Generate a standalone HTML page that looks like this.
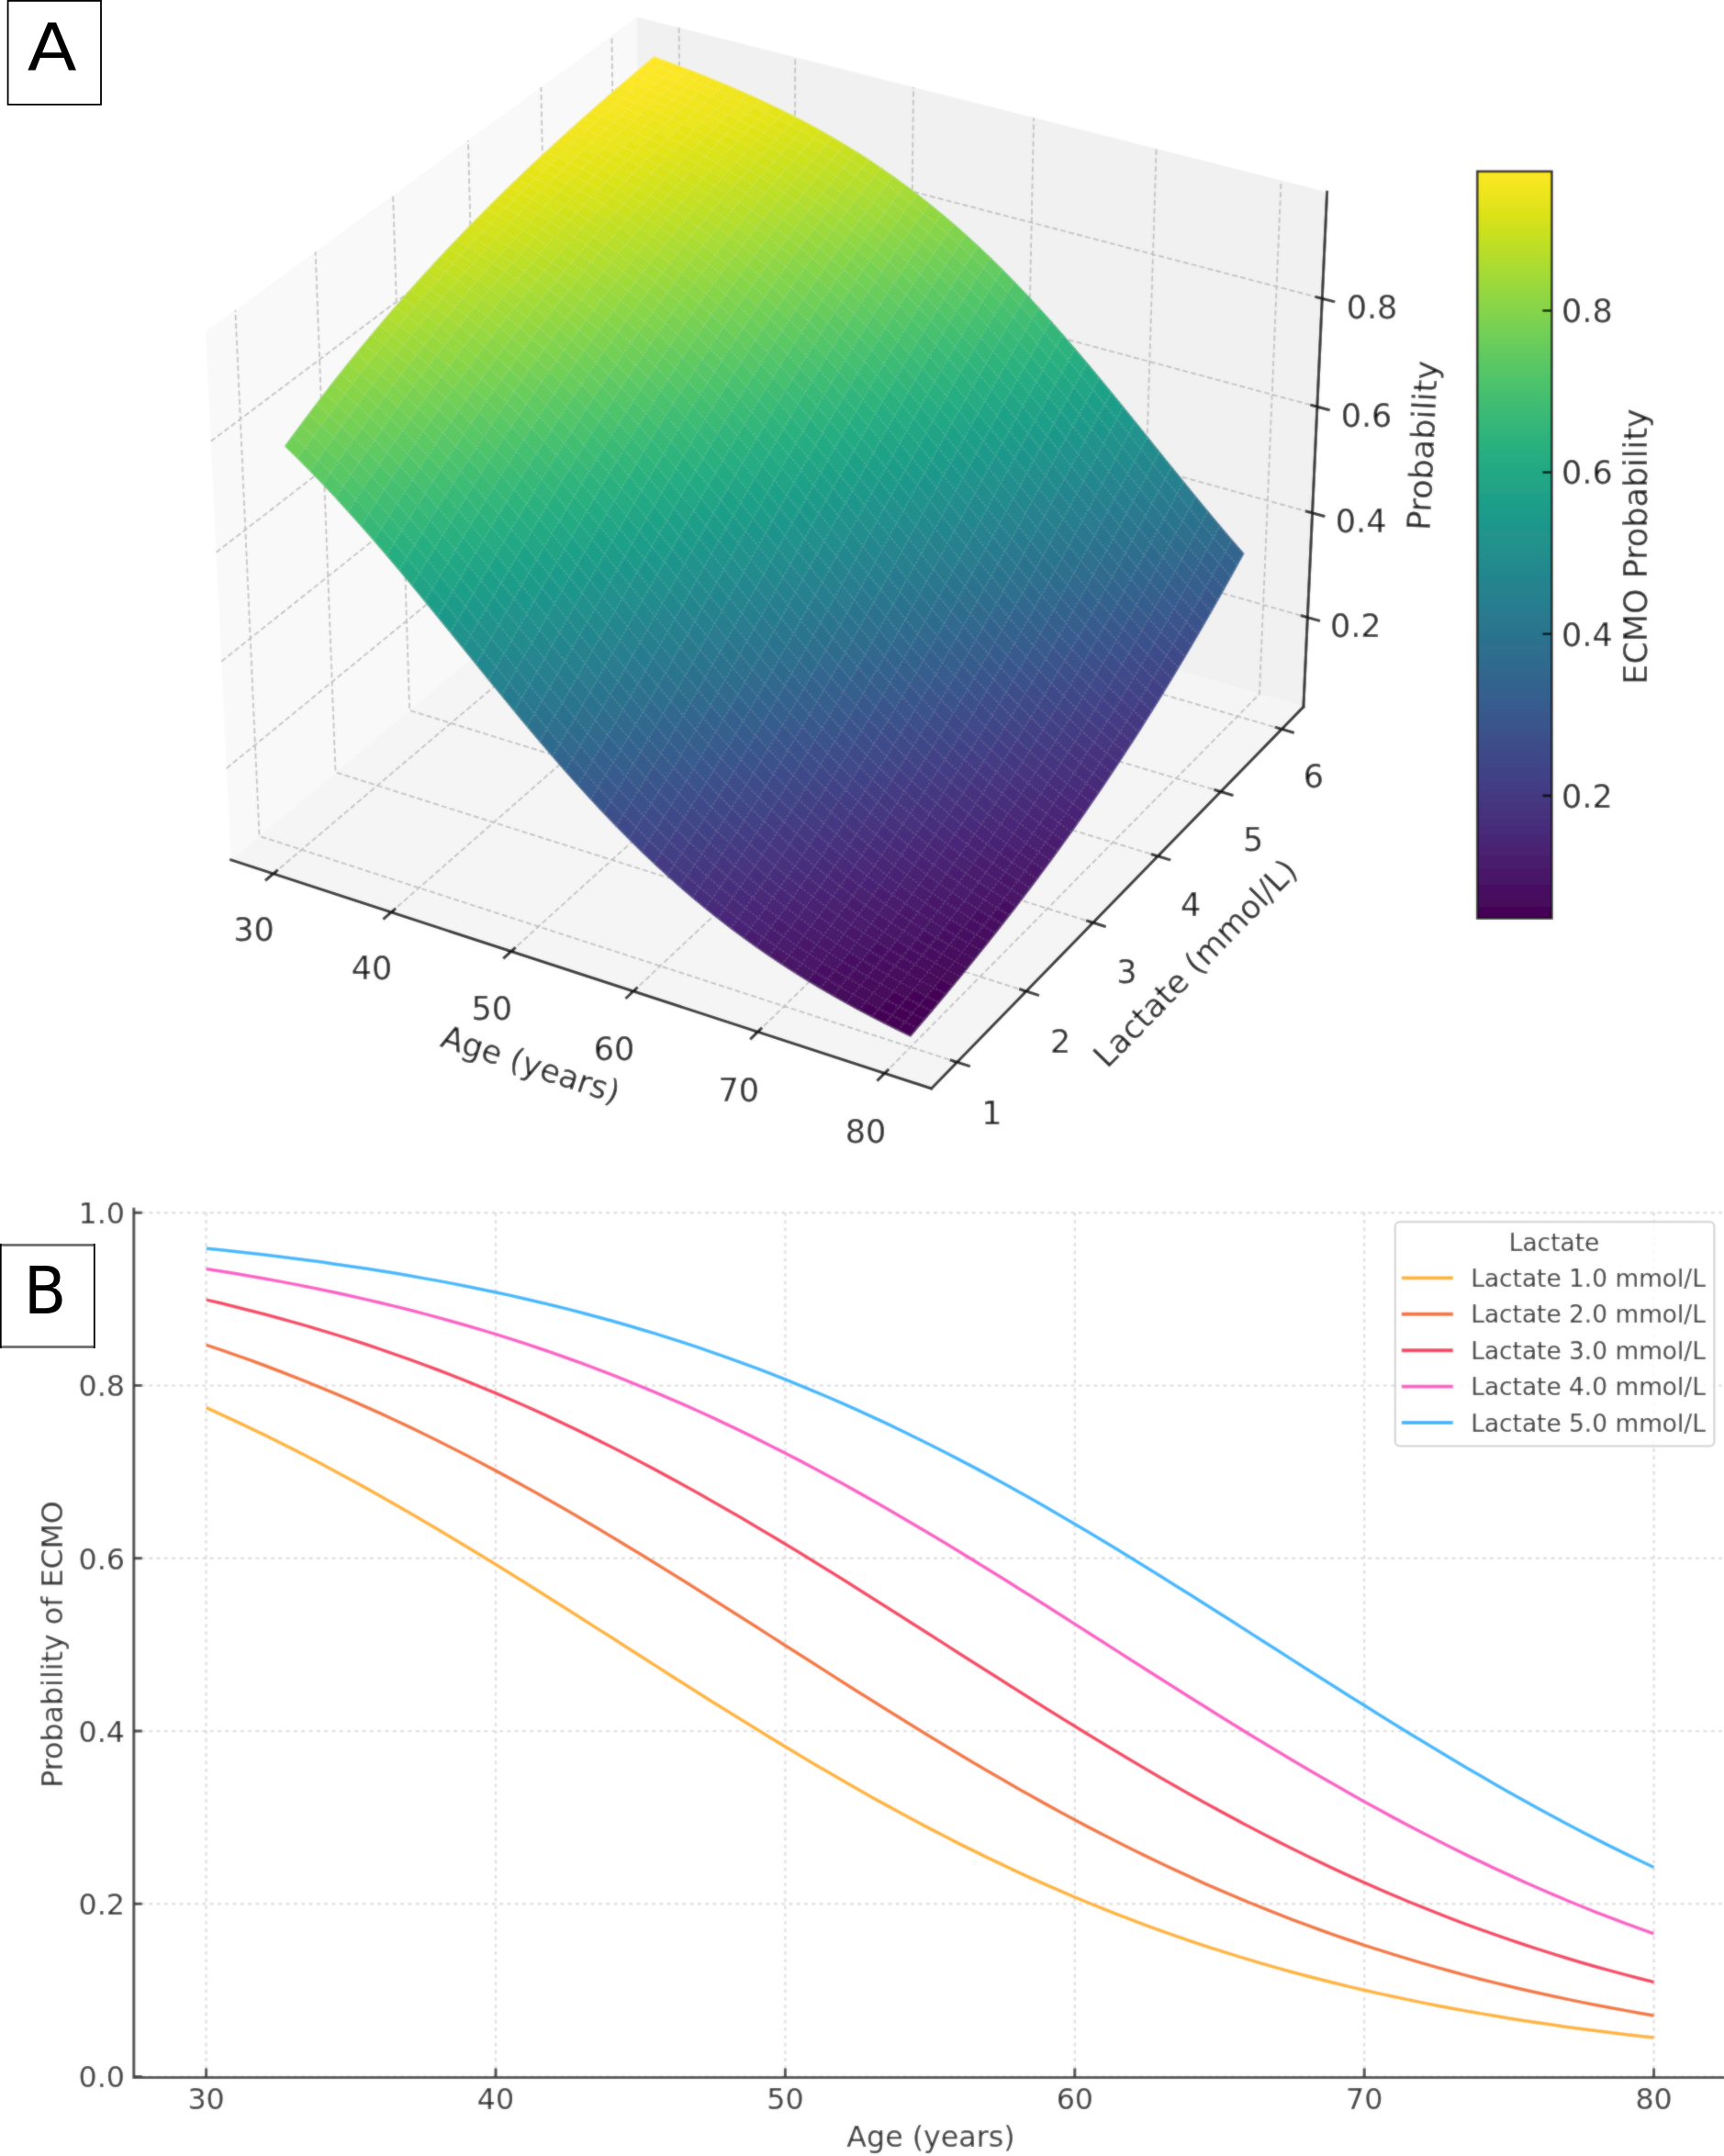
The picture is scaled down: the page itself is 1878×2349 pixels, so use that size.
<!DOCTYPE html>
<html><head><meta charset="utf-8"><title>ECMO probability figure</title>
<style>html,body{margin:0;padding:0;background:#fff}svg{display:block}text{font-family:"DejaVu Sans","Liberation Sans",sans-serif}</style>
</head><body>
<svg width="1878" height="2349" viewBox="0 0 1878 2349">
<defs><filter id="bl" filterUnits="userSpaceOnUse" x="-20" y="-20" width="1918" height="2389"><feGaussianBlur stdDeviation="1.1" result="b"/><feComposite in="SourceGraphic" in2="b" operator="arithmetic" k1="0" k2="0.5" k3="0.5" k4="0"/></filter><linearGradient id="vg" x1="0" y1="0" x2="0" y2="1"><stop offset="0.0000" stop-color="#fde725"/><stop offset="0.0312" stop-color="#ece51b"/><stop offset="0.0625" stop-color="#d8e219"/><stop offset="0.0938" stop-color="#c2df23"/><stop offset="0.1250" stop-color="#addc30"/><stop offset="0.1562" stop-color="#98d83e"/><stop offset="0.1875" stop-color="#84d44b"/><stop offset="0.2188" stop-color="#70cf57"/><stop offset="0.2500" stop-color="#5ec962"/><stop offset="0.2812" stop-color="#4ec36b"/><stop offset="0.3125" stop-color="#3fbc73"/><stop offset="0.3438" stop-color="#32b67a"/><stop offset="0.3750" stop-color="#28ae80"/><stop offset="0.4062" stop-color="#22a785"/><stop offset="0.4375" stop-color="#1fa088"/><stop offset="0.4688" stop-color="#1f988b"/><stop offset="0.5000" stop-color="#21918c"/><stop offset="0.5312" stop-color="#23898e"/><stop offset="0.5625" stop-color="#26828e"/><stop offset="0.5938" stop-color="#297a8e"/><stop offset="0.6250" stop-color="#2c728e"/><stop offset="0.6562" stop-color="#2f6b8e"/><stop offset="0.6875" stop-color="#33638d"/><stop offset="0.7188" stop-color="#375b8d"/><stop offset="0.7500" stop-color="#3b528b"/><stop offset="0.7812" stop-color="#3e4989"/><stop offset="0.8125" stop-color="#424086"/><stop offset="0.8438" stop-color="#453781"/><stop offset="0.8750" stop-color="#472d7b"/><stop offset="0.9062" stop-color="#482374"/><stop offset="0.9375" stop-color="#48186a"/><stop offset="0.9688" stop-color="#470d60"/><stop offset="1.0000" stop-color="#440154"/></linearGradient></defs>
<g filter="url(#bl)">
<rect x="-20" y="-20" width="1918" height="2389" fill="#fff"/>
<g id="panelA">
<polygon points="251.6,936.9 700.2,560.9 693.9,18.6 223.9,361.6" fill="#f9f9f9"/>
<polygon points="700.2,560.9 1419.9,770.1 1445.6,209.2 693.9,18.6" fill="#f1f1f1"/>
<polygon points="251.6,936.9 1014.6,1186 1419.9,770.1 700.2,560.9" fill="#f5f5f5"/>
<path d="M297.8 951.9L743.9 573.6L739.6 30.2M426.1 993.9L865.4 608.9L866.2 62.3M556.8 1036.5L988.8 644.8L995 95M689.9 1080L1114.4 681.3L1126.1 128.2M825.5 1124.3L1242.1 718.4L1259.6 162M963.6 1169.4L1372 756.1L1395.5 196.5M1042.6 1157.3L282.5 910.9L256.4 337.9M1117.9 1080L365.5 841.4L343.6 274.3M1190.8 1005.3L446.1 773.9L428.1 212.6M1261.4 932.8L524.2 708.3L510 152.9M1329.8 862.5L600.1 644.7L589.4 94.9M1396.2 794.4L673.8 583L666.4 38.7M246.8 837.1L699.1 466.5L1424.4 672.7M241.2 720.6L697.8 356.5L1429.6 558.9M235.5 601.8L696.5 244.5L1434.9 443.1M229.7 480.8L695.2 130.6L1440.3 325.2" fill="none" stroke="#bcbcbc" stroke-width="1.7" stroke-dasharray="6 3.2"/>
<g stroke-width="0.8" stroke-linejoin="round"><path d="M704.6 68.2L717.5 72.9L725.2 66.4L712.3 61.8z" fill="#fde725" stroke="#fde725"/><path d="M717.5 72.9L730.4 77.8L738.1 71.2L725.2 66.4z" fill="#fde725" stroke="#fde725"/><path d="M696.9 74.7L709.8 79.5L717.5 72.9L704.6 68.2z" fill="#fde725" stroke="#fde725"/><path d="M730.4 77.8L743.3 82.8L751 76.1L738.1 71.2z" fill="#fbe723" stroke="#fbe723"/><path d="M709.8 79.5L722.7 84.5L730.4 77.8L717.5 72.9z" fill="#fbe723" stroke="#fbe723"/><path d="M743.3 82.8L756.3 87.9L763.9 81.1L751 76.1z" fill="#f8e621" stroke="#f8e621"/><path d="M689.2 81.3L702.1 86.2L709.8 79.5L696.9 74.7z" fill="#fde725" stroke="#fde725"/><path d="M722.7 84.5L735.7 89.5L743.3 82.8L730.4 77.8z" fill="#fbe723" stroke="#fbe723"/><path d="M756.3 87.9L769.2 93.2L776.9 86.4L763.9 81.1z" fill="#f6e620" stroke="#f6e620"/><path d="M702.1 86.2L715 91.2L722.7 84.5L709.8 79.5z" fill="#fbe723" stroke="#fbe723"/><path d="M735.7 89.5L748.6 94.8L756.3 87.9L743.3 82.8z" fill="#f8e621" stroke="#f8e621"/><path d="M769.2 93.2L782.2 98.7L789.8 91.7L776.9 86.4z" fill="#f4e61e" stroke="#f4e61e"/><path d="M681.4 87.9L694.3 92.9L702.1 86.2L689.2 81.3z" fill="#fbe723" stroke="#fbe723"/><path d="M715 91.2L728 96.4L735.7 89.5L722.7 84.5z" fill="#f8e621" stroke="#f8e621"/><path d="M748.6 94.8L761.6 100.2L769.2 93.2L756.3 87.9z" fill="#f6e620" stroke="#f6e620"/><path d="M782.2 98.7L795.2 104.4L802.8 97.3L789.8 91.7z" fill="#f1e51d" stroke="#f1e51d"/><path d="M694.3 92.9L707.3 98L715 91.2L702.1 86.2z" fill="#fbe723" stroke="#fbe723"/><path d="M795.2 104.4L808.3 110.2L815.8 103L802.8 97.3z" fill="#efe51c" stroke="#efe51c"/><path d="M728 96.4L740.9 101.7L748.6 94.8L735.7 89.5z" fill="#f6e620" stroke="#f6e620"/><path d="M761.6 100.2L774.6 105.8L782.2 98.7L769.2 93.2z" fill="#f4e61e" stroke="#f4e61e"/><path d="M673.6 94.6L686.6 99.6L694.3 92.9L681.4 87.9z" fill="#fbe723" stroke="#fbe723"/><path d="M808.3 110.2L821.3 116.3L828.9 108.9L815.8 103z" fill="#ece51b" stroke="#ece51b"/><path d="M707.3 98L720.2 103.3L728 96.4L715 91.2z" fill="#f8e621" stroke="#f8e621"/><path d="M774.6 105.8L787.6 111.6L795.2 104.4L782.2 98.7z" fill="#f1e51d" stroke="#f1e51d"/><path d="M740.9 101.7L753.9 107.2L761.6 100.2L748.6 94.8z" fill="#f4e61e" stroke="#f4e61e"/><path d="M821.3 116.3L834.4 122.6L841.9 115.1L828.9 108.9z" fill="#eae51a" stroke="#eae51a"/><path d="M686.6 99.6L699.5 104.8L707.3 98L694.3 92.9z" fill="#f8e621" stroke="#f8e621"/><path d="M787.6 111.6L800.7 117.5L808.3 110.2L795.2 104.4z" fill="#efe51c" stroke="#efe51c"/><path d="M720.2 103.3L733.2 108.7L740.9 101.7L728 96.4z" fill="#f6e620" stroke="#f6e620"/><path d="M753.9 107.2L766.9 112.9L774.6 105.8L761.6 100.2z" fill="#f1e51d" stroke="#f1e51d"/><path d="M834.4 122.6L847.4 129.1L855 121.5L841.9 115.1z" fill="#e5e419" stroke="#e5e419"/><path d="M800.7 117.5L813.7 123.7L821.3 116.3L808.3 110.2z" fill="#eae51a" stroke="#eae51a"/><path d="M665.8 101.3L678.8 106.5L686.6 99.6L673.6 94.6z" fill="#f8e621" stroke="#f8e621"/><path d="M766.9 112.9L780 118.8L787.6 111.6L774.6 105.8z" fill="#efe51c" stroke="#efe51c"/><path d="M699.5 104.8L712.5 110.2L720.2 103.3L707.3 98z" fill="#f6e620" stroke="#f6e620"/><path d="M733.2 108.7L746.2 114.3L753.9 107.2L740.9 101.7z" fill="#f4e61e" stroke="#f4e61e"/><path d="M847.4 129.1L860.5 135.9L868.1 128.1L855 121.5z" fill="#e2e418" stroke="#e2e418"/><path d="M813.7 123.7L826.8 130.2L834.4 122.6L821.3 116.3z" fill="#e7e419" stroke="#e7e419"/><path d="M780 118.8L793 124.9L800.7 117.5L787.6 111.6z" fill="#ece51b" stroke="#ece51b"/><path d="M678.8 106.5L691.8 111.8L699.5 104.8L686.6 99.6z" fill="#f8e621" stroke="#f8e621"/><path d="M746.2 114.3L759.3 120.2L766.9 112.9L753.9 107.2z" fill="#f1e51d" stroke="#f1e51d"/><path d="M712.5 110.2L725.5 115.8L733.2 108.7L720.2 103.3z" fill="#f4e61e" stroke="#f4e61e"/><path d="M860.5 135.9L873.6 143L881.2 135L868.1 128.1z" fill="#dde318" stroke="#dde318"/><path d="M826.8 130.2L839.9 136.9L847.4 129.1L834.4 122.6z" fill="#e5e419" stroke="#e5e419"/><path d="M793 124.9L806.1 131.3L813.7 123.7L800.7 117.5z" fill="#eae51a" stroke="#eae51a"/><path d="M759.3 120.2L772.3 126.2L780 118.8L766.9 112.9z" fill="#efe51c" stroke="#efe51c"/><path d="M658 108.1L671 113.4L678.8 106.5L665.8 101.3z" fill="#f8e621" stroke="#f8e621"/><path d="M725.5 115.8L738.5 121.5L746.2 114.3L733.2 108.7z" fill="#f1e51d" stroke="#f1e51d"/><path d="M691.8 111.8L704.7 117.3L712.5 110.2L699.5 104.8z" fill="#f6e620" stroke="#f6e620"/><path d="M873.6 143L886.8 150.4L894.3 142.2L881.2 135z" fill="#dae319" stroke="#dae319"/><path d="M839.9 136.9L853 143.8L860.5 135.9L847.4 129.1z" fill="#dfe318" stroke="#dfe318"/><path d="M806.1 131.3L819.2 137.9L826.8 130.2L813.7 123.7z" fill="#e5e419" stroke="#e5e419"/><path d="M772.3 126.2L785.4 132.4L793 124.9L780 118.8z" fill="#eae51a" stroke="#eae51a"/><path d="M738.5 121.5L751.6 127.5L759.3 120.2L746.2 114.3z" fill="#efe51c" stroke="#efe51c"/><path d="M671 113.4L684 118.8L691.8 111.8L678.8 106.5z" fill="#f6e620" stroke="#f6e620"/><path d="M704.7 117.3L717.8 122.9L725.5 115.8L712.5 110.2z" fill="#f4e61e" stroke="#f4e61e"/><path d="M886.8 150.4L899.9 158L907.4 149.7L894.3 142.2z" fill="#d5e21a" stroke="#d5e21a"/><path d="M853 143.8L866.1 151.1L873.6 143L860.5 135.9z" fill="#dae319" stroke="#dae319"/><path d="M819.2 137.9L832.3 144.7L839.9 136.9L826.8 130.2z" fill="#e2e418" stroke="#e2e418"/><path d="M785.4 132.4L798.5 138.9L806.1 131.3L793 124.9z" fill="#e7e419" stroke="#e7e419"/><path d="M751.6 127.5L764.6 133.6L772.3 126.2L759.3 120.2z" fill="#ece51b" stroke="#ece51b"/><path d="M899.9 158L913.1 166L920.5 157.5L907.4 149.7z" fill="#d0e11c" stroke="#d0e11c"/><path d="M650.1 115L663.1 120.3L671 113.4L658 108.1z" fill="#f6e620" stroke="#f6e620"/><path d="M717.8 122.9L730.8 128.8L738.5 121.5L725.5 115.8z" fill="#f1e51d" stroke="#f1e51d"/><path d="M684 118.8L697 124.4L704.7 117.3L691.8 111.8z" fill="#f4e61e" stroke="#f4e61e"/><path d="M866.1 151.1L879.2 158.6L886.8 150.4L873.6 143z" fill="#d5e21a" stroke="#d5e21a"/><path d="M832.3 144.7L845.4 151.8L853 143.8L839.9 136.9z" fill="#dde318" stroke="#dde318"/><path d="M913.1 166L926.2 174.3L933.7 165.6L920.5 157.5z" fill="#c8e020" stroke="#c8e020"/><path d="M798.5 138.9L811.6 145.6L819.2 137.9L806.1 131.3z" fill="#e2e418" stroke="#e2e418"/><path d="M764.6 133.6L777.7 140L785.4 132.4L772.3 126.2z" fill="#eae51a" stroke="#eae51a"/><path d="M730.8 128.8L743.8 134.9L751.6 127.5L738.5 121.5z" fill="#ece51b" stroke="#ece51b"/><path d="M697 124.4L710 130.1L717.8 122.9L704.7 117.3z" fill="#f1e51d" stroke="#f1e51d"/><path d="M663.1 120.3L676.1 125.9L684 118.8L671 113.4z" fill="#f6e620" stroke="#f6e620"/><path d="M879.2 158.6L892.4 166.4L899.9 158L886.8 150.4z" fill="#d2e21b" stroke="#d2e21b"/><path d="M845.4 151.8L858.5 159.2L866.1 151.1L853 143.8z" fill="#d8e219" stroke="#d8e219"/><path d="M926.2 174.3L939.4 183L946.9 174.1L933.7 165.6z" fill="#c2df23" stroke="#c2df23"/><path d="M811.6 145.6L824.7 152.7L832.3 144.7L819.2 137.9z" fill="#dfe318" stroke="#dfe318"/><path d="M777.7 140L790.8 146.6L798.5 138.9L785.4 132.4z" fill="#e5e419" stroke="#e5e419"/><path d="M892.4 166.4L905.6 174.6L913.1 166L899.9 158z" fill="#cae11f" stroke="#cae11f"/><path d="M743.8 134.9L756.9 141.1L764.6 133.6L751.6 127.5z" fill="#eae51a" stroke="#eae51a"/><path d="M710 130.1L723 136.1L730.8 128.8L717.8 122.9z" fill="#efe51c" stroke="#efe51c"/><path d="M642.3 121.9L655.3 127.4L663.1 120.3L650.1 115z" fill="#f6e620" stroke="#f6e620"/><path d="M676.1 125.9L689.2 131.6L697 124.4L684 118.8z" fill="#f4e61e" stroke="#f4e61e"/><path d="M939.4 183L952.6 192L960 182.9L946.9 174.1z" fill="#bddf26" stroke="#bddf26"/><path d="M858.5 159.2L871.7 167L879.2 158.6L866.1 151.1z" fill="#d2e21b" stroke="#d2e21b"/><path d="M824.7 152.7L837.8 159.9L845.4 151.8L832.3 144.7z" fill="#dae319" stroke="#dae319"/><path d="M905.6 174.6L918.7 183.1L926.2 174.3L913.1 166z" fill="#c5e021" stroke="#c5e021"/><path d="M790.8 146.6L803.9 153.5L811.6 145.6L798.5 138.9z" fill="#e2e418" stroke="#e2e418"/><path d="M952.6 192L965.8 201.4L973.2 192.1L960 182.9z" fill="#b5de2b" stroke="#b5de2b"/><path d="M756.9 141.1L770 147.7L777.7 140L764.6 133.6z" fill="#e7e419" stroke="#e7e419"/><path d="M723 136.1L736.1 142.3L743.8 134.9L730.8 128.8z" fill="#ece51b" stroke="#ece51b"/><path d="M871.7 167L884.9 175L892.4 166.4L879.2 158.6z" fill="#cde11d" stroke="#cde11d"/><path d="M689.2 131.6L702.2 137.5L710 130.1L697 124.4z" fill="#efe51c" stroke="#efe51c"/><path d="M655.3 127.4L668.3 133L676.1 125.9L663.1 120.3z" fill="#f4e61e" stroke="#f4e61e"/><path d="M918.7 183.1L931.9 192L939.4 183L926.2 174.3z" fill="#c0df25" stroke="#c0df25"/><path d="M837.8 159.9L851 167.5L858.5 159.2L845.4 151.8z" fill="#d5e21a" stroke="#d5e21a"/><path d="M965.8 201.4L979 211.3L986.4 201.7L973.2 192.1z" fill="#addc30" stroke="#addc30"/><path d="M803.9 153.5L817.1 160.7L824.7 152.7L811.6 145.6z" fill="#dde318" stroke="#dde318"/><path d="M884.9 175L898 183.4L905.6 174.6L892.4 166.4z" fill="#c8e020" stroke="#c8e020"/><path d="M770 147.7L783.1 154.5L790.8 146.6L777.7 140z" fill="#e2e418" stroke="#e2e418"/><path d="M736.1 142.3L749.2 148.8L756.9 141.1L743.8 134.9z" fill="#e7e419" stroke="#e7e419"/><path d="M979 211.3L992.2 221.5L999.6 211.7L986.4 201.7z" fill="#a5db36" stroke="#a5db36"/><path d="M931.9 192L945.1 201.3L952.6 192L939.4 183z" fill="#b8de29" stroke="#b8de29"/><path d="M702.2 137.5L715.3 143.6L723 136.1L710 130.1z" fill="#ece51b" stroke="#ece51b"/><path d="M668.3 133L681.3 138.8L689.2 131.6L676.1 125.9z" fill="#f1e51d" stroke="#f1e51d"/><path d="M634.4 128.9L647.4 134.5L655.3 127.4L642.3 121.9z" fill="#f4e61e" stroke="#f4e61e"/><path d="M851 167.5L864.1 175.4L871.7 167L858.5 159.2z" fill="#d0e11c" stroke="#d0e11c"/><path d="M817.1 160.7L830.2 168.2L837.8 159.9L824.7 152.7z" fill="#d8e219" stroke="#d8e219"/><path d="M992.2 221.5L1005.4 232.1L1012.8 222.1L999.6 211.7z" fill="#9dd93b" stroke="#9dd93b"/><path d="M898 183.4L911.2 192.1L918.7 183.1L905.6 174.6z" fill="#c2df23" stroke="#c2df23"/><path d="M945.1 201.3L958.3 210.9L965.8 201.4L952.6 192z" fill="#b0dd2f" stroke="#b0dd2f"/><path d="M783.1 154.5L796.3 161.5L803.9 153.5L790.8 146.6z" fill="#dfe318" stroke="#dfe318"/><path d="M749.2 148.8L762.3 155.5L770 147.7L756.9 141.1z" fill="#e5e419" stroke="#e5e419"/><path d="M864.1 175.4L877.3 183.7L884.9 175L871.7 167z" fill="#cae11f" stroke="#cae11f"/><path d="M1005.4 232.1L1018.6 243.2L1026 232.9L1012.8 222.1z" fill="#93d741" stroke="#93d741"/><path d="M715.3 143.6L728.3 149.9L736.1 142.3L723 136.1z" fill="#eae51a" stroke="#eae51a"/><path d="M681.3 138.8L694.4 144.8L702.2 137.5L689.2 131.6z" fill="#efe51c" stroke="#efe51c"/><path d="M647.4 134.5L660.4 140.2L668.3 133L655.3 127.4z" fill="#f1e51d" stroke="#f1e51d"/><path d="M911.2 192.1L924.4 201.2L931.9 192L918.7 183.1z" fill="#bade28" stroke="#bade28"/><path d="M958.3 210.9L971.6 221L979 211.3L965.8 201.4z" fill="#a8db34" stroke="#a8db34"/><path d="M830.2 168.2L843.4 175.9L851 167.5L837.8 159.9z" fill="#d2e21b" stroke="#d2e21b"/><path d="M1018.6 243.2L1031.9 254.7L1039.2 244.1L1026 232.9z" fill="#8bd646" stroke="#8bd646"/><path d="M796.3 161.5L809.4 168.9L817.1 160.7L803.9 153.5z" fill="#dae319" stroke="#dae319"/><path d="M877.3 183.7L890.5 192.3L898 183.4L884.9 175z" fill="#c5e021" stroke="#c5e021"/><path d="M971.6 221L984.8 231.5L992.2 221.5L979 211.3z" fill="#a0da39" stroke="#a0da39"/><path d="M762.3 155.5L775.4 162.4L783.1 154.5L770 147.7z" fill="#dfe318" stroke="#dfe318"/><path d="M1031.9 254.7L1045.1 266.7L1052.4 255.8L1039.2 244.1z" fill="#81d34d" stroke="#81d34d"/><path d="M924.4 201.2L937.7 210.7L945.1 201.3L931.9 192z" fill="#b5de2b" stroke="#b5de2b"/><path d="M728.3 149.9L741.4 156.5L749.2 148.8L736.1 142.3z" fill="#e7e419" stroke="#e7e419"/><path d="M694.4 144.8L707.5 151.1L715.3 143.6L702.2 137.5z" fill="#ece51b" stroke="#ece51b"/><path d="M843.4 175.9L856.5 184L864.1 175.4L851 167.5z" fill="#cde11d" stroke="#cde11d"/><path d="M660.4 140.2L673.5 146.2L681.3 138.8L668.3 133z" fill="#efe51c" stroke="#efe51c"/><path d="M1335 600.9L1348.1 615.9L1355.2 603.1L1342.1 587.9z" fill="#32658e" stroke="#32658e"/><path d="M1045.1 266.7L1058.3 279.1L1065.7 268L1052.4 255.8z" fill="#77d153" stroke="#77d153"/><path d="M1321.8 585.5L1335 600.9L1342.1 587.9L1328.9 572.4z" fill="#306a8e" stroke="#306a8e"/><path d="M626.5 136L639.5 141.7L647.4 134.5L634.4 128.9z" fill="#f4e61e" stroke="#f4e61e"/><path d="M1308.6 569.9L1321.8 585.5L1328.9 572.4L1315.8 556.7z" fill="#2d708e" stroke="#2d708e"/><path d="M1295.5 554.1L1308.6 569.9L1315.8 556.7L1302.6 540.7z" fill="#2b758e" stroke="#2b758e"/><path d="M984.8 231.5L998 242.4L1005.4 232.1L992.2 221.5z" fill="#98d83e" stroke="#98d83e"/><path d="M1282.3 538.1L1295.5 554.1L1302.6 540.7L1289.5 524.6z" fill="#297b8e" stroke="#297b8e"/><path d="M890.5 192.3L903.7 201.2L911.2 192.1L898 183.4z" fill="#bddf26" stroke="#bddf26"/><path d="M809.4 168.9L822.6 176.5L830.2 168.2L817.1 160.7z" fill="#d5e21a" stroke="#d5e21a"/><path d="M1269.2 521.9L1282.3 538.1L1289.5 524.6L1276.4 508.4z" fill="#26818e" stroke="#26818e"/><path d="M937.7 210.7L950.9 220.6L958.3 210.9L945.1 201.3z" fill="#addc30" stroke="#addc30"/><path d="M1058.3 279.1L1071.5 291.9L1078.9 280.5L1065.7 268z" fill="#6ece58" stroke="#6ece58"/><path d="M1256 505.6L1269.2 521.9L1276.4 508.4L1263.2 492.1z" fill="#24868e" stroke="#24868e"/><path d="M775.4 162.4L788.6 169.6L796.3 161.5L783.1 154.5z" fill="#dde318" stroke="#dde318"/><path d="M1242.9 489.3L1256 505.6L1263.2 492.1L1250.1 475.8z" fill="#228c8d" stroke="#228c8d"/><path d="M1071.5 291.9L1084.7 305.1L1092.1 293.5L1078.9 280.5z" fill="#63cb5f" stroke="#63cb5f"/><path d="M998 242.4L1011.2 253.7L1018.6 243.2L1005.4 232.1z" fill="#8ed645" stroke="#8ed645"/><path d="M1229.7 472.9L1242.9 489.3L1250.1 475.8L1237 459.5z" fill="#20928c" stroke="#20928c"/><path d="M856.5 184L869.7 192.5L877.3 183.7L864.1 175.4z" fill="#c8e020" stroke="#c8e020"/><path d="M741.4 156.5L754.6 163.3L762.3 155.5L749.2 148.8z" fill="#e2e418" stroke="#e2e418"/><path d="M1084.7 305.1L1098 318.8L1105.3 306.9L1092.1 293.5z" fill="#5ac864" stroke="#5ac864"/><path d="M1216.6 456.6L1229.7 472.9L1237 459.5L1223.8 443.2z" fill="#1f978b" stroke="#1f978b"/><path d="M950.9 220.6L964.1 230.9L971.6 221L958.3 210.9z" fill="#a5db36" stroke="#a5db36"/><path d="M707.5 151.1L720.6 157.6L728.3 149.9L715.3 143.6z" fill="#e7e419" stroke="#e7e419"/><path d="M1203.4 440.4L1216.6 456.6L1223.8 443.2L1210.7 427.1z" fill="#1e9d89" stroke="#1e9d89"/><path d="M903.7 201.2L916.9 210.5L924.4 201.2L911.2 192.1z" fill="#b8de29" stroke="#b8de29"/><path d="M1098 318.8L1111.2 332.9L1118.5 320.8L1105.3 306.9z" fill="#50c46a" stroke="#50c46a"/><path d="M1011.2 253.7L1024.5 265.5L1031.9 254.7L1018.6 243.2z" fill="#86d549" stroke="#86d549"/><path d="M673.5 146.2L686.5 152.3L694.4 144.8L681.3 138.8z" fill="#ece51b" stroke="#ece51b"/><path d="M1190.3 424.3L1203.4 440.4L1210.7 427.1L1197.5 411.1z" fill="#1fa287" stroke="#1fa287"/><path d="M1111.2 332.9L1124.4 347.3L1131.7 335L1118.5 320.8z" fill="#46c06f" stroke="#46c06f"/><path d="M639.5 141.7L652.5 147.5L660.4 140.2L647.4 134.5z" fill="#f1e51d" stroke="#f1e51d"/><path d="M1177.1 408.4L1190.3 424.3L1197.5 411.1L1184.4 395.3z" fill="#22a785" stroke="#22a785"/><path d="M822.6 176.5L835.7 184.5L843.4 175.9L830.2 168.2z" fill="#d0e11c" stroke="#d0e11c"/><path d="M1124.4 347.3L1137.6 362.1L1144.9 349.6L1131.7 335z" fill="#3dbc74" stroke="#3dbc74"/><path d="M1163.9 392.7L1177.1 408.4L1184.4 395.3L1171.2 379.8z" fill="#26ad81" stroke="#26ad81"/><path d="M1137.6 362.1L1150.7 377.2L1158 364.5L1144.9 349.6z" fill="#34b679" stroke="#34b679"/><path d="M1150.7 377.2L1163.9 392.7L1171.2 379.8L1158 364.5z" fill="#2db27d" stroke="#2db27d"/><path d="M1024.5 265.5L1037.7 277.7L1045.1 266.7L1031.9 254.7z" fill="#7cd250" stroke="#7cd250"/><path d="M788.6 169.6L801.7 177.1L809.4 168.9L796.3 161.5z" fill="#d8e219" stroke="#d8e219"/><path d="M964.1 230.9L977.3 241.6L984.8 231.5L971.6 221z" fill="#9bd93c" stroke="#9bd93c"/><path d="M869.7 192.5L882.9 201.3L890.5 192.3L877.3 183.7z" fill="#c2df23" stroke="#c2df23"/><path d="M1314.7 598.6L1327.9 613.8L1335 600.9L1321.8 585.5z" fill="#31678e" stroke="#31678e"/><path d="M1327.9 613.8L1341.1 628.7L1348.1 615.9L1335 600.9z" fill="#33628d" stroke="#33628d"/><path d="M1301.5 583.1L1314.7 598.6L1321.8 585.5L1308.6 569.9z" fill="#2e6d8e" stroke="#2e6d8e"/><path d="M916.9 210.5L930.2 220.3L937.7 210.7L924.4 201.2z" fill="#b0dd2f" stroke="#b0dd2f"/><path d="M1288.3 567.4L1301.5 583.1L1308.6 569.9L1295.5 554.1z" fill="#2c718e" stroke="#2c718e"/><path d="M1275.2 551.5L1288.3 567.4L1295.5 554.1L1282.3 538.1z" fill="#2a778e" stroke="#2a778e"/><path d="M754.6 163.3L767.7 170.4L775.4 162.4L762.3 155.5z" fill="#dde318" stroke="#dde318"/><path d="M1037.7 277.7L1050.9 290.3L1058.3 279.1L1045.1 266.7z" fill="#73d056" stroke="#73d056"/><path d="M1262 535.4L1275.2 551.5L1282.3 538.1L1269.2 521.9z" fill="#287d8e" stroke="#287d8e"/><path d="M720.6 157.6L733.7 164.3L741.4 156.5L728.3 149.9z" fill="#e5e419" stroke="#e5e419"/><path d="M1248.8 519.1L1262 535.4L1269.2 521.9L1256 505.6z" fill="#26828e" stroke="#26828e"/><path d="M835.7 184.5L848.9 192.8L856.5 184L843.4 175.9z" fill="#cae11f" stroke="#cae11f"/><path d="M977.3 241.6L990.6 252.8L998 242.4L984.8 231.5z" fill="#93d741" stroke="#93d741"/><path d="M1050.9 290.3L1064.2 303.4L1071.5 291.9L1058.3 279.1z" fill="#67cc5c" stroke="#67cc5c"/><path d="M1235.7 502.8L1248.8 519.1L1256 505.6L1242.9 489.3z" fill="#23888e" stroke="#23888e"/><path d="M686.5 152.3L699.6 158.7L707.5 151.1L694.4 144.8z" fill="#eae51a" stroke="#eae51a"/><path d="M652.5 147.5L665.6 153.6L673.5 146.2L660.4 140.2z" fill="#efe51c" stroke="#efe51c"/><path d="M1222.5 486.4L1235.7 502.8L1242.9 489.3L1229.7 472.9z" fill="#218e8d" stroke="#218e8d"/><path d="M618.5 143.2L631.6 148.9L639.5 141.7L626.5 136z" fill="#f1e51d" stroke="#f1e51d"/><path d="M882.9 201.3L896.2 210.5L903.7 201.2L890.5 192.3z" fill="#bade28" stroke="#bade28"/><path d="M930.2 220.3L943.4 230.4L950.9 220.6L937.7 210.7z" fill="#a8db34" stroke="#a8db34"/><path d="M1064.2 303.4L1077.4 316.9L1084.7 305.1L1071.5 291.9z" fill="#5ec962" stroke="#5ec962"/><path d="M1209.3 470L1222.5 486.4L1229.7 472.9L1216.6 456.6z" fill="#20938c" stroke="#20938c"/><path d="M801.7 177.1L814.9 185L822.6 176.5L809.4 168.9z" fill="#d2e21b" stroke="#d2e21b"/><path d="M990.6 252.8L1003.8 264.4L1011.2 253.7L998 242.4z" fill="#89d548" stroke="#89d548"/><path d="M1196.2 453.7L1209.3 470L1216.6 456.6L1203.4 440.4z" fill="#1f998a" stroke="#1f998a"/><path d="M1077.4 316.9L1090.6 330.8L1098 318.8L1084.7 305.1z" fill="#54c568" stroke="#54c568"/><path d="M1183 437.6L1196.2 453.7L1203.4 440.4L1190.3 424.3z" fill="#1f9f88" stroke="#1f9f88"/><path d="M1090.6 330.8L1103.8 345.1L1111.2 332.9L1098 318.8z" fill="#4ac16d" stroke="#4ac16d"/><path d="M767.7 170.4L780.9 177.8L788.6 169.6L775.4 162.4z" fill="#dae319" stroke="#dae319"/><path d="M1169.8 421.5L1183 437.6L1190.3 424.3L1177.1 408.4z" fill="#20a486" stroke="#20a486"/><path d="M1103.8 345.1L1117 359.8L1124.4 347.3L1111.2 332.9z" fill="#40bd72" stroke="#40bd72"/><path d="M1156.6 405.7L1169.8 421.5L1177.1 408.4L1163.9 392.7z" fill="#24aa83" stroke="#24aa83"/><path d="M848.9 192.8L862.1 201.4L869.7 192.5L856.5 184z" fill="#c5e021" stroke="#c5e021"/><path d="M1117 359.8L1130.2 374.8L1137.6 362.1L1124.4 347.3z" fill="#38b977" stroke="#38b977"/><path d="M1143.4 390.1L1156.6 405.7L1163.9 392.7L1150.7 377.2z" fill="#29af7f" stroke="#29af7f"/><path d="M1130.2 374.8L1143.4 390.1L1150.7 377.2L1137.6 362.1z" fill="#2fb47c" stroke="#2fb47c"/><path d="M943.4 230.4L956.6 241L964.1 230.9L950.9 220.6z" fill="#a0da39" stroke="#a0da39"/><path d="M1003.8 264.4L1017.1 276.4L1024.5 265.5L1011.2 253.7z" fill="#81d34d" stroke="#81d34d"/><path d="M733.7 164.3L746.8 171.3L754.6 163.3L741.4 156.5z" fill="#dfe318" stroke="#dfe318"/><path d="M896.2 210.5L909.4 220L916.9 210.5L903.7 201.2z" fill="#b2dd2d" stroke="#b2dd2d"/><path d="M699.6 158.7L712.8 165.3L720.6 157.6L707.5 151.1z" fill="#e5e419" stroke="#e5e419"/><path d="M1307.5 611.7L1320.8 626.7L1327.9 613.8L1314.7 598.6z" fill="#32648e" stroke="#32648e"/><path d="M1294.3 596.3L1307.5 611.7L1314.7 598.6L1301.5 583.1z" fill="#306a8e" stroke="#306a8e"/><path d="M814.9 185L828.1 193.1L835.7 184.5L822.6 176.5z" fill="#cde11d" stroke="#cde11d"/><path d="M1320.8 626.7L1334 641.4L1341.1 628.7L1327.9 613.8z" fill="#355f8d" stroke="#355f8d"/><path d="M1281.2 580.7L1294.3 596.3L1301.5 583.1L1288.3 567.4z" fill="#2e6f8e" stroke="#2e6f8e"/><path d="M1017.1 276.4L1030.3 288.9L1037.7 277.7L1024.5 265.5z" fill="#75d054" stroke="#75d054"/><path d="M665.6 153.6L678.7 159.9L686.5 152.3L673.5 146.2z" fill="#eae51a" stroke="#eae51a"/><path d="M1268 564.9L1281.2 580.7L1288.3 567.4L1275.2 551.5z" fill="#2b748e" stroke="#2b748e"/><path d="M631.6 148.9L644.6 154.9L652.5 147.5L639.5 141.7z" fill="#efe51c" stroke="#efe51c"/><path d="M956.6 241L969.9 251.9L977.3 241.6L964.1 230.9z" fill="#98d83e" stroke="#98d83e"/><path d="M1254.8 548.8L1268 564.9L1275.2 551.5L1262 535.4z" fill="#297a8e" stroke="#297a8e"/><path d="M1241.6 532.6L1254.8 548.8L1262 535.4L1248.8 519.1z" fill="#27808e" stroke="#27808e"/><path d="M862.1 201.4L875.4 210.4L882.9 201.3L869.7 192.5z" fill="#bddf26" stroke="#bddf26"/><path d="M1030.3 288.9L1043.5 301.8L1050.9 290.3L1037.7 277.7z" fill="#6ccd5a" stroke="#6ccd5a"/><path d="M780.9 177.8L794 185.5L801.7 177.1L788.6 169.6z" fill="#d5e21a" stroke="#d5e21a"/><path d="M909.4 220L922.6 230L930.2 220.3L916.9 210.5z" fill="#aadc32" stroke="#aadc32"/><path d="M1228.4 516.3L1241.6 532.6L1248.8 519.1L1235.7 502.8z" fill="#25858e" stroke="#25858e"/><path d="M1215.3 499.9L1228.4 516.3L1235.7 502.8L1222.5 486.4z" fill="#228b8d" stroke="#228b8d"/><path d="M1043.5 301.8L1056.8 315.1L1064.2 303.4L1050.9 290.3z" fill="#63cb5f" stroke="#63cb5f"/><path d="M969.9 251.9L983.1 263.3L990.6 252.8L977.3 241.6z" fill="#8ed645" stroke="#8ed645"/><path d="M746.8 171.3L760 178.6L767.7 170.4L754.6 163.3z" fill="#dae319" stroke="#dae319"/><path d="M1202.1 483.5L1215.3 499.9L1222.5 486.4L1209.3 470z" fill="#21918c" stroke="#21918c"/><path d="M1188.9 467.2L1202.1 483.5L1209.3 470L1196.2 453.7z" fill="#1f968b" stroke="#1f968b"/><path d="M828.1 193.1L841.3 201.6L848.9 192.8L835.7 184.5z" fill="#c8e020" stroke="#c8e020"/><path d="M1056.8 315.1L1070 328.8L1077.4 316.9L1064.2 303.4z" fill="#58c765" stroke="#58c765"/><path d="M712.8 165.3L725.9 172.2L733.7 164.3L720.6 157.6z" fill="#e2e418" stroke="#e2e418"/><path d="M1175.7 450.9L1188.9 467.2L1196.2 453.7L1183 437.6z" fill="#1e9c89" stroke="#1e9c89"/><path d="M922.6 230L935.9 240.4L943.4 230.4L930.2 220.3z" fill="#a2da37" stroke="#a2da37"/><path d="M1070 328.8L1083.3 343L1090.6 330.8L1077.4 316.9z" fill="#4ec36b" stroke="#4ec36b"/><path d="M875.4 210.4L888.6 219.8L896.2 210.5L882.9 201.3z" fill="#b8de29" stroke="#b8de29"/><path d="M1162.5 434.8L1175.7 450.9L1183 437.6L1169.8 421.5z" fill="#1fa187" stroke="#1fa187"/><path d="M678.7 159.9L691.8 166.4L699.6 158.7L686.5 152.3z" fill="#e7e419" stroke="#e7e419"/><path d="M983.1 263.3L996.4 275.2L1003.8 264.4L990.6 252.8z" fill="#84d44b" stroke="#84d44b"/><path d="M1083.3 343L1096.5 357.5L1103.8 345.1L1090.6 330.8z" fill="#44bf70" stroke="#44bf70"/><path d="M1149.3 418.8L1162.5 434.8L1169.8 421.5L1156.6 405.7z" fill="#22a785" stroke="#22a785"/><path d="M644.6 154.9L657.7 161.1L665.6 153.6L652.5 147.5z" fill="#ece51b" stroke="#ece51b"/><path d="M1096.5 357.5L1109.7 372.4L1117 359.8L1103.8 345.1z" fill="#3bbb75" stroke="#3bbb75"/><path d="M1136.1 403.1L1149.3 418.8L1156.6 405.7L1143.4 390.1z" fill="#26ad81" stroke="#26ad81"/><path d="M1122.9 387.6L1136.1 403.1L1143.4 390.1L1130.2 374.8z" fill="#2cb17e" stroke="#2cb17e"/><path d="M1109.7 372.4L1122.9 387.6L1130.2 374.8L1117 359.8z" fill="#34b679" stroke="#34b679"/><path d="M610.6 150.4L623.6 156.3L631.6 148.9L618.5 143.2z" fill="#f1e51d" stroke="#f1e51d"/><path d="M794 185.5L807.2 193.6L814.9 185L801.7 177.1z" fill="#d0e11c" stroke="#d0e11c"/><path d="M996.4 275.2L1009.6 287.5L1017.1 276.4L1003.8 264.4z" fill="#7ad151" stroke="#7ad151"/><path d="M935.9 240.4L949.1 251.2L956.6 241L943.4 230.4z" fill="#9bd93c" stroke="#9bd93c"/><path d="M760 178.6L773.1 186.2L780.9 177.8L767.7 170.4z" fill="#d8e219" stroke="#d8e219"/><path d="M1287.2 609.4L1300.4 624.6L1307.5 611.7L1294.3 596.3z" fill="#31668e" stroke="#31668e"/><path d="M841.3 201.6L854.5 210.5L862.1 201.4L848.9 192.8z" fill="#c0df25" stroke="#c0df25"/><path d="M1300.4 624.6L1313.6 639.5L1320.8 626.7L1307.5 611.7z" fill="#34618d" stroke="#34618d"/><path d="M1274 593.9L1287.2 609.4L1294.3 596.3L1281.2 580.7z" fill="#2f6c8e" stroke="#2f6c8e"/><path d="M1260.8 578.2L1274 593.9L1281.2 580.7L1268 564.9z" fill="#2c718e" stroke="#2c718e"/><path d="M1313.6 639.5L1326.9 654L1334 641.4L1320.8 626.7z" fill="#365c8d" stroke="#365c8d"/><path d="M888.6 219.8L901.8 229.6L909.4 220L896.2 210.5z" fill="#b0dd2f" stroke="#b0dd2f"/><path d="M1247.6 562.2L1260.8 578.2L1268 564.9L1254.8 548.8z" fill="#2a778e" stroke="#2a778e"/><path d="M1009.6 287.5L1022.9 300.2L1030.3 288.9L1017.1 276.4z" fill="#70cf57" stroke="#70cf57"/><path d="M1234.4 546.1L1247.6 562.2L1254.8 548.8L1241.6 532.6z" fill="#287c8e" stroke="#287c8e"/><path d="M725.9 172.2L739 179.4L746.8 171.3L733.7 164.3z" fill="#dde318" stroke="#dde318"/><path d="M1221.2 529.8L1234.4 546.1L1241.6 532.6L1228.4 516.3z" fill="#26828e" stroke="#26828e"/><path d="M949.1 251.2L962.4 262.4L969.9 251.9L956.6 241z" fill="#93d741" stroke="#93d741"/><path d="M691.8 166.4L704.9 173.2L712.8 165.3L699.6 158.7z" fill="#e5e419" stroke="#e5e419"/><path d="M807.2 193.6L820.4 201.9L828.1 193.1L814.9 185z" fill="#cae11f" stroke="#cae11f"/><path d="M1208 513.5L1221.2 529.8L1228.4 516.3L1215.3 499.9z" fill="#24878e" stroke="#24878e"/><path d="M1022.9 300.2L1036.1 313.3L1043.5 301.8L1030.3 288.9z" fill="#67cc5c" stroke="#67cc5c"/><path d="M1194.8 497.1L1208 513.5L1215.3 499.9L1202.1 483.5z" fill="#218e8d" stroke="#218e8d"/><path d="M657.7 161.1L670.8 167.6L678.7 159.9L665.6 153.6z" fill="#eae51a" stroke="#eae51a"/><path d="M623.6 156.3L636.7 162.4L644.6 154.9L631.6 148.9z" fill="#ece51b" stroke="#ece51b"/><path d="M854.5 210.5L867.8 219.7L875.4 210.4L862.1 201.4z" fill="#bade28" stroke="#bade28"/><path d="M901.8 229.6L915.1 239.8L922.6 230L909.4 220z" fill="#a8db34" stroke="#a8db34"/><path d="M1036.1 313.3L1049.4 326.9L1056.8 315.1L1043.5 301.8z" fill="#5cc863" stroke="#5cc863"/><path d="M1181.6 480.7L1194.8 497.1L1202.1 483.5L1188.9 467.2z" fill="#20938c" stroke="#20938c"/><path d="M773.1 186.2L786.3 194L794 185.5L780.9 177.8z" fill="#d2e21b" stroke="#d2e21b"/><path d="M1168.4 464.3L1181.6 480.7L1188.9 467.2L1175.7 450.9z" fill="#1f998a" stroke="#1f998a"/><path d="M962.4 262.4L975.6 274.1L983.1 263.3L969.9 251.9z" fill="#89d548" stroke="#89d548"/><path d="M1049.4 326.9L1062.6 340.9L1070 328.8L1056.8 315.1z" fill="#52c569" stroke="#52c569"/><path d="M1155.2 448.1L1168.4 464.3L1175.7 450.9L1162.5 434.8z" fill="#1f9f88" stroke="#1f9f88"/><path d="M1062.6 340.9L1075.9 355.3L1083.3 343L1070 328.8z" fill="#4ac16d" stroke="#4ac16d"/><path d="M1142 432L1155.2 448.1L1162.5 434.8L1149.3 418.8z" fill="#20a486" stroke="#20a486"/><path d="M1128.8 416.1L1142 432L1149.3 418.8L1136.1 403.1z" fill="#23a983" stroke="#23a983"/><path d="M1075.9 355.3L1089.1 370L1096.5 357.5L1083.3 343z" fill="#3fbc73" stroke="#3fbc73"/><path d="M739 179.4L752.2 186.8L760 178.6L746.8 171.3z" fill="#d8e219" stroke="#d8e219"/><path d="M1115.6 400.5L1128.8 416.1L1136.1 403.1L1122.9 387.6z" fill="#28ae80" stroke="#28ae80"/><path d="M1089.1 370L1102.3 385.1L1109.7 372.4L1096.5 357.5z" fill="#37b878" stroke="#37b878"/><path d="M1102.3 385.1L1115.6 400.5L1122.9 387.6L1109.7 372.4z" fill="#2fb47c" stroke="#2fb47c"/><path d="M820.4 201.9L833.7 210.6L841.3 201.6L828.1 193.1z" fill="#c2df23" stroke="#c2df23"/><path d="M915.1 239.8L928.3 250.5L935.9 240.4L922.6 230z" fill="#a0da39" stroke="#a0da39"/><path d="M975.6 274.1L988.9 286.2L996.4 275.2L983.1 263.3z" fill="#7fd34e" stroke="#7fd34e"/><path d="M867.8 219.7L881 229.4L888.6 219.8L875.4 210.4z" fill="#b2dd2d" stroke="#b2dd2d"/><path d="M704.9 173.2L718.1 180.3L725.9 172.2L712.8 165.3z" fill="#dfe318" stroke="#dfe318"/><path d="M1266.8 607.1L1280 622.5L1287.2 609.4L1274 593.9z" fill="#30698e" stroke="#30698e"/><path d="M1280 622.5L1293.3 637.5L1300.4 624.6L1287.2 609.4z" fill="#33638d" stroke="#33638d"/><path d="M670.8 167.6L683.9 174.2L691.8 166.4L678.7 159.9z" fill="#e5e419" stroke="#e5e419"/><path d="M1253.6 591.5L1266.8 607.1L1274 593.9L1260.8 578.2z" fill="#2e6f8e" stroke="#2e6f8e"/><path d="M1293.3 637.5L1306.5 652.2L1313.6 639.5L1300.4 624.6z" fill="#355e8d" stroke="#355e8d"/><path d="M988.9 286.2L1002.2 298.7L1009.6 287.5L996.4 275.2z" fill="#75d054" stroke="#75d054"/><path d="M1240.3 575.6L1253.6 591.5L1260.8 578.2L1247.6 562.2z" fill="#2c738e" stroke="#2c738e"/><path d="M786.3 194L799.5 202.3L807.2 193.6L794 185.5z" fill="#cde11d" stroke="#cde11d"/><path d="M1306.5 652.2L1319.8 666.5L1326.9 654L1313.6 639.5z" fill="#38598c" stroke="#38598c"/><path d="M636.7 162.4L649.8 168.7L657.7 161.1L644.6 154.9z" fill="#eae51a" stroke="#eae51a"/><path d="M1227.1 559.6L1240.3 575.6L1247.6 562.2L1234.4 546.1z" fill="#29798e" stroke="#29798e"/><path d="M928.3 250.5L941.6 261.5L949.1 251.2L935.9 240.4z" fill="#95d840" stroke="#95d840"/><path d="M602.6 157.7L615.7 163.7L623.6 156.3L610.6 150.4z" fill="#efe51c" stroke="#efe51c"/><path d="M1213.9 543.4L1227.1 559.6L1234.4 546.1L1221.2 529.8z" fill="#277f8e" stroke="#277f8e"/><path d="M1002.2 298.7L1015.4 311.7L1022.9 300.2L1009.6 287.5z" fill="#6ccd5a" stroke="#6ccd5a"/><path d="M1200.7 527L1213.9 543.4L1221.2 529.8L1208 513.5z" fill="#25848e" stroke="#25848e"/><path d="M833.7 210.6L846.9 219.7L854.5 210.5L841.3 201.6z" fill="#bddf26" stroke="#bddf26"/><path d="M881 229.4L894.3 239.4L901.8 229.6L888.6 219.8z" fill="#aadc32" stroke="#aadc32"/><path d="M752.2 186.8L765.4 194.6L773.1 186.2L760 178.6z" fill="#d5e21a" stroke="#d5e21a"/><path d="M1187.5 510.6L1200.7 527L1208 513.5L1194.8 497.1z" fill="#238a8d" stroke="#238a8d"/><path d="M1015.4 311.7L1028.7 325.1L1036.1 313.3L1022.9 300.2z" fill="#60ca60" stroke="#60ca60"/><path d="M1174.3 494.2L1187.5 510.6L1194.8 497.1L1181.6 480.7z" fill="#21908d" stroke="#21908d"/><path d="M941.6 261.5L954.9 273L962.4 262.4L949.1 251.2z" fill="#8ed645" stroke="#8ed645"/><path d="M718.1 180.3L731.2 187.6L739 179.4L725.9 172.2z" fill="#dae319" stroke="#dae319"/><path d="M1161.1 477.8L1174.3 494.2L1181.6 480.7L1168.4 464.3z" fill="#1f958b" stroke="#1f958b"/><path d="M1028.7 325.1L1042 338.9L1049.4 326.9L1036.1 313.3z" fill="#58c765" stroke="#58c765"/><path d="M799.5 202.3L812.8 210.8L820.4 201.9L807.2 193.6z" fill="#c5e021" stroke="#c5e021"/><path d="M1147.9 461.5L1161.1 477.8L1168.4 464.3L1155.2 448.1z" fill="#1e9b8a" stroke="#1e9b8a"/><path d="M1042 338.9L1055.2 353.1L1062.6 340.9L1049.4 326.9z" fill="#4ec36b" stroke="#4ec36b"/><path d="M683.9 174.2L697.1 181.2L704.9 173.2L691.8 166.4z" fill="#e2e418" stroke="#e2e418"/><path d="M1134.7 445.3L1147.9 461.5L1155.2 448.1L1142 432z" fill="#1fa188" stroke="#1fa188"/><path d="M894.3 239.4L907.5 249.9L915.1 239.8L901.8 229.6z" fill="#a2da37" stroke="#a2da37"/><path d="M846.9 219.7L860.1 229.2L867.8 219.7L854.5 210.5z" fill="#b5de2b" stroke="#b5de2b"/><path d="M1121.4 429.3L1134.7 445.3L1142 432L1128.8 416.1z" fill="#21a685" stroke="#21a685"/><path d="M1055.2 353.1L1068.5 367.7L1075.9 355.3L1062.6 340.9z" fill="#44bf70" stroke="#44bf70"/><path d="M954.9 273L968.2 284.9L975.6 274.1L962.4 262.4z" fill="#84d44b" stroke="#84d44b"/><path d="M649.8 168.7L662.9 175.3L670.8 167.6L657.7 161.1z" fill="#e7e419" stroke="#e7e419"/><path d="M1108.2 413.5L1121.4 429.3L1128.8 416.1L1115.6 400.5z" fill="#25ac82" stroke="#25ac82"/><path d="M1068.5 367.7L1081.7 382.7L1089.1 370L1075.9 355.3z" fill="#3aba76" stroke="#3aba76"/><path d="M1095 397.9L1108.2 413.5L1115.6 400.5L1102.3 385.1z" fill="#2cb17e" stroke="#2cb17e"/><path d="M1081.7 382.7L1095 397.9L1102.3 385.1L1089.1 370z" fill="#32b67a" stroke="#32b67a"/><path d="M615.7 163.7L628.7 170L636.7 162.4L623.6 156.3z" fill="#ece51b" stroke="#ece51b"/><path d="M765.4 194.6L778.6 202.7L786.3 194L773.1 186.2z" fill="#d0e11c" stroke="#d0e11c"/><path d="M968.2 284.9L981.4 297.3L988.9 286.2L975.6 274.1z" fill="#7ad151" stroke="#7ad151"/><path d="M1259.6 620.2L1272.8 635.4L1280 622.5L1266.8 607.1z" fill="#31668e" stroke="#31668e"/><path d="M907.5 249.9L920.8 260.7L928.3 250.5L915.1 239.8z" fill="#9bd93c" stroke="#9bd93c"/><path d="M1246.3 604.8L1259.6 620.2L1266.8 607.1L1253.6 591.5z" fill="#2f6b8e" stroke="#2f6b8e"/><path d="M1272.8 635.4L1286.1 650.3L1293.3 637.5L1280 622.5z" fill="#34608d" stroke="#34608d"/><path d="M1233.1 589L1246.3 604.8L1253.6 591.5L1240.3 575.6z" fill="#2d718e" stroke="#2d718e"/><path d="M1286.1 650.3L1299.4 664.8L1306.5 652.2L1293.3 637.5z" fill="#375b8d" stroke="#375b8d"/><path d="M812.8 210.8L826 219.8L833.7 210.6L820.4 201.9z" fill="#c0df25" stroke="#c0df25"/><path d="M731.2 187.6L744.4 195.2L752.2 186.8L739 179.4z" fill="#d5e21a" stroke="#d5e21a"/><path d="M1219.9 573.1L1233.1 589L1240.3 575.6L1227.1 559.6z" fill="#2a768e" stroke="#2a768e"/><path d="M1299.4 664.8L1312.7 679L1319.8 666.5L1306.5 652.2z" fill="#39558c" stroke="#39558c"/><path d="M860.1 229.2L873.4 239.1L881 229.4L867.8 219.7z" fill="#addc30" stroke="#addc30"/><path d="M1206.7 556.9L1219.9 573.1L1227.1 559.6L1213.9 543.4z" fill="#287c8e" stroke="#287c8e"/><path d="M981.4 297.3L994.7 310.1L1002.2 298.7L988.9 286.2z" fill="#70cf57" stroke="#70cf57"/><path d="M1193.4 540.6L1206.7 556.9L1213.9 543.4L1200.7 527z" fill="#26828e" stroke="#26828e"/><path d="M697.1 181.2L710.2 188.4L718.1 180.3L704.9 173.2z" fill="#dde318" stroke="#dde318"/><path d="M1180.2 524.2L1193.4 540.6L1200.7 527L1187.5 510.6z" fill="#24878e" stroke="#24878e"/><path d="M920.8 260.7L934.1 272L941.6 261.5L928.3 250.5z" fill="#90d743" stroke="#90d743"/><path d="M994.7 310.1L1008 323.3L1015.4 311.7L1002.2 298.7z" fill="#65cb5e" stroke="#65cb5e"/><path d="M778.6 202.7L791.8 211.1L799.5 202.3L786.3 194z" fill="#c8e020" stroke="#c8e020"/><path d="M662.9 175.3L676.1 182.1L683.9 174.2L670.8 167.6z" fill="#e2e418" stroke="#e2e418"/><path d="M1167 507.8L1180.2 524.2L1187.5 510.6L1174.3 494.2z" fill="#228d8d" stroke="#228d8d"/><path d="M1153.8 491.4L1167 507.8L1174.3 494.2L1161.1 477.8z" fill="#20928c" stroke="#20928c"/><path d="M628.7 170L641.9 176.4L649.8 168.7L636.7 162.4z" fill="#e7e419" stroke="#e7e419"/><path d="M1008 323.3L1021.3 337L1028.7 325.1L1015.4 311.7z" fill="#5cc863" stroke="#5cc863"/><path d="M873.4 239.1L886.7 249.3L894.3 239.4L881 229.4z" fill="#a5db36" stroke="#a5db36"/><path d="M826 219.8L839.2 229.1L846.9 219.7L833.7 210.6z" fill="#b8de29" stroke="#b8de29"/><path d="M594.6 165.1L607.7 171.2L615.7 163.7L602.6 157.7z" fill="#ece51b" stroke="#ece51b"/><path d="M1140.5 475L1153.8 491.4L1161.1 477.8L1147.9 461.5z" fill="#1f988b" stroke="#1f988b"/><path d="M1021.3 337L1034.5 351L1042 338.9L1028.7 325.1z" fill="#52c569" stroke="#52c569"/><path d="M934.1 272L947.4 283.8L954.9 273L941.6 261.5z" fill="#86d549" stroke="#86d549"/><path d="M744.4 195.2L757.6 203.2L765.4 194.6L752.2 186.8z" fill="#d0e11c" stroke="#d0e11c"/><path d="M1127.3 458.7L1140.5 475L1147.9 461.5L1134.7 445.3z" fill="#1f9e89" stroke="#1f9e89"/><path d="M1114.1 442.6L1127.3 458.7L1134.7 445.3L1121.4 429.3z" fill="#20a386" stroke="#20a386"/><path d="M1034.5 351L1047.8 365.5L1055.2 353.1L1042 338.9z" fill="#48c16e" stroke="#48c16e"/><path d="M1100.8 426.6L1114.1 442.6L1121.4 429.3L1108.2 413.5z" fill="#23a983" stroke="#23a983"/><path d="M1047.8 365.5L1061.1 380.3L1068.5 367.7L1055.2 353.1z" fill="#3fbc73" stroke="#3fbc73"/><path d="M1087.6 410.9L1100.8 426.6L1108.2 413.5L1095 397.9z" fill="#27ad81" stroke="#27ad81"/><path d="M1061.1 380.3L1074.3 395.4L1081.7 382.7L1068.5 367.7z" fill="#35b779" stroke="#35b779"/><path d="M1074.3 395.4L1087.6 410.9L1095 397.9L1081.7 382.7z" fill="#2eb37c" stroke="#2eb37c"/><path d="M710.2 188.4L723.4 195.9L731.2 187.6L718.1 180.3z" fill="#d8e219" stroke="#d8e219"/><path d="M791.8 211.1L805.1 219.9L812.8 210.8L799.5 202.3z" fill="#c2df23" stroke="#c2df23"/><path d="M947.4 283.8L960.6 296L968.2 284.9L954.9 273z" fill="#7fd34e" stroke="#7fd34e"/><path d="M886.7 249.3L899.9 260L907.5 249.9L894.3 239.4z" fill="#9dd93b" stroke="#9dd93b"/><path d="M839.2 229.1L852.5 238.8L860.1 229.2L846.9 219.7z" fill="#b2dd2d" stroke="#b2dd2d"/><path d="M676.1 182.1L689.2 189.2L697.1 181.2L683.9 174.2z" fill="#dfe318" stroke="#dfe318"/><path d="M1239.1 618L1252.4 633.3L1259.6 620.2L1246.3 604.8z" fill="#31688e" stroke="#31688e"/><path d="M1252.4 633.3L1265.6 648.3L1272.8 635.4L1259.6 620.2z" fill="#33638d" stroke="#33638d"/><path d="M1225.8 602.4L1239.1 618L1246.3 604.8L1233.1 589z" fill="#2e6e8e" stroke="#2e6e8e"/><path d="M1265.6 648.3L1278.9 663L1286.1 650.3L1272.8 635.4z" fill="#365d8d" stroke="#365d8d"/><path d="M1212.6 586.5L1225.8 602.4L1233.1 589L1219.9 573.1z" fill="#2c738e" stroke="#2c738e"/><path d="M960.6 296L973.9 308.6L981.4 297.3L968.2 284.9z" fill="#75d054" stroke="#75d054"/><path d="M1278.9 663L1292.2 677.4L1299.4 664.8L1286.1 650.3z" fill="#38588c" stroke="#38588c"/><path d="M641.9 176.4L655 183.2L662.9 175.3L649.8 168.7z" fill="#e5e419" stroke="#e5e419"/><path d="M1199.4 570.4L1212.6 586.5L1219.9 573.1L1206.7 556.9z" fill="#2a788e" stroke="#2a788e"/><path d="M757.6 203.2L770.9 211.4L778.6 202.7L765.4 194.6z" fill="#cae11f" stroke="#cae11f"/><path d="M1292.2 677.4L1305.5 691.3L1312.7 679L1299.4 664.8z" fill="#3b528b" stroke="#3b528b"/><path d="M1186.1 554.2L1199.4 570.4L1206.7 556.9L1193.4 540.6z" fill="#277e8e" stroke="#277e8e"/><path d="M607.7 171.2L620.8 177.6L628.7 170L615.7 163.7z" fill="#eae51a" stroke="#eae51a"/><path d="M899.9 260L913.2 271.2L920.8 260.7L907.5 249.9z" fill="#95d840" stroke="#95d840"/><path d="M1172.9 537.8L1186.1 554.2L1193.4 540.6L1180.2 524.2z" fill="#25838e" stroke="#25838e"/><path d="M973.9 308.6L987.2 321.6L994.7 310.1L981.4 297.3z" fill="#69cd5b" stroke="#69cd5b"/><path d="M805.1 219.9L818.3 229L826 219.8L812.8 210.8z" fill="#bddf26" stroke="#bddf26"/><path d="M1159.7 521.4L1172.9 537.8L1180.2 524.2L1167 507.8z" fill="#23898e" stroke="#23898e"/><path d="M852.5 238.8L865.8 248.9L873.4 239.1L860.1 229.2z" fill="#aadc32" stroke="#aadc32"/><path d="M723.4 195.9L736.6 203.7L744.4 195.2L731.2 187.6z" fill="#d2e21b" stroke="#d2e21b"/><path d="M1146.4 504.9L1159.7 521.4L1167 507.8L1153.8 491.4z" fill="#21908d" stroke="#21908d"/><path d="M987.2 321.6L1000.5 335.1L1008 323.3L994.7 310.1z" fill="#60ca60" stroke="#60ca60"/><path d="M913.2 271.2L926.5 282.7L934.1 272L920.8 260.7z" fill="#8bd646" stroke="#8bd646"/><path d="M1133.2 488.5L1146.4 504.9L1153.8 491.4L1140.5 475z" fill="#1f958b" stroke="#1f958b"/><path d="M1000.5 335.1L1013.8 349L1021.3 337L1008 323.3z" fill="#56c667" stroke="#56c667"/><path d="M689.2 189.2L702.4 196.6L710.2 188.4L697.1 181.2z" fill="#dae319" stroke="#dae319"/><path d="M1119.9 472.2L1133.2 488.5L1140.5 475L1127.3 458.7z" fill="#1e9b8a" stroke="#1e9b8a"/><path d="M770.9 211.4L784.1 220.1L791.8 211.1L778.6 202.7z" fill="#c5e021" stroke="#c5e021"/><path d="M1106.7 455.9L1119.9 472.2L1127.3 458.7L1114.1 442.6z" fill="#1fa188" stroke="#1fa188"/><path d="M1013.8 349L1027.1 363.3L1034.5 351L1021.3 337z" fill="#4cc26c" stroke="#4cc26c"/><path d="M1093.4 439.8L1106.7 455.9L1114.1 442.6L1100.8 426.6z" fill="#21a585" stroke="#21a585"/><path d="M865.8 248.9L879.1 259.4L886.7 249.3L873.4 239.1z" fill="#a2da37" stroke="#a2da37"/><path d="M655 183.2L668.1 190.2L676.1 182.1L662.9 175.3z" fill="#e2e418" stroke="#e2e418"/><path d="M1027.1 363.3L1040.4 378L1047.8 365.5L1034.5 351z" fill="#42be71" stroke="#42be71"/><path d="M1080.2 424L1093.4 439.8L1100.8 426.6L1087.6 410.9z" fill="#25ab82" stroke="#25ab82"/><path d="M926.5 282.7L939.8 294.7L947.4 283.8L934.1 272z" fill="#81d34d" stroke="#81d34d"/><path d="M818.3 229L831.6 238.6L839.2 229.1L826 219.8z" fill="#b5de2b" stroke="#b5de2b"/><path d="M1040.4 378L1053.6 393L1061.1 380.3L1047.8 365.5z" fill="#3aba76" stroke="#3aba76"/><path d="M1066.9 408.3L1080.2 424L1087.6 410.9L1074.3 395.4z" fill="#2ab07f" stroke="#2ab07f"/><path d="M1053.6 393L1066.9 408.3L1074.3 395.4L1061.1 380.3z" fill="#31b57b" stroke="#31b57b"/><path d="M620.8 177.6L633.9 184.2L641.9 176.4L628.7 170z" fill="#e7e419" stroke="#e7e419"/><path d="M586.5 172.6L599.6 178.8L607.7 171.2L594.6 165.1z" fill="#ece51b" stroke="#ece51b"/><path d="M736.6 203.7L749.8 211.9L757.6 203.2L744.4 195.2z" fill="#cde11d" stroke="#cde11d"/><path d="M939.8 294.7L953.1 307.2L960.6 296L947.4 283.8z" fill="#77d153" stroke="#77d153"/><path d="M1231.9 631.1L1245.1 646.3L1252.4 633.3L1239.1 618z" fill="#32658e" stroke="#32658e"/><path d="M1218.6 615.6L1231.9 631.1L1239.1 618L1225.8 602.4z" fill="#2f6b8e" stroke="#2f6b8e"/><path d="M1245.1 646.3L1258.4 661.2L1265.6 648.3L1252.4 633.3z" fill="#34608d" stroke="#34608d"/><path d="M1205.3 599.9L1218.6 615.6L1225.8 602.4L1212.6 586.5z" fill="#2d708e" stroke="#2d708e"/><path d="M879.1 259.4L892.3 270.4L899.9 260L886.7 249.3z" fill="#98d83e" stroke="#98d83e"/><path d="M1258.4 661.2L1271.7 675.7L1278.9 663L1265.6 648.3z" fill="#375b8d" stroke="#375b8d"/><path d="M1192.1 583.9L1205.3 599.9L1212.6 586.5L1199.4 570.4z" fill="#2b758e" stroke="#2b758e"/><path d="M784.1 220.1L797.3 229.1L805.1 219.9L791.8 211.1z" fill="#c0df25" stroke="#c0df25"/><path d="M702.4 196.6L715.6 204.3L723.4 195.9L710.2 188.4z" fill="#d5e21a" stroke="#d5e21a"/><path d="M1271.7 675.7L1285 689.8L1292.2 677.4L1278.9 663z" fill="#3a548c" stroke="#3a548c"/><path d="M1178.8 567.7L1192.1 583.9L1199.4 570.4L1186.1 554.2z" fill="#297b8e" stroke="#297b8e"/><path d="M831.6 238.6L844.8 248.5L852.5 238.8L839.2 229.1z" fill="#addc30" stroke="#addc30"/><path d="M953.1 307.2L966.4 320L973.9 308.6L960.6 296z" fill="#6ece58" stroke="#6ece58"/><path d="M1165.6 551.4L1178.8 567.7L1186.1 554.2L1172.9 537.8z" fill="#26818e" stroke="#26818e"/><path d="M1285 689.8L1298.4 703.5L1305.5 691.3L1292.2 677.4z" fill="#3c508b" stroke="#3c508b"/><path d="M1152.3 535L1165.6 551.4L1172.9 537.8L1159.7 521.4z" fill="#24868e" stroke="#24868e"/><path d="M668.1 190.2L681.3 197.4L689.2 189.2L676.1 182.1z" fill="#dde318" stroke="#dde318"/><path d="M966.4 320L979.7 333.4L987.2 321.6L973.9 308.6z" fill="#65cb5e" stroke="#65cb5e"/><path d="M892.3 270.4L905.6 281.7L913.2 271.2L899.9 260z" fill="#90d743" stroke="#90d743"/><path d="M1139.1 518.6L1152.3 535L1159.7 521.4L1146.4 504.9z" fill="#228c8d" stroke="#228c8d"/><path d="M749.8 211.9L763.1 220.3L770.9 211.4L757.6 203.2z" fill="#c8e020" stroke="#c8e020"/><path d="M633.9 184.2L647 191.1L655 183.2L641.9 176.4z" fill="#e2e418" stroke="#e2e418"/><path d="M1125.8 502.1L1139.1 518.6L1146.4 504.9L1133.2 488.5z" fill="#20928c" stroke="#20928c"/><path d="M979.7 333.4L993 347.1L1000.5 335.1L987.2 321.6z" fill="#5ac864" stroke="#5ac864"/><path d="M1112.5 485.7L1125.8 502.1L1133.2 488.5L1119.9 472.2z" fill="#1f978b" stroke="#1f978b"/><path d="M599.6 178.8L612.8 185.4L620.8 177.6L607.7 171.2z" fill="#e7e419" stroke="#e7e419"/><path d="M844.8 248.5L858.1 258.9L865.8 248.9L852.5 238.8z" fill="#a5db36" stroke="#a5db36"/><path d="M797.3 229.1L810.6 238.5L818.3 229L805.1 219.9z" fill="#b8de29" stroke="#b8de29"/><path d="M1099.3 469.3L1112.5 485.7L1119.9 472.2L1106.7 455.9z" fill="#1e9d89" stroke="#1e9d89"/><path d="M993 347.1L1006.3 361.2L1013.8 349L1000.5 335.1z" fill="#50c46a" stroke="#50c46a"/><path d="M905.6 281.7L918.9 293.6L926.5 282.7L913.2 271.2z" fill="#86d549" stroke="#86d549"/><path d="M1086 453.1L1099.3 469.3L1106.7 455.9L1093.4 439.8z" fill="#1fa287" stroke="#1fa287"/><path d="M715.6 204.3L728.8 212.3L736.6 203.7L723.4 195.9z" fill="#d0e11c" stroke="#d0e11c"/><path d="M1006.3 361.2L1019.6 375.7L1027.1 363.3L1013.8 349z" fill="#46c06f" stroke="#46c06f"/><path d="M1072.7 437.1L1086 453.1L1093.4 439.8L1080.2 424z" fill="#22a884" stroke="#22a884"/><path d="M1019.6 375.7L1032.9 390.6L1040.4 378L1027.1 363.3z" fill="#3dbc74" stroke="#3dbc74"/><path d="M1059.5 421.4L1072.7 437.1L1080.2 424L1066.9 408.3z" fill="#27ad81" stroke="#27ad81"/><path d="M1032.9 390.6L1046.2 405.8L1053.6 393L1040.4 378z" fill="#35b779" stroke="#35b779"/><path d="M1046.2 405.8L1059.5 421.4L1066.9 408.3L1053.6 393z" fill="#2db27d" stroke="#2db27d"/><path d="M681.3 197.4L694.5 205L702.4 196.6L689.2 189.2z" fill="#d8e219" stroke="#d8e219"/><path d="M918.9 293.6L932.3 305.8L939.8 294.7L926.5 282.7z" fill="#7cd250" stroke="#7cd250"/><path d="M858.1 258.9L871.4 269.6L879.1 259.4L865.8 248.9z" fill="#9dd93b" stroke="#9dd93b"/><path d="M763.1 220.3L776.3 229.2L784.1 220.1L770.9 211.4z" fill="#c2df23" stroke="#c2df23"/><path d="M810.6 238.5L823.9 248.2L831.6 238.6L818.3 229z" fill="#b0dd2f" stroke="#b0dd2f"/><path d="M1211.3 628.9L1224.6 644.2L1231.9 631.1L1218.6 615.6z" fill="#31688e" stroke="#31688e"/><path d="M1224.6 644.2L1237.9 659.2L1245.1 646.3L1231.9 631.1z" fill="#33628d" stroke="#33628d"/><path d="M1198 613.2L1211.3 628.9L1218.6 615.6L1205.3 599.9z" fill="#2e6d8e" stroke="#2e6d8e"/><path d="M1237.9 659.2L1251.2 673.9L1258.4 661.2L1245.1 646.3z" fill="#365d8d" stroke="#365d8d"/><path d="M647 191.1L660.2 198.3L668.1 190.2L655 183.2z" fill="#dfe318" stroke="#dfe318"/><path d="M1184.7 597.4L1198 613.2L1205.3 599.9L1192.1 583.9z" fill="#2c728e" stroke="#2c728e"/><path d="M1251.2 673.9L1264.5 688.2L1271.7 675.7L1258.4 661.2z" fill="#38588c" stroke="#38588c"/><path d="M932.3 305.8L945.6 318.5L953.1 307.2L939.8 294.7z" fill="#73d056" stroke="#73d056"/><path d="M1171.5 581.3L1184.7 597.4L1192.1 583.9L1178.8 567.7z" fill="#2a788e" stroke="#2a788e"/><path d="M612.8 185.4L625.9 192.1L633.9 184.2L620.8 177.6z" fill="#e5e419" stroke="#e5e419"/><path d="M1158.2 565L1171.5 581.3L1178.8 567.7L1165.6 551.4z" fill="#277e8e" stroke="#277e8e"/><path d="M1264.5 688.2L1277.9 702.2L1285 689.8L1271.7 675.7z" fill="#3b528b" stroke="#3b528b"/><path d="M728.8 212.3L742 220.7L749.8 211.9L736.6 203.7z" fill="#cae11f" stroke="#cae11f"/><path d="M871.4 269.6L884.7 280.8L892.3 270.4L879.1 259.4z" fill="#93d741" stroke="#93d741"/><path d="M1144.9 548.7L1158.2 565L1165.6 551.4L1152.3 535z" fill="#25838e" stroke="#25838e"/><path d="M578.5 180.1L591.6 186.6L599.6 178.8L586.5 172.6z" fill="#eae51a" stroke="#eae51a"/><path d="M945.6 318.5L958.9 331.7L966.4 320L953.1 307.2z" fill="#69cd5b" stroke="#69cd5b"/><path d="M1277.9 702.2L1291.2 715.7L1298.4 703.5L1285 689.8z" fill="#3d4d8a" stroke="#3d4d8a"/><path d="M1131.7 532.2L1144.9 548.7L1152.3 535L1139.1 518.6z" fill="#23898e" stroke="#23898e"/><path d="M776.3 229.2L789.6 238.4L797.3 229.1L784.1 220.1z" fill="#bade28" stroke="#bade28"/><path d="M823.9 248.2L837.2 258.4L844.8 248.5L831.6 238.6z" fill="#a8db34" stroke="#a8db34"/><path d="M1118.4 515.7L1131.7 532.2L1139.1 518.6L1125.8 502.1z" fill="#218f8d" stroke="#218f8d"/><path d="M694.5 205L707.7 212.9L715.6 204.3L702.4 196.6z" fill="#d2e21b" stroke="#d2e21b"/><path d="M958.9 331.7L972.2 345.2L979.7 333.4L966.4 320z" fill="#5ec962" stroke="#5ec962"/><path d="M1105.1 499.2L1118.4 515.7L1125.8 502.1L1112.5 485.7z" fill="#1f948c" stroke="#1f948c"/><path d="M884.7 280.8L898 292.5L905.6 281.7L892.3 270.4z" fill="#8bd646" stroke="#8bd646"/><path d="M972.2 345.2L985.5 359.2L993 347.1L979.7 333.4z" fill="#54c568" stroke="#54c568"/><path d="M1091.9 482.8L1105.1 499.2L1112.5 485.7L1099.3 469.3z" fill="#1f9a8a" stroke="#1f9a8a"/><path d="M660.2 198.3L673.4 205.7L681.3 197.4L668.1 190.2z" fill="#dae319" stroke="#dae319"/><path d="M1078.6 466.5L1091.9 482.8L1099.3 469.3L1086 453.1z" fill="#1fa088" stroke="#1fa088"/><path d="M985.5 359.2L998.8 373.6L1006.3 361.2L993 347.1z" fill="#4cc26c" stroke="#4cc26c"/><path d="M742 220.7L755.3 229.4L763.1 220.3L749.8 211.9z" fill="#c5e021" stroke="#c5e021"/><path d="M1065.3 450.4L1078.6 466.5L1086 453.1L1072.7 437.1z" fill="#21a585" stroke="#21a585"/><path d="M998.8 373.6L1012.1 388.3L1019.6 375.7L1006.3 361.2z" fill="#40bd72" stroke="#40bd72"/><path d="M1052 434.5L1065.3 450.4L1072.7 437.1L1059.5 421.4z" fill="#25ab82" stroke="#25ab82"/><path d="M837.2 258.4L850.5 269L858.1 258.9L844.8 248.5z" fill="#a0da39" stroke="#a0da39"/><path d="M1012.1 388.3L1025.4 403.4L1032.9 390.6L1019.6 375.7z" fill="#38b977" stroke="#38b977"/><path d="M1038.7 418.8L1052 434.5L1059.5 421.4L1046.2 405.8z" fill="#29af7f" stroke="#29af7f"/><path d="M1025.4 403.4L1038.7 418.8L1046.2 405.8L1032.9 390.6z" fill="#31b57b" stroke="#31b57b"/><path d="M625.9 192.1L639.1 199.2L647 191.1L633.9 184.2z" fill="#dfe318" stroke="#dfe318"/><path d="M898 292.5L911.4 304.6L918.9 293.6L905.6 281.7z" fill="#81d34d" stroke="#81d34d"/><path d="M789.6 238.4L802.9 248L810.6 238.5L797.3 229.1z" fill="#b5de2b" stroke="#b5de2b"/><path d="M591.6 186.6L604.8 193.2L612.8 185.4L599.6 178.8z" fill="#e7e419" stroke="#e7e419"/><path d="M707.7 212.9L721 221.1L728.8 212.3L715.6 204.3z" fill="#cde11d" stroke="#cde11d"/><path d="M1204 642L1217.3 657.2L1224.6 644.2L1211.3 628.9z" fill="#32658e" stroke="#32658e"/><path d="M1190.7 626.5L1204 642L1211.3 628.9L1198 613.2z" fill="#306a8e" stroke="#306a8e"/><path d="M911.4 304.6L924.7 317.1L932.3 305.8L918.9 293.6z" fill="#77d153" stroke="#77d153"/><path d="M1217.3 657.2L1230.6 672.1L1237.9 659.2L1224.6 644.2z" fill="#355f8d" stroke="#355f8d"/><path d="M1177.4 610.8L1190.7 626.5L1198 613.2L1184.7 597.4z" fill="#2d708e" stroke="#2d708e"/><path d="M1230.6 672.1L1244 686.6L1251.2 673.9L1237.9 659.2z" fill="#375a8c" stroke="#375a8c"/><path d="M1164.1 594.8L1177.4 610.8L1184.7 597.4L1171.5 581.3z" fill="#2b758e" stroke="#2b758e"/><path d="M850.5 269L863.8 280L871.4 269.6L858.1 258.9z" fill="#98d83e" stroke="#98d83e"/><path d="M1150.8 578.6L1164.1 594.8L1171.5 581.3L1158.2 565z" fill="#297a8e" stroke="#297a8e"/><path d="M1244 686.6L1257.3 700.7L1264.5 688.2L1251.2 673.9z" fill="#3a548c" stroke="#3a548c"/><path d="M755.3 229.4L768.6 238.4L776.3 229.2L763.1 220.3z" fill="#bddf26" stroke="#bddf26"/><path d="M673.4 205.7L686.6 213.5L694.5 205L681.3 197.4z" fill="#d5e21a" stroke="#d5e21a"/><path d="M1137.6 562.3L1150.8 578.6L1158.2 565L1144.9 548.7z" fill="#27808e" stroke="#27808e"/><path d="M924.7 317.1L938 330L945.6 318.5L932.3 305.8z" fill="#6ece58" stroke="#6ece58"/><path d="M802.9 248L816.2 258L823.9 248.2L810.6 238.5z" fill="#addc30" stroke="#addc30"/><path d="M1257.3 700.7L1270.7 714.4L1277.9 702.2L1264.5 688.2z" fill="#3c4f8a" stroke="#3c4f8a"/><path d="M1124.3 545.9L1137.6 562.3L1144.9 548.7L1131.7 532.2z" fill="#25858e" stroke="#25858e"/><path d="M1111 529.4L1124.3 545.9L1131.7 532.2L1118.4 515.7z" fill="#228b8d" stroke="#228b8d"/><path d="M1270.7 714.4L1284 727.7L1291.2 715.7L1277.9 702.2z" fill="#3e4989" stroke="#3e4989"/><path d="M639.1 199.2L652.3 206.5L660.2 198.3L647 191.1z" fill="#dde318" stroke="#dde318"/><path d="M938 330L951.3 343.4L958.9 331.7L945.6 318.5z" fill="#63cb5f" stroke="#63cb5f"/><path d="M863.8 280L877.1 291.5L884.7 280.8L871.4 269.6z" fill="#8ed645" stroke="#8ed645"/><path d="M1097.7 512.9L1111 529.4L1118.4 515.7L1105.1 499.2z" fill="#21918c" stroke="#21918c"/><path d="M721 221.1L734.2 229.6L742 220.7L728.8 212.3z" fill="#c8e020" stroke="#c8e020"/><path d="M604.8 193.2L617.9 200.2L625.9 192.1L612.8 185.4z" fill="#e2e418" stroke="#e2e418"/><path d="M951.3 343.4L964.6 357.2L972.2 345.2L958.9 331.7z" fill="#5ac864" stroke="#5ac864"/><path d="M1084.4 496.4L1097.7 512.9L1105.1 499.2L1091.9 482.8z" fill="#1f978b" stroke="#1f978b"/><path d="M816.2 258L829.5 268.4L837.2 258.4L823.9 248.2z" fill="#a5db36" stroke="#a5db36"/><path d="M1071.1 480L1084.4 496.4L1091.9 482.8L1078.6 466.5z" fill="#1e9d89" stroke="#1e9d89"/><path d="M570.4 187.8L583.6 194.3L591.6 186.6L578.5 180.1z" fill="#e7e419" stroke="#e7e419"/><path d="M768.6 238.4L781.8 247.9L789.6 238.4L776.3 229.2z" fill="#b8de29" stroke="#b8de29"/><path d="M964.6 357.2L978 371.5L985.5 359.2L972.2 345.2z" fill="#50c46a" stroke="#50c46a"/><path d="M1057.8 463.8L1071.1 480L1078.6 466.5L1065.3 450.4z" fill="#1fa187" stroke="#1fa187"/><path d="M877.1 291.5L890.4 303.4L898 292.5L884.7 280.8z" fill="#86d549" stroke="#86d549"/><path d="M978 371.5L991.3 386L998.8 373.6L985.5 359.2z" fill="#46c06f" stroke="#46c06f"/><path d="M1044.5 447.7L1057.8 463.8L1065.3 450.4L1052 434.5z" fill="#22a785" stroke="#22a785"/><path d="M686.6 213.5L699.8 221.5L707.7 212.9L694.5 205z" fill="#d0e11c" stroke="#d0e11c"/><path d="M991.3 386L1004.6 401L1012.1 388.3L998.8 373.6z" fill="#3dbc74" stroke="#3dbc74"/><path d="M1031.2 431.9L1044.5 447.7L1052 434.5L1038.7 418.8z" fill="#26ad81" stroke="#26ad81"/><path d="M1004.6 401L1017.9 416.3L1025.4 403.4L1012.1 388.3z" fill="#34b679" stroke="#34b679"/><path d="M1017.9 416.3L1031.2 431.9L1038.7 418.8L1025.4 403.4z" fill="#2db27d" stroke="#2db27d"/><path d="M890.4 303.4L903.7 315.7L911.4 304.6L898 292.5z" fill="#7cd250" stroke="#7cd250"/><path d="M829.5 268.4L842.8 279.3L850.5 269L837.2 258.4z" fill="#9bd93c" stroke="#9bd93c"/><path d="M652.3 206.5L665.5 214.1L673.4 205.7L660.2 198.3z" fill="#d8e219" stroke="#d8e219"/><path d="M734.2 229.6L747.5 238.5L755.3 229.4L742 220.7z" fill="#c0df25" stroke="#c0df25"/><path d="M1183.4 639.8L1196.7 655.1L1204 642L1190.7 626.5z" fill="#31678e" stroke="#31678e"/><path d="M1196.7 655.1L1210 670.1L1217.3 657.2L1204 642z" fill="#33628d" stroke="#33628d"/><path d="M1170.1 624.2L1183.4 639.8L1190.7 626.5L1177.4 610.8z" fill="#2e6d8e" stroke="#2e6d8e"/><path d="M781.8 247.9L795.1 257.7L802.9 248L789.6 238.4z" fill="#b0dd2f" stroke="#b0dd2f"/><path d="M1210 670.1L1223.4 684.8L1230.6 672.1L1217.3 657.2z" fill="#365c8d" stroke="#365c8d"/><path d="M1156.8 608.3L1170.1 624.2L1177.4 610.8L1164.1 594.8z" fill="#2c718e" stroke="#2c718e"/><path d="M1143.5 592.2L1156.8 608.3L1164.1 594.8L1150.8 578.6z" fill="#2a778e" stroke="#2a778e"/><path d="M1223.4 684.8L1236.7 699.1L1244 686.6L1230.6 672.1z" fill="#39568c" stroke="#39568c"/><path d="M617.9 200.2L631.1 207.4L639.1 199.2L625.9 192.1z" fill="#dde318" stroke="#dde318"/><path d="M903.7 315.7L917.1 328.5L924.7 317.1L911.4 304.6z" fill="#73d056" stroke="#73d056"/><path d="M1130.2 575.9L1143.5 592.2L1150.8 578.6L1137.6 562.3z" fill="#287d8e" stroke="#287d8e"/><path d="M1236.7 699.1L1250.1 713L1257.3 700.7L1244 686.6z" fill="#3b518b" stroke="#3b518b"/><path d="M1116.9 559.5L1130.2 575.9L1137.6 562.3L1124.3 545.9z" fill="#26828e" stroke="#26828e"/><path d="M583.6 194.3L596.7 201.2L604.8 193.2L591.6 186.6z" fill="#e5e419" stroke="#e5e419"/><path d="M699.8 221.5L713.1 229.9L721 221.1L707.7 212.9z" fill="#cae11f" stroke="#cae11f"/><path d="M842.8 279.3L856.1 290.6L863.8 280L850.5 269z" fill="#93d741" stroke="#93d741"/><path d="M917.1 328.5L930.4 341.7L938 330L924.7 317.1z" fill="#67cc5c" stroke="#67cc5c"/><path d="M1250.1 713L1263.5 726.6L1270.7 714.4L1257.3 700.7z" fill="#3e4c8a" stroke="#3e4c8a"/><path d="M1103.6 543.1L1116.9 559.5L1124.3 545.9L1111 529.4z" fill="#23888e" stroke="#23888e"/><path d="M1090.3 526.5L1103.6 543.1L1111 529.4L1097.7 512.9z" fill="#218e8d" stroke="#218e8d"/><path d="M747.5 238.5L760.8 247.8L768.6 238.4L755.3 229.4z" fill="#bade28" stroke="#bade28"/><path d="M795.1 257.7L808.4 268L816.2 258L802.9 248z" fill="#a8db34" stroke="#a8db34"/><path d="M1263.5 726.6L1276.9 739.7L1284 727.7L1270.7 714.4z" fill="#3f4788" stroke="#3f4788"/><path d="M930.4 341.7L943.7 355.4L951.3 343.4L938 330z" fill="#5ec962" stroke="#5ec962"/><path d="M1077 510L1090.3 526.5L1097.7 512.9L1084.4 496.4z" fill="#20938c" stroke="#20938c"/><path d="M665.5 214.1L678.7 222.1L686.6 213.5L673.4 205.7z" fill="#d2e21b" stroke="#d2e21b"/><path d="M856.1 290.6L869.4 302.3L877.1 291.5L863.8 280z" fill="#89d548" stroke="#89d548"/><path d="M1063.7 493.6L1077 510L1084.4 496.4L1071.1 480z" fill="#1f998a" stroke="#1f998a"/><path d="M943.7 355.4L957.1 369.4L964.6 357.2L951.3 343.4z" fill="#54c568" stroke="#54c568"/><path d="M1050.4 477.2L1063.7 493.6L1071.1 480L1057.8 463.8z" fill="#1f9f88" stroke="#1f9f88"/><path d="M957.1 369.4L970.4 383.9L978 371.5L964.6 357.2z" fill="#4ac16d" stroke="#4ac16d"/><path d="M1037 461L1050.4 477.2L1057.8 463.8L1044.5 447.7z" fill="#20a486" stroke="#20a486"/><path d="M631.1 207.4L644.3 214.9L652.3 206.5L639.1 199.2z" fill="#dae319" stroke="#dae319"/><path d="M970.4 383.9L983.7 398.7L991.3 386L978 371.5z" fill="#40bd72" stroke="#40bd72"/><path d="M1023.7 445L1037 461L1044.5 447.7L1031.2 431.9z" fill="#24aa83" stroke="#24aa83"/><path d="M713.1 229.9L726.4 238.7L734.2 229.6L721 221.1z" fill="#c5e021" stroke="#c5e021"/><path d="M983.7 398.7L997.1 413.8L1004.6 401L991.3 386z" fill="#38b977" stroke="#38b977"/><path d="M1010.4 429.3L1023.7 445L1031.2 431.9L1017.9 416.3z" fill="#29af7f" stroke="#29af7f"/><path d="M997.1 413.8L1010.4 429.3L1017.9 416.3L1004.6 401z" fill="#2fb47c" stroke="#2fb47c"/><path d="M808.4 268L821.7 278.6L829.5 268.4L816.2 258z" fill="#a0da39" stroke="#a0da39"/><path d="M869.4 302.3L882.8 314.5L890.4 303.4L877.1 291.5z" fill="#7fd34e" stroke="#7fd34e"/><path d="M596.7 201.2L609.9 208.3L617.9 200.2L604.8 193.2z" fill="#dfe318" stroke="#dfe318"/><path d="M760.8 247.8L774 257.5L781.8 247.9L768.6 238.4z" fill="#b2dd2d" stroke="#b2dd2d"/><path d="M562.3 195.5L575.5 202.2L583.6 194.3L570.4 187.8z" fill="#e5e419" stroke="#e5e419"/><path d="M1176 653L1189.4 668.2L1196.7 655.1L1183.4 639.8z" fill="#32648e" stroke="#32648e"/><path d="M1162.7 637.5L1176 653L1183.4 639.8L1170.1 624.2z" fill="#30698e" stroke="#30698e"/><path d="M678.7 222.1L691.9 230.3L699.8 221.5L686.6 213.5z" fill="#cde11d" stroke="#cde11d"/><path d="M1189.4 668.2L1202.7 683L1210 670.1L1196.7 655.1z" fill="#355f8d" stroke="#355f8d"/><path d="M1149.4 621.7L1162.7 637.5L1170.1 624.2L1156.8 608.3z" fill="#2e6f8e" stroke="#2e6f8e"/><path d="M882.8 314.5L896.1 327.1L903.7 315.7L890.4 303.4z" fill="#75d054" stroke="#75d054"/><path d="M1136.1 605.8L1149.4 621.7L1156.8 608.3L1143.5 592.2z" fill="#2b748e" stroke="#2b748e"/><path d="M1202.7 683L1216.1 697.5L1223.4 684.8L1210 670.1z" fill="#38598c" stroke="#38598c"/><path d="M821.7 278.6L835.1 289.7L842.8 279.3L829.5 268.4z" fill="#95d840" stroke="#95d840"/><path d="M1122.8 589.6L1136.1 605.8L1143.5 592.2L1130.2 575.9z" fill="#297a8e" stroke="#297a8e"/><path d="M1216.1 697.5L1229.5 711.6L1236.7 699.1L1223.4 684.8z" fill="#3a538b" stroke="#3a538b"/><path d="M1109.5 573.2L1122.8 589.6L1130.2 575.9L1116.9 559.5z" fill="#27808e" stroke="#27808e"/><path d="M726.4 238.7L739.6 247.8L747.5 238.5L734.2 229.6z" fill="#bddf26" stroke="#bddf26"/><path d="M896.1 327.1L909.5 340.1L917.1 328.5L903.7 315.7z" fill="#6ccd5a" stroke="#6ccd5a"/><path d="M1229.5 711.6L1242.8 725.3L1250.1 713L1236.7 699.1z" fill="#3d4e8a" stroke="#3d4e8a"/><path d="M644.3 214.9L657.5 222.7L665.5 214.1L652.3 206.5z" fill="#d5e21a" stroke="#d5e21a"/><path d="M774 257.5L787.4 267.6L795.1 257.7L781.8 247.9z" fill="#aadc32" stroke="#aadc32"/><path d="M1096.1 556.8L1109.5 573.2L1116.9 559.5L1103.6 543.1z" fill="#25858e" stroke="#25858e"/><path d="M1082.8 540.2L1096.1 556.8L1103.6 543.1L1090.3 526.5z" fill="#228b8d" stroke="#228b8d"/><path d="M1242.8 725.3L1256.3 738.6L1263.5 726.6L1250.1 713z" fill="#3e4989" stroke="#3e4989"/><path d="M909.5 340.1L922.8 353.6L930.4 341.7L917.1 328.5z" fill="#63cb5f" stroke="#63cb5f"/><path d="M835.1 289.7L848.4 301.3L856.1 290.6L842.8 279.3z" fill="#8ed645" stroke="#8ed645"/><path d="M1069.5 523.7L1082.8 540.2L1090.3 526.5L1077 510z" fill="#21918c" stroke="#21918c"/><path d="M609.9 208.3L623.1 215.6L631.1 207.4L617.9 200.2z" fill="#dae319" stroke="#dae319"/><path d="M1056.2 507.2L1069.5 523.7L1077 510L1063.7 493.6z" fill="#1f968b" stroke="#1f968b"/><path d="M922.8 353.6L936.2 367.4L943.7 355.4L930.4 341.7z" fill="#58c765" stroke="#58c765"/><path d="M691.9 230.3L705.2 238.9L713.1 229.9L699.8 221.5z" fill="#c8e020" stroke="#c8e020"/><path d="M1256.3 738.6L1269.7 751.5L1276.9 739.7L1263.5 726.6z" fill="#414487" stroke="#414487"/><path d="M575.5 202.2L588.7 209.2L596.7 201.2L583.6 194.3z" fill="#e2e418" stroke="#e2e418"/><path d="M1042.9 490.8L1056.2 507.2L1063.7 493.6L1050.4 477.2z" fill="#1e9c89" stroke="#1e9c89"/><path d="M936.2 367.4L949.5 381.7L957.1 369.4L943.7 355.4z" fill="#4ec36b" stroke="#4ec36b"/><path d="M787.4 267.6L800.7 278.1L808.4 268L795.1 257.7z" fill="#a2da37" stroke="#a2da37"/><path d="M1029.5 474.5L1042.9 490.8L1050.4 477.2L1037 461z" fill="#1fa187" stroke="#1fa187"/><path d="M739.6 247.8L752.9 257.3L760.8 247.8L747.5 238.5z" fill="#b5de2b" stroke="#b5de2b"/><path d="M848.4 301.3L861.8 313.3L869.4 302.3L856.1 290.6z" fill="#84d44b" stroke="#84d44b"/><path d="M949.5 381.7L962.8 396.4L970.4 383.9L957.1 369.4z" fill="#44bf70" stroke="#44bf70"/><path d="M1016.2 458.3L1029.5 474.5L1037 461L1023.7 445z" fill="#22a785" stroke="#22a785"/><path d="M962.8 396.4L976.2 411.4L983.7 398.7L970.4 383.9z" fill="#3bbb75" stroke="#3bbb75"/><path d="M1002.9 442.4L1016.2 458.3L1023.7 445L1010.4 429.3z" fill="#25ac82" stroke="#25ac82"/><path d="M989.5 426.8L1002.9 442.4L1010.4 429.3L997.1 413.8z" fill="#2cb17e" stroke="#2cb17e"/><path d="M976.2 411.4L989.5 426.8L997.1 413.8L983.7 398.7z" fill="#34b679" stroke="#34b679"/><path d="M657.5 222.7L670.8 230.8L678.7 222.1L665.5 214.1z" fill="#d0e11c" stroke="#d0e11c"/><path d="M861.8 313.3L875.1 325.7L882.8 314.5L869.4 302.3z" fill="#7ad151" stroke="#7ad151"/><path d="M800.7 278.1L814 289L821.7 278.6L808.4 268z" fill="#9bd93c" stroke="#9bd93c"/><path d="M1155.3 650.8L1168.7 666.1L1176 653L1162.7 637.5z" fill="#31668e" stroke="#31668e"/><path d="M623.1 215.6L636.3 223.3L644.3 214.9L631.1 207.4z" fill="#d8e219" stroke="#d8e219"/><path d="M1142 635.2L1155.3 650.8L1162.7 637.5L1149.4 621.7z" fill="#2f6c8e" stroke="#2f6c8e"/><path d="M1168.7 666.1L1182.1 681.1L1189.4 668.2L1176 653z" fill="#34618d" stroke="#34618d"/><path d="M705.2 238.9L718.5 247.9L726.4 238.7L713.1 229.9z" fill="#c0df25" stroke="#c0df25"/><path d="M1128.7 619.3L1142 635.2L1149.4 621.7L1136.1 605.8z" fill="#2c718e" stroke="#2c718e"/><path d="M1182.1 681.1L1195.4 695.8L1202.7 683L1189.4 668.2z" fill="#365c8d" stroke="#365c8d"/><path d="M752.9 257.3L766.2 267.3L774 257.5L760.8 247.8z" fill="#b0dd2f" stroke="#b0dd2f"/><path d="M1115.3 603.2L1128.7 619.3L1136.1 605.8L1122.8 589.6z" fill="#2a768e" stroke="#2a768e"/><path d="M1195.4 695.8L1208.8 710.1L1216.1 697.5L1202.7 683z" fill="#39568c" stroke="#39568c"/><path d="M875.1 325.7L888.5 338.5L896.1 327.1L882.8 314.5z" fill="#70cf57" stroke="#70cf57"/><path d="M1102 586.9L1115.3 603.2L1122.8 589.6L1109.5 573.2z" fill="#287c8e" stroke="#287c8e"/><path d="M588.7 209.2L601.8 216.5L609.9 208.3L596.7 201.2z" fill="#dde318" stroke="#dde318"/><path d="M1208.8 710.1L1222.2 724L1229.5 711.6L1216.1 697.5z" fill="#3b518b" stroke="#3b518b"/><path d="M1088.7 570.5L1102 586.9L1109.5 573.2L1096.1 556.8z" fill="#26828e" stroke="#26828e"/><path d="M814 289L827.4 300.4L835.1 289.7L821.7 278.6z" fill="#93d741" stroke="#93d741"/><path d="M1075.4 553.9L1088.7 570.5L1096.1 556.8L1082.8 540.2z" fill="#24878e" stroke="#24878e"/><path d="M554.2 203.4L567.4 210.2L575.5 202.2L562.3 195.5z" fill="#e5e419" stroke="#e5e419"/><path d="M670.8 230.8L684 239.3L691.9 230.3L678.7 222.1z" fill="#cae11f" stroke="#cae11f"/><path d="M1222.2 724L1235.6 737.5L1242.8 725.3L1229.5 711.6z" fill="#3e4c8a" stroke="#3e4c8a"/><path d="M888.5 338.5L901.8 351.8L909.5 340.1L896.1 327.1z" fill="#67cc5c" stroke="#67cc5c"/><path d="M1062 537.4L1075.4 553.9L1082.8 540.2L1069.5 523.7z" fill="#228d8d" stroke="#228d8d"/><path d="M1048.7 520.8L1062 537.4L1069.5 523.7L1056.2 507.2z" fill="#20928c" stroke="#20928c"/><path d="M766.2 267.3L779.6 277.6L787.4 267.6L774 257.5z" fill="#a8db34" stroke="#a8db34"/><path d="M1235.6 737.5L1249 750.6L1256.3 738.6L1242.8 725.3z" fill="#404688" stroke="#404688"/><path d="M718.5 247.9L731.8 257.3L739.6 247.8L726.4 238.7z" fill="#bade28" stroke="#bade28"/><path d="M901.8 351.8L915.2 365.6L922.8 353.6L909.5 340.1z" fill="#5cc863" stroke="#5cc863"/><path d="M1035.4 504.4L1048.7 520.8L1056.2 507.2L1042.9 490.8z" fill="#1f988b" stroke="#1f988b"/><path d="M636.3 223.3L649.5 231.3L657.5 222.7L644.3 214.9z" fill="#d2e21b" stroke="#d2e21b"/><path d="M827.4 300.4L840.7 312.2L848.4 301.3L835.1 289.7z" fill="#89d548" stroke="#89d548"/><path d="M915.2 365.6L928.5 379.7L936.2 367.4L922.8 353.6z" fill="#52c569" stroke="#52c569"/><path d="M1022 488L1035.4 504.4L1042.9 490.8L1029.5 474.5z" fill="#1f9e89" stroke="#1f9e89"/><path d="M1249 750.6L1262.5 763.3L1269.7 751.5L1256.3 738.6z" fill="#424186" stroke="#424186"/><path d="M928.5 379.7L941.9 394.2L949.5 381.7L936.2 367.4z" fill="#48c16e" stroke="#48c16e"/><path d="M1008.7 471.7L1022 488L1029.5 474.5L1016.2 458.3z" fill="#20a386" stroke="#20a386"/><path d="M995.3 455.7L1008.7 471.7L1016.2 458.3L1002.9 442.4z" fill="#23a983" stroke="#23a983"/><path d="M941.9 394.2L955.3 409.1L962.8 396.4L949.5 381.7z" fill="#3fbc73" stroke="#3fbc73"/><path d="M601.8 216.5L615.1 224L623.1 215.6L609.9 208.3z" fill="#d8e219" stroke="#d8e219"/><path d="M982 439.9L995.3 455.7L1002.9 442.4L989.5 426.8z" fill="#28ae80" stroke="#28ae80"/><path d="M955.3 409.1L968.6 424.3L976.2 411.4L962.8 396.4z" fill="#37b878" stroke="#37b878"/><path d="M968.6 424.3L982 439.9L989.5 426.8L976.2 411.4z" fill="#2fb47c" stroke="#2fb47c"/><path d="M684 239.3L697.3 248.1L705.2 238.9L691.9 230.3z" fill="#c2df23" stroke="#c2df23"/><path d="M779.6 277.6L792.9 288.3L800.7 278.1L787.4 267.6z" fill="#9dd93b" stroke="#9dd93b"/><path d="M840.7 312.2L854.1 324.4L861.8 313.3L848.4 301.3z" fill="#7fd34e" stroke="#7fd34e"/><path d="M731.8 257.3L745.1 267L752.9 257.3L739.6 247.8z" fill="#b2dd2d" stroke="#b2dd2d"/><path d="M567.4 210.2L580.6 217.4L588.7 209.2L575.5 202.2z" fill="#dfe318" stroke="#dfe318"/><path d="M1134.6 648.5L1148 664L1155.3 650.8L1142 635.2z" fill="#30698e" stroke="#30698e"/><path d="M1148 664L1161.3 679.2L1168.7 666.1L1155.3 650.8z" fill="#33638d" stroke="#33638d"/><path d="M1121.3 632.7L1134.6 648.5L1142 635.2L1128.7 619.3z" fill="#2e6e8e" stroke="#2e6e8e"/><path d="M1161.3 679.2L1174.7 694L1182.1 681.1L1168.7 666.1z" fill="#355e8d" stroke="#355e8d"/><path d="M854.1 324.4L867.4 337.1L875.1 325.7L861.8 313.3z" fill="#75d054" stroke="#75d054"/><path d="M1107.9 616.7L1121.3 632.7L1128.7 619.3L1115.3 603.2z" fill="#2c738e" stroke="#2c738e"/><path d="M1174.7 694L1188.1 708.5L1195.4 695.8L1182.1 681.1z" fill="#38598c" stroke="#38598c"/><path d="M649.5 231.3L662.8 239.6L670.8 230.8L657.5 222.7z" fill="#cde11d" stroke="#cde11d"/><path d="M1094.6 600.5L1107.9 616.7L1115.3 603.2L1102 586.9z" fill="#29798e" stroke="#29798e"/><path d="M1188.1 708.5L1201.5 722.6L1208.8 710.1L1195.4 695.8z" fill="#3a538b" stroke="#3a538b"/><path d="M792.9 288.3L806.3 299.5L814 289L800.7 278.1z" fill="#95d840" stroke="#95d840"/><path d="M1081.2 584.2L1094.6 600.5L1102 586.9L1088.7 570.5z" fill="#277f8e" stroke="#277f8e"/><path d="M867.4 337.1L880.8 350.2L888.5 338.5L875.1 325.7z" fill="#6ccd5a" stroke="#6ccd5a"/><path d="M1067.9 567.7L1081.2 584.2L1088.7 570.5L1075.4 553.9z" fill="#25848e" stroke="#25848e"/><path d="M1201.5 722.6L1214.9 736.3L1222.2 724L1208.8 710.1z" fill="#3d4e8a" stroke="#3d4e8a"/><path d="M697.3 248.1L710.6 257.3L718.5 247.9L705.2 238.9z" fill="#bddf26" stroke="#bddf26"/><path d="M745.1 267L758.4 277.2L766.2 267.3L752.9 257.3z" fill="#aadc32" stroke="#aadc32"/><path d="M615.1 224L628.3 231.9L636.3 223.3L623.1 215.6z" fill="#d5e21a" stroke="#d5e21a"/><path d="M1054.5 551.1L1067.9 567.7L1075.4 553.9L1062 537.4z" fill="#238a8d" stroke="#238a8d"/><path d="M1214.9 736.3L1228.3 749.5L1235.6 737.5L1222.2 724z" fill="#3f4889" stroke="#3f4889"/><path d="M880.8 350.2L894.2 363.7L901.8 351.8L888.5 338.5z" fill="#60ca60" stroke="#60ca60"/><path d="M1041.2 534.6L1054.5 551.1L1062 537.4L1048.7 520.8z" fill="#21908d" stroke="#21908d"/><path d="M806.3 299.5L819.6 311.1L827.4 300.4L814 289z" fill="#8bd646" stroke="#8bd646"/><path d="M1027.8 518L1041.2 534.6L1048.7 520.8L1035.4 504.4z" fill="#1f958b" stroke="#1f958b"/><path d="M580.6 217.4L593.8 224.8L601.8 216.5L588.7 209.2z" fill="#dae319" stroke="#dae319"/><path d="M894.2 363.7L907.5 377.7L915.2 365.6L901.8 351.8z" fill="#56c667" stroke="#56c667"/><path d="M1228.3 749.5L1241.8 762.4L1249 750.6L1235.6 737.5z" fill="#414487" stroke="#414487"/><path d="M1014.5 501.5L1027.8 518L1035.4 504.4L1022 488z" fill="#1e9b8a" stroke="#1e9b8a"/><path d="M662.8 239.6L676.1 248.3L684 239.3L670.8 230.8z" fill="#c5e021" stroke="#c5e021"/><path d="M907.5 377.7L920.9 392.1L928.5 379.7L915.2 365.6z" fill="#4ec36b" stroke="#4ec36b"/><path d="M1001.1 485.2L1014.5 501.5L1022 488L1008.7 471.7z" fill="#1fa188" stroke="#1fa188"/><path d="M546.1 211.3L559.3 218.3L567.4 210.2L554.2 203.4z" fill="#e2e418" stroke="#e2e418"/><path d="M758.4 277.2L771.8 287.7L779.6 277.6L766.2 267.3z" fill="#a2da37" stroke="#a2da37"/><path d="M987.8 469L1001.1 485.2L1008.7 471.7L995.3 455.7z" fill="#21a685" stroke="#21a685"/><path d="M920.9 392.1L934.3 406.8L941.9 394.2L928.5 379.7z" fill="#44bf70" stroke="#44bf70"/><path d="M710.6 257.3L723.9 266.9L731.8 257.3L718.5 247.9z" fill="#b5de2b" stroke="#b5de2b"/><path d="M819.6 311.1L833 323.2L840.7 312.2L827.4 300.4z" fill="#84d44b" stroke="#84d44b"/><path d="M974.4 453L987.8 469L995.3 455.7L982 439.9z" fill="#25ac82" stroke="#25ac82"/><path d="M934.3 406.8L947.7 421.9L955.3 409.1L941.9 394.2z" fill="#3aba76" stroke="#3aba76"/><path d="M1241.8 762.4L1255.2 774.9L1262.5 763.3L1249 750.6z" fill="#423f85" stroke="#423f85"/><path d="M961 437.3L974.4 453L982 439.9L968.6 424.3z" fill="#2ab07f" stroke="#2ab07f"/><path d="M947.7 421.9L961 437.3L968.6 424.3L955.3 409.1z" fill="#32b67a" stroke="#32b67a"/><path d="M628.3 231.9L641.6 240.1L649.5 231.3L636.3 223.3z" fill="#d0e11c" stroke="#d0e11c"/><path d="M833 323.2L846.3 335.7L854.1 324.4L840.7 312.2z" fill="#7ad151" stroke="#7ad151"/><path d="M1127.2 661.8L1140.6 677.1L1148 664L1134.6 648.5z" fill="#31668e" stroke="#31668e"/><path d="M1113.8 646.2L1127.2 661.8L1134.6 648.5L1121.3 632.7z" fill="#2f6b8e" stroke="#2f6b8e"/><path d="M1140.6 677.1L1154 692.1L1161.3 679.2L1148 664z" fill="#34608d" stroke="#34608d"/><path d="M771.8 287.7L785.1 298.7L792.9 288.3L779.6 277.6z" fill="#9bd93c" stroke="#9bd93c"/><path d="M1100.5 630.3L1113.8 646.2L1121.3 632.7L1107.9 616.7z" fill="#2d718e" stroke="#2d718e"/><path d="M1154 692.1L1167.3 706.8L1174.7 694L1161.3 679.2z" fill="#375b8d" stroke="#375b8d"/><path d="M676.1 248.3L689.4 257.4L697.3 248.1L684 239.3z" fill="#c0df25" stroke="#c0df25"/><path d="M593.8 224.8L607 232.5L615.1 224L601.8 216.5z" fill="#d5e21a" stroke="#d5e21a"/><path d="M1087.1 614.2L1100.5 630.3L1107.9 616.7L1094.6 600.5z" fill="#2a768e" stroke="#2a768e"/><path d="M1167.3 706.8L1180.8 721.1L1188.1 708.5L1174.7 694z" fill="#39558c" stroke="#39558c"/><path d="M723.9 266.9L737.2 276.8L745.1 267L731.8 257.3z" fill="#addc30" stroke="#addc30"/><path d="M1073.7 597.9L1087.1 614.2L1094.6 600.5L1081.2 584.2z" fill="#287c8e" stroke="#287c8e"/><path d="M846.3 335.7L859.7 348.6L867.4 337.1L854.1 324.4z" fill="#70cf57" stroke="#70cf57"/><path d="M1180.8 721.1L1194.2 734.9L1201.5 722.6L1188.1 708.5z" fill="#3c508b" stroke="#3c508b"/><path d="M1060.4 581.4L1073.7 597.9L1081.2 584.2L1067.9 567.7z" fill="#26828e" stroke="#26828e"/><path d="M559.3 218.3L572.5 225.6L580.6 217.4L567.4 210.2z" fill="#dde318" stroke="#dde318"/><path d="M1047 564.9L1060.4 581.4L1067.9 567.7L1054.5 551.1z" fill="#24878e" stroke="#24878e"/><path d="M785.1 298.7L798.5 310.2L806.3 299.5L792.9 288.3z" fill="#90d743" stroke="#90d743"/><path d="M1194.2 734.9L1207.6 748.4L1214.9 736.3L1201.5 722.6z" fill="#3e4a89" stroke="#3e4a89"/><path d="M859.7 348.6L873.1 362L880.8 350.2L867.4 337.1z" fill="#65cb5e" stroke="#65cb5e"/><path d="M641.6 240.1L654.8 248.6L662.8 239.6L649.5 231.3z" fill="#c8e020" stroke="#c8e020"/><path d="M1033.7 548.3L1047 564.9L1054.5 551.1L1041.2 534.6z" fill="#228d8d" stroke="#228d8d"/><path d="M1020.3 531.7L1033.7 548.3L1041.2 534.6L1027.8 518z" fill="#20928c" stroke="#20928c"/><path d="M873.1 362L886.5 375.8L894.2 363.7L880.8 350.2z" fill="#5cc863" stroke="#5cc863"/><path d="M1207.6 748.4L1221.1 761.5L1228.3 749.5L1214.9 736.3z" fill="#404688" stroke="#404688"/><path d="M737.2 276.8L750.6 287.2L758.4 277.2L745.1 267z" fill="#a5db36" stroke="#a5db36"/><path d="M689.4 257.4L702.7 266.8L710.6 257.3L697.3 248.1z" fill="#b8de29" stroke="#b8de29"/><path d="M1006.9 515.2L1020.3 531.7L1027.8 518L1014.5 501.5z" fill="#1f988b" stroke="#1f988b"/><path d="M886.5 375.8L899.9 390L907.5 377.7L894.2 363.7z" fill="#52c569" stroke="#52c569"/><path d="M798.5 310.2L811.9 322.1L819.6 311.1L806.3 299.5z" fill="#86d549" stroke="#86d549"/><path d="M993.6 498.7L1006.9 515.2L1014.5 501.5L1001.1 485.2z" fill="#1f9e89" stroke="#1f9e89"/><path d="M607 232.5L620.3 240.6L628.3 231.9L615.1 224z" fill="#d0e11c" stroke="#d0e11c"/><path d="M1221.1 761.5L1234.5 774.2L1241.8 762.4L1228.3 749.5z" fill="#424086" stroke="#424086"/><path d="M980.2 482.4L993.6 498.7L1001.1 485.2L987.8 469z" fill="#20a386" stroke="#20a386"/><path d="M899.9 390L913.3 404.6L920.9 392.1L907.5 377.7z" fill="#48c16e" stroke="#48c16e"/><path d="M966.8 466.3L980.2 482.4L987.8 469L974.4 453z" fill="#23a983" stroke="#23a983"/><path d="M913.3 404.6L926.7 419.6L934.3 406.8L920.9 392.1z" fill="#3fbc73" stroke="#3fbc73"/><path d="M953.4 450.5L966.8 466.3L974.4 453L961 437.3z" fill="#27ad81" stroke="#27ad81"/><path d="M926.7 419.6L940 434.9L947.7 421.9L934.3 406.8z" fill="#35b779" stroke="#35b779"/><path d="M940 434.9L953.4 450.5L961 437.3L947.7 421.9z" fill="#2eb37c" stroke="#2eb37c"/><path d="M572.5 225.6L585.7 233.3L593.8 224.8L580.6 217.4z" fill="#d8e219" stroke="#d8e219"/><path d="M654.8 248.6L668.1 257.5L676.1 248.3L662.8 239.6z" fill="#c2df23" stroke="#c2df23"/><path d="M811.9 322.1L825.2 334.4L833 323.2L819.6 311.1z" fill="#7fd34e" stroke="#7fd34e"/><path d="M750.6 287.2L763.9 298.1L771.8 287.7L758.4 277.2z" fill="#9dd93b" stroke="#9dd93b"/><path d="M1234.5 774.2L1248 786.4L1255.2 774.9L1241.8 762.4z" fill="#443b84" stroke="#443b84"/><path d="M702.7 266.8L716 276.6L723.9 266.9L710.6 257.3z" fill="#b2dd2d" stroke="#b2dd2d"/><path d="M537.9 219.3L551.1 226.5L559.3 218.3L546.1 211.3z" fill="#dfe318" stroke="#dfe318"/><path d="M1106.4 659.5L1119.8 675L1127.2 661.8L1113.8 646.2z" fill="#31688e" stroke="#31688e"/><path d="M1119.8 675L1133.2 690.2L1140.6 677.1L1127.2 661.8z" fill="#33638d" stroke="#33638d"/><path d="M1093 643.8L1106.4 659.5L1113.8 646.2L1100.5 630.3z" fill="#2e6e8e" stroke="#2e6e8e"/><path d="M1133.2 690.2L1146.6 705L1154 692.1L1140.6 677.1z" fill="#365d8d" stroke="#365d8d"/><path d="M1079.6 627.8L1093 643.8L1100.5 630.3L1087.1 614.2z" fill="#2c738e" stroke="#2c738e"/><path d="M825.2 334.4L838.6 347.1L846.3 335.7L833 323.2z" fill="#73d056" stroke="#73d056"/><path d="M1146.6 705L1160 719.5L1167.3 706.8L1154 692.1z" fill="#38588c" stroke="#38588c"/><path d="M1066.2 611.6L1079.6 627.8L1087.1 614.2L1073.7 597.9z" fill="#2a788e" stroke="#2a788e"/><path d="M620.3 240.6L633.5 249L641.6 240.1L628.3 231.9z" fill="#cae11f" stroke="#cae11f"/><path d="M1160 719.5L1173.4 733.6L1180.8 721.1L1167.3 706.8z" fill="#3b528b" stroke="#3b528b"/><path d="M1052.9 595.2L1066.2 611.6L1073.7 597.9L1060.4 581.4z" fill="#277e8e" stroke="#277e8e"/><path d="M763.9 298.1L777.3 309.3L785.1 298.7L771.8 287.7z" fill="#95d840" stroke="#95d840"/><path d="M1039.5 578.7L1052.9 595.2L1060.4 581.4L1047 564.9z" fill="#25838e" stroke="#25838e"/><path d="M838.6 347.1L852 360.3L859.7 348.6L846.3 335.7z" fill="#69cd5b" stroke="#69cd5b"/><path d="M1173.4 733.6L1186.8 747.2L1194.2 734.9L1180.8 721.1z" fill="#3d4d8a" stroke="#3d4d8a"/><path d="M668.1 257.5L681.4 266.8L689.4 257.4L676.1 248.3z" fill="#bade28" stroke="#bade28"/><path d="M1026.1 562.1L1039.5 578.7L1047 564.9L1033.7 548.3z" fill="#23898e" stroke="#23898e"/><path d="M716 276.6L729.4 286.8L737.2 276.8L723.9 266.9z" fill="#aadc32" stroke="#aadc32"/><path d="M585.7 233.3L598.9 241.2L607 232.5L593.8 224.8z" fill="#d2e21b" stroke="#d2e21b"/><path d="M1012.7 545.5L1026.1 562.1L1033.7 548.3L1020.3 531.7z" fill="#218f8d" stroke="#218f8d"/><path d="M1186.8 747.2L1200.3 760.5L1207.6 748.4L1194.2 734.9z" fill="#3f4889" stroke="#3f4889"/><path d="M852 360.3L865.4 374L873.1 362L859.7 348.6z" fill="#60ca60" stroke="#60ca60"/><path d="M777.3 309.3L790.7 321L798.5 310.2L785.1 298.7z" fill="#8bd646" stroke="#8bd646"/><path d="M999.4 528.9L1012.7 545.5L1020.3 531.7L1006.9 515.2z" fill="#1f948c" stroke="#1f948c"/><path d="M865.4 374L878.8 388L886.5 375.8L873.1 362z" fill="#56c667" stroke="#56c667"/><path d="M551.1 226.5L564.3 234L572.5 225.6L559.3 218.3z" fill="#dae319" stroke="#dae319"/><path d="M986 512.4L999.4 528.9L1006.9 515.2L993.6 498.7z" fill="#1f9a8a" stroke="#1f9a8a"/><path d="M1200.3 760.5L1213.8 773.4L1221.1 761.5L1207.6 748.4z" fill="#414287" stroke="#414287"/><path d="M972.6 496L986 512.4L993.6 498.7L980.2 482.4z" fill="#1fa088" stroke="#1fa088"/><path d="M633.5 249L646.8 257.7L654.8 248.6L641.6 240.1z" fill="#c5e021" stroke="#c5e021"/><path d="M878.8 388L892.2 402.4L899.9 390L886.5 375.8z" fill="#4cc26c" stroke="#4cc26c"/><path d="M959.2 479.7L972.6 496L980.2 482.4L966.8 466.3z" fill="#21a585" stroke="#21a585"/><path d="M729.4 286.8L742.7 297.5L750.6 287.2L737.2 276.8z" fill="#a2da37" stroke="#a2da37"/><path d="M892.2 402.4L905.6 417.3L913.3 404.6L899.9 390z" fill="#42be71" stroke="#42be71"/><path d="M945.8 463.7L959.2 479.7L966.8 466.3L953.4 450.5z" fill="#25ab82" stroke="#25ab82"/><path d="M790.7 321L804.1 333.2L811.9 322.1L798.5 310.2z" fill="#81d34d" stroke="#81d34d"/><path d="M905.6 417.3L919 432.4L926.7 419.6L913.3 404.6z" fill="#3aba76" stroke="#3aba76"/><path d="M681.4 266.8L694.8 276.4L702.7 266.8L689.4 257.4z" fill="#b5de2b" stroke="#b5de2b"/><path d="M932.4 447.9L945.8 463.7L953.4 450.5L940 434.9z" fill="#2ab07f" stroke="#2ab07f"/><path d="M919 432.4L932.4 447.9L940 434.9L926.7 419.6z" fill="#31b57b" stroke="#31b57b"/><path d="M1213.8 773.4L1227.3 785.8L1234.5 774.2L1221.1 761.5z" fill="#433e85" stroke="#433e85"/><path d="M598.9 241.2L612.2 249.4L620.3 240.6L607 232.5z" fill="#cde11d" stroke="#cde11d"/><path d="M804.1 333.2L817.5 345.7L825.2 334.4L811.9 322.1z" fill="#77d153" stroke="#77d153"/><path d="M1098.9 672.9L1112.3 688.2L1119.8 675L1106.4 659.5z" fill="#32658e" stroke="#32658e"/><path d="M1085.5 657.2L1098.9 672.9L1106.4 659.5L1093 643.8z" fill="#2f6b8e" stroke="#2f6b8e"/><path d="M1112.3 688.2L1125.7 703.2L1133.2 690.2L1119.8 675z" fill="#34608d" stroke="#34608d"/><path d="M1227.3 785.8L1240.8 797.9L1248 786.4L1234.5 774.2z" fill="#443983" stroke="#443983"/><path d="M1072.1 641.3L1085.5 657.2L1093 643.8L1079.6 627.8z" fill="#2d708e" stroke="#2d708e"/><path d="M742.7 297.5L756.1 308.5L763.9 298.1L750.6 287.2z" fill="#98d83e" stroke="#98d83e"/><path d="M1125.7 703.2L1139.2 717.8L1146.6 705L1133.2 690.2z" fill="#375a8c" stroke="#375a8c"/><path d="M1058.7 625.2L1072.1 641.3L1079.6 627.8L1066.2 611.6z" fill="#2b758e" stroke="#2b758e"/><path d="M646.8 257.7L660.1 266.8L668.1 257.5L654.8 248.6z" fill="#c0df25" stroke="#c0df25"/><path d="M1139.2 717.8L1152.6 732.1L1160 719.5L1146.6 705z" fill="#3a548c" stroke="#3a548c"/><path d="M1045.3 608.9L1058.7 625.2L1066.2 611.6L1052.9 595.2z" fill="#297b8e" stroke="#297b8e"/><path d="M564.3 234L577.6 241.8L585.7 233.3L572.5 225.6z" fill="#d5e21a" stroke="#d5e21a"/><path d="M694.8 276.4L708.1 286.5L716 276.6L702.7 266.8z" fill="#addc30" stroke="#addc30"/><path d="M817.5 345.7L830.9 358.8L838.6 347.1L825.2 334.4z" fill="#6ece58" stroke="#6ece58"/><path d="M1032 592.4L1045.3 608.9L1052.9 595.2L1039.5 578.7z" fill="#26818e" stroke="#26818e"/><path d="M1152.6 732.1L1166 746L1173.4 733.6L1160 719.5z" fill="#3c4f8a" stroke="#3c4f8a"/><path d="M1018.6 575.9L1032 592.4L1039.5 578.7L1026.1 562.1z" fill="#24868e" stroke="#24868e"/><path d="M529.7 227.5L543 234.9L551.1 226.5L537.9 219.3z" fill="#dde318" stroke="#dde318"/><path d="M1166 746L1179.5 759.4L1186.8 747.2L1173.4 733.6z" fill="#3e4a89" stroke="#3e4a89"/><path d="M830.9 358.8L844.3 372.2L852 360.3L838.6 347.1z" fill="#65cb5e" stroke="#65cb5e"/><path d="M756.1 308.5L769.5 320.1L777.3 309.3L763.9 298.1z" fill="#90d743" stroke="#90d743"/><path d="M1005.2 559.3L1018.6 575.9L1026.1 562.1L1012.7 545.5z" fill="#228c8d" stroke="#228c8d"/><path d="M612.2 249.4L625.5 258L633.5 249L620.3 240.6z" fill="#c8e020" stroke="#c8e020"/><path d="M991.8 542.6L1005.2 559.3L1012.7 545.5L999.4 528.9z" fill="#20928c" stroke="#20928c"/><path d="M844.3 372.2L857.7 386.1L865.4 374L852 360.3z" fill="#5ac864" stroke="#5ac864"/><path d="M1179.5 759.4L1193 772.5L1200.3 760.5L1186.8 747.2z" fill="#404588" stroke="#404588"/><path d="M978.4 526.1L991.8 542.6L999.4 528.9L986 512.4z" fill="#1f978b" stroke="#1f978b"/><path d="M708.1 286.5L721.5 297L729.4 286.8L716 276.6z" fill="#a5db36" stroke="#a5db36"/><path d="M660.1 266.8L673.5 276.3L681.4 266.8L668.1 257.5z" fill="#b8de29" stroke="#b8de29"/><path d="M965 509.6L978.4 526.1L986 512.4L972.6 496z" fill="#1e9d89" stroke="#1e9d89"/><path d="M857.7 386.1L871.1 400.4L878.8 388L865.4 374z" fill="#50c46a" stroke="#50c46a"/><path d="M769.5 320.1L782.9 332L790.7 321L777.3 309.3z" fill="#86d549" stroke="#86d549"/><path d="M951.6 493.2L965 509.6L972.6 496L959.2 479.7z" fill="#1fa287" stroke="#1fa287"/><path d="M577.6 241.8L590.9 249.9L598.9 241.2L585.7 233.3z" fill="#d0e11c" stroke="#d0e11c"/><path d="M871.1 400.4L884.5 415L892.2 402.4L878.8 388z" fill="#46c06f" stroke="#46c06f"/><path d="M1193 772.5L1206.5 785.1L1213.8 773.4L1200.3 760.5z" fill="#424086" stroke="#424086"/><path d="M938.2 477.1L951.6 493.2L959.2 479.7L945.8 463.7z" fill="#22a884" stroke="#22a884"/><path d="M884.5 415L897.9 430.1L905.6 417.3L892.2 402.4z" fill="#3dbc74" stroke="#3dbc74"/><path d="M924.8 461.1L938.2 477.1L945.8 463.7L932.4 447.9z" fill="#27ad81" stroke="#27ad81"/><path d="M897.9 430.1L911.3 445.4L919 432.4L905.6 417.3z" fill="#35b779" stroke="#35b779"/><path d="M911.3 445.4L924.8 461.1L932.4 447.9L919 432.4z" fill="#2db27d" stroke="#2db27d"/><path d="M782.9 332L796.3 344.4L804.1 333.2L790.7 321z" fill="#7cd250" stroke="#7cd250"/><path d="M543 234.9L556.2 242.5L564.3 234L551.1 226.5z" fill="#d8e219" stroke="#d8e219"/><path d="M721.5 297L734.8 307.9L742.7 297.5L729.4 286.8z" fill="#9dd93b" stroke="#9dd93b"/><path d="M625.5 258L638.8 267L646.8 257.7L633.5 249z" fill="#c2df23" stroke="#c2df23"/><path d="M1206.5 785.1L1220 797.4L1227.3 785.8L1213.8 773.4z" fill="#443b84" stroke="#443b84"/><path d="M673.5 276.3L686.8 286.2L694.8 276.4L681.4 266.8z" fill="#b0dd2f" stroke="#b0dd2f"/><path d="M1078 670.6L1091.4 686.1L1098.9 672.9L1085.5 657.2z" fill="#31688e" stroke="#31688e"/><path d="M1091.4 686.1L1104.9 701.3L1112.3 688.2L1098.9 672.9z" fill="#33628d" stroke="#33628d"/><path d="M1064.6 654.9L1078 670.6L1085.5 657.2L1072.1 641.3z" fill="#2e6d8e" stroke="#2e6d8e"/><path d="M1104.9 701.3L1118.3 716.1L1125.7 703.2L1112.3 688.2z" fill="#365d8d" stroke="#365d8d"/><path d="M1051.2 638.8L1064.6 654.9L1072.1 641.3L1058.7 625.2z" fill="#2c728e" stroke="#2c728e"/><path d="M1118.3 716.1L1131.7 730.5L1139.2 717.8L1125.7 703.2z" fill="#38588c" stroke="#38588c"/><path d="M1037.8 622.6L1051.2 638.8L1058.7 625.2L1045.3 608.9z" fill="#2a788e" stroke="#2a788e"/><path d="M796.3 344.4L809.7 357.3L817.5 345.7L804.1 333.2z" fill="#73d056" stroke="#73d056"/><path d="M1220 797.4L1233.5 809.2L1240.8 797.9L1227.3 785.8z" fill="#453781" stroke="#453781"/><path d="M1024.4 606.2L1037.8 622.6L1045.3 608.9L1032 592.4z" fill="#277e8e" stroke="#277e8e"/><path d="M1131.7 730.5L1145.2 744.6L1152.6 732.1L1139.2 717.8z" fill="#3b528b" stroke="#3b528b"/><path d="M590.9 249.9L604.1 258.4L612.2 249.4L598.9 241.2z" fill="#cae11f" stroke="#cae11f"/><path d="M734.8 307.9L748.2 319.2L756.1 308.5L742.7 297.5z" fill="#93d741" stroke="#93d741"/><path d="M1011 589.7L1024.4 606.2L1032 592.4L1018.6 575.9z" fill="#25838e" stroke="#25838e"/><path d="M809.7 357.3L823.1 370.5L830.9 358.8L817.5 345.7z" fill="#69cd5b" stroke="#69cd5b"/><path d="M1145.2 744.6L1158.7 758.3L1166 746L1152.6 732.1z" fill="#3d4d8a" stroke="#3d4d8a"/><path d="M997.6 573.1L1011 589.7L1018.6 575.9L1005.2 559.3z" fill="#23898e" stroke="#23898e"/><path d="M638.8 267L652.1 276.3L660.1 266.8L646.8 257.7z" fill="#bade28" stroke="#bade28"/><path d="M686.8 286.2L700.2 296.5L708.1 286.5L694.8 276.4z" fill="#a8db34" stroke="#a8db34"/><path d="M984.2 556.4L997.6 573.1L1005.2 559.3L991.8 542.6z" fill="#218f8d" stroke="#218f8d"/><path d="M1158.7 758.3L1172.1 771.5L1179.5 759.4L1166 746z" fill="#3f4788" stroke="#3f4788"/><path d="M823.1 370.5L836.5 384.2L844.3 372.2L830.9 358.8z" fill="#5ec962" stroke="#5ec962"/><path d="M556.2 242.5L569.5 250.5L577.6 241.8L564.3 234z" fill="#d2e21b" stroke="#d2e21b"/><path d="M970.8 539.8L984.2 556.4L991.8 542.6L978.4 526.1z" fill="#1f948c" stroke="#1f948c"/><path d="M748.2 319.2L761.6 331L769.5 320.1L756.1 308.5z" fill="#8bd646" stroke="#8bd646"/><path d="M957.3 523.2L970.8 539.8L978.4 526.1L965 509.6z" fill="#1f9a8a" stroke="#1f9a8a"/><path d="M836.5 384.2L849.9 398.4L857.7 386.1L844.3 372.2z" fill="#54c568" stroke="#54c568"/><path d="M1172.1 771.5L1185.6 784.4L1193 772.5L1179.5 759.4z" fill="#414287" stroke="#414287"/><path d="M943.9 506.8L957.3 523.2L965 509.6L951.6 493.2z" fill="#1fa088" stroke="#1fa088"/><path d="M521.5 235.7L534.8 243.3L543 234.9L529.7 227.5z" fill="#dae319" stroke="#dae319"/><path d="M849.9 398.4L863.4 412.9L871.1 400.4L857.7 386.1z" fill="#4ac16d" stroke="#4ac16d"/><path d="M930.5 490.5L943.9 506.8L951.6 493.2L938.2 477.1z" fill="#21a585" stroke="#21a585"/><path d="M604.1 258.4L617.4 267.2L625.5 258L612.2 249.4z" fill="#c5e021" stroke="#c5e021"/><path d="M863.4 412.9L876.8 427.8L884.5 415L871.1 400.4z" fill="#40bd72" stroke="#40bd72"/><path d="M917.1 474.4L930.5 490.5L938.2 477.1L924.8 461.1z" fill="#24aa83" stroke="#24aa83"/><path d="M700.2 296.5L713.6 307.2L721.5 297L708.1 286.5z" fill="#a0da39" stroke="#a0da39"/><path d="M876.8 427.8L890.2 443L897.9 430.1L884.5 415z" fill="#38b977" stroke="#38b977"/><path d="M903.7 458.6L917.1 474.4L924.8 461.1L911.3 445.4z" fill="#29af7f" stroke="#29af7f"/><path d="M890.2 443L903.7 458.6L911.3 445.4L897.9 430.1z" fill="#31b57b" stroke="#31b57b"/><path d="M761.6 331L775 343.2L782.9 332L769.5 320.1z" fill="#81d34d" stroke="#81d34d"/><path d="M652.1 276.3L665.5 286L673.5 276.3L660.1 266.8z" fill="#b2dd2d" stroke="#b2dd2d"/><path d="M1185.6 784.4L1199.1 796.8L1206.5 785.1L1193 772.5z" fill="#433e85" stroke="#433e85"/><path d="M569.5 250.5L582.7 258.8L590.9 249.9L577.6 241.8z" fill="#cde11d" stroke="#cde11d"/><path d="M1070.5 684L1084 699.3L1091.4 686.1L1078 670.6z" fill="#32648e" stroke="#32648e"/><path d="M1057.1 668.3L1070.5 684L1078 670.6L1064.6 654.9z" fill="#306a8e" stroke="#306a8e"/><path d="M775 343.2L788.5 355.8L796.3 344.4L782.9 332z" fill="#77d153" stroke="#77d153"/><path d="M1084 699.3L1097.4 714.3L1104.9 701.3L1091.4 686.1z" fill="#355f8d" stroke="#355f8d"/><path d="M1043.7 652.4L1057.1 668.3L1064.6 654.9L1051.2 638.8z" fill="#2d708e" stroke="#2d708e"/><path d="M1199.1 796.8L1212.7 808.8L1220 797.4L1206.5 785.1z" fill="#443983" stroke="#443983"/><path d="M1097.4 714.3L1110.8 728.9L1118.3 716.1L1104.9 701.3z" fill="#375a8c" stroke="#375a8c"/><path d="M1030.2 636.3L1043.7 652.4L1051.2 638.8L1037.8 622.6z" fill="#2b748e" stroke="#2b748e"/><path d="M713.6 307.2L726.9 318.4L734.8 307.9L721.5 297z" fill="#98d83e" stroke="#98d83e"/><path d="M1016.8 620L1030.2 636.3L1037.8 622.6L1024.4 606.2z" fill="#297a8e" stroke="#297a8e"/><path d="M1110.8 728.9L1124.3 743.2L1131.7 730.5L1118.3 716.1z" fill="#3a548c" stroke="#3a548c"/><path d="M617.4 267.2L630.8 276.4L638.8 267L625.5 258z" fill="#bddf26" stroke="#bddf26"/><path d="M1003.4 603.5L1016.8 620L1024.4 606.2L1011 589.7z" fill="#27808e" stroke="#27808e"/><path d="M534.8 243.3L548 251.1L556.2 242.5L543 234.9z" fill="#d5e21a" stroke="#d5e21a"/><path d="M788.5 355.8L801.9 368.9L809.7 357.3L796.3 344.4z" fill="#6ece58" stroke="#6ece58"/><path d="M665.5 286L678.9 296.2L686.8 286.2L673.5 276.3z" fill="#addc30" stroke="#addc30"/><path d="M1124.3 743.2L1137.8 757L1145.2 744.6L1131.7 730.5z" fill="#3c4f8a" stroke="#3c4f8a"/><path d="M990 586.9L1003.4 603.5L1011 589.7L997.6 573.1z" fill="#25858e" stroke="#25858e"/><path d="M1212.7 808.8L1226.2 820.4L1233.5 809.2L1220 797.4z" fill="#463480" stroke="#463480"/><path d="M976.6 570.3L990 586.9L997.6 573.1L984.2 556.4z" fill="#228b8d" stroke="#228b8d"/><path d="M1137.8 757L1151.3 770.5L1158.7 758.3L1145.2 744.6z" fill="#3e4989" stroke="#3e4989"/><path d="M801.9 368.9L815.3 382.5L823.1 370.5L809.7 357.3z" fill="#63cb5f" stroke="#63cb5f"/><path d="M726.9 318.4L740.4 330L748.2 319.2L734.8 307.9z" fill="#8ed645" stroke="#8ed645"/><path d="M963.1 553.6L976.6 570.3L984.2 556.4L970.8 539.8z" fill="#21918c" stroke="#21918c"/><path d="M582.7 258.8L596 267.5L604.1 258.4L590.9 249.9z" fill="#c8e020" stroke="#c8e020"/><path d="M815.3 382.5L828.8 396.4L836.5 384.2L823.1 370.5z" fill="#58c765" stroke="#58c765"/><path d="M949.7 537L963.1 553.6L970.8 539.8L957.3 523.2z" fill="#1f968b" stroke="#1f968b"/><path d="M1151.3 770.5L1164.8 783.5L1172.1 771.5L1158.7 758.3z" fill="#404588" stroke="#404588"/><path d="M936.3 520.4L949.7 537L957.3 523.2L943.9 506.8z" fill="#1e9c89" stroke="#1e9c89"/><path d="M678.9 296.2L692.2 306.7L700.2 296.5L686.8 286.2z" fill="#a5db36" stroke="#a5db36"/><path d="M828.8 396.4L842.2 410.8L849.9 398.4L836.5 384.2z" fill="#50c46a" stroke="#50c46a"/><path d="M630.8 276.4L644.1 285.9L652.1 276.3L638.8 267z" fill="#b8de29" stroke="#b8de29"/><path d="M922.8 504L936.3 520.4L943.9 506.8L930.5 490.5z" fill="#1fa187" stroke="#1fa187"/><path d="M740.4 330L753.8 342L761.6 331L748.2 319.2z" fill="#86d549" stroke="#86d549"/><path d="M842.2 410.8L855.6 425.5L863.4 412.9L849.9 398.4z" fill="#46c06f" stroke="#46c06f"/><path d="M909.4 487.8L922.8 504L930.5 490.5L917.1 474.4z" fill="#22a785" stroke="#22a785"/><path d="M1164.8 783.5L1178.3 796.1L1185.6 784.4L1172.1 771.5z" fill="#423f85" stroke="#423f85"/><path d="M548 251.1L561.3 259.3L569.5 250.5L556.2 242.5z" fill="#d0e11c" stroke="#d0e11c"/><path d="M855.6 425.5L869.1 440.6L876.8 427.8L863.4 412.9z" fill="#3bbb75" stroke="#3bbb75"/><path d="M896 471.8L909.4 487.8L917.1 474.4L903.7 458.6z" fill="#26ad81" stroke="#26ad81"/><path d="M869.1 440.6L882.5 456.1L890.2 443L876.8 427.8z" fill="#34b679" stroke="#34b679"/><path d="M882.5 456.1L896 471.8L903.7 458.6L890.2 443z" fill="#2db27d" stroke="#2db27d"/><path d="M753.8 342L767.2 354.5L775 343.2L761.6 331z" fill="#7cd250" stroke="#7cd250"/><path d="M1178.3 796.1L1191.8 808.4L1199.1 796.8L1185.6 784.4z" fill="#443a83" stroke="#443a83"/><path d="M692.2 306.7L705.6 317.7L713.6 307.2L700.2 296.5z" fill="#9bd93c" stroke="#9bd93c"/><path d="M513.3 244.1L526.6 251.8L534.8 243.3L521.5 235.7z" fill="#d8e219" stroke="#d8e219"/><path d="M596 267.5L609.4 276.5L617.4 267.2L604.1 258.4z" fill="#c0df25" stroke="#c0df25"/><path d="M1049.6 681.8L1063 697.2L1070.5 684L1057.1 668.3z" fill="#31678e" stroke="#31678e"/><path d="M1063 697.2L1076.5 712.4L1084 699.3L1070.5 684z" fill="#34618d" stroke="#34618d"/><path d="M1036.1 666L1049.6 681.8L1057.1 668.3L1043.7 652.4z" fill="#2f6c8e" stroke="#2f6c8e"/><path d="M644.1 285.9L657.5 295.9L665.5 286L652.1 276.3z" fill="#b0dd2f" stroke="#b0dd2f"/><path d="M1076.5 712.4L1089.9 727.2L1097.4 714.3L1084 699.3z" fill="#365c8d" stroke="#365c8d"/><path d="M1022.7 650L1036.1 666L1043.7 652.4L1030.2 636.3z" fill="#2c718e" stroke="#2c718e"/><path d="M1009.2 633.7L1022.7 650L1030.2 636.3L1016.8 620z" fill="#2a778e" stroke="#2a778e"/><path d="M1089.9 727.2L1103.4 741.6L1110.8 728.9L1097.4 714.3z" fill="#39568c" stroke="#39568c"/><path d="M767.2 354.5L780.6 367.4L788.5 355.8L775 343.2z" fill="#70cf57" stroke="#70cf57"/><path d="M995.8 617.3L1009.2 633.7L1016.8 620L1003.4 603.5z" fill="#287d8e" stroke="#287d8e"/><path d="M1103.4 741.6L1116.9 755.7L1124.3 743.2L1110.8 728.9z" fill="#3b518b" stroke="#3b518b"/><path d="M1191.8 808.4L1205.4 820.1L1212.7 808.8L1199.1 796.8z" fill="#453781" stroke="#453781"/><path d="M982.4 600.8L995.8 617.3L1003.4 603.5L990 586.9z" fill="#26828e" stroke="#26828e"/><path d="M561.3 259.3L574.6 267.8L582.7 258.8L569.5 250.5z" fill="#cae11f" stroke="#cae11f"/><path d="M705.6 317.7L719 329.1L726.9 318.4L713.6 307.2z" fill="#93d741" stroke="#93d741"/><path d="M1116.9 755.7L1130.4 769.3L1137.8 757L1124.3 743.2z" fill="#3e4c8a" stroke="#3e4c8a"/><path d="M780.6 367.4L794.1 380.8L801.9 368.9L788.5 355.8z" fill="#67cc5c" stroke="#67cc5c"/><path d="M968.9 584.1L982.4 600.8L990 586.9L976.6 570.3z" fill="#23888e" stroke="#23888e"/><path d="M955.5 567.4L968.9 584.1L976.6 570.3L963.1 553.6z" fill="#218e8d" stroke="#218e8d"/><path d="M609.4 276.5L622.7 285.9L630.8 276.4L617.4 267.2z" fill="#bade28" stroke="#bade28"/><path d="M657.5 295.9L670.9 306.3L678.9 296.2L665.5 286z" fill="#a8db34" stroke="#a8db34"/><path d="M1130.4 769.3L1143.9 782.6L1151.3 770.5L1137.8 757z" fill="#3f4788" stroke="#3f4788"/><path d="M794.1 380.8L807.5 394.6L815.3 382.5L801.9 368.9z" fill="#5ec962" stroke="#5ec962"/><path d="M942 550.8L955.5 567.4L963.1 553.6L949.7 537z" fill="#20938c" stroke="#20938c"/><path d="M1205.4 820.1L1218.9 831.5L1226.2 820.4L1212.7 808.8z" fill="#46327e" stroke="#46327e"/><path d="M526.6 251.8L539.8 259.9L548 251.1L534.8 243.3z" fill="#d2e21b" stroke="#d2e21b"/><path d="M719 329.1L732.5 341L740.4 330L726.9 318.4z" fill="#89d548" stroke="#89d548"/><path d="M928.6 534.2L942 550.8L949.7 537L936.3 520.4z" fill="#1f998a" stroke="#1f998a"/><path d="M807.5 394.6L821 408.8L828.8 396.4L815.3 382.5z" fill="#54c568" stroke="#54c568"/><path d="M915.1 517.7L928.6 534.2L936.3 520.4L922.8 504z" fill="#1f9f88" stroke="#1f9f88"/><path d="M1143.9 782.6L1157.4 795.4L1164.8 783.5L1151.3 770.5z" fill="#424186" stroke="#424186"/><path d="M821 408.8L834.4 423.4L842.2 410.8L828.8 396.4z" fill="#4ac16d" stroke="#4ac16d"/><path d="M901.7 501.3L915.1 517.7L922.8 504L909.4 487.8z" fill="#20a486" stroke="#20a486"/><path d="M834.4 423.4L847.9 438.3L855.6 425.5L842.2 410.8z" fill="#40bd72" stroke="#40bd72"/><path d="M888.2 485.2L901.7 501.3L909.4 487.8L896 471.8z" fill="#24aa83" stroke="#24aa83"/><path d="M574.6 267.8L587.9 276.7L596 267.5L582.7 258.8z" fill="#c5e021" stroke="#c5e021"/><path d="M847.9 438.3L861.3 453.6L869.1 440.6L855.6 425.5z" fill="#38b977" stroke="#38b977"/><path d="M874.8 469.3L888.2 485.2L896 471.8L882.5 456.1z" fill="#28ae80" stroke="#28ae80"/><path d="M861.3 453.6L874.8 469.3L882.5 456.1L869.1 440.6z" fill="#2fb47c" stroke="#2fb47c"/><path d="M670.9 306.3L684.3 317.1L692.2 306.7L678.9 296.2z" fill="#a0da39" stroke="#a0da39"/><path d="M732.5 341L745.9 353.2L753.8 342L740.4 330z" fill="#7fd34e" stroke="#7fd34e"/><path d="M1157.4 795.4L1170.9 807.8L1178.3 796.1L1164.8 783.5z" fill="#433d84" stroke="#433d84"/><path d="M622.7 285.9L636.1 295.7L644.1 285.9L630.8 276.4z" fill="#b2dd2d" stroke="#b2dd2d"/><path d="M1042 695.1L1055.5 710.4L1063 697.2L1049.6 681.8z" fill="#32648e" stroke="#32648e"/><path d="M1028.5 679.5L1042 695.1L1049.6 681.8L1036.1 666z" fill="#30698e" stroke="#30698e"/><path d="M1055.5 710.4L1068.9 725.4L1076.5 712.4L1063 697.2z" fill="#355e8d" stroke="#355e8d"/><path d="M1015.1 663.6L1028.5 679.5L1036.1 666L1022.7 650z" fill="#2e6f8e" stroke="#2e6f8e"/><path d="M539.8 259.9L553.1 268.3L561.3 259.3L548 251.1z" fill="#cde11d" stroke="#cde11d"/><path d="M745.9 353.2L759.3 366L767.2 354.5L753.8 342z" fill="#75d054" stroke="#75d054"/><path d="M1001.6 647.4L1015.1 663.6L1022.7 650L1009.2 633.7z" fill="#2b748e" stroke="#2b748e"/><path d="M1068.9 725.4L1082.4 740L1089.9 727.2L1076.5 712.4z" fill="#38598c" stroke="#38598c"/><path d="M1170.9 807.8L1184.5 819.8L1191.8 808.4L1178.3 796.1z" fill="#453882" stroke="#453882"/><path d="M988.2 631.1L1001.6 647.4L1009.2 633.7L995.8 617.3z" fill="#297a8e" stroke="#297a8e"/><path d="M684.3 317.1L697.7 328.3L705.6 317.7L692.2 306.7z" fill="#95d840" stroke="#95d840"/><path d="M1082.4 740L1095.9 754.3L1103.4 741.6L1089.9 727.2z" fill="#3a538b" stroke="#3a538b"/><path d="M974.7 614.6L988.2 631.1L995.8 617.3L982.4 600.8z" fill="#27808e" stroke="#27808e"/><path d="M587.9 276.7L601.3 285.9L609.4 276.5L596 267.5z" fill="#bddf26" stroke="#bddf26"/><path d="M759.3 366L772.8 379.2L780.6 367.4L767.2 354.5z" fill="#6ccd5a" stroke="#6ccd5a"/><path d="M1095.9 754.3L1109.4 768.1L1116.9 755.7L1103.4 741.6z" fill="#3d4e8a" stroke="#3d4e8a"/><path d="M636.1 295.7L649.5 305.9L657.5 295.9L644.1 285.9z" fill="#aadc32" stroke="#aadc32"/><path d="M505.1 252.6L518.3 260.5L526.6 251.8L513.3 244.1z" fill="#d5e21a" stroke="#d5e21a"/><path d="M961.3 598L974.7 614.6L982.4 600.8L968.9 584.1z" fill="#25858e" stroke="#25858e"/><path d="M947.8 581.3L961.3 598L968.9 584.1L955.5 567.4z" fill="#228b8d" stroke="#228b8d"/><path d="M1184.5 819.8L1198 831.4L1205.4 820.1L1191.8 808.4z" fill="#46337f" stroke="#46337f"/><path d="M1109.4 768.1L1122.9 781.6L1130.4 769.3L1116.9 755.7z" fill="#3e4989" stroke="#3e4989"/><path d="M772.8 379.2L786.2 392.8L794.1 380.8L780.6 367.4z" fill="#63cb5f" stroke="#63cb5f"/><path d="M697.7 328.3L711.1 340L719 329.1L705.6 317.7z" fill="#8ed645" stroke="#8ed645"/><path d="M934.4 564.6L947.8 581.3L955.5 567.4L942 550.8z" fill="#21918c" stroke="#21918c"/><path d="M920.9 547.9L934.4 564.6L942 550.8L928.6 534.2z" fill="#1f968b" stroke="#1f968b"/><path d="M786.2 392.8L799.7 406.8L807.5 394.6L794.1 380.8z" fill="#58c765" stroke="#58c765"/><path d="M553.1 268.3L566.5 277L574.6 267.8L561.3 259.3z" fill="#c8e020" stroke="#c8e020"/><path d="M1122.9 781.6L1136.4 794.6L1143.9 782.6L1130.4 769.3z" fill="#414487" stroke="#414487"/><path d="M907.4 531.4L920.9 547.9L928.6 534.2L915.1 517.7z" fill="#1e9c89" stroke="#1e9c89"/><path d="M799.7 406.8L813.2 421.3L821 408.8L807.5 394.6z" fill="#4ec36b" stroke="#4ec36b"/><path d="M649.5 305.9L662.9 316.5L670.9 306.3L657.5 295.9z" fill="#a2da37" stroke="#a2da37"/><path d="M1198 831.4L1211.6 842.6L1218.9 831.5L1205.4 820.1z" fill="#472f7d" stroke="#472f7d"/><path d="M894 514.9L907.4 531.4L915.1 517.7L901.7 501.3z" fill="#1fa187" stroke="#1fa187"/><path d="M601.3 285.9L614.6 295.6L622.7 285.9L609.4 276.5z" fill="#b5de2b" stroke="#b5de2b"/><path d="M711.1 340L724.5 352.1L732.5 341L719 329.1z" fill="#84d44b" stroke="#84d44b"/><path d="M813.2 421.3L826.6 436.1L834.4 423.4L821 408.8z" fill="#44bf70" stroke="#44bf70"/><path d="M880.5 498.6L894 514.9L901.7 501.3L888.2 485.2z" fill="#22a785" stroke="#22a785"/><path d="M1136.4 794.6L1150 807.2L1157.4 795.4L1143.9 782.6z" fill="#423f85" stroke="#423f85"/><path d="M867 482.6L880.5 498.6L888.2 485.2L874.8 469.3z" fill="#25ac82" stroke="#25ac82"/><path d="M826.6 436.1L840.1 451.3L847.9 438.3L834.4 423.4z" fill="#3bbb75" stroke="#3bbb75"/><path d="M853.6 466.8L867 482.6L874.8 469.3L861.3 453.6z" fill="#2cb17e" stroke="#2cb17e"/><path d="M840.1 451.3L853.6 466.8L861.3 453.6L847.9 438.3z" fill="#32b67a" stroke="#32b67a"/><path d="M518.3 260.5L531.6 268.7L539.8 259.9L526.6 251.8z" fill="#d0e11c" stroke="#d0e11c"/><path d="M724.5 352.1L738 364.6L745.9 353.2L732.5 341z" fill="#7ad151" stroke="#7ad151"/><path d="M1150 807.2L1163.5 819.4L1170.9 807.8L1157.4 795.4z" fill="#443a83" stroke="#443a83"/><path d="M662.9 316.5L676.3 327.6L684.3 317.1L670.9 306.3z" fill="#9bd93c" stroke="#9bd93c"/><path d="M1021 692.9L1034.4 708.4L1042 695.1L1028.5 679.5z" fill="#31668e" stroke="#31668e"/><path d="M1007.5 677.2L1021 692.9L1028.5 679.5L1015.1 663.6z" fill="#2f6c8e" stroke="#2f6c8e"/><path d="M1034.4 708.4L1047.9 723.6L1055.5 710.4L1042 695.1z" fill="#34618d" stroke="#34618d"/><path d="M566.5 277L579.8 286.1L587.9 276.7L574.6 267.8z" fill="#c0df25" stroke="#c0df25"/><path d="M994 661.1L1007.5 677.2L1015.1 663.6L1001.6 647.4z" fill="#2c718e" stroke="#2c718e"/><path d="M1047.9 723.6L1061.4 738.4L1068.9 725.4L1055.5 710.4z" fill="#365c8d" stroke="#365c8d"/><path d="M614.6 295.6L628 305.6L636.1 295.7L622.7 285.9z" fill="#b0dd2f" stroke="#b0dd2f"/><path d="M980.5 644.9L994 661.1L1001.6 647.4L988.2 631.1z" fill="#2a768e" stroke="#2a768e"/><path d="M1061.4 738.4L1074.9 752.8L1082.4 740L1068.9 725.4z" fill="#39558c" stroke="#39558c"/><path d="M738 364.6L751.4 377.6L759.3 366L745.9 353.2z" fill="#70cf57" stroke="#70cf57"/><path d="M967.1 628.4L980.5 644.9L988.2 631.1L974.7 614.6z" fill="#287c8e" stroke="#287c8e"/><path d="M1074.9 752.8L1088.4 766.8L1095.9 754.3L1082.4 740z" fill="#3c508b" stroke="#3c508b"/><path d="M953.6 611.9L967.1 628.4L974.7 614.6L961.3 598z" fill="#26828e" stroke="#26828e"/><path d="M1163.5 819.4L1177.1 831.2L1184.5 819.8L1170.9 807.8z" fill="#453581" stroke="#453581"/><path d="M676.3 327.6L689.7 339.1L697.7 328.3L684.3 317.1z" fill="#90d743" stroke="#90d743"/><path d="M940.1 595.2L953.6 611.9L961.3 598L947.8 581.3z" fill="#24878e" stroke="#24878e"/><path d="M531.6 268.7L545 277.3L553.1 268.3L539.8 259.9z" fill="#cae11f" stroke="#cae11f"/><path d="M1088.4 766.8L1101.9 780.5L1109.4 768.1L1095.9 754.3z" fill="#3e4c8a" stroke="#3e4c8a"/><path d="M751.4 377.6L764.9 391.1L772.8 379.2L759.3 366z" fill="#67cc5c" stroke="#67cc5c"/><path d="M926.7 578.5L940.1 595.2L947.8 581.3L934.4 564.6z" fill="#228d8d" stroke="#228d8d"/><path d="M913.2 561.8L926.7 578.5L934.4 564.6L920.9 547.9z" fill="#20928c" stroke="#20928c"/><path d="M764.9 391.1L778.4 404.9L786.2 392.8L772.8 379.2z" fill="#5cc863" stroke="#5cc863"/><path d="M1101.9 780.5L1115.5 793.7L1122.9 781.6L1109.4 768.1z" fill="#404688" stroke="#404688"/><path d="M628 305.6L641.4 316.1L649.5 305.9L636.1 295.7z" fill="#a8db34" stroke="#a8db34"/><path d="M579.8 286.1L593.2 295.5L601.3 285.9L587.9 276.7z" fill="#bade28" stroke="#bade28"/><path d="M1177.1 831.2L1190.7 842.5L1198 831.4L1184.5 819.8z" fill="#46307e" stroke="#46307e"/><path d="M899.7 545.1L913.2 561.8L920.9 547.9L907.4 531.4z" fill="#1f988b" stroke="#1f988b"/><path d="M496.8 261.2L510.1 269.3L518.3 260.5L505.1 252.6z" fill="#d2e21b" stroke="#d2e21b"/><path d="M689.7 339.1L703.1 351L711.1 340L697.7 328.3z" fill="#89d548" stroke="#89d548"/><path d="M778.4 404.9L791.9 419.2L799.7 406.8L786.2 392.8z" fill="#52c569" stroke="#52c569"/><path d="M886.2 528.6L899.7 545.1L907.4 531.4L894 514.9z" fill="#1f9e89" stroke="#1f9e89"/><path d="M1115.5 793.7L1129 806.5L1136.4 794.6L1122.9 781.6z" fill="#424186" stroke="#424186"/><path d="M791.9 419.2L805.3 433.9L813.2 421.3L799.7 406.8z" fill="#48c16e" stroke="#48c16e"/><path d="M872.8 512.2L886.2 528.6L894 514.9L880.5 498.6z" fill="#20a386" stroke="#20a386"/><path d="M859.3 496L872.8 512.2L880.5 498.6L867 482.6z" fill="#23a983" stroke="#23a983"/><path d="M805.3 433.9L818.8 448.9L826.6 436.1L813.2 421.3z" fill="#3fbc73" stroke="#3fbc73"/><path d="M845.8 480L859.3 496L867 482.6L853.6 466.8z" fill="#28ae80" stroke="#28ae80"/><path d="M818.8 448.9L832.3 464.3L840.1 451.3L826.6 436.1z" fill="#37b878" stroke="#37b878"/><path d="M832.3 464.3L845.8 480L853.6 466.8L840.1 451.3z" fill="#2eb37c" stroke="#2eb37c"/><path d="M545 277.3L558.3 286.3L566.5 277L553.1 268.3z" fill="#c2df23" stroke="#c2df23"/><path d="M1190.7 842.5L1204.3 853.5L1211.6 842.6L1198 831.4z" fill="#472d7b" stroke="#472d7b"/><path d="M641.4 316.1L654.8 326.9L662.9 316.5L649.5 305.9z" fill="#9dd93b" stroke="#9dd93b"/><path d="M703.1 351L716.6 363.4L724.5 352.1L711.1 340z" fill="#7fd34e" stroke="#7fd34e"/><path d="M1129 806.5L1142.6 818.9L1150 807.2L1136.4 794.6z" fill="#433d84" stroke="#433d84"/><path d="M593.2 295.5L606.5 305.4L614.6 295.6L601.3 285.9z" fill="#b2dd2d" stroke="#b2dd2d"/><path d="M999.9 690.7L1013.4 706.3L1021 692.9L1007.5 677.2z" fill="#30698e" stroke="#30698e"/><path d="M1013.4 706.3L1026.8 721.6L1034.4 708.4L1021 692.9z" fill="#33638d" stroke="#33638d"/><path d="M986.4 674.8L999.9 690.7L1007.5 677.2L994 661.1z" fill="#2e6e8e" stroke="#2e6e8e"/><path d="M1026.8 721.6L1040.3 736.6L1047.9 723.6L1034.4 708.4z" fill="#355e8d" stroke="#355e8d"/><path d="M716.6 363.4L730.1 376.2L738 364.6L724.5 352.1z" fill="#75d054" stroke="#75d054"/><path d="M972.9 658.6L986.4 674.8L994 661.1L980.5 644.9z" fill="#2c738e" stroke="#2c738e"/><path d="M1040.3 736.6L1053.9 751.2L1061.4 738.4L1047.9 723.6z" fill="#38598c" stroke="#38598c"/><path d="M510.1 269.3L523.4 277.7L531.6 268.7L518.3 260.5z" fill="#cde11d" stroke="#cde11d"/><path d="M1142.6 818.9L1156.1 830.8L1163.5 819.4L1150 807.2z" fill="#453882" stroke="#453882"/><path d="M959.4 642.3L972.9 658.6L980.5 644.9L967.1 628.4z" fill="#29798e" stroke="#29798e"/><path d="M1053.9 751.2L1067.4 765.4L1074.9 752.8L1061.4 738.4z" fill="#3a538b" stroke="#3a538b"/><path d="M654.8 326.9L668.3 338.2L676.3 327.6L662.9 316.5z" fill="#95d840" stroke="#95d840"/><path d="M945.9 625.8L959.4 642.3L967.1 628.4L953.6 611.9z" fill="#277f8e" stroke="#277f8e"/><path d="M730.1 376.2L743.5 389.5L751.4 377.6L738 364.6z" fill="#6ccd5a" stroke="#6ccd5a"/><path d="M932.4 609.1L945.9 625.8L953.6 611.9L940.1 595.2z" fill="#25848e" stroke="#25848e"/><path d="M1067.4 765.4L1080.9 779.3L1088.4 766.8L1074.9 752.8z" fill="#3d4e8a" stroke="#3d4e8a"/><path d="M558.3 286.3L571.7 295.6L579.8 286.1L566.5 277z" fill="#bddf26" stroke="#bddf26"/><path d="M606.5 305.4L619.9 315.7L628 305.6L614.6 295.6z" fill="#aadc32" stroke="#aadc32"/><path d="M919 592.4L932.4 609.1L940.1 595.2L926.7 578.5z" fill="#238a8d" stroke="#238a8d"/><path d="M1156.1 830.8L1169.7 842.4L1177.1 831.2L1163.5 819.4z" fill="#46337f" stroke="#46337f"/><path d="M1080.9 779.3L1094.4 792.7L1101.9 780.5L1088.4 766.8z" fill="#3f4889" stroke="#3f4889"/><path d="M743.5 389.5L757 403.1L764.9 391.1L751.4 377.6z" fill="#60ca60" stroke="#60ca60"/><path d="M905.5 575.7L919 592.4L926.7 578.5L913.2 561.8z" fill="#21908d" stroke="#21908d"/><path d="M668.3 338.2L681.7 350L689.7 339.1L676.3 327.6z" fill="#8bd646" stroke="#8bd646"/><path d="M892 559L905.5 575.7L913.2 561.8L899.7 545.1z" fill="#1f958b" stroke="#1f958b"/><path d="M757 403.1L770.5 417.3L778.4 404.9L764.9 391.1z" fill="#56c667" stroke="#56c667"/><path d="M1094.4 792.7L1108 805.7L1115.5 793.7L1101.9 780.5z" fill="#414487" stroke="#414487"/><path d="M878.5 542.3L892 559L899.7 545.1L886.2 528.6z" fill="#1e9b8a" stroke="#1e9b8a"/><path d="M523.4 277.7L536.7 286.5L545 277.3L531.6 268.7z" fill="#c5e021" stroke="#c5e021"/><path d="M770.5 417.3L784 431.8L791.9 419.2L778.4 404.9z" fill="#4ec36b" stroke="#4ec36b"/><path d="M865 525.8L878.5 542.3L886.2 528.6L872.8 512.2z" fill="#1fa188" stroke="#1fa188"/><path d="M619.9 315.7L633.4 326.4L641.4 316.1L628 305.6z" fill="#a2da37" stroke="#a2da37"/><path d="M1169.7 842.4L1183.4 853.6L1190.7 842.5L1177.1 831.2z" fill="#472f7d" stroke="#472f7d"/><path d="M851.5 509.5L865 525.8L872.8 512.2L859.3 496z" fill="#21a685" stroke="#21a685"/><path d="M784 431.8L797.5 446.7L805.3 433.9L791.9 419.2z" fill="#42be71" stroke="#42be71"/><path d="M571.7 295.6L585 305.3L593.2 295.5L579.8 286.1z" fill="#b5de2b" stroke="#b5de2b"/><path d="M681.7 350L695.2 362.2L703.1 351L689.7 339.1z" fill="#84d44b" stroke="#84d44b"/><path d="M838 493.4L851.5 509.5L859.3 496L845.8 480z" fill="#25ac82" stroke="#25ac82"/><path d="M797.5 446.7L811 461.9L818.8 448.9L805.3 433.9z" fill="#3aba76" stroke="#3aba76"/><path d="M1108 805.7L1121.5 818.3L1129 806.5L1115.5 793.7z" fill="#423f85" stroke="#423f85"/><path d="M824.5 477.5L838 493.4L845.8 480L832.3 464.3z" fill="#2ab07f" stroke="#2ab07f"/><path d="M811 461.9L824.5 477.5L832.3 464.3L818.8 448.9z" fill="#32b67a" stroke="#32b67a"/><path d="M488.5 269.9L501.8 278.2L510.1 269.3L496.8 261.2z" fill="#cde11d" stroke="#cde11d"/><path d="M695.2 362.2L708.6 374.8L716.6 363.4L703.1 351z" fill="#7ad151" stroke="#7ad151"/><path d="M1121.5 818.3L1135.1 830.5L1142.6 818.9L1129 806.5z" fill="#443983" stroke="#443983"/><path d="M992.2 704.2L1005.7 719.6L1013.4 706.3L999.9 690.7z" fill="#31668e" stroke="#31668e"/><path d="M978.7 688.4L992.2 704.2L999.9 690.7L986.4 674.8z" fill="#2f6b8e" stroke="#2f6b8e"/><path d="M1005.7 719.6L1019.3 734.8L1026.8 721.6L1013.4 706.3z" fill="#34608d" stroke="#34608d"/><path d="M633.4 326.4L646.8 337.5L654.8 326.9L641.4 316.1z" fill="#9bd93c" stroke="#9bd93c"/><path d="M1183.4 853.6L1197 864.3L1204.3 853.5L1190.7 842.5z" fill="#472a7a" stroke="#472a7a"/><path d="M965.2 672.3L978.7 688.4L986.4 674.8L972.9 658.6z" fill="#2d718e" stroke="#2d718e"/><path d="M1019.3 734.8L1032.8 749.6L1040.3 736.6L1026.8 721.6z" fill="#375b8d" stroke="#375b8d"/><path d="M536.7 286.5L550.1 295.7L558.3 286.3L545 277.3z" fill="#c0df25" stroke="#c0df25"/><path d="M951.7 656.1L965.2 672.3L972.9 658.6L959.4 642.3z" fill="#2a768e" stroke="#2a768e"/><path d="M1032.8 749.6L1046.3 764L1053.9 751.2L1040.3 736.6z" fill="#39558c" stroke="#39558c"/><path d="M585 305.3L598.4 315.4L606.5 305.4L593.2 295.5z" fill="#addc30" stroke="#addc30"/><path d="M938.2 639.6L951.7 656.1L959.4 642.3L945.9 625.8z" fill="#287c8e" stroke="#287c8e"/><path d="M708.6 374.8L722.1 387.9L730.1 376.2L716.6 363.4z" fill="#6ece58" stroke="#6ece58"/><path d="M924.7 623L938.2 639.6L945.9 625.8L932.4 609.1z" fill="#26828e" stroke="#26828e"/><path d="M1046.3 764L1059.8 778L1067.4 765.4L1053.9 751.2z" fill="#3c508b" stroke="#3c508b"/><path d="M1135.1 830.5L1148.7 842.2L1156.1 830.8L1142.6 818.9z" fill="#453581" stroke="#453581"/><path d="M911.2 606.3L924.7 623L932.4 609.1L919 592.4z" fill="#24878e" stroke="#24878e"/><path d="M646.8 337.5L660.2 349.1L668.3 338.2L654.8 326.9z" fill="#90d743" stroke="#90d743"/><path d="M1059.8 778L1073.4 791.6L1080.9 779.3L1067.4 765.4z" fill="#3e4a89" stroke="#3e4a89"/><path d="M722.1 387.9L735.6 401.4L743.5 389.5L730.1 376.2z" fill="#65cb5e" stroke="#65cb5e"/><path d="M897.7 589.6L911.2 606.3L919 592.4L905.5 575.7z" fill="#228d8d" stroke="#228d8d"/><path d="M501.8 278.2L515.2 286.9L523.4 277.7L510.1 269.3z" fill="#c8e020" stroke="#c8e020"/><path d="M884.2 572.9L897.7 589.6L905.5 575.7L892 559z" fill="#20928c" stroke="#20928c"/><path d="M735.6 401.4L749.1 415.4L757 403.1L743.5 389.5z" fill="#5ac864" stroke="#5ac864"/><path d="M1073.4 791.6L1086.9 804.8L1094.4 792.7L1080.9 779.3z" fill="#404688" stroke="#404688"/><path d="M598.4 315.4L611.8 325.9L619.9 315.7L606.5 305.4z" fill="#a5db36" stroke="#a5db36"/><path d="M550.1 295.7L563.5 305.2L571.7 295.6L558.3 286.3z" fill="#b8de29" stroke="#b8de29"/><path d="M870.7 556.2L884.2 572.9L892 559L878.5 542.3z" fill="#1f988b" stroke="#1f988b"/><path d="M1148.7 842.2L1162.3 853.6L1169.7 842.4L1156.1 830.8z" fill="#46307e" stroke="#46307e"/><path d="M749.1 415.4L762.6 429.7L770.5 417.3L757 403.1z" fill="#52c569" stroke="#52c569"/><path d="M857.2 539.6L870.7 556.2L878.5 542.3L865 525.8z" fill="#1f9e89" stroke="#1f9e89"/><path d="M660.2 349.1L673.7 361.1L681.7 350L668.3 338.2z" fill="#86d549" stroke="#86d549"/><path d="M843.7 523.1L857.2 539.6L865 525.8L851.5 509.5z" fill="#20a386" stroke="#20a386"/><path d="M1086.9 804.8L1100.5 817.6L1108 805.7L1094.4 792.7z" fill="#424086" stroke="#424086"/><path d="M762.6 429.7L776.1 444.5L784 431.8L770.5 417.3z" fill="#48c16e" stroke="#48c16e"/><path d="M830.2 506.8L843.7 523.1L851.5 509.5L838 493.4z" fill="#22a884" stroke="#22a884"/><path d="M776.1 444.5L789.6 459.6L797.5 446.7L784 431.8z" fill="#3fbc73" stroke="#3fbc73"/><path d="M816.7 490.8L830.2 506.8L838 493.4L824.5 477.5z" fill="#27ad81" stroke="#27ad81"/><path d="M789.6 459.6L803.2 475L811 461.9L797.5 446.7z" fill="#35b779" stroke="#35b779"/><path d="M803.2 475L816.7 490.8L824.5 477.5L811 461.9z" fill="#2eb37c" stroke="#2eb37c"/><path d="M673.7 361.1L687.2 373.5L695.2 362.2L681.7 350z" fill="#7cd250" stroke="#7cd250"/><path d="M515.2 286.9L528.5 295.9L536.7 286.5L523.4 277.7z" fill="#c2df23" stroke="#c2df23"/><path d="M1162.3 853.6L1176 864.5L1183.4 853.6L1169.7 842.4z" fill="#472d7b" stroke="#472d7b"/><path d="M611.8 325.9L625.3 336.9L633.4 326.4L619.9 315.7z" fill="#9dd93b" stroke="#9dd93b"/><path d="M1100.5 817.6L1114.1 830L1121.5 818.3L1108 805.7z" fill="#443b84" stroke="#443b84"/><path d="M563.5 305.2L576.9 315.2L585 305.3L571.7 295.6z" fill="#b2dd2d" stroke="#b2dd2d"/><path d="M971.1 701.9L984.6 717.6L992.2 704.2L978.7 688.4z" fill="#31688e" stroke="#31688e"/><path d="M984.6 717.6L998.1 732.9L1005.7 719.6L992.2 704.2z" fill="#33638d" stroke="#33638d"/><path d="M957.6 686L971.1 701.9L978.7 688.4L965.2 672.3z" fill="#2e6e8e" stroke="#2e6e8e"/><path d="M998.1 732.9L1011.6 747.8L1019.3 734.8L1005.7 719.6z" fill="#365d8d" stroke="#365d8d"/><path d="M944 669.9L957.6 686L965.2 672.3L951.7 656.1z" fill="#2c728e" stroke="#2c728e"/><path d="M687.2 373.5L700.7 386.4L708.6 374.8L695.2 362.2z" fill="#73d056" stroke="#73d056"/><path d="M1011.6 747.8L1025.2 762.4L1032.8 749.6L1019.3 734.8z" fill="#38588c" stroke="#38588c"/><path d="M930.5 653.5L944 669.9L951.7 656.1L938.2 639.6z" fill="#2a788e" stroke="#2a788e"/><path d="M1114.1 830L1127.7 841.9L1135.1 830.5L1121.5 818.3z" fill="#453781" stroke="#453781"/><path d="M480.2 278.8L493.5 287.3L501.8 278.2L488.5 269.9z" fill="#cae11f" stroke="#cae11f"/><path d="M1025.2 762.4L1038.7 776.6L1046.3 764L1032.8 749.6z" fill="#3b528b" stroke="#3b528b"/><path d="M917 637L930.5 653.5L938.2 639.6L924.7 623z" fill="#277e8e" stroke="#277e8e"/><path d="M625.3 336.9L638.7 348.2L646.8 337.5L633.4 326.4z" fill="#95d840" stroke="#95d840"/><path d="M1176 864.5L1189.6 875.1L1197 864.3L1183.4 853.6z" fill="#482878" stroke="#482878"/><path d="M903.5 620.3L917 637L924.7 623L911.2 606.3z" fill="#25838e" stroke="#25838e"/><path d="M700.7 386.4L714.2 399.8L722.1 387.9L708.6 374.8z" fill="#69cd5b" stroke="#69cd5b"/><path d="M1038.7 776.6L1052.3 790.5L1059.8 778L1046.3 764z" fill="#3d4d8a" stroke="#3d4d8a"/><path d="M890 603.6L903.5 620.3L911.2 606.3L897.7 589.6z" fill="#23898e" stroke="#23898e"/><path d="M528.5 295.9L541.9 305.2L550.1 295.7L536.7 286.5z" fill="#bade28" stroke="#bade28"/><path d="M576.9 315.2L590.3 325.5L598.4 315.4L585 305.3z" fill="#aadc32" stroke="#aadc32"/><path d="M876.5 586.8L890 603.6L897.7 589.6L884.2 572.9z" fill="#218f8d" stroke="#218f8d"/><path d="M1127.7 841.9L1141.3 853.5L1148.7 842.2L1135.1 830.5z" fill="#46337f" stroke="#46337f"/><path d="M1052.3 790.5L1065.8 803.9L1073.4 791.6L1059.8 778z" fill="#3f4889" stroke="#3f4889"/><path d="M714.2 399.8L727.7 413.6L735.6 401.4L722.1 387.9z" fill="#60ca60" stroke="#60ca60"/><path d="M862.9 570L876.5 586.8L884.2 572.9L870.7 556.2z" fill="#1f948c" stroke="#1f948c"/><path d="M638.7 348.2L652.2 360.1L660.2 349.1L646.8 337.5z" fill="#8bd646" stroke="#8bd646"/><path d="M727.7 413.6L741.2 427.7L749.1 415.4L735.6 401.4z" fill="#56c667" stroke="#56c667"/><path d="M849.4 553.4L862.9 570L870.7 556.2L857.2 539.6z" fill="#1f9a8a" stroke="#1f9a8a"/><path d="M1065.8 803.9L1079.4 816.8L1086.9 804.8L1073.4 791.6z" fill="#414287" stroke="#414287"/><path d="M835.9 536.8L849.4 553.4L857.2 539.6L843.7 523.1z" fill="#1fa088" stroke="#1fa088"/><path d="M741.2 427.7L754.7 442.3L762.6 429.7L749.1 415.4z" fill="#4cc26c" stroke="#4cc26c"/><path d="M493.5 287.3L506.9 296.1L515.2 286.9L501.8 278.2z" fill="#c5e021" stroke="#c5e021"/><path d="M822.4 520.4L835.9 536.8L843.7 523.1L830.2 506.8z" fill="#21a585" stroke="#21a585"/><path d="M754.7 442.3L768.2 457.3L776.1 444.5L762.6 429.7z" fill="#42be71" stroke="#42be71"/><path d="M590.3 325.5L603.7 336.3L611.8 325.9L598.4 315.4z" fill="#a0da39" stroke="#a0da39"/><path d="M1141.3 853.5L1154.9 864.6L1162.3 853.6L1148.7 842.2z" fill="#472e7c" stroke="#472e7c"/><path d="M808.8 504.2L822.4 520.4L830.2 506.8L816.7 490.8z" fill="#25ab82" stroke="#25ab82"/><path d="M652.2 360.1L665.7 372.3L673.7 361.1L660.2 349.1z" fill="#81d34d" stroke="#81d34d"/><path d="M768.2 457.3L781.8 472.6L789.6 459.6L776.1 444.5z" fill="#3aba76" stroke="#3aba76"/><path d="M795.3 488.3L808.8 504.2L816.7 490.8L803.2 475z" fill="#2ab07f" stroke="#2ab07f"/><path d="M541.9 305.2L555.3 315L563.5 305.2L550.1 295.7z" fill="#b5de2b" stroke="#b5de2b"/><path d="M781.8 472.6L795.3 488.3L803.2 475L789.6 459.6z" fill="#31b57b" stroke="#31b57b"/><path d="M1079.4 816.8L1093 829.4L1100.5 817.6L1086.9 804.8z" fill="#433e85" stroke="#433e85"/><path d="M665.7 372.3L679.2 385.1L687.2 373.5L673.7 361.1z" fill="#77d153" stroke="#77d153"/><path d="M963.4 715.4L976.9 730.9L984.6 717.6L971.1 701.9z" fill="#32658e" stroke="#32658e"/><path d="M949.9 699.6L963.4 715.4L971.1 701.9L957.6 686z" fill="#2f6b8e" stroke="#2f6b8e"/><path d="M976.9 730.9L990.5 746L998.1 732.9L984.6 717.6z" fill="#34608d" stroke="#34608d"/><path d="M1093 829.4L1106.6 841.6L1114.1 830L1100.5 817.6z" fill="#443983" stroke="#443983"/><path d="M936.3 683.6L949.9 699.6L957.6 686L944 669.9z" fill="#2d708e" stroke="#2d708e"/><path d="M603.7 336.3L617.2 347.5L625.3 336.9L611.8 325.9z" fill="#98d83e" stroke="#98d83e"/><path d="M990.5 746L1004 760.8L1011.6 747.8L998.1 732.9z" fill="#375a8c" stroke="#375a8c"/><path d="M1154.9 864.6L1168.6 875.4L1176 864.5L1162.3 853.6z" fill="#472a7a" stroke="#472a7a"/><path d="M922.8 667.3L936.3 683.6L944 669.9L930.5 653.5z" fill="#2b758e" stroke="#2b758e"/><path d="M506.9 296.1L520.3 305.3L528.5 295.9L515.2 286.9z" fill="#c0df25" stroke="#c0df25"/><path d="M1004 760.8L1017.6 775.2L1025.2 762.4L1011.6 747.8z" fill="#3a548c" stroke="#3a548c"/><path d="M909.3 650.9L922.8 667.3L930.5 653.5L917 637z" fill="#297b8e" stroke="#297b8e"/><path d="M555.3 315L568.7 325.2L576.9 315.2L563.5 305.2z" fill="#addc30" stroke="#addc30"/><path d="M679.2 385.1L692.7 398.2L700.7 386.4L687.2 373.5z" fill="#6ece58" stroke="#6ece58"/><path d="M895.7 634.2L909.3 650.9L917 637L903.5 620.3z" fill="#26818e" stroke="#26818e"/><path d="M1017.6 775.2L1031.1 789.2L1038.7 776.6L1025.2 762.4z" fill="#3c4f8a" stroke="#3c4f8a"/><path d="M882.2 617.5L895.7 634.2L903.5 620.3L890 603.6z" fill="#24868e" stroke="#24868e"/><path d="M1106.6 841.6L1120.2 853.3L1127.7 841.9L1114.1 830z" fill="#463480" stroke="#463480"/><path d="M1031.1 789.2L1044.7 802.8L1052.3 790.5L1038.7 776.6z" fill="#3e4a89" stroke="#3e4a89"/><path d="M692.7 398.2L706.2 411.8L714.2 399.8L700.7 386.4z" fill="#65cb5e" stroke="#65cb5e"/><path d="M868.7 600.7L882.2 617.5L890 603.6L876.5 586.8z" fill="#228c8d" stroke="#228c8d"/><path d="M617.2 347.5L630.7 359.1L638.7 348.2L625.3 336.9z" fill="#90d743" stroke="#90d743"/><path d="M471.9 287.7L485.2 296.4L493.5 287.3L480.2 278.8z" fill="#c8e020" stroke="#c8e020"/><path d="M1168.6 875.4L1182.3 885.7L1189.6 875.1L1176 864.5z" fill="#482677" stroke="#482677"/><path d="M855.1 584L868.7 600.7L876.5 586.8L862.9 570z" fill="#20928c" stroke="#20928c"/><path d="M706.2 411.8L719.7 425.8L727.7 413.6L714.2 399.8z" fill="#5ac864" stroke="#5ac864"/><path d="M1044.7 802.8L1058.3 816L1065.8 803.9L1052.3 790.5z" fill="#404588" stroke="#404588"/><path d="M841.6 567.2L855.1 584L862.9 570L849.4 553.4z" fill="#1f978b" stroke="#1f978b"/><path d="M568.7 325.2L582.1 335.8L590.3 325.5L576.9 315.2z" fill="#a5db36" stroke="#a5db36"/><path d="M520.3 305.3L533.7 314.9L541.9 305.2L528.5 295.9z" fill="#b8de29" stroke="#b8de29"/><path d="M1120.2 853.3L1133.9 864.6L1141.3 853.5L1127.7 841.9z" fill="#46307e" stroke="#46307e"/><path d="M828.1 550.6L841.6 567.2L849.4 553.4L835.9 536.8z" fill="#1e9d89" stroke="#1e9d89"/><path d="M719.7 425.8L733.3 440.3L741.2 427.7L727.7 413.6z" fill="#50c46a" stroke="#50c46a"/><path d="M630.7 359.1L644.1 371.2L652.2 360.1L638.7 348.2z" fill="#86d549" stroke="#86d549"/><path d="M814.5 534.1L828.1 550.6L835.9 536.8L822.4 520.4z" fill="#1fa287" stroke="#1fa287"/><path d="M733.3 440.3L746.8 455.1L754.7 442.3L741.2 427.7z" fill="#46c06f" stroke="#46c06f"/><path d="M1058.3 816L1071.9 828.8L1079.4 816.8L1065.8 803.9z" fill="#424086" stroke="#424086"/><path d="M801 517.7L814.5 534.1L822.4 520.4L808.8 504.2z" fill="#22a884" stroke="#22a884"/><path d="M746.8 455.1L760.3 470.3L768.2 457.3L754.7 442.3z" fill="#3dbc74" stroke="#3dbc74"/><path d="M787.4 501.6L801 517.7L808.8 504.2L795.3 488.3z" fill="#27ad81" stroke="#27ad81"/><path d="M760.3 470.3L773.9 485.8L781.8 472.6L768.2 457.3z" fill="#35b779" stroke="#35b779"/><path d="M773.9 485.8L787.4 501.6L795.3 488.3L781.8 472.6z" fill="#2db27d" stroke="#2db27d"/><path d="M644.1 371.2L657.6 383.8L665.7 372.3L652.2 360.1z" fill="#7cd250" stroke="#7cd250"/><path d="M1133.9 864.6L1147.5 875.6L1154.9 864.6L1141.3 853.5z" fill="#472c7a" stroke="#472c7a"/><path d="M582.1 335.8L595.6 346.8L603.7 336.3L590.3 325.5z" fill="#9dd93b" stroke="#9dd93b"/><path d="M1071.9 828.8L1085.5 841.1L1093 829.4L1079.4 816.8z" fill="#443b84" stroke="#443b84"/><path d="M485.2 296.4L498.6 305.5L506.9 296.1L493.5 287.3z" fill="#c2df23" stroke="#c2df23"/><path d="M533.7 314.9L547.1 325L555.3 315L541.9 305.2z" fill="#b0dd2f" stroke="#b0dd2f"/><path d="M942.2 713.2L955.7 728.8L963.4 715.4L949.9 699.6z" fill="#31678e" stroke="#31678e"/><path d="M955.7 728.8L969.2 744.1L976.9 730.9L963.4 715.4z" fill="#33628d" stroke="#33628d"/><path d="M928.6 697.3L942.2 713.2L949.9 699.6L936.3 683.6z" fill="#2e6d8e" stroke="#2e6d8e"/><path d="M969.2 744.1L982.8 759.1L990.5 746L976.9 730.9z" fill="#365d8d" stroke="#365d8d"/><path d="M915.1 681.1L928.6 697.3L936.3 683.6L922.8 667.3z" fill="#2c728e" stroke="#2c728e"/><path d="M982.8 759.1L996.4 773.7L1004 760.8L990.5 746z" fill="#39568c" stroke="#39568c"/><path d="M901.5 664.8L915.1 681.1L922.8 667.3L909.3 650.9z" fill="#2a788e" stroke="#2a788e"/><path d="M657.6 383.8L671.2 396.7L679.2 385.1L665.7 372.3z" fill="#73d056" stroke="#73d056"/><path d="M888 648.2L901.5 664.8L909.3 650.9L895.7 634.2z" fill="#277e8e" stroke="#277e8e"/><path d="M1085.5 841.1L1099.1 853.1L1106.6 841.6L1093 829.4z" fill="#453781" stroke="#453781"/><path d="M996.4 773.7L1009.9 787.9L1017.6 775.2L1004 760.8z" fill="#3b528b" stroke="#3b528b"/><path d="M595.6 346.8L609.1 358.3L617.2 347.5L603.7 336.3z" fill="#93d741" stroke="#93d741"/><path d="M874.4 631.5L888 648.2L895.7 634.2L882.2 617.5z" fill="#26828e" stroke="#26828e"/><path d="M1147.5 875.6L1161.2 886.1L1168.6 875.4L1154.9 864.6z" fill="#482878" stroke="#482878"/><path d="M671.2 396.7L684.7 410.2L692.7 398.2L679.2 385.1z" fill="#69cd5b" stroke="#69cd5b"/><path d="M1009.9 787.9L1023.5 801.7L1031.1 789.2L1017.6 775.2z" fill="#3d4d8a" stroke="#3d4d8a"/><path d="M860.9 614.7L874.4 631.5L882.2 617.5L868.7 600.7z" fill="#23898e" stroke="#23898e"/><path d="M498.6 305.5L512 315L520.3 305.3L506.9 296.1z" fill="#bade28" stroke="#bade28"/><path d="M547.1 325L560.5 335.4L568.7 325.2L555.3 315z" fill="#a8db34" stroke="#a8db34"/><path d="M847.3 597.9L860.9 614.7L868.7 600.7L855.1 584z" fill="#218f8d" stroke="#218f8d"/><path d="M1023.5 801.7L1037.1 815.1L1044.7 802.8L1031.1 789.2z" fill="#3f4788" stroke="#3f4788"/><path d="M684.7 410.2L698.2 424L706.2 411.8L692.7 398.2z" fill="#5ec962" stroke="#5ec962"/><path d="M1099.1 853.1L1112.7 864.6L1120.2 853.3L1106.6 841.6z" fill="#46327e" stroke="#46327e"/><path d="M833.8 581.2L847.3 597.9L855.1 584L841.6 567.2z" fill="#1f948c" stroke="#1f948c"/><path d="M609.1 358.3L622.6 370.2L630.7 359.1L617.2 347.5z" fill="#8bd646" stroke="#8bd646"/><path d="M820.2 564.4L833.8 581.2L841.6 567.2L828.1 550.6z" fill="#1f9a8a" stroke="#1f9a8a"/><path d="M698.2 424L711.8 438.3L719.7 425.8L706.2 411.8z" fill="#54c568" stroke="#54c568"/><path d="M1037.1 815.1L1050.7 828L1058.3 816L1044.7 802.8z" fill="#414287" stroke="#414287"/><path d="M806.6 547.8L820.2 564.4L828.1 550.6L814.5 534.1z" fill="#1fa088" stroke="#1fa088"/><path d="M1161.2 886.1L1174.9 896.3L1182.3 885.7L1168.6 875.4z" fill="#482475" stroke="#482475"/><path d="M711.8 438.3L725.3 453L733.3 440.3L719.7 425.8z" fill="#4ac16d" stroke="#4ac16d"/><path d="M793.1 531.4L806.6 547.8L814.5 534.1L801 517.7z" fill="#21a585" stroke="#21a585"/><path d="M463.6 296.8L476.9 305.8L485.2 296.4L471.9 287.7z" fill="#c5e021" stroke="#c5e021"/><path d="M725.3 453L738.9 468L746.8 455.1L733.3 440.3z" fill="#40bd72" stroke="#40bd72"/><path d="M779.5 515.1L793.1 531.4L801 517.7L787.4 501.6z" fill="#24aa83" stroke="#24aa83"/><path d="M560.5 335.4L574 346.2L582.1 335.8L568.7 325.2z" fill="#a0da39" stroke="#a0da39"/><path d="M738.9 468L752.4 483.4L760.3 470.3L746.8 455.1z" fill="#38b977" stroke="#38b977"/><path d="M1112.7 864.6L1126.4 875.7L1133.9 864.6L1120.2 853.3z" fill="#472e7c" stroke="#472e7c"/><path d="M766 499.1L779.5 515.1L787.4 501.6L773.9 485.8z" fill="#29af7f" stroke="#29af7f"/><path d="M752.4 483.4L766 499.1L773.9 485.8L760.3 470.3z" fill="#31b57b" stroke="#31b57b"/><path d="M622.6 370.2L636.1 382.5L644.1 371.2L630.7 359.1z" fill="#81d34d" stroke="#81d34d"/><path d="M1050.7 828L1064.3 840.6L1071.9 828.8L1058.3 816z" fill="#433e85" stroke="#433e85"/><path d="M512 315L525.4 324.8L533.7 314.9L520.3 305.3z" fill="#b2dd2d" stroke="#b2dd2d"/><path d="M934.4 726.7L948 742.2L955.7 728.8L942.2 713.2z" fill="#32648e" stroke="#32648e"/><path d="M920.9 711L934.4 726.7L942.2 713.2L928.6 697.3z" fill="#306a8e" stroke="#306a8e"/><path d="M636.1 382.5L649.6 395.3L657.6 383.8L644.1 371.2z" fill="#77d153" stroke="#77d153"/><path d="M948 742.2L961.6 757.3L969.2 744.1L955.7 728.8z" fill="#355f8d" stroke="#355f8d"/><path d="M907.3 694.9L920.9 711L928.6 697.3L915.1 681.1z" fill="#2d708e" stroke="#2d708e"/><path d="M1064.3 840.6L1077.9 852.7L1085.5 841.1L1071.9 828.8z" fill="#443983" stroke="#443983"/><path d="M961.6 757.3L975.1 772.1L982.8 759.1L969.2 744.1z" fill="#375a8c" stroke="#375a8c"/><path d="M893.7 678.6L907.3 694.9L915.1 681.1L901.5 664.8z" fill="#2b748e" stroke="#2b748e"/><path d="M574 346.2L587.4 357.5L595.6 346.8L582.1 335.8z" fill="#98d83e" stroke="#98d83e"/><path d="M1126.4 875.7L1140.1 886.4L1147.5 875.6L1133.9 864.6z" fill="#482979" stroke="#482979"/><path d="M880.2 662.1L893.7 678.6L901.5 664.8L888 648.2z" fill="#297a8e" stroke="#297a8e"/><path d="M975.1 772.1L988.7 786.5L996.4 773.7L982.8 759.1z" fill="#3a548c" stroke="#3a548c"/><path d="M476.9 305.8L490.3 315L498.6 305.5L485.2 296.4z" fill="#bddf26" stroke="#bddf26"/><path d="M866.6 645.5L880.2 662.1L888 648.2L874.4 631.5z" fill="#27808e" stroke="#27808e"/><path d="M649.6 395.3L663.1 408.6L671.2 396.7L657.6 383.8z" fill="#6ccd5a" stroke="#6ccd5a"/><path d="M525.4 324.8L538.9 335.1L547.1 325L533.7 314.9z" fill="#addc30" stroke="#addc30"/><path d="M988.7 786.5L1002.3 800.5L1009.9 787.9L996.4 773.7z" fill="#3c4f8a" stroke="#3c4f8a"/><path d="M853.1 628.8L866.6 645.5L874.4 631.5L860.9 614.7z" fill="#25858e" stroke="#25858e"/><path d="M1077.9 852.7L1091.6 864.4L1099.1 853.1L1085.5 841.1z" fill="#463480" stroke="#463480"/><path d="M839.5 611.9L853.1 628.8L860.9 614.7L847.3 597.9z" fill="#228b8d" stroke="#228b8d"/><path d="M1002.3 800.5L1015.9 814.1L1023.5 801.7L1009.9 787.9z" fill="#3e4989" stroke="#3e4989"/><path d="M663.1 408.6L676.7 422.3L684.7 410.2L671.2 396.7z" fill="#63cb5f" stroke="#63cb5f"/><path d="M587.4 357.5L600.9 369.2L609.1 358.3L595.6 346.8z" fill="#8ed645" stroke="#8ed645"/><path d="M825.9 595.1L839.5 611.9L847.3 597.9L833.8 581.2z" fill="#21918c" stroke="#21918c"/><path d="M1140.1 886.4L1153.8 896.8L1161.2 886.1L1147.5 875.6z" fill="#482576" stroke="#482576"/><path d="M676.7 422.3L690.2 436.4L698.2 424L684.7 410.2z" fill="#58c765" stroke="#58c765"/><path d="M812.3 578.3L825.9 595.1L833.8 581.2L820.2 564.4z" fill="#1f968b" stroke="#1f968b"/><path d="M1015.9 814.1L1029.5 827.2L1037.1 815.1L1023.5 801.7z" fill="#404588" stroke="#404588"/><path d="M798.8 561.6L812.3 578.3L820.2 564.4L806.6 547.8z" fill="#1e9c89" stroke="#1e9c89"/><path d="M538.9 335.1L552.3 345.7L560.5 335.4L547.1 325z" fill="#a2da37" stroke="#a2da37"/><path d="M690.2 436.4L703.8 450.9L711.8 438.3L698.2 424z" fill="#50c46a" stroke="#50c46a"/><path d="M1091.6 864.4L1105.2 875.8L1112.7 864.6L1099.1 853.1z" fill="#472f7d" stroke="#472f7d"/><path d="M490.3 315L503.7 324.7L512 315L498.6 305.5z" fill="#b8de29" stroke="#b8de29"/><path d="M785.2 545.1L798.8 561.6L806.6 547.8L793.1 531.4z" fill="#1fa187" stroke="#1fa187"/><path d="M600.9 369.2L614.4 381.4L622.6 370.2L609.1 358.3z" fill="#84d44b" stroke="#84d44b"/><path d="M703.8 450.9L717.3 465.8L725.3 453L711.8 438.3z" fill="#46c06f" stroke="#46c06f"/><path d="M771.6 528.7L785.2 545.1L793.1 531.4L779.5 515.1z" fill="#22a785" stroke="#22a785"/><path d="M1029.5 827.2L1043.1 840L1050.7 828L1037.1 815.1z" fill="#423f85" stroke="#423f85"/><path d="M717.3 465.8L730.9 481L738.9 468L725.3 453z" fill="#3bbb75" stroke="#3bbb75"/><path d="M758 512.5L771.6 528.7L779.5 515.1L766 499.1z" fill="#26ad81" stroke="#26ad81"/><path d="M730.9 481L744.5 496.6L752.4 483.4L738.9 468z" fill="#34b679" stroke="#34b679"/><path d="M744.5 496.6L758 512.5L766 499.1L752.4 483.4z" fill="#2db27d" stroke="#2db27d"/><path d="M1153.8 896.8L1167.5 906.8L1174.9 896.3L1161.2 886.1z" fill="#482173" stroke="#482173"/><path d="M614.4 381.4L628 394L636.1 382.5L622.6 370.2z" fill="#7cd250" stroke="#7cd250"/><path d="M1043.1 840L1056.7 852.3L1064.3 840.6L1050.7 828z" fill="#443a83" stroke="#443a83"/><path d="M552.3 345.7L565.8 356.8L574 346.2L560.5 335.4z" fill="#9bd93c" stroke="#9bd93c"/><path d="M1105.2 875.8L1118.9 886.7L1126.4 875.7L1112.7 864.6z" fill="#472c7a" stroke="#472c7a"/><path d="M455.2 306.1L468.6 315.2L476.9 305.8L463.6 296.8z" fill="#c0df25" stroke="#c0df25"/><path d="M913.1 724.5L926.7 740.2L934.4 726.7L920.9 711z" fill="#31678e" stroke="#31678e"/><path d="M926.7 740.2L940.3 755.5L948 742.2L934.4 726.7z" fill="#34618d" stroke="#34618d"/><path d="M899.5 708.6L913.1 724.5L920.9 711L907.3 694.9z" fill="#2f6c8e" stroke="#2f6c8e"/><path d="M940.3 755.5L953.8 770.4L961.6 757.3L948 742.2z" fill="#365c8d" stroke="#365c8d"/><path d="M886 692.5L899.5 708.6L907.3 694.9L893.7 678.6z" fill="#2c718e" stroke="#2c718e"/><path d="M503.7 324.7L517.1 334.8L525.4 324.8L512 315z" fill="#b0dd2f" stroke="#b0dd2f"/><path d="M872.4 676.1L886 692.5L893.7 678.6L880.2 662.1z" fill="#2a778e" stroke="#2a778e"/><path d="M953.8 770.4L967.4 785L975.1 772.1L961.6 757.3z" fill="#39568c" stroke="#39568c"/><path d="M628 394L641.5 407.1L649.6 395.3L636.1 382.5z" fill="#70cf57" stroke="#70cf57"/><path d="M858.8 659.5L872.4 676.1L880.2 662.1L866.6 645.5z" fill="#287d8e" stroke="#287d8e"/><path d="M967.4 785L981 799.2L988.7 786.5L975.1 772.1z" fill="#3b518b" stroke="#3b518b"/><path d="M1056.7 852.3L1070.4 864.2L1077.9 852.7L1064.3 840.6z" fill="#453581" stroke="#453581"/><path d="M845.2 642.8L858.8 659.5L866.6 645.5L853.1 628.8z" fill="#26828e" stroke="#26828e"/><path d="M565.8 356.8L579.3 368.4L587.4 357.5L574 346.2z" fill="#93d741" stroke="#93d741"/><path d="M831.6 626L845.2 642.8L853.1 628.8L839.5 611.9z" fill="#23888e" stroke="#23888e"/><path d="M981 799.2L994.6 813L1002.3 800.5L988.7 786.5z" fill="#3e4c8a" stroke="#3e4c8a"/><path d="M641.5 407.1L655.1 420.6L663.1 408.6L649.6 395.3z" fill="#67cc5c" stroke="#67cc5c"/><path d="M1118.9 886.7L1132.6 897.2L1140.1 886.4L1126.4 875.7z" fill="#482878" stroke="#482878"/><path d="M818.1 609.1L831.6 626L839.5 611.9L825.9 595.1z" fill="#218e8d" stroke="#218e8d"/><path d="M468.6 315.2L482 324.7L490.3 315L476.9 305.8z" fill="#bade28" stroke="#bade28"/><path d="M517.1 334.8L530.6 345.3L538.9 335.1L525.4 324.8z" fill="#a8db34" stroke="#a8db34"/><path d="M994.6 813L1008.2 826.3L1015.9 814.1L1002.3 800.5z" fill="#3f4788" stroke="#3f4788"/><path d="M655.1 420.6L668.6 434.5L676.7 422.3L663.1 408.6z" fill="#5cc863" stroke="#5cc863"/><path d="M804.5 592.3L818.1 609.1L825.9 595.1L812.3 578.3z" fill="#20938c" stroke="#20938c"/><path d="M1070.4 864.2L1084.1 875.7L1091.6 864.4L1077.9 852.7z" fill="#46327e" stroke="#46327e"/><path d="M790.9 575.6L804.5 592.3L812.3 578.3L798.8 561.6z" fill="#1f998a" stroke="#1f998a"/><path d="M579.3 368.4L592.8 380.4L600.9 369.2L587.4 357.5z" fill="#89d548" stroke="#89d548"/><path d="M668.6 434.5L682.2 448.9L690.2 436.4L676.7 422.3z" fill="#54c568" stroke="#54c568"/><path d="M777.3 558.9L790.9 575.6L798.8 561.6L785.2 545.1z" fill="#1f9f88" stroke="#1f9f88"/><path d="M1008.2 826.3L1021.9 839.3L1029.5 827.2L1015.9 814.1z" fill="#424186" stroke="#424186"/><path d="M682.2 448.9L695.8 463.6L703.8 450.9L690.2 436.4z" fill="#4ac16d" stroke="#4ac16d"/><path d="M763.7 542.4L777.3 558.9L785.2 545.1L771.6 528.7z" fill="#20a486" stroke="#20a486"/><path d="M1132.6 897.2L1146.3 907.3L1153.8 896.8L1140.1 886.4z" fill="#482475" stroke="#482475"/><path d="M695.8 463.6L709.3 478.8L717.3 465.8L703.8 450.9z" fill="#40bd72" stroke="#40bd72"/><path d="M750.1 526.1L763.7 542.4L771.6 528.7L758 512.5z" fill="#24aa83" stroke="#24aa83"/><path d="M736.5 510L750.1 526.1L758 512.5L744.5 496.6z" fill="#28ae80" stroke="#28ae80"/><path d="M709.3 478.8L722.9 494.2L730.9 481L717.3 465.8z" fill="#37b878" stroke="#37b878"/><path d="M722.9 494.2L736.5 510L744.5 496.6L730.9 481z" fill="#2fb47c" stroke="#2fb47c"/><path d="M530.6 345.3L544.1 356.2L552.3 345.7L538.9 335.1z" fill="#a0da39" stroke="#a0da39"/><path d="M1084.1 875.7L1097.7 886.8L1105.2 875.8L1091.6 864.4z" fill="#472d7b" stroke="#472d7b"/><path d="M592.8 380.4L606.3 392.8L614.4 381.4L600.9 369.2z" fill="#7fd34e" stroke="#7fd34e"/><path d="M1021.9 839.3L1035.5 851.8L1043.1 840L1029.5 827.2z" fill="#433d84" stroke="#433d84"/><path d="M482 324.7L495.4 334.6L503.7 324.7L490.3 315z" fill="#b2dd2d" stroke="#b2dd2d"/><path d="M905.3 738.1L918.9 753.5L926.7 740.2L913.1 724.5z" fill="#32648e" stroke="#32648e"/><path d="M891.7 722.3L905.3 738.1L913.1 724.5L899.5 708.6z" fill="#30698e" stroke="#30698e"/><path d="M878.1 706.3L891.7 722.3L899.5 708.6L886 692.5z" fill="#2e6f8e" stroke="#2e6f8e"/><path d="M918.9 753.5L932.5 768.7L940.3 755.5L926.7 740.2z" fill="#355e8d" stroke="#355e8d"/><path d="M606.3 392.8L619.9 405.7L628 394L614.4 381.4z" fill="#75d054" stroke="#75d054"/><path d="M864.6 690L878.1 706.3L886 692.5L872.4 676.1z" fill="#2b748e" stroke="#2b748e"/><path d="M932.5 768.7L946.1 783.4L953.8 770.4L940.3 755.5z" fill="#38598c" stroke="#38598c"/><path d="M1035.5 851.8L1049.2 863.9L1056.7 852.3L1043.1 840z" fill="#453882" stroke="#453882"/><path d="M1146.3 907.3L1160.1 917.1L1167.5 906.8L1153.8 896.8z" fill="#482071" stroke="#482071"/><path d="M851 673.5L864.6 690L872.4 676.1L858.8 659.5z" fill="#297a8e" stroke="#297a8e"/><path d="M544.1 356.2L557.6 367.6L565.8 356.8L552.3 345.7z" fill="#95d840" stroke="#95d840"/><path d="M1097.7 886.8L1111.4 897.5L1118.9 886.7L1105.2 875.8z" fill="#482979" stroke="#482979"/><path d="M946.1 783.4L959.7 797.8L967.4 785L953.8 770.4z" fill="#3a538b" stroke="#3a538b"/><path d="M837.4 656.8L851 673.5L858.8 659.5L845.2 642.8z" fill="#277f8e" stroke="#277f8e"/><path d="M619.9 405.7L633.4 419L641.5 407.1L628 394z" fill="#6ccd5a" stroke="#6ccd5a"/><path d="M446.8 315.4L460.2 324.8L468.6 315.2L455.2 306.1z" fill="#bddf26" stroke="#bddf26"/><path d="M959.7 797.8L973.3 811.8L981 799.2L967.4 785z" fill="#3d4e8a" stroke="#3d4e8a"/><path d="M823.8 640L837.4 656.8L845.2 642.8L831.6 626z" fill="#25848e" stroke="#25848e"/><path d="M495.4 334.6L508.9 345L517.1 334.8L503.7 324.7z" fill="#aadc32" stroke="#aadc32"/><path d="M810.2 623.2L823.8 640L831.6 626L818.1 609.1z" fill="#228b8d" stroke="#228b8d"/><path d="M1049.2 863.9L1062.8 875.6L1070.4 864.2L1056.7 852.3z" fill="#46337f" stroke="#46337f"/><path d="M973.3 811.8L987 825.3L994.6 813L981 799.2z" fill="#3e4989" stroke="#3e4989"/><path d="M633.4 419L647 432.8L655.1 420.6L641.5 407.1z" fill="#63cb5f" stroke="#63cb5f"/><path d="M796.6 606.3L810.2 623.2L818.1 609.1L804.5 592.3z" fill="#21918c" stroke="#21918c"/><path d="M557.6 367.6L571.1 379.4L579.3 368.4L565.8 356.8z" fill="#8ed645" stroke="#8ed645"/><path d="M783 589.5L796.6 606.3L804.5 592.3L790.9 575.6z" fill="#1f968b" stroke="#1f968b"/><path d="M1111.4 897.5L1125.2 907.9L1132.6 897.2L1118.9 886.7z" fill="#482576" stroke="#482576"/><path d="M647 432.8L660.6 447L668.6 434.5L655.1 420.6z" fill="#58c765" stroke="#58c765"/><path d="M987 825.3L1000.6 838.5L1008.2 826.3L994.6 813z" fill="#414487" stroke="#414487"/><path d="M769.4 572.8L783 589.5L790.9 575.6L777.3 558.9z" fill="#1e9c89" stroke="#1e9c89"/><path d="M660.6 447L674.1 461.5L682.2 448.9L668.6 434.5z" fill="#4ec36b" stroke="#4ec36b"/><path d="M508.9 345L522.3 355.7L530.6 345.3L517.1 334.8z" fill="#a2da37" stroke="#a2da37"/><path d="M755.8 556.2L769.4 572.8L777.3 558.9L763.7 542.4z" fill="#1fa187" stroke="#1fa187"/><path d="M1062.8 875.6L1076.5 886.9L1084.1 875.7L1070.4 864.2z" fill="#472f7d" stroke="#472f7d"/><path d="M460.2 324.8L473.6 334.6L482 324.7L468.6 315.2z" fill="#b5de2b" stroke="#b5de2b"/><path d="M674.1 461.5L687.7 476.5L695.8 463.6L682.2 448.9z" fill="#44bf70" stroke="#44bf70"/><path d="M571.1 379.4L584.6 391.7L592.8 380.4L579.3 368.4z" fill="#84d44b" stroke="#84d44b"/><path d="M742.1 539.7L755.8 556.2L763.7 542.4L750.1 526.1z" fill="#21a685" stroke="#21a685"/><path d="M1000.6 838.5L1014.2 851.2L1021.9 839.3L1008.2 826.3z" fill="#423f85" stroke="#423f85"/><path d="M728.5 523.5L742.1 539.7L750.1 526.1L736.5 510z" fill="#25ac82" stroke="#25ac82"/><path d="M687.7 476.5L701.3 491.9L709.3 478.8L695.8 463.6z" fill="#3bbb75" stroke="#3bbb75"/><path d="M714.9 507.5L728.5 523.5L736.5 510L722.9 494.2z" fill="#2cb17e" stroke="#2cb17e"/><path d="M701.3 491.9L714.9 507.5L722.9 494.2L709.3 478.8z" fill="#32b67a" stroke="#32b67a"/><path d="M1125.2 907.9L1138.9 917.8L1146.3 907.3L1132.6 897.2z" fill="#482173" stroke="#482173"/><path d="M584.6 391.7L598.2 404.4L606.3 392.8L592.8 380.4z" fill="#7ad151" stroke="#7ad151"/><path d="M1014.2 851.2L1027.9 863.5L1035.5 851.8L1021.9 839.3z" fill="#443a83" stroke="#443a83"/><path d="M522.3 355.7L535.8 366.9L544.1 356.2L530.6 345.3z" fill="#9bd93c" stroke="#9bd93c"/><path d="M1076.5 886.9L1090.2 897.8L1097.7 886.8L1084.1 875.7z" fill="#472a7a" stroke="#472a7a"/><path d="M883.9 735.9L897.5 751.5L905.3 738.1L891.7 722.3z" fill="#31668e" stroke="#31668e"/><path d="M870.3 720L883.9 735.9L891.7 722.3L878.1 706.3z" fill="#2f6c8e" stroke="#2f6c8e"/><path d="M897.5 751.5L911.1 766.8L918.9 753.5L905.3 738.1z" fill="#34618d" stroke="#34618d"/><path d="M856.7 703.8L870.3 720L878.1 706.3L864.6 690z" fill="#2d718e" stroke="#2d718e"/><path d="M911.1 766.8L924.8 781.8L932.5 768.7L918.9 753.5z" fill="#375b8d" stroke="#375b8d"/><path d="M843.1 687.4L856.7 703.8L864.6 690L851 673.5z" fill="#2a768e" stroke="#2a768e"/><path d="M473.6 334.6L487.1 344.7L495.4 334.6L482 324.7z" fill="#b0dd2f" stroke="#b0dd2f"/><path d="M924.8 781.8L938.4 796.3L946.1 783.4L932.5 768.7z" fill="#39558c" stroke="#39558c"/><path d="M829.5 670.8L843.1 687.4L851 673.5L837.4 656.8z" fill="#287c8e" stroke="#287c8e"/><path d="M598.2 404.4L611.7 417.5L619.9 405.7L606.3 392.8z" fill="#70cf57" stroke="#70cf57"/><path d="M938.4 796.3L952 810.5L959.7 797.8L946.1 783.4z" fill="#3c508b" stroke="#3c508b"/><path d="M815.9 654.1L829.5 670.8L837.4 656.8L823.8 640z" fill="#26828e" stroke="#26828e"/><path d="M1027.9 863.5L1041.6 875.4L1049.2 863.9L1035.5 851.8z" fill="#453581" stroke="#453581"/><path d="M802.3 637.3L815.9 654.1L823.8 640L810.2 623.2z" fill="#24878e" stroke="#24878e"/><path d="M535.8 366.9L549.4 378.5L557.6 367.6L544.1 356.2z" fill="#90d743" stroke="#90d743"/><path d="M952 810.5L965.6 824.3L973.3 811.8L959.7 797.8z" fill="#3e4c8a" stroke="#3e4c8a"/><path d="M611.7 417.5L625.3 431.1L633.4 419L619.9 405.7z" fill="#67cc5c" stroke="#67cc5c"/><path d="M1090.2 897.8L1103.9 908.3L1111.4 897.5L1097.7 886.8z" fill="#482677" stroke="#482677"/><path d="M1138.9 917.8L1152.7 927.4L1160.1 917.1L1146.3 907.3z" fill="#481d6f" stroke="#481d6f"/><path d="M788.7 620.4L802.3 637.3L810.2 623.2L796.6 606.3z" fill="#228d8d" stroke="#228d8d"/><path d="M775 603.5L788.7 620.4L796.6 606.3L783 589.5z" fill="#20928c" stroke="#20928c"/><path d="M625.3 431.1L638.9 445.1L647 432.8L633.4 419z" fill="#5cc863" stroke="#5cc863"/><path d="M965.6 824.3L979.3 837.6L987 825.3L973.3 811.8z" fill="#404688" stroke="#404688"/><path d="M487.1 344.7L500.6 355.3L508.9 345L495.4 334.6z" fill="#a8db34" stroke="#a8db34"/><path d="M438.4 325L451.8 334.5L460.2 324.8L446.8 315.4z" fill="#bade28" stroke="#bade28"/><path d="M1041.6 875.4L1055.2 886.9L1062.8 875.6L1049.2 863.9z" fill="#46307e" stroke="#46307e"/><path d="M761.4 586.7L775 603.5L783 589.5L769.4 572.8z" fill="#1f988b" stroke="#1f988b"/><path d="M638.9 445.1L652.5 459.5L660.6 447L647 432.8z" fill="#52c569" stroke="#52c569"/><path d="M549.4 378.5L562.9 390.6L571.1 379.4L557.6 367.6z" fill="#89d548" stroke="#89d548"/><path d="M747.8 570L761.4 586.7L769.4 572.8L755.8 556.2z" fill="#1f9e89" stroke="#1f9e89"/><path d="M979.3 837.6L992.9 850.6L1000.6 838.5L987 825.3z" fill="#424186" stroke="#424186"/><path d="M652.5 459.5L666.1 474.4L674.1 461.5L660.6 447z" fill="#48c16e" stroke="#48c16e"/><path d="M734.2 553.4L747.8 570L755.8 556.2L742.1 539.7z" fill="#20a386" stroke="#20a386"/><path d="M720.6 537.1L734.2 553.4L742.1 539.7L728.5 523.5z" fill="#23a983" stroke="#23a983"/><path d="M666.1 474.4L679.7 489.6L687.7 476.5L674.1 461.5z" fill="#3fbc73" stroke="#3fbc73"/><path d="M1103.9 908.3L1117.7 918.5L1125.2 907.9L1111.4 897.5z" fill="#482374" stroke="#482374"/><path d="M706.9 520.9L720.6 537.1L728.5 523.5L714.9 507.5z" fill="#28ae80" stroke="#28ae80"/><path d="M679.7 489.6L693.3 505.1L701.3 491.9L687.7 476.5z" fill="#37b878" stroke="#37b878"/><path d="M693.3 505.1L706.9 520.9L714.9 507.5L701.3 491.9z" fill="#2eb37c" stroke="#2eb37c"/><path d="M1055.2 886.9L1068.9 898L1076.5 886.9L1062.8 875.6z" fill="#472d7b" stroke="#472d7b"/><path d="M500.6 355.3L514.1 366.3L522.3 355.7L508.9 345z" fill="#9dd93b" stroke="#9dd93b"/><path d="M562.9 390.6L576.4 403.1L584.6 391.7L571.1 379.4z" fill="#7fd34e" stroke="#7fd34e"/><path d="M992.9 850.6L1006.6 863.1L1014.2 851.2L1000.6 838.5z" fill="#433d84" stroke="#433d84"/><path d="M451.8 334.5L465.3 344.5L473.6 334.6L460.2 324.8z" fill="#b2dd2d" stroke="#b2dd2d"/><path d="M862.5 733.7L876.1 749.5L883.9 735.9L870.3 720z" fill="#30698e" stroke="#30698e"/><path d="M876.1 749.5L889.7 764.9L897.5 751.5L883.9 735.9z" fill="#33638d" stroke="#33638d"/><path d="M848.9 717.6L862.5 733.7L870.3 720L856.7 703.8z" fill="#2e6e8e" stroke="#2e6e8e"/><path d="M889.7 764.9L903.4 780.1L911.1 766.8L897.5 751.5z" fill="#355e8d" stroke="#355e8d"/><path d="M835.2 701.3L848.9 717.6L856.7 703.8L843.1 687.4z" fill="#2c738e" stroke="#2c738e"/><path d="M576.4 403.1L590 416.1L598.2 404.4L584.6 391.7z" fill="#75d054" stroke="#75d054"/><path d="M903.4 780.1L917 794.8L924.8 781.8L911.1 766.8z" fill="#38598c" stroke="#38598c"/><path d="M821.6 684.8L835.2 701.3L843.1 687.4L829.5 670.8z" fill="#29798e" stroke="#29798e"/><path d="M1006.6 863.1L1020.2 875.2L1027.9 863.5L1014.2 851.2z" fill="#453882" stroke="#453882"/><path d="M917 794.8L930.6 809.2L938.4 796.3L924.8 781.8z" fill="#3a538b" stroke="#3a538b"/><path d="M1117.7 918.5L1131.4 928.2L1138.9 917.8L1125.2 907.9z" fill="#482071" stroke="#482071"/><path d="M514.1 366.3L527.6 377.7L535.8 366.9L522.3 355.7z" fill="#95d840" stroke="#95d840"/><path d="M808 668.2L821.6 684.8L829.5 670.8L815.9 654.1z" fill="#277f8e" stroke="#277f8e"/><path d="M1068.9 898L1082.7 908.7L1090.2 897.8L1076.5 886.9z" fill="#482979" stroke="#482979"/><path d="M794.4 651.4L808 668.2L815.9 654.1L802.3 637.3z" fill="#25848e" stroke="#25848e"/><path d="M590 416.1L603.6 429.5L611.7 417.5L598.2 404.4z" fill="#69cd5b" stroke="#69cd5b"/><path d="M930.6 809.2L944.3 823.1L952 810.5L938.4 796.3z" fill="#3d4e8a" stroke="#3d4e8a"/><path d="M465.3 344.5L478.7 354.9L487.1 344.7L473.6 334.6z" fill="#aadc32" stroke="#aadc32"/><path d="M780.7 634.5L794.4 651.4L802.3 637.3L788.7 620.4z" fill="#238a8d" stroke="#238a8d"/><path d="M1020.2 875.2L1033.9 886.9L1041.6 875.4L1027.9 863.5z" fill="#46337f" stroke="#46337f"/><path d="M944.3 823.1L957.9 836.7L965.6 824.3L952 810.5z" fill="#3f4889" stroke="#3f4889"/><path d="M603.6 429.5L617.2 443.3L625.3 431.1L611.7 417.5z" fill="#60ca60" stroke="#60ca60"/><path d="M767.1 617.6L780.7 634.5L788.7 620.4L775 603.5z" fill="#21908d" stroke="#21908d"/><path d="M527.6 377.7L541.1 389.6L549.4 378.5L535.8 366.9z" fill="#8bd646" stroke="#8bd646"/><path d="M753.5 600.7L767.1 617.6L775 603.5L761.4 586.7z" fill="#1f958b" stroke="#1f958b"/><path d="M617.2 443.3L630.8 457.6L638.9 445.1L625.3 431.1z" fill="#56c667" stroke="#56c667"/><path d="M1082.7 908.7L1096.4 919L1103.9 908.3L1090.2 897.8z" fill="#482576" stroke="#482576"/><path d="M957.9 836.7L971.6 849.8L979.3 837.6L965.6 824.3z" fill="#414487" stroke="#414487"/><path d="M739.8 583.9L753.5 600.7L761.4 586.7L747.8 570z" fill="#1e9b8a" stroke="#1e9b8a"/><path d="M1131.4 928.2L1145.2 937.7L1152.7 927.4L1138.9 917.8z" fill="#481c6e" stroke="#481c6e"/><path d="M630.8 457.6L644.4 472.3L652.5 459.5L638.9 445.1z" fill="#4cc26c" stroke="#4cc26c"/><path d="M726.2 567.3L739.8 583.9L747.8 570L734.2 553.4z" fill="#1fa188" stroke="#1fa188"/><path d="M478.7 354.9L492.2 365.8L500.6 355.3L487.1 344.7z" fill="#a2da37" stroke="#a2da37"/><path d="M1033.9 886.9L1047.6 898.1L1055.2 886.9L1041.6 875.4z" fill="#472e7c" stroke="#472e7c"/><path d="M712.6 550.8L726.2 567.3L734.2 553.4L720.6 537.1z" fill="#21a685" stroke="#21a685"/><path d="M644.4 472.3L658 487.3L666.1 474.4L652.5 459.5z" fill="#42be71" stroke="#42be71"/><path d="M430 334.6L443.4 344.4L451.8 334.5L438.4 325z" fill="#b5de2b" stroke="#b5de2b"/><path d="M541.1 389.6L554.7 402L562.9 390.6L549.4 378.5z" fill="#84d44b" stroke="#84d44b"/><path d="M698.9 534.5L712.6 550.8L720.6 537.1L706.9 520.9z" fill="#25ac82" stroke="#25ac82"/><path d="M658 487.3L671.6 502.7L679.7 489.6L666.1 474.4z" fill="#3aba76" stroke="#3aba76"/><path d="M685.3 518.5L698.9 534.5L706.9 520.9L693.3 505.1z" fill="#2ab07f" stroke="#2ab07f"/><path d="M971.6 849.8L985.2 862.5L992.9 850.6L979.3 837.6z" fill="#433e85" stroke="#433e85"/><path d="M671.6 502.7L685.3 518.5L693.3 505.1L679.7 489.6z" fill="#32b67a" stroke="#32b67a"/><path d="M554.7 402L568.2 414.7L576.4 403.1L562.9 390.6z" fill="#7ad151" stroke="#7ad151"/><path d="M1096.4 919L1110.2 929L1117.7 918.5L1103.9 908.3z" fill="#482173" stroke="#482173"/><path d="M854.6 747.3L868.3 763L876.1 749.5L862.5 733.7z" fill="#32658e" stroke="#32658e"/><path d="M985.2 862.5L998.9 874.8L1006.6 863.1L992.9 850.6z" fill="#443983" stroke="#443983"/><path d="M841 731.4L854.6 747.3L862.5 733.7L848.9 717.6z" fill="#2f6b8e" stroke="#2f6b8e"/><path d="M868.3 763L881.9 778.3L889.7 764.9L876.1 749.5z" fill="#34608d" stroke="#34608d"/><path d="M492.2 365.8L505.8 377L514.1 366.3L500.6 355.3z" fill="#98d83e" stroke="#98d83e"/><path d="M1047.6 898.1L1061.4 909L1068.9 898L1055.2 886.9z" fill="#472a7a" stroke="#472a7a"/><path d="M827.4 715.2L841 731.4L848.9 717.6L835.2 701.3z" fill="#2d718e" stroke="#2d718e"/><path d="M881.9 778.3L895.5 793.2L903.4 780.1L889.7 764.9z" fill="#375b8d" stroke="#375b8d"/><path d="M813.7 698.8L827.4 715.2L835.2 701.3L821.6 684.8z" fill="#2a768e" stroke="#2a768e"/><path d="M895.5 793.2L909.2 807.7L917 794.8L903.4 780.1z" fill="#39558c" stroke="#39558c"/><path d="M800.1 682.2L813.7 698.8L821.6 684.8L808 668.2z" fill="#297b8e" stroke="#297b8e"/><path d="M443.4 344.4L456.9 354.7L465.3 344.5L451.8 334.5z" fill="#addc30" stroke="#addc30"/><path d="M568.2 414.7L581.8 428L590 416.1L576.4 403.1z" fill="#6ece58" stroke="#6ece58"/><path d="M786.4 665.5L800.1 682.2L808 668.2L794.4 651.4z" fill="#26818e" stroke="#26818e"/><path d="M909.2 807.7L922.8 821.9L930.6 809.2L917 794.8z" fill="#3c508b" stroke="#3c508b"/><path d="M998.9 874.8L1012.6 886.7L1020.2 875.2L1006.6 863.1z" fill="#453581" stroke="#453581"/><path d="M772.8 648.6L786.4 665.5L794.4 651.4L780.7 634.5z" fill="#24868e" stroke="#24868e"/><path d="M505.8 377L519.3 388.7L527.6 377.7L514.1 366.3z" fill="#90d743" stroke="#90d743"/><path d="M922.8 821.9L936.5 835.6L944.3 823.1L930.6 809.2z" fill="#3e4a89" stroke="#3e4a89"/><path d="M581.8 428L595.4 441.6L603.6 429.5L590 416.1z" fill="#65cb5e" stroke="#65cb5e"/><path d="M759.1 631.7L772.8 648.6L780.7 634.5L767.1 617.6z" fill="#228c8d" stroke="#228c8d"/><path d="M1061.4 909L1075.1 919.5L1082.7 908.7L1068.9 898z" fill="#482677" stroke="#482677"/><path d="M1110.2 929L1123.9 938.6L1131.4 928.2L1117.7 918.5z" fill="#481d6f" stroke="#481d6f"/><path d="M745.5 614.8L759.1 631.7L767.1 617.6L753.5 600.7z" fill="#20928c" stroke="#20928c"/><path d="M595.4 441.6L609 455.7L617.2 443.3L603.6 429.5z" fill="#5ac864" stroke="#5ac864"/><path d="M936.5 835.6L950.2 849L957.9 836.7L944.3 823.1z" fill="#404688" stroke="#404688"/><path d="M456.9 354.7L470.4 365.3L478.7 354.9L465.3 344.5z" fill="#a5db36" stroke="#a5db36"/><path d="M731.8 597.9L745.5 614.8L753.5 600.7L739.8 583.9z" fill="#1f988b" stroke="#1f988b"/><path d="M1012.6 886.7L1026.3 898.2L1033.9 886.9L1020.2 875.2z" fill="#46307e" stroke="#46307e"/><path d="M609 455.7L622.7 470.2L630.8 457.6L617.2 443.3z" fill="#52c569" stroke="#52c569"/><path d="M718.2 581.2L731.8 597.9L739.8 583.9L726.2 567.3z" fill="#1f9e89" stroke="#1f9e89"/><path d="M519.3 388.7L532.8 400.9L541.1 389.6L527.6 377.7z" fill="#86d549" stroke="#86d549"/><path d="M704.5 564.6L718.2 581.2L726.2 567.3L712.6 550.8z" fill="#1fa287" stroke="#1fa287"/><path d="M950.2 849L963.8 861.9L971.6 849.8L957.9 836.7z" fill="#424086" stroke="#424086"/><path d="M622.7 470.2L636.3 485.1L644.4 472.3L630.8 457.6z" fill="#48c16e" stroke="#48c16e"/><path d="M690.9 548.1L704.5 564.6L712.6 550.8L698.9 534.5z" fill="#22a884" stroke="#22a884"/><path d="M636.3 485.1L649.9 500.4L658 487.3L644.4 472.3z" fill="#3dbc74" stroke="#3dbc74"/><path d="M677.2 531.9L690.9 548.1L698.9 534.5L685.3 518.5z" fill="#27ad81" stroke="#27ad81"/><path d="M649.9 500.4L663.6 516L671.6 502.7L658 487.3z" fill="#35b779" stroke="#35b779"/><path d="M663.6 516L677.2 531.9L685.3 518.5L671.6 502.7z" fill="#2eb37c" stroke="#2eb37c"/><path d="M1075.1 919.5L1088.8 929.6L1096.4 919L1082.7 908.7z" fill="#482374" stroke="#482374"/><path d="M532.8 400.9L546.4 413.5L554.7 402L541.1 389.6z" fill="#7cd250" stroke="#7cd250"/><path d="M1123.9 938.6L1137.7 947.8L1145.2 937.7L1131.4 928.2z" fill="#481b6d" stroke="#481b6d"/><path d="M1026.3 898.2L1040 909.2L1047.6 898.1L1033.9 886.9z" fill="#472d7b" stroke="#472d7b"/><path d="M470.4 365.3L483.9 376.4L492.2 365.8L478.7 354.9z" fill="#9dd93b" stroke="#9dd93b"/><path d="M963.8 861.9L977.5 874.4L985.2 862.5L971.6 849.8z" fill="#443b84" stroke="#443b84"/><path d="M421.5 344.4L435 354.5L443.4 344.4L430 334.6z" fill="#b0dd2f" stroke="#b0dd2f"/><path d="M833.1 745.2L846.8 760.9L854.6 747.3L841 731.4z" fill="#31688e" stroke="#31688e"/><path d="M846.8 760.9L860.4 776.4L868.3 763L854.6 747.3z" fill="#33628d" stroke="#33628d"/><path d="M819.5 729.1L833.1 745.2L841 731.4L827.4 715.2z" fill="#2e6e8e" stroke="#2e6e8e"/><path d="M860.4 776.4L874.1 791.5L881.9 778.3L868.3 763z" fill="#365d8d" stroke="#365d8d"/><path d="M805.8 712.8L819.5 729.1L827.4 715.2L813.7 698.8z" fill="#2c728e" stroke="#2c728e"/><path d="M546.4 413.5L560 426.5L568.2 414.7L554.7 402z" fill="#73d056" stroke="#73d056"/><path d="M874.1 791.5L887.7 806.2L895.5 793.2L881.9 778.3z" fill="#38588c" stroke="#38588c"/><path d="M792.1 696.3L805.8 712.8L813.7 698.8L800.1 682.2z" fill="#2a788e" stroke="#2a788e"/><path d="M977.5 874.4L991.2 886.5L998.9 874.8L985.2 862.5z" fill="#453781" stroke="#453781"/><path d="M778.5 679.6L792.1 696.3L800.1 682.2L786.4 665.5z" fill="#277e8e" stroke="#277e8e"/><path d="M887.7 806.2L901.4 820.6L909.2 807.7L895.5 793.2z" fill="#3b528b" stroke="#3b528b"/><path d="M483.9 376.4L497.4 387.9L505.8 377L492.2 365.8z" fill="#95d840" stroke="#95d840"/><path d="M1088.8 929.6L1102.6 939.4L1110.2 929L1096.4 919z" fill="#481f70" stroke="#481f70"/><path d="M1040 909.2L1053.8 919.9L1061.4 909L1047.6 898.1z" fill="#482878" stroke="#482878"/><path d="M764.8 662.7L778.5 679.6L786.4 665.5L772.8 648.6z" fill="#25838e" stroke="#25838e"/><path d="M560 426.5L573.6 440L581.8 428L568.2 414.7z" fill="#69cd5b" stroke="#69cd5b"/><path d="M901.4 820.6L915 834.5L922.8 821.9L909.2 807.7z" fill="#3d4d8a" stroke="#3d4d8a"/><path d="M751.2 645.8L764.8 662.7L772.8 648.6L759.1 631.7z" fill="#23898e" stroke="#23898e"/><path d="M435 354.5L448.5 364.9L456.9 354.7L443.4 344.4z" fill="#aadc32" stroke="#aadc32"/><path d="M737.5 628.9L751.2 645.8L759.1 631.7L745.5 614.8z" fill="#218f8d" stroke="#218f8d"/><path d="M915 834.5L928.7 848.1L936.5 835.6L922.8 821.9z" fill="#3f4889" stroke="#3f4889"/><path d="M991.2 886.5L1004.9 898.1L1012.6 886.7L998.9 874.8z" fill="#46337f" stroke="#46337f"/><path d="M573.6 440L587.2 453.9L595.4 441.6L581.8 428z" fill="#5ec962" stroke="#5ec962"/><path d="M723.8 612L737.5 628.9L745.5 614.8L731.8 597.9z" fill="#1f948c" stroke="#1f948c"/><path d="M497.4 387.9L511 399.9L519.3 388.7L505.8 377z" fill="#8bd646" stroke="#8bd646"/><path d="M587.2 453.9L600.9 468.3L609 455.7L595.4 441.6z" fill="#56c667" stroke="#56c667"/><path d="M710.2 595.2L723.8 612L731.8 597.9L718.2 581.2z" fill="#1f9a8a" stroke="#1f9a8a"/><path d="M928.7 848.1L942.4 861.2L950.2 849L936.5 835.6z" fill="#414287" stroke="#414287"/><path d="M1053.8 919.9L1067.5 930.2L1075.1 919.5L1061.4 909z" fill="#482475" stroke="#482475"/><path d="M696.5 578.4L710.2 595.2L718.2 581.2L704.5 564.6z" fill="#1fa088" stroke="#1fa088"/><path d="M600.9 468.3L614.5 483L622.7 470.2L609 455.7z" fill="#4cc26c" stroke="#4cc26c"/><path d="M1102.6 939.4L1116.4 948.8L1123.9 938.6L1110.2 929z" fill="#481c6e" stroke="#481c6e"/><path d="M682.8 561.9L696.5 578.4L704.5 564.6L690.9 548.1z" fill="#21a585" stroke="#21a585"/><path d="M614.5 483L628.2 498.1L636.3 485.1L622.7 470.2z" fill="#42be71" stroke="#42be71"/><path d="M448.5 364.9L462 375.9L470.4 365.3L456.9 354.7z" fill="#a0da39" stroke="#a0da39"/><path d="M1004.9 898.1L1018.6 909.4L1026.3 898.2L1012.6 886.7z" fill="#472e7c" stroke="#472e7c"/><path d="M669.2 545.5L682.8 561.9L690.9 548.1L677.2 531.9z" fill="#25ab82" stroke="#25ab82"/><path d="M628.2 498.1L641.8 513.6L649.9 500.4L636.3 485.1z" fill="#3aba76" stroke="#3aba76"/><path d="M511 399.9L524.6 412.3L532.8 400.9L519.3 388.7z" fill="#81d34d" stroke="#81d34d"/><path d="M655.5 529.4L669.2 545.5L677.2 531.9L663.6 516z" fill="#2ab07f" stroke="#2ab07f"/><path d="M641.8 513.6L655.5 529.4L663.6 516L649.9 500.4z" fill="#31b57b" stroke="#31b57b"/><path d="M942.4 861.2L956.1 873.9L963.8 861.9L950.2 849z" fill="#433e85" stroke="#433e85"/><path d="M524.6 412.3L538.2 425.2L546.4 413.5L532.8 400.9z" fill="#77d153" stroke="#77d153"/><path d="M825.2 758.8L838.9 774.4L846.8 760.9L833.1 745.2z" fill="#32658e" stroke="#32658e"/><path d="M811.5 742.9L825.2 758.8L833.1 745.2L819.5 729.1z" fill="#306a8e" stroke="#306a8e"/><path d="M838.9 774.4L852.5 789.7L860.4 776.4L846.8 760.9z" fill="#355f8d" stroke="#355f8d"/><path d="M1067.5 930.2L1081.3 940.1L1088.8 929.6L1075.1 919.5z" fill="#482071" stroke="#482071"/><path d="M956.1 873.9L969.8 886.1L977.5 874.4L963.8 861.9z" fill="#443983" stroke="#443983"/><path d="M797.9 726.7L811.5 742.9L819.5 729.1L805.8 712.8z" fill="#2d708e" stroke="#2d708e"/><path d="M852.5 789.7L866.2 804.6L874.1 791.5L860.4 776.4z" fill="#375a8c" stroke="#375a8c"/><path d="M462 375.9L475.5 387.2L483.9 376.4L470.4 365.3z" fill="#98d83e" stroke="#98d83e"/><path d="M1018.6 909.4L1032.4 920.2L1040 909.2L1026.3 898.2z" fill="#472a7a" stroke="#472a7a"/><path d="M784.2 710.3L797.9 726.7L805.8 712.8L792.1 696.3z" fill="#2b758e" stroke="#2b758e"/><path d="M866.2 804.6L879.9 819.2L887.7 806.2L874.1 791.5z" fill="#3a548c" stroke="#3a548c"/><path d="M770.5 693.6L784.2 710.3L792.1 696.3L778.5 679.6z" fill="#297b8e" stroke="#297b8e"/><path d="M1116.4 948.8L1130.2 957.9L1137.7 947.8L1123.9 938.6z" fill="#48186a" stroke="#48186a"/><path d="M413.1 354.4L426.6 364.7L435 354.5L421.5 344.4z" fill="#addc30" stroke="#addc30"/><path d="M538.2 425.2L551.8 438.5L560 426.5L546.4 413.5z" fill="#6ece58" stroke="#6ece58"/><path d="M756.9 676.9L770.5 693.6L778.5 679.6L764.8 662.7z" fill="#26818e" stroke="#26818e"/><path d="M879.9 819.2L893.6 833.3L901.4 820.6L887.7 806.2z" fill="#3c4f8a" stroke="#3c4f8a"/><path d="M743.2 660L756.9 676.9L764.8 662.7L751.2 645.8z" fill="#24868e" stroke="#24868e"/><path d="M969.8 886.1L983.5 898L991.2 886.5L977.5 874.4z" fill="#463480" stroke="#463480"/><path d="M893.6 833.3L907.2 847L915 834.5L901.4 820.6z" fill="#3e4a89" stroke="#3e4a89"/><path d="M729.5 643.1L743.2 660L751.2 645.8L737.5 628.9z" fill="#228c8d" stroke="#228c8d"/><path d="M551.8 438.5L565.4 452.2L573.6 440L560 426.5z" fill="#63cb5f" stroke="#63cb5f"/><path d="M475.5 387.2L489.1 399L497.4 387.9L483.9 376.4z" fill="#90d743" stroke="#90d743"/><path d="M1032.4 920.2L1046.1 930.7L1053.8 919.9L1040 909.2z" fill="#482677" stroke="#482677"/><path d="M715.8 626.1L729.5 643.1L737.5 628.9L723.8 612z" fill="#20928c" stroke="#20928c"/><path d="M1081.3 940.1L1095.1 949.7L1102.6 939.4L1088.8 929.6z" fill="#481d6f" stroke="#481d6f"/><path d="M565.4 452.2L579 466.4L587.2 453.9L573.6 440z" fill="#5ac864" stroke="#5ac864"/><path d="M907.2 847L920.9 860.4L928.7 848.1L915 834.5z" fill="#404588" stroke="#404588"/><path d="M702.1 609.2L715.8 626.1L723.8 612L710.2 595.2z" fill="#1f978b" stroke="#1f978b"/><path d="M426.6 364.7L440.1 375.4L448.5 364.9L435 354.5z" fill="#a5db36" stroke="#a5db36"/><path d="M983.5 898L997.2 909.4L1004.9 898.1L991.2 886.5z" fill="#46307e" stroke="#46307e"/><path d="M688.4 592.4L702.1 609.2L710.2 595.2L696.5 578.4z" fill="#1e9d89" stroke="#1e9d89"/><path d="M579 466.4L592.7 481L600.9 468.3L587.2 453.9z" fill="#50c46a" stroke="#50c46a"/><path d="M489.1 399L502.7 411.2L511 399.9L497.4 387.9z" fill="#86d549" stroke="#86d549"/><path d="M674.8 575.7L688.4 592.4L696.5 578.4L682.8 561.9z" fill="#1fa287" stroke="#1fa287"/><path d="M592.7 481L606.4 496L614.5 483L600.9 468.3z" fill="#46c06f" stroke="#46c06f"/><path d="M920.9 860.4L934.6 873.3L942.4 861.2L928.7 848.1z" fill="#424086" stroke="#424086"/><path d="M661.1 559.2L674.8 575.7L682.8 561.9L669.2 545.5z" fill="#22a884" stroke="#22a884"/><path d="M606.4 496L620 511.3L628.2 498.1L614.5 483z" fill="#3dbc74" stroke="#3dbc74"/><path d="M647.4 543L661.1 559.2L669.2 545.5L655.5 529.4z" fill="#26ad81" stroke="#26ad81"/><path d="M620 511.3L633.7 527L641.8 513.6L628.2 498.1z" fill="#35b779" stroke="#35b779"/><path d="M633.7 527L647.4 543L655.5 529.4L641.8 513.6z" fill="#2db27d" stroke="#2db27d"/><path d="M1046.1 930.7L1059.9 940.8L1067.5 930.2L1053.8 919.9z" fill="#482374" stroke="#482374"/><path d="M502.7 411.2L516.3 423.9L524.6 412.3L511 399.9z" fill="#7cd250" stroke="#7cd250"/><path d="M997.2 909.4L1011 920.5L1018.6 909.4L1004.9 898.1z" fill="#472c7a" stroke="#472c7a"/><path d="M440.1 375.4L453.6 386.6L462 375.9L448.5 364.9z" fill="#9dd93b" stroke="#9dd93b"/><path d="M934.6 873.3L948.3 885.7L956.1 873.9L942.4 861.2z" fill="#443b84" stroke="#443b84"/><path d="M1095.1 949.7L1108.9 959L1116.4 948.8L1102.6 939.4z" fill="#481a6c" stroke="#481a6c"/><path d="M803.6 756.6L817.3 772.4L825.2 758.8L811.5 742.9z" fill="#31678e" stroke="#31678e"/><path d="M817.3 772.4L831 787.9L838.9 774.4L825.2 758.8z" fill="#33628d" stroke="#33628d"/><path d="M789.9 740.6L803.6 756.6L811.5 742.9L797.9 726.7z" fill="#2e6d8e" stroke="#2e6d8e"/><path d="M831 787.9L844.6 803L852.5 789.7L838.9 774.4z" fill="#365d8d" stroke="#365d8d"/><path d="M776.2 724.3L789.9 740.6L797.9 726.7L784.2 710.3z" fill="#2c728e" stroke="#2c728e"/><path d="M844.6 803L858.3 817.7L866.2 804.6L852.5 789.7z" fill="#39568c" stroke="#39568c"/><path d="M762.5 707.7L776.2 724.3L784.2 710.3L770.5 693.6z" fill="#2a778e" stroke="#2a778e"/><path d="M516.3 423.9L529.9 437L538.2 425.2L524.6 412.3z" fill="#73d056" stroke="#73d056"/><path d="M748.9 691L762.5 707.7L770.5 693.6L756.9 676.9z" fill="#287d8e" stroke="#287d8e"/><path d="M948.3 885.7L962 897.8L969.8 886.1L956.1 873.9z" fill="#453781" stroke="#453781"/><path d="M858.3 817.7L872 832L879.9 819.2L866.2 804.6z" fill="#3b518b" stroke="#3b518b"/><path d="M735.2 674.2L748.9 691L756.9 676.9L743.2 660z" fill="#26828e" stroke="#26828e"/><path d="M453.6 386.6L467.2 398.2L475.5 387.2L462 375.9z" fill="#93d741" stroke="#93d741"/><path d="M1059.9 940.8L1073.7 950.6L1081.3 940.1L1067.5 930.2z" fill="#481f70" stroke="#481f70"/><path d="M1011 920.5L1024.7 931.2L1032.4 920.2L1018.6 909.4z" fill="#482878" stroke="#482878"/><path d="M529.9 437L543.5 450.6L551.8 438.5L538.2 425.2z" fill="#67cc5c" stroke="#67cc5c"/><path d="M872 832L885.7 846L893.6 833.3L879.9 819.2z" fill="#3d4d8a" stroke="#3d4d8a"/><path d="M721.5 657.2L735.2 674.2L743.2 660L729.5 643.1z" fill="#23888e" stroke="#23888e"/><path d="M707.8 640.3L721.5 657.2L729.5 643.1L715.8 626.1z" fill="#218e8d" stroke="#218e8d"/><path d="M404.6 364.5L418.1 375L426.6 364.7L413.1 354.4z" fill="#a8db34" stroke="#a8db34"/><path d="M1108.9 959L1122.7 967.9L1130.2 957.9L1116.4 948.8z" fill="#481769" stroke="#481769"/><path d="M885.7 846L899.4 859.5L907.2 847L893.6 833.3z" fill="#3f4788" stroke="#3f4788"/><path d="M543.5 450.6L557.2 464.6L565.4 452.2L551.8 438.5z" fill="#5ec962" stroke="#5ec962"/><path d="M962 897.8L975.8 909.4L983.5 898L969.8 886.1z" fill="#46327e" stroke="#46327e"/><path d="M694.1 623.3L707.8 640.3L715.8 626.1L702.1 609.2z" fill="#1f948c" stroke="#1f948c"/><path d="M467.2 398.2L480.7 410.2L489.1 399L475.5 387.2z" fill="#89d548" stroke="#89d548"/><path d="M680.4 606.4L694.1 623.3L702.1 609.2L688.4 592.4z" fill="#1f9a8a" stroke="#1f9a8a"/><path d="M557.2 464.6L570.8 479L579 466.4L565.4 452.2z" fill="#54c568" stroke="#54c568"/><path d="M899.4 859.5L913.1 872.6L920.9 860.4L907.2 847z" fill="#414287" stroke="#414287"/><path d="M666.7 589.7L680.4 606.4L688.4 592.4L674.8 575.7z" fill="#1fa088" stroke="#1fa088"/><path d="M570.8 479L584.5 493.8L592.7 481L579 466.4z" fill="#4ac16d" stroke="#4ac16d"/><path d="M1024.7 931.2L1038.5 941.4L1046.1 930.7L1032.4 920.2z" fill="#482475" stroke="#482475"/><path d="M653 573L666.7 589.7L674.8 575.7L661.1 559.2z" fill="#20a486" stroke="#20a486"/><path d="M1073.7 950.6L1087.5 960L1095.1 949.7L1081.3 940.1z" fill="#481b6d" stroke="#481b6d"/><path d="M584.5 493.8L598.2 509L606.4 496L592.7 481z" fill="#40bd72" stroke="#40bd72"/><path d="M639.3 556.6L653 573L661.1 559.2L647.4 543z" fill="#24aa83" stroke="#24aa83"/><path d="M598.2 509L611.9 524.6L620 511.3L606.4 496z" fill="#38b977" stroke="#38b977"/><path d="M625.6 540.5L639.3 556.6L647.4 543L633.7 527z" fill="#29af7f" stroke="#29af7f"/><path d="M418.1 375L431.6 386L440.1 375.4L426.6 364.7z" fill="#a0da39" stroke="#a0da39"/><path d="M975.8 909.4L989.5 920.7L997.2 909.4L983.5 898z" fill="#472e7c" stroke="#472e7c"/><path d="M611.9 524.6L625.6 540.5L633.7 527L620 511.3z" fill="#2fb47c" stroke="#2fb47c"/><path d="M480.7 410.2L494.3 422.7L502.7 411.2L489.1 399z" fill="#81d34d" stroke="#81d34d"/><path d="M913.1 872.6L926.8 885.2L934.6 873.3L920.9 860.4z" fill="#433d84" stroke="#433d84"/><path d="M795.6 770.3L809.3 785.9L817.3 772.4L803.6 756.6z" fill="#32648e" stroke="#32648e"/><path d="M782 754.4L795.6 770.3L803.6 756.6L789.9 740.6z" fill="#306a8e" stroke="#306a8e"/><path d="M494.3 422.7L508 435.6L516.3 423.9L502.7 411.2z" fill="#77d153" stroke="#77d153"/><path d="M809.3 785.9L823 801.2L831 787.9L817.3 772.4z" fill="#355f8d" stroke="#355f8d"/><path d="M768.3 738.2L782 754.4L789.9 740.6L776.2 724.3z" fill="#2e6f8e" stroke="#2e6f8e"/><path d="M926.8 885.2L940.5 897.5L948.3 885.7L934.6 873.3z" fill="#443983" stroke="#443983"/><path d="M823 801.2L836.7 816.1L844.6 803L831 787.9z" fill="#375a8c" stroke="#375a8c"/><path d="M754.6 721.8L768.3 738.2L776.2 724.3L762.5 707.7z" fill="#2b748e" stroke="#2b748e"/><path d="M1038.5 941.4L1052.3 951.4L1059.9 940.8L1046.1 930.7z" fill="#482071" stroke="#482071"/><path d="M431.6 386L445.2 397.4L453.6 386.6L440.1 375.4z" fill="#98d83e" stroke="#98d83e"/><path d="M989.5 920.7L1003.3 931.5L1011 920.5L997.2 909.4z" fill="#482979" stroke="#482979"/><path d="M740.8 705.1L754.6 721.8L762.5 707.7L748.9 691z" fill="#297a8e" stroke="#297a8e"/><path d="M836.7 816.1L850.4 830.7L858.3 817.7L844.6 803z" fill="#3a548c" stroke="#3a548c"/><path d="M727.1 688.3L740.8 705.1L748.9 691L735.2 674.2z" fill="#27808e" stroke="#27808e"/><path d="M1087.5 960L1101.4 969.1L1108.9 959L1095.1 949.7z" fill="#48186a" stroke="#48186a"/><path d="M508 435.6L521.6 449L529.9 437L516.3 423.9z" fill="#6ccd5a" stroke="#6ccd5a"/><path d="M850.4 830.7L864.1 844.8L872 832L858.3 817.7z" fill="#3c4f8a" stroke="#3c4f8a"/><path d="M713.4 671.4L727.1 688.3L735.2 674.2L721.5 657.2z" fill="#25858e" stroke="#25858e"/><path d="M940.5 897.5L954.3 909.3L962 897.8L948.3 885.7z" fill="#463480" stroke="#463480"/><path d="M699.7 654.5L713.4 671.4L721.5 657.2L707.8 640.3z" fill="#228b8d" stroke="#228b8d"/><path d="M864.1 844.8L877.8 858.5L885.7 846L872 832z" fill="#3e4989" stroke="#3e4989"/><path d="M521.6 449L535.3 462.9L543.5 450.6L529.9 437z" fill="#63cb5f" stroke="#63cb5f"/><path d="M445.2 397.4L458.8 409.3L467.2 398.2L453.6 386.6z" fill="#8ed645" stroke="#8ed645"/><path d="M686 637.5L699.7 654.5L707.8 640.3L694.1 623.3z" fill="#21918c" stroke="#21918c"/><path d="M1003.3 931.5L1017 942L1024.7 931.2L1011 920.5z" fill="#482576" stroke="#482576"/><path d="M672.3 620.5L686 637.5L694.1 623.3L680.4 606.4z" fill="#1f968b" stroke="#1f968b"/><path d="M535.3 462.9L548.9 477.1L557.2 464.6L543.5 450.6z" fill="#58c765" stroke="#58c765"/><path d="M1052.3 951.4L1066.1 960.9L1073.7 950.6L1059.9 940.8z" fill="#481c6e" stroke="#481c6e"/><path d="M877.8 858.5L891.6 871.8L899.4 859.5L885.7 846z" fill="#404588" stroke="#404588"/><path d="M658.6 603.7L672.3 620.5L680.4 606.4L666.7 589.7z" fill="#1e9c89" stroke="#1e9c89"/><path d="M396.1 374.7L409.6 385.5L418.1 375L404.6 364.5z" fill="#a2da37" stroke="#a2da37"/><path d="M548.9 477.1L562.6 491.8L570.8 479L557.2 464.6z" fill="#4ec36b" stroke="#4ec36b"/><path d="M954.3 909.3L968 920.8L975.8 909.4L962 897.8z" fill="#472f7d" stroke="#472f7d"/><path d="M644.8 586.9L658.6 603.7L666.7 589.7L653 573z" fill="#1fa187" stroke="#1fa187"/><path d="M458.8 409.3L472.4 421.6L480.7 410.2L467.2 398.2z" fill="#84d44b" stroke="#84d44b"/><path d="M562.6 491.8L576.3 506.8L584.5 493.8L570.8 479z" fill="#44bf70" stroke="#44bf70"/><path d="M1101.4 969.1L1115.2 977.8L1122.7 967.9L1108.9 959z" fill="#481668" stroke="#481668"/><path d="M631.1 570.4L644.8 586.9L653 573L639.3 556.6z" fill="#22a785" stroke="#22a785"/><path d="M891.6 871.8L905.3 884.7L913.1 872.6L899.4 859.5z" fill="#423f85" stroke="#423f85"/><path d="M576.3 506.8L590 522.3L598.2 509L584.5 493.8z" fill="#3bbb75" stroke="#3bbb75"/><path d="M617.4 554.1L631.1 570.4L639.3 556.6L625.6 540.5z" fill="#26ad81" stroke="#26ad81"/><path d="M590 522.3L603.7 538L611.9 524.6L598.2 509z" fill="#34b679" stroke="#34b679"/><path d="M603.7 538L617.4 554.1L625.6 540.5L611.9 524.6z" fill="#2cb17e" stroke="#2cb17e"/><path d="M1017 942L1030.8 952.1L1038.5 941.4L1024.7 931.2z" fill="#482173" stroke="#482173"/><path d="M472.4 421.6L486 434.3L494.3 422.7L480.7 410.2z" fill="#7ad151" stroke="#7ad151"/><path d="M905.3 884.7L919 897.1L926.8 885.2L913.1 872.6z" fill="#443a83" stroke="#443a83"/><path d="M409.6 385.5L423.2 396.8L431.6 386L418.1 375z" fill="#9bd93c" stroke="#9bd93c"/><path d="M968 920.8L981.8 931.8L989.5 920.7L975.8 909.4z" fill="#472c7a" stroke="#472c7a"/><path d="M1066.1 960.9L1079.9 970.2L1087.5 960L1073.7 950.6z" fill="#481a6c" stroke="#481a6c"/><path d="M774 768.2L787.7 783.9L795.6 770.3L782 754.4z" fill="#31678e" stroke="#31678e"/><path d="M787.7 783.9L801.4 799.4L809.3 785.9L795.6 770.3z" fill="#34618d" stroke="#34618d"/><path d="M760.3 752.1L774 768.2L782 754.4L768.3 738.2z" fill="#2f6c8e" stroke="#2f6c8e"/><path d="M746.5 735.8L760.3 752.1L768.3 738.2L754.6 721.8z" fill="#2c718e" stroke="#2c718e"/><path d="M801.4 799.4L815.1 814.5L823 801.2L809.3 785.9z" fill="#365c8d" stroke="#365c8d"/><path d="M732.8 719.2L746.5 735.8L754.6 721.8L740.8 705.1z" fill="#2a778e" stroke="#2a778e"/><path d="M815.1 814.5L828.8 829.2L836.7 816.1L823 801.2z" fill="#39568c" stroke="#39568c"/><path d="M486 434.3L499.6 447.6L508 435.6L494.3 422.7z" fill="#70cf57" stroke="#70cf57"/><path d="M719.1 702.5L732.8 719.2L740.8 705.1L727.1 688.3z" fill="#287d8e" stroke="#287d8e"/><path d="M828.8 829.2L842.5 843.5L850.4 830.7L836.7 816.1z" fill="#3b518b" stroke="#3b518b"/><path d="M919 897.1L932.7 909.2L940.5 897.5L926.8 885.2z" fill="#453581" stroke="#453581"/><path d="M705.4 685.6L719.1 702.5L727.1 688.3L713.4 671.4z" fill="#26828e" stroke="#26828e"/><path d="M423.2 396.8L436.8 408.4L445.2 397.4L431.6 386z" fill="#93d741" stroke="#93d741"/><path d="M691.6 668.7L705.4 685.6L713.4 671.4L699.7 654.5z" fill="#23888e" stroke="#23888e"/><path d="M842.5 843.5L856.2 857.4L864.1 844.8L850.4 830.7z" fill="#3e4c8a" stroke="#3e4c8a"/><path d="M499.6 447.6L513.3 461.2L521.6 449L508 435.6z" fill="#67cc5c" stroke="#67cc5c"/><path d="M981.8 931.8L995.6 942.4L1003.3 931.5L989.5 920.7z" fill="#482878" stroke="#482878"/><path d="M1030.8 952.1L1044.7 961.8L1052.3 951.4L1038.5 941.4z" fill="#481f70" stroke="#481f70"/><path d="M677.9 651.7L691.6 668.7L699.7 654.5L686 637.5z" fill="#218e8d" stroke="#218e8d"/><path d="M856.2 857.4L870 870.9L877.8 858.5L864.1 844.8z" fill="#3f4788" stroke="#3f4788"/><path d="M513.3 461.2L527 475.3L535.3 462.9L521.6 449z" fill="#5cc863" stroke="#5cc863"/><path d="M664.2 634.7L677.9 651.7L686 637.5L672.3 620.5z" fill="#20938c" stroke="#20938c"/><path d="M1079.9 970.2L1093.8 979.1L1101.4 969.1L1087.5 960z" fill="#481769" stroke="#481769"/><path d="M932.7 909.2L946.5 920.8L954.3 909.3L940.5 897.5z" fill="#46327e" stroke="#46327e"/><path d="M650.4 617.8L664.2 634.7L672.3 620.5L658.6 603.7z" fill="#1f998a" stroke="#1f998a"/><path d="M436.8 408.4L450.4 420.6L458.8 409.3L445.2 397.4z" fill="#89d548" stroke="#89d548"/><path d="M527 475.3L540.7 489.8L548.9 477.1L535.3 462.9z" fill="#54c568" stroke="#54c568"/><path d="M636.7 600.9L650.4 617.8L658.6 603.7L644.8 586.9z" fill="#1f9f88" stroke="#1f9f88"/><path d="M870 870.9L883.7 884L891.6 871.8L877.8 858.5z" fill="#424186" stroke="#424186"/><path d="M540.7 489.8L554.4 504.7L562.6 491.8L548.9 477.1z" fill="#4ac16d" stroke="#4ac16d"/><path d="M623 584.3L636.7 600.9L644.8 586.9L631.1 570.4z" fill="#20a486" stroke="#20a486"/><path d="M995.6 942.4L1009.4 952.7L1017 942L1003.3 931.5z" fill="#482475" stroke="#482475"/><path d="M554.4 504.7L568.1 520L576.3 506.8L562.6 491.8z" fill="#40bd72" stroke="#40bd72"/><path d="M609.2 567.8L623 584.3L631.1 570.4L617.4 554.1z" fill="#24aa83" stroke="#24aa83"/><path d="M595.5 551.6L609.2 567.8L617.4 554.1L603.7 538z" fill="#28ae80" stroke="#28ae80"/><path d="M568.1 520L581.8 535.6L590 522.3L576.3 506.8z" fill="#37b878" stroke="#37b878"/><path d="M581.8 535.6L595.5 551.6L603.7 538L590 522.3z" fill="#2fb47c" stroke="#2fb47c"/><path d="M1044.7 961.8L1058.5 971.2L1066.1 960.9L1052.3 951.4z" fill="#481b6d" stroke="#481b6d"/><path d="M387.6 385.1L401.1 396.2L409.6 385.5L396.1 374.7z" fill="#a0da39" stroke="#a0da39"/><path d="M946.5 920.8L960.3 932L968 920.8L954.3 909.3z" fill="#472d7b" stroke="#472d7b"/><path d="M450.4 420.6L464 433.1L472.4 421.6L458.8 409.3z" fill="#7fd34e" stroke="#7fd34e"/><path d="M883.7 884L897.4 896.7L905.3 884.7L891.6 871.8z" fill="#433d84" stroke="#433d84"/><path d="M1093.8 979.1L1107.7 987.7L1115.2 977.8L1101.4 969.1z" fill="#481467" stroke="#481467"/><path d="M766 781.9L779.7 797.5L787.7 783.9L774 768.2z" fill="#32648e" stroke="#32648e"/><path d="M752.2 766L766 781.9L774 768.2L760.3 752.1z" fill="#30698e" stroke="#30698e"/><path d="M738.5 749.8L752.2 766L760.3 752.1L746.5 735.8z" fill="#2e6f8e" stroke="#2e6f8e"/><path d="M779.7 797.5L793.4 812.8L801.4 799.4L787.7 783.9z" fill="#355e8d" stroke="#355e8d"/><path d="M464 433.1L477.6 446.2L486 434.3L472.4 421.6z" fill="#75d054" stroke="#75d054"/><path d="M724.8 733.3L738.5 749.8L746.5 735.8L732.8 719.2z" fill="#2b748e" stroke="#2b748e"/><path d="M793.4 812.8L807.1 827.7L815.1 814.5L801.4 799.4z" fill="#38598c" stroke="#38598c"/><path d="M897.4 896.7L911.2 908.9L919 897.1L905.3 884.7z" fill="#453882" stroke="#453882"/><path d="M711 716.7L724.8 733.3L732.8 719.2L719.1 702.5z" fill="#29798e" stroke="#29798e"/><path d="M1009.4 952.7L1023.2 962.6L1030.8 952.1L1017 942z" fill="#482071" stroke="#482071"/><path d="M401.1 396.2L414.7 407.7L423.2 396.8L409.6 385.5z" fill="#95d840" stroke="#95d840"/><path d="M807.1 827.7L820.9 842.2L828.8 829.2L815.1 814.5z" fill="#3a538b" stroke="#3a538b"/><path d="M960.3 932L974 942.8L981.8 931.8L968 920.8z" fill="#482979" stroke="#482979"/><path d="M697.3 699.8L711 716.7L719.1 702.5L705.4 685.6z" fill="#277f8e" stroke="#277f8e"/><path d="M477.6 446.2L491.3 459.6L499.6 447.6L486 434.3z" fill="#6ccd5a" stroke="#6ccd5a"/><path d="M820.9 842.2L834.6 856.3L842.5 843.5L828.8 829.2z" fill="#3d4e8a" stroke="#3d4e8a"/><path d="M1058.5 971.2L1072.3 980.3L1079.9 970.2L1066.1 960.9z" fill="#48186a" stroke="#48186a"/><path d="M683.6 682.9L697.3 699.8L705.4 685.6L691.6 668.7z" fill="#25848e" stroke="#25848e"/><path d="M669.8 665.9L683.6 682.9L691.6 668.7L677.9 651.7z" fill="#238a8d" stroke="#238a8d"/><path d="M911.2 908.9L924.9 920.7L932.7 909.2L919 897.1z" fill="#46337f" stroke="#46337f"/><path d="M834.6 856.3L848.3 870L856.2 857.4L842.5 843.5z" fill="#3e4989" stroke="#3e4989"/><path d="M491.3 459.6L505 473.6L513.3 461.2L499.6 447.6z" fill="#60ca60" stroke="#60ca60"/><path d="M656.1 648.9L669.8 665.9L677.9 651.7L664.2 634.7z" fill="#21908d" stroke="#21908d"/><path d="M414.7 407.7L428.3 419.6L436.8 408.4L423.2 396.8z" fill="#8ed645" stroke="#8ed645"/><path d="M642.3 631.9L656.1 648.9L664.2 634.7L650.4 617.8z" fill="#1f958b" stroke="#1f958b"/><path d="M505 473.6L518.7 487.9L527 475.3L513.3 461.2z" fill="#58c765" stroke="#58c765"/><path d="M974 942.8L987.8 953.3L995.6 942.4L981.8 931.8z" fill="#482576" stroke="#482576"/><path d="M848.3 870L862.1 883.3L870 870.9L856.2 857.4z" fill="#414487" stroke="#414487"/><path d="M1023.2 962.6L1037 972.2L1044.7 961.8L1030.8 952.1z" fill="#481c6e" stroke="#481c6e"/><path d="M628.6 615L642.3 631.9L650.4 617.8L636.7 600.9z" fill="#1e9b8a" stroke="#1e9b8a"/><path d="M518.7 487.9L532.4 502.6L540.7 489.8L527 475.3z" fill="#4ec36b" stroke="#4ec36b"/><path d="M614.8 598.2L628.6 615L636.7 600.9L623 584.3z" fill="#1fa188" stroke="#1fa188"/><path d="M924.9 920.7L938.7 932.2L946.5 920.8L932.7 909.2z" fill="#472f7d" stroke="#472f7d"/><path d="M532.4 502.6L546.1 517.8L554.4 504.7L540.7 489.8z" fill="#44bf70" stroke="#44bf70"/><path d="M601.1 581.6L614.8 598.2L623 584.3L609.2 567.8z" fill="#21a685" stroke="#21a685"/><path d="M428.3 419.6L441.9 432L450.4 420.6L436.8 408.4z" fill="#84d44b" stroke="#84d44b"/><path d="M587.3 565.2L601.1 581.6L609.2 567.8L595.5 551.6z" fill="#25ac82" stroke="#25ac82"/><path d="M862.1 883.3L875.8 896.1L883.7 884L870 870.9z" fill="#423f85" stroke="#423f85"/><path d="M546.1 517.8L559.8 533.3L568.1 520L554.4 504.7z" fill="#3bbb75" stroke="#3bbb75"/><path d="M1072.3 980.3L1086.2 989L1093.8 979.1L1079.9 970.2z" fill="#481467" stroke="#481467"/><path d="M573.6 549.1L587.3 565.2L595.5 551.6L581.8 535.6z" fill="#2cb17e" stroke="#2cb17e"/><path d="M559.8 533.3L573.6 549.1L581.8 535.6L568.1 520z" fill="#32b67a" stroke="#32b67a"/><path d="M987.8 953.3L1001.6 963.4L1009.4 952.7L995.6 942.4z" fill="#482173" stroke="#482173"/><path d="M441.9 432L455.6 444.9L464 433.1L450.4 420.6z" fill="#7ad151" stroke="#7ad151"/><path d="M875.8 896.1L889.5 908.6L897.4 896.7L883.7 884z" fill="#443a83" stroke="#443a83"/><path d="M379 395.7L392.6 407L401.1 396.2L387.6 385.1z" fill="#9bd93c" stroke="#9bd93c"/><path d="M938.7 932.2L952.5 943.2L960.3 932L946.5 920.8z" fill="#472a7a" stroke="#472a7a"/><path d="M744.2 779.8L757.9 795.5L766 781.9L752.2 766z" fill="#31668e" stroke="#31668e"/><path d="M730.5 763.7L744.2 779.8L752.2 766L738.5 749.8z" fill="#2f6c8e" stroke="#2f6c8e"/><path d="M757.9 795.5L771.7 811L779.7 797.5L766 781.9z" fill="#34618d" stroke="#34618d"/><path d="M716.7 747.4L730.5 763.7L738.5 749.8L724.8 733.3z" fill="#2d718e" stroke="#2d718e"/><path d="M1037 972.2L1050.8 981.4L1058.5 971.2L1044.7 961.8z" fill="#481a6c" stroke="#481a6c"/><path d="M771.7 811L785.4 826.1L793.4 812.8L779.7 797.5z" fill="#375b8d" stroke="#375b8d"/><path d="M703 730.8L716.7 747.4L724.8 733.3L711 716.7z" fill="#2a768e" stroke="#2a768e"/><path d="M785.4 826.1L799.2 840.8L807.1 827.7L793.4 812.8z" fill="#39558c" stroke="#39558c"/><path d="M689.2 714L703 730.8L711 716.7L697.3 699.8z" fill="#287c8e" stroke="#287c8e"/><path d="M455.6 444.9L469.3 458.2L477.6 446.2L464 433.1z" fill="#70cf57" stroke="#70cf57"/><path d="M799.2 840.8L812.9 855.1L820.9 842.2L807.1 827.7z" fill="#3c508b" stroke="#3c508b"/><path d="M675.4 697.2L689.2 714L697.3 699.8L683.6 682.9z" fill="#26828e" stroke="#26828e"/><path d="M889.5 908.6L903.3 920.6L911.2 908.9L897.4 896.7z" fill="#453581" stroke="#453581"/><path d="M661.7 680.2L675.4 697.2L683.6 682.9L669.8 665.9z" fill="#24878e" stroke="#24878e"/><path d="M1086.2 989L1100.1 997.5L1107.7 987.7L1093.8 979.1z" fill="#471164" stroke="#471164"/><path d="M392.6 407L406.2 418.8L414.7 407.7L401.1 396.2z" fill="#90d743" stroke="#90d743"/><path d="M812.9 855.1L826.6 869L834.6 856.3L820.9 842.2z" fill="#3e4c8a" stroke="#3e4c8a"/><path d="M469.3 458.2L482.9 471.9L491.3 459.6L477.6 446.2z" fill="#65cb5e" stroke="#65cb5e"/><path d="M952.5 943.2L966.3 953.8L974 942.8L960.3 932z" fill="#482677" stroke="#482677"/><path d="M1001.6 963.4L1015.5 973.1L1023.2 962.6L1009.4 952.7z" fill="#481d6f" stroke="#481d6f"/><path d="M647.9 663.1L661.7 680.2L669.8 665.9L656.1 648.9z" fill="#228d8d" stroke="#228d8d"/><path d="M634.2 646.1L647.9 663.1L656.1 648.9L642.3 631.9z" fill="#20928c" stroke="#20928c"/><path d="M482.9 471.9L496.6 486.1L505 473.6L491.3 459.6z" fill="#5cc863" stroke="#5cc863"/><path d="M826.6 869L840.4 882.4L848.3 870L834.6 856.3z" fill="#404688" stroke="#404688"/><path d="M903.3 920.6L917.1 932.2L924.9 920.7L911.2 908.9z" fill="#46307e" stroke="#46307e"/><path d="M1050.8 981.4L1064.7 990.3L1072.3 980.3L1058.5 971.2z" fill="#481668" stroke="#481668"/><path d="M620.4 629.1L634.2 646.1L642.3 631.9L628.6 615z" fill="#1f988b" stroke="#1f988b"/><path d="M496.6 486.1L510.4 500.6L518.7 487.9L505 473.6z" fill="#52c569" stroke="#52c569"/><path d="M406.2 418.8L419.8 431L428.3 419.6L414.7 407.7z" fill="#89d548" stroke="#89d548"/><path d="M606.6 612.3L620.4 629.1L628.6 615L614.8 598.2z" fill="#1f9e89" stroke="#1f9e89"/><path d="M840.4 882.4L854.1 895.5L862.1 883.3L848.3 870z" fill="#424186" stroke="#424186"/><path d="M510.4 500.6L524.1 515.6L532.4 502.6L518.7 487.9z" fill="#48c16e" stroke="#48c16e"/><path d="M592.9 595.5L606.6 612.3L614.8 598.2L601.1 581.6z" fill="#20a386" stroke="#20a386"/><path d="M579.1 579L592.9 595.5L601.1 581.6L587.3 565.2z" fill="#23a983" stroke="#23a983"/><path d="M524.1 515.6L537.8 531L546.1 517.8L532.4 502.6z" fill="#3fbc73" stroke="#3fbc73"/><path d="M966.3 953.8L980.1 964L987.8 953.3L974 942.8z" fill="#482374" stroke="#482374"/><path d="M565.3 562.7L579.1 579L587.3 565.2L573.6 549.1z" fill="#28ae80" stroke="#28ae80"/><path d="M537.8 531L551.6 546.7L559.8 533.3L546.1 517.8z" fill="#37b878" stroke="#37b878"/><path d="M551.6 546.7L565.3 562.7L573.6 549.1L559.8 533.3z" fill="#2eb37c" stroke="#2eb37c"/><path d="M1015.5 973.1L1029.3 982.5L1037 972.2L1023.2 962.6z" fill="#481b6d" stroke="#481b6d"/><path d="M419.8 431L433.5 443.6L441.9 432L428.3 419.6z" fill="#7fd34e" stroke="#7fd34e"/><path d="M917.1 932.2L930.9 943.4L938.7 932.2L924.9 920.7z" fill="#472d7b" stroke="#472d7b"/><path d="M854.1 895.5L867.9 908.2L875.8 896.1L862.1 883.3z" fill="#433d84" stroke="#433d84"/><path d="M722.4 777.6L736.1 793.5L744.2 779.8L730.5 763.7z" fill="#31688e" stroke="#31688e"/><path d="M736.1 793.5L749.9 809.1L757.9 795.5L744.2 779.8z" fill="#33638d" stroke="#33638d"/><path d="M708.6 761.4L722.4 777.6L730.5 763.7L716.7 747.4z" fill="#2e6e8e" stroke="#2e6e8e"/><path d="M749.9 809.1L763.6 824.4L771.7 811L757.9 795.5z" fill="#355e8d" stroke="#355e8d"/><path d="M694.9 744.9L708.6 761.4L716.7 747.4L703 730.8z" fill="#2c738e" stroke="#2c738e"/><path d="M1064.7 990.3L1078.6 998.9L1086.2 989L1072.3 980.3z" fill="#471365" stroke="#471365"/><path d="M433.5 443.6L447.2 456.8L455.6 444.9L441.9 432z" fill="#75d054" stroke="#75d054"/><path d="M763.6 824.4L777.4 839.2L785.4 826.1L771.7 811z" fill="#38588c" stroke="#38588c"/><path d="M681.1 728.2L694.9 744.9L703 730.8L689.2 714z" fill="#29798e" stroke="#29798e"/><path d="M867.9 908.2L881.7 920.4L889.5 908.6L875.8 896.1z" fill="#453882" stroke="#453882"/><path d="M777.4 839.2L791.2 853.8L799.2 840.8L785.4 826.1z" fill="#3b528b" stroke="#3b528b"/><path d="M370.5 406.4L384.1 418L392.6 407L379 395.7z" fill="#95d840" stroke="#95d840"/><path d="M980.1 964L993.9 973.9L1001.6 963.4L987.8 953.3z" fill="#482071" stroke="#482071"/><path d="M667.3 711.4L681.1 728.2L689.2 714L675.4 697.2z" fill="#277f8e" stroke="#277f8e"/><path d="M930.9 943.4L944.7 954.2L952.5 943.2L938.7 932.2z" fill="#482979" stroke="#482979"/><path d="M653.5 694.4L667.3 711.4L675.4 697.2L661.7 680.2z" fill="#25848e" stroke="#25848e"/><path d="M447.2 456.8L460.9 470.3L469.3 458.2L455.6 444.9z" fill="#69cd5b" stroke="#69cd5b"/><path d="M791.2 853.8L804.9 867.8L812.9 855.1L799.2 840.8z" fill="#3d4e8a" stroke="#3d4e8a"/><path d="M1029.3 982.5L1043.2 991.5L1050.8 981.4L1037 972.2z" fill="#481769" stroke="#481769"/><path d="M639.8 677.4L653.5 694.4L661.7 680.2L647.9 663.1z" fill="#238a8d" stroke="#238a8d"/><path d="M881.7 920.4L895.4 932.2L903.3 920.6L889.5 908.6z" fill="#46337f" stroke="#46337f"/><path d="M804.9 867.8L818.7 881.5L826.6 869L812.9 855.1z" fill="#3f4889" stroke="#3f4889"/><path d="M460.9 470.3L474.6 484.3L482.9 471.9L469.3 458.2z" fill="#60ca60" stroke="#60ca60"/><path d="M626 660.4L639.8 677.4L647.9 663.1L634.2 646.1z" fill="#21908d" stroke="#21908d"/><path d="M384.1 418L397.7 430L406.2 418.8L392.6 407z" fill="#8bd646" stroke="#8bd646"/><path d="M612.2 643.3L626 660.4L634.2 646.1L620.4 629.1z" fill="#1f958b" stroke="#1f958b"/><path d="M474.6 484.3L488.3 498.7L496.6 486.1L482.9 471.9z" fill="#56c667" stroke="#56c667"/><path d="M818.7 881.5L832.4 894.8L840.4 882.4L826.6 869z" fill="#414487" stroke="#414487"/><path d="M598.4 626.4L612.2 643.3L620.4 629.1L606.6 612.3z" fill="#1e9b8a" stroke="#1e9b8a"/><path d="M944.7 954.2L958.5 964.6L966.3 953.8L952.5 943.2z" fill="#482576" stroke="#482576"/><path d="M1078.6 998.9L1092.5 1007.2L1100.1 997.5L1086.2 989z" fill="#471063" stroke="#471063"/><path d="M993.9 973.9L1007.8 983.5L1015.5 973.1L1001.6 963.4z" fill="#481c6e" stroke="#481c6e"/><path d="M488.3 498.7L502 513.5L510.4 500.6L496.6 486.1z" fill="#4cc26c" stroke="#4cc26c"/><path d="M584.6 609.5L598.4 626.4L606.6 612.3L592.9 595.5z" fill="#1fa188" stroke="#1fa188"/><path d="M895.4 932.2L909.2 943.6L917.1 932.2L903.3 920.6z" fill="#472e7c" stroke="#472e7c"/><path d="M570.9 592.9L584.6 609.5L592.9 595.5L579.1 579z" fill="#21a685" stroke="#21a685"/><path d="M502 513.5L515.8 528.8L524.1 515.6L510.4 500.6z" fill="#42be71" stroke="#42be71"/><path d="M397.7 430L411.4 442.5L419.8 431L406.2 418.8z" fill="#81d34d" stroke="#81d34d"/><path d="M557.1 576.4L570.9 592.9L579.1 579L565.3 562.7z" fill="#25ab82" stroke="#25ab82"/><path d="M515.8 528.8L529.5 544.3L537.8 531L524.1 515.6z" fill="#3aba76" stroke="#3aba76"/><path d="M543.3 560.2L557.1 576.4L565.3 562.7L551.6 546.7z" fill="#2ab07f" stroke="#2ab07f"/><path d="M529.5 544.3L543.3 560.2L551.6 546.7L537.8 531z" fill="#32b67a" stroke="#32b67a"/><path d="M832.4 894.8L846.2 907.6L854.1 895.5L840.4 882.4z" fill="#433e85" stroke="#433e85"/><path d="M1043.2 991.5L1057.1 1000.3L1064.7 990.3L1050.8 981.4z" fill="#481467" stroke="#481467"/><path d="M411.4 442.5L425 455.4L433.5 443.6L419.8 431z" fill="#77d153" stroke="#77d153"/><path d="M958.5 964.6L972.3 974.7L980.1 964L966.3 953.8z" fill="#482173" stroke="#482173"/><path d="M714.3 791.4L728.1 807.2L736.1 793.5L722.4 777.6z" fill="#32658e" stroke="#32658e"/><path d="M846.2 907.6L860 920.1L867.9 908.2L854.1 895.5z" fill="#443983" stroke="#443983"/><path d="M700.5 775.3L714.3 791.4L722.4 777.6L708.6 761.4z" fill="#2f6b8e" stroke="#2f6b8e"/><path d="M728.1 807.2L741.8 822.6L749.9 809.1L736.1 793.5z" fill="#34608d" stroke="#34608d"/><path d="M686.7 759L700.5 775.3L708.6 761.4L694.9 744.9z" fill="#2d718e" stroke="#2d718e"/><path d="M909.2 943.6L923 954.6L930.9 943.4L917.1 932.2z" fill="#472a7a" stroke="#472a7a"/><path d="M741.8 822.6L755.6 837.7L763.6 824.4L749.9 809.1z" fill="#375b8d" stroke="#375b8d"/><path d="M673 742.4L686.7 759L694.9 744.9L681.1 728.2z" fill="#2b758e" stroke="#2b758e"/><path d="M1007.8 983.5L1021.6 992.7L1029.3 982.5L1015.5 973.1z" fill="#48186a" stroke="#48186a"/><path d="M755.6 837.7L769.4 852.4L777.4 839.2L763.6 824.4z" fill="#39558c" stroke="#39558c"/><path d="M659.2 725.6L673 742.4L681.1 728.2L667.3 711.4z" fill="#297b8e" stroke="#297b8e"/><path d="M425 455.4L438.7 468.8L447.2 456.8L433.5 443.6z" fill="#6ece58" stroke="#6ece58"/><path d="M645.4 708.7L659.2 725.6L667.3 711.4L653.5 694.4z" fill="#26818e" stroke="#26818e"/><path d="M769.4 852.4L783.1 866.7L791.2 853.8L777.4 839.2z" fill="#3c508b" stroke="#3c508b"/><path d="M860 920.1L873.7 932.1L881.7 920.4L867.9 908.2z" fill="#453581" stroke="#453581"/><path d="M631.6 691.7L645.4 708.7L653.5 694.4L639.8 677.4z" fill="#24868e" stroke="#24868e"/><path d="M783.1 866.7L796.9 880.5L804.9 867.8L791.2 853.8z" fill="#3e4a89" stroke="#3e4a89"/><path d="M361.9 417.3L375.5 429.2L384.1 418L370.5 406.4z" fill="#90d743" stroke="#90d743"/><path d="M438.7 468.8L452.4 482.6L460.9 470.3L447.2 456.8z" fill="#65cb5e" stroke="#65cb5e"/><path d="M1057.1 1000.3L1071 1008.7L1078.6 998.9L1064.7 990.3z" fill="#471164" stroke="#471164"/><path d="M617.8 674.6L631.6 691.7L639.8 677.4L626 660.4z" fill="#228c8d" stroke="#228c8d"/><path d="M923 954.6L936.8 965.2L944.7 954.2L930.9 943.4z" fill="#482677" stroke="#482677"/><path d="M972.3 974.7L986.2 984.4L993.9 973.9L980.1 964z" fill="#481d6f" stroke="#481d6f"/><path d="M604 657.6L617.8 674.6L626 660.4L612.2 643.3z" fill="#20928c" stroke="#20928c"/><path d="M452.4 482.6L466.2 496.9L474.6 484.3L460.9 470.3z" fill="#5ac864" stroke="#5ac864"/><path d="M796.9 880.5L810.7 894L818.7 881.5L804.9 867.8z" fill="#404688" stroke="#404688"/><path d="M590.2 640.6L604 657.6L612.2 643.3L598.4 626.4z" fill="#1f978b" stroke="#1f978b"/><path d="M873.7 932.1L887.5 943.7L895.4 932.2L881.7 920.4z" fill="#46307e" stroke="#46307e"/><path d="M1021.6 992.7L1035.5 1001.6L1043.2 991.5L1029.3 982.5z" fill="#481668" stroke="#481668"/><path d="M466.2 496.9L479.9 511.5L488.3 498.7L474.6 484.3z" fill="#52c569" stroke="#52c569"/><path d="M576.4 623.6L590.2 640.6L598.4 626.4L584.6 609.5z" fill="#1e9d89" stroke="#1e9d89"/><path d="M375.5 429.2L389.2 441.5L397.7 430L384.1 418z" fill="#86d549" stroke="#86d549"/><path d="M562.6 606.8L576.4 623.6L584.6 609.5L570.9 592.9z" fill="#1fa287" stroke="#1fa287"/><path d="M810.7 894L824.4 907L832.4 894.8L818.7 881.5z" fill="#424086" stroke="#424086"/><path d="M479.9 511.5L493.7 526.6L502 513.5L488.3 498.7z" fill="#48c16e" stroke="#48c16e"/><path d="M548.8 590.2L562.6 606.8L570.9 592.9L557.1 576.4z" fill="#22a884" stroke="#22a884"/><path d="M493.7 526.6L507.4 542L515.8 528.8L502 513.5z" fill="#3dbc74" stroke="#3dbc74"/><path d="M535 573.9L548.8 590.2L557.1 576.4L543.3 560.2z" fill="#27ad81" stroke="#27ad81"/><path d="M507.4 542L521.2 557.8L529.5 544.3L515.8 528.8z" fill="#35b779" stroke="#35b779"/><path d="M521.2 557.8L535 573.9L543.3 560.2L529.5 544.3z" fill="#2eb37c" stroke="#2eb37c"/><path d="M936.8 965.2L950.7 975.4L958.5 964.6L944.7 954.2z" fill="#482374" stroke="#482374"/><path d="M389.2 441.5L402.9 454.2L411.4 442.5L397.7 430z" fill="#7cd250" stroke="#7cd250"/><path d="M887.5 943.7L901.3 954.8L909.2 943.6L895.4 932.2z" fill="#472c7a" stroke="#472c7a"/><path d="M986.2 984.4L1000 993.8L1007.8 983.5L993.9 973.9z" fill="#481b6d" stroke="#481b6d"/><path d="M824.4 907L838.2 919.7L846.2 907.6L832.4 894.8z" fill="#443b84" stroke="#443b84"/><path d="M1071 1008.7L1084.9 1016.9L1092.5 1007.2L1078.6 998.9z" fill="#470e61" stroke="#470e61"/><path d="M692.4 789.2L706.2 805.1L714.3 791.4L700.5 775.3z" fill="#31688e" stroke="#31688e"/><path d="M706.2 805.1L720 820.7L728.1 807.2L714.3 791.4z" fill="#33628d" stroke="#33628d"/><path d="M678.6 773L692.4 789.2L700.5 775.3L686.7 759z" fill="#2e6d8e" stroke="#2e6d8e"/><path d="M720 820.7L733.8 836L741.8 822.6L728.1 807.2z" fill="#365d8d" stroke="#365d8d"/><path d="M664.8 756.5L678.6 773L686.7 759L673 742.4z" fill="#2c728e" stroke="#2c728e"/><path d="M733.8 836L747.5 850.9L755.6 837.7L741.8 822.6z" fill="#38588c" stroke="#38588c"/><path d="M402.9 454.2L416.6 467.4L425 455.4L411.4 442.5z" fill="#73d056" stroke="#73d056"/><path d="M651 739.9L664.8 756.5L673 742.4L659.2 725.6z" fill="#2a788e" stroke="#2a788e"/><path d="M1035.5 1001.6L1049.4 1010.2L1057.1 1000.3L1043.2 991.5z" fill="#471365" stroke="#471365"/><path d="M838.2 919.7L852 931.9L860 920.1L846.2 907.6z" fill="#453781" stroke="#453781"/><path d="M637.2 723L651 739.9L659.2 725.6L645.4 708.7z" fill="#277e8e" stroke="#277e8e"/><path d="M747.5 850.9L761.3 865.4L769.4 852.4L755.6 837.7z" fill="#3b528b" stroke="#3b528b"/><path d="M950.7 975.4L964.5 985.3L972.3 974.7L958.5 964.6z" fill="#481f70" stroke="#481f70"/><path d="M901.3 954.8L915.2 965.6L923 954.6L909.2 943.6z" fill="#482878" stroke="#482878"/><path d="M623.4 706L637.2 723L645.4 708.7L631.6 691.7z" fill="#25838e" stroke="#25838e"/><path d="M416.6 467.4L430.3 481L438.7 468.8L425 455.4z" fill="#69cd5b" stroke="#69cd5b"/><path d="M761.3 865.4L775.1 879.5L783.1 866.7L769.4 852.4z" fill="#3d4d8a" stroke="#3d4d8a"/><path d="M609.6 689L623.4 706L631.6 691.7L617.8 674.6z" fill="#23898e" stroke="#23898e"/><path d="M1000 993.8L1013.9 1002.8L1021.6 992.7L1007.8 983.5z" fill="#481769" stroke="#481769"/><path d="M595.8 671.9L609.6 689L617.8 674.6L604 657.6z" fill="#218f8d" stroke="#218f8d"/><path d="M775.1 879.5L788.9 893.1L796.9 880.5L783.1 866.7z" fill="#3f4788" stroke="#3f4788"/><path d="M852 931.9L865.8 943.7L873.7 932.1L860 920.1z" fill="#46327e" stroke="#46327e"/><path d="M430.3 481L444 495.1L452.4 482.6L438.7 468.8z" fill="#5ec962" stroke="#5ec962"/><path d="M582 654.8L595.8 671.9L604 657.6L590.2 640.6z" fill="#1f948c" stroke="#1f948c"/><path d="M353.3 428.4L367 440.5L375.5 429.2L361.9 417.3z" fill="#8bd646" stroke="#8bd646"/><path d="M444 495.1L457.8 509.6L466.2 496.9L452.4 482.6z" fill="#56c667" stroke="#56c667"/><path d="M568.2 637.8L582 654.8L590.2 640.6L576.4 623.6z" fill="#1f9a8a" stroke="#1f9a8a"/><path d="M788.9 893.1L802.7 906.4L810.7 894L796.9 880.5z" fill="#414287" stroke="#414287"/><path d="M915.2 965.6L929 976L936.8 965.2L923 954.6z" fill="#482475" stroke="#482475"/><path d="M554.3 620.9L568.2 637.8L576.4 623.6L562.6 606.8z" fill="#1fa088" stroke="#1fa088"/><path d="M457.8 509.6L471.5 524.5L479.9 511.5L466.2 496.9z" fill="#4cc26c" stroke="#4cc26c"/><path d="M1049.4 1010.2L1063.3 1018.5L1071 1008.7L1057.1 1000.3z" fill="#471063" stroke="#471063"/><path d="M964.5 985.3L978.4 994.8L986.2 984.4L972.3 974.7z" fill="#481c6e" stroke="#481c6e"/><path d="M540.5 604.2L554.3 620.9L562.6 606.8L548.8 590.2z" fill="#21a585" stroke="#21a585"/><path d="M471.5 524.5L485.3 539.8L493.7 526.6L479.9 511.5z" fill="#42be71" stroke="#42be71"/><path d="M865.8 943.7L879.6 955L887.5 943.7L873.7 932.1z" fill="#472e7c" stroke="#472e7c"/><path d="M526.7 587.7L540.5 604.2L548.8 590.2L535 573.9z" fill="#25ab82" stroke="#25ab82"/><path d="M485.3 539.8L499.1 555.4L507.4 542L493.7 526.6z" fill="#38b977" stroke="#38b977"/><path d="M512.9 571.4L526.7 587.7L535 573.9L521.2 557.8z" fill="#29af7f" stroke="#29af7f"/><path d="M367 440.5L380.7 453L389.2 441.5L375.5 429.2z" fill="#81d34d" stroke="#81d34d"/><path d="M499.1 555.4L512.9 571.4L521.2 557.8L507.4 542z" fill="#31b57b" stroke="#31b57b"/><path d="M802.7 906.4L816.5 919.2L824.4 907L810.7 894z" fill="#433e85" stroke="#433e85"/><path d="M1013.9 1002.8L1027.8 1011.6L1035.5 1001.6L1021.6 992.7z" fill="#481467" stroke="#481467"/><path d="M380.7 453L394.4 466.1L402.9 454.2L389.2 441.5z" fill="#77d153" stroke="#77d153"/><path d="M684.3 803.1L698.1 818.8L706.2 805.1L692.4 789.2z" fill="#32658e" stroke="#32658e"/><path d="M670.5 787L684.3 803.1L692.4 789.2L678.6 773z" fill="#306a8e" stroke="#306a8e"/><path d="M698.1 818.8L711.9 834.3L720 820.7L706.2 805.1z" fill="#355f8d" stroke="#355f8d"/><path d="M656.7 770.6L670.5 787L678.6 773L664.8 756.5z" fill="#2d708e" stroke="#2d708e"/><path d="M816.5 919.2L830.2 931.6L838.2 919.7L824.4 907z" fill="#443983" stroke="#443983"/><path d="M929 976L942.8 986.1L950.7 975.4L936.8 965.2z" fill="#482071" stroke="#482071"/><path d="M711.9 834.3L725.7 849.3L733.8 836L720 820.7z" fill="#375a8c" stroke="#375a8c"/><path d="M642.8 754.1L656.7 770.6L664.8 756.5L651 739.9z" fill="#2b758e" stroke="#2b758e"/><path d="M879.6 955L893.4 966L901.3 954.8L887.5 943.7z" fill="#472a7a" stroke="#472a7a"/><path d="M629 737.3L642.8 754.1L651 739.9L637.2 723z" fill="#297b8e" stroke="#297b8e"/><path d="M725.7 849.3L739.5 864L747.5 850.9L733.8 836z" fill="#3a548c" stroke="#3a548c"/><path d="M978.4 994.8L992.3 1004L1000 993.8L986.2 984.4z" fill="#48186a" stroke="#48186a"/><path d="M394.4 466.1L408.1 479.5L416.6 467.4L402.9 454.2z" fill="#6ece58" stroke="#6ece58"/><path d="M615.2 720.3L629 737.3L637.2 723L623.4 706z" fill="#26818e" stroke="#26818e"/><path d="M739.5 864L753.2 878.3L761.3 865.4L747.5 850.9z" fill="#3c4f8a" stroke="#3c4f8a"/><path d="M1063.3 1018.5L1077.3 1026.5L1084.9 1016.9L1071 1008.7z" fill="#470d60" stroke="#470d60"/><path d="M601.4 703.3L615.2 720.3L623.4 706L609.6 689z" fill="#24868e" stroke="#24868e"/><path d="M830.2 931.6L844.1 943.6L852 931.9L838.2 919.7z" fill="#463480" stroke="#463480"/><path d="M753.2 878.3L767 892.2L775.1 879.5L761.3 865.4z" fill="#3e4989" stroke="#3e4989"/><path d="M587.6 686.2L601.4 703.3L609.6 689L595.8 671.9z" fill="#228c8d" stroke="#228c8d"/><path d="M408.1 479.5L421.8 493.4L430.3 481L416.6 467.4z" fill="#63cb5f" stroke="#63cb5f"/><path d="M1027.8 1011.6L1041.7 1020L1049.4 1010.2L1035.5 1001.6z" fill="#471164" stroke="#471164"/><path d="M573.7 669.1L587.6 686.2L595.8 671.9L582 654.8z" fill="#20928c" stroke="#20928c"/><path d="M893.4 966L907.3 976.6L915.2 965.6L901.3 954.8z" fill="#482677" stroke="#482677"/><path d="M942.8 986.1L956.7 995.8L964.5 985.3L950.7 975.4z" fill="#481d6f" stroke="#481d6f"/><path d="M421.8 493.4L435.6 507.7L444 495.1L430.3 481z" fill="#5ac864" stroke="#5ac864"/><path d="M767 892.2L780.8 905.6L788.9 893.1L775.1 879.5z" fill="#404588" stroke="#404588"/><path d="M559.9 652L573.7 669.1L582 654.8L568.2 637.8z" fill="#1f978b" stroke="#1f978b"/><path d="M844.1 943.6L857.9 955.2L865.8 943.7L852 931.9z" fill="#46307e" stroke="#46307e"/><path d="M546 635.1L559.9 652L568.2 637.8L554.3 620.9z" fill="#1e9d89" stroke="#1e9d89"/><path d="M435.6 507.7L449.3 522.5L457.8 509.6L444 495.1z" fill="#50c46a" stroke="#50c46a"/><path d="M344.7 439.6L358.4 452L367 440.5L353.3 428.4z" fill="#86d549" stroke="#86d549"/><path d="M992.3 1004L1006.2 1012.9L1013.9 1002.8L1000 993.8z" fill="#481668" stroke="#481668"/><path d="M532.2 618.2L546 635.1L554.3 620.9L540.5 604.2z" fill="#1fa287" stroke="#1fa287"/><path d="M449.3 522.5L463.1 537.6L471.5 524.5L457.8 509.6z" fill="#46c06f" stroke="#46c06f"/><path d="M780.8 905.6L794.6 918.6L802.7 906.4L788.9 893.1z" fill="#424086" stroke="#424086"/><path d="M518.4 601.6L532.2 618.2L540.5 604.2L526.7 587.7z" fill="#22a884" stroke="#22a884"/><path d="M463.1 537.6L476.9 553.1L485.3 539.8L471.5 524.5z" fill="#3dbc74" stroke="#3dbc74"/><path d="M504.6 585.1L518.4 601.6L526.7 587.7L512.9 571.4z" fill="#26ad81" stroke="#26ad81"/><path d="M476.9 553.1L490.7 569L499.1 555.4L485.3 539.8z" fill="#34b679" stroke="#34b679"/><path d="M490.7 569L504.6 585.1L512.9 571.4L499.1 555.4z" fill="#2db27d" stroke="#2db27d"/><path d="M907.3 976.6L921.1 986.8L929 976L915.2 965.6z" fill="#482374" stroke="#482374"/><path d="M358.4 452L372.1 464.8L380.7 453L367 440.5z" fill="#7cd250" stroke="#7cd250"/><path d="M857.9 955.2L871.7 966.3L879.6 955L865.8 943.7z" fill="#472c7a" stroke="#472c7a"/><path d="M794.6 918.6L808.4 931.2L816.5 919.2L802.7 906.4z" fill="#443b84" stroke="#443b84"/><path d="M956.7 995.8L970.6 1005.1L978.4 994.8L964.5 985.3z" fill="#481a6c" stroke="#481a6c"/><path d="M1041.7 1020L1055.7 1028.2L1063.3 1018.5L1049.4 1010.2z" fill="#470e61" stroke="#470e61"/><path d="M662.3 800.9L676.1 816.8L684.3 803.1L670.5 787z" fill="#31678e" stroke="#31678e"/><path d="M676.1 816.8L689.9 832.4L698.1 818.8L684.3 803.1z" fill="#33628d" stroke="#33628d"/><path d="M648.5 784.7L662.3 800.9L670.5 787L656.7 770.6z" fill="#2e6d8e" stroke="#2e6d8e"/><path d="M689.9 832.4L703.7 847.7L711.9 834.3L698.1 818.8z" fill="#365c8d" stroke="#365c8d"/><path d="M634.6 768.2L648.5 784.7L656.7 770.6L642.8 754.1z" fill="#2c728e" stroke="#2c728e"/><path d="M620.8 751.5L634.6 768.2L642.8 754.1L629 737.3z" fill="#2a778e" stroke="#2a778e"/><path d="M703.7 847.7L717.5 862.6L725.7 849.3L711.9 834.3z" fill="#39568c" stroke="#39568c"/><path d="M372.1 464.8L385.8 478.1L394.4 466.1L380.7 453z" fill="#73d056" stroke="#73d056"/><path d="M607 734.7L620.8 751.5L629 737.3L615.2 720.3z" fill="#287d8e" stroke="#287d8e"/><path d="M808.4 931.2L822.2 943.4L830.2 931.6L816.5 919.2z" fill="#453781" stroke="#453781"/><path d="M1006.2 1012.9L1020.1 1021.5L1027.8 1011.6L1013.9 1002.8z" fill="#471365" stroke="#471365"/><path d="M717.5 862.6L731.3 877L739.5 864L725.7 849.3z" fill="#3b518b" stroke="#3b518b"/><path d="M593.1 717.7L607 734.7L615.2 720.3L601.4 703.3z" fill="#26828e" stroke="#26828e"/><path d="M921.1 986.8L935 996.7L942.8 986.1L929 976z" fill="#481f70" stroke="#481f70"/><path d="M871.7 966.3L885.5 977.1L893.4 966L879.6 955z" fill="#482878" stroke="#482878"/><path d="M385.8 478.1L399.6 491.8L408.1 479.5L394.4 466.1z" fill="#67cc5c" stroke="#67cc5c"/><path d="M731.3 877L745.2 891.1L753.2 878.3L739.5 864z" fill="#3d4d8a" stroke="#3d4d8a"/><path d="M579.3 700.6L593.1 717.7L601.4 703.3L587.6 686.2z" fill="#23888e" stroke="#23888e"/><path d="M565.4 683.4L579.3 700.6L587.6 686.2L573.7 669.1z" fill="#218e8d" stroke="#218e8d"/><path d="M970.6 1005.1L984.5 1014.2L992.3 1004L978.4 994.8z" fill="#481769" stroke="#481769"/><path d="M745.2 891.1L759 904.8L767 892.2L753.2 878.3z" fill="#3f4788" stroke="#3f4788"/><path d="M399.6 491.8L413.3 506L421.8 493.4L408.1 479.5z" fill="#5ec962" stroke="#5ec962"/><path d="M822.2 943.4L836.1 955.2L844.1 943.6L830.2 931.6z" fill="#46327e" stroke="#46327e"/><path d="M551.6 666.3L565.4 683.4L573.7 669.1L559.9 652z" fill="#20938c" stroke="#20938c"/><path d="M537.7 649.3L551.6 666.3L559.9 652L546 635.1z" fill="#1f998a" stroke="#1f998a"/><path d="M1055.7 1028.2L1069.6 1036.1L1077.3 1026.5L1063.3 1018.5z" fill="#460b5e" stroke="#460b5e"/><path d="M413.3 506L427.1 520.5L435.6 507.7L421.8 493.4z" fill="#54c568" stroke="#54c568"/><path d="M759 904.8L772.8 918L780.8 905.6L767 892.2z" fill="#414287" stroke="#414287"/><path d="M523.9 632.3L537.7 649.3L546 635.1L532.2 618.2z" fill="#1f9f88" stroke="#1f9f88"/><path d="M427.1 520.5L440.9 535.5L449.3 522.5L435.6 507.7z" fill="#4ac16d" stroke="#4ac16d"/><path d="M885.5 977.1L899.4 987.5L907.3 976.6L893.4 966z" fill="#482475" stroke="#482475"/><path d="M510 615.6L523.9 632.3L532.2 618.2L518.4 601.6z" fill="#20a486" stroke="#20a486"/><path d="M440.9 535.5L454.7 550.9L463.1 537.6L449.3 522.5z" fill="#40bd72" stroke="#40bd72"/><path d="M1020.1 1021.5L1034 1029.8L1041.7 1020L1027.8 1011.6z" fill="#471063" stroke="#471063"/><path d="M935 996.7L948.9 1006.2L956.7 995.8L942.8 986.1z" fill="#481b6d" stroke="#481b6d"/><path d="M496.2 599L510 615.6L518.4 601.6L504.6 585.1z" fill="#24aa83" stroke="#24aa83"/><path d="M454.7 550.9L468.5 566.6L476.9 553.1L463.1 537.6z" fill="#38b977" stroke="#38b977"/><path d="M482.4 582.6L496.2 599L504.6 585.1L490.7 569z" fill="#29af7f" stroke="#29af7f"/><path d="M468.5 566.6L482.4 582.6L490.7 569L476.9 553.1z" fill="#2fb47c" stroke="#2fb47c"/><path d="M836.1 955.2L849.9 966.5L857.9 955.2L844.1 943.6z" fill="#472e7c" stroke="#472e7c"/><path d="M336.1 451L349.8 463.6L358.4 452L344.7 439.6z" fill="#81d34d" stroke="#81d34d"/><path d="M772.8 918L786.6 930.8L794.6 918.6L780.8 905.6z" fill="#433d84" stroke="#433d84"/><path d="M984.5 1014.2L998.4 1022.9L1006.2 1012.9L992.3 1004z" fill="#481467" stroke="#481467"/><path d="M654.1 814.8L667.9 830.6L676.1 816.8L662.3 800.9z" fill="#32648e" stroke="#32648e"/><path d="M640.3 798.7L654.1 814.8L662.3 800.9L648.5 784.7z" fill="#306a8e" stroke="#306a8e"/><path d="M667.9 830.6L681.8 846L689.9 832.4L676.1 816.8z" fill="#355f8d" stroke="#355f8d"/><path d="M349.8 463.6L363.5 476.7L372.1 464.8L358.4 452z" fill="#77d153" stroke="#77d153"/><path d="M626.4 782.4L640.3 798.7L648.5 784.7L634.6 768.2z" fill="#2e6f8e" stroke="#2e6f8e"/><path d="M786.6 930.8L800.4 943.2L808.4 931.2L794.6 918.6z" fill="#453882" stroke="#453882"/><path d="M612.6 765.8L626.4 782.4L634.6 768.2L620.8 751.5z" fill="#2b748e" stroke="#2b748e"/><path d="M681.8 846L695.6 861L703.7 847.7L689.9 832.4z" fill="#375a8c" stroke="#375a8c"/><path d="M899.4 987.5L913.2 997.5L921.1 986.8L907.3 976.6z" fill="#482071" stroke="#482071"/><path d="M849.9 966.5L863.7 977.5L871.7 966.3L857.9 955.2z" fill="#482979" stroke="#482979"/><path d="M598.7 749L612.6 765.8L620.8 751.5L607 734.7z" fill="#297a8e" stroke="#297a8e"/><path d="M695.6 861L709.4 875.7L717.5 862.6L703.7 847.7z" fill="#3a538b" stroke="#3a538b"/><path d="M584.9 732L598.7 749L607 734.7L593.1 717.7z" fill="#27808e" stroke="#27808e"/><path d="M948.9 1006.2L962.8 1015.4L970.6 1005.1L956.7 995.8z" fill="#48186a" stroke="#48186a"/><path d="M363.5 476.7L377.3 490.3L385.8 478.1L372.1 464.8z" fill="#6ccd5a" stroke="#6ccd5a"/><path d="M709.4 875.7L723.2 890L731.3 877L717.5 862.6z" fill="#3c4f8a" stroke="#3c4f8a"/><path d="M571 714.9L584.9 732L593.1 717.7L579.3 700.6z" fill="#25858e" stroke="#25858e"/><path d="M1034 1029.8L1048 1037.8L1055.7 1028.2L1041.7 1020z" fill="#470d60" stroke="#470d60"/><path d="M800.4 943.2L814.2 955.1L822.2 943.4L808.4 931.2z" fill="#463480" stroke="#463480"/><path d="M557.2 697.8L571 714.9L579.3 700.6L565.4 683.4z" fill="#228b8d" stroke="#228b8d"/><path d="M723.2 890L737 903.8L745.2 891.1L731.3 877z" fill="#3e4989" stroke="#3e4989"/><path d="M377.3 490.3L391 504.3L399.6 491.8L385.8 478.1z" fill="#63cb5f" stroke="#63cb5f"/><path d="M543.3 680.7L557.2 697.8L565.4 683.4L551.6 666.3z" fill="#21918c" stroke="#21918c"/><path d="M998.4 1022.9L1012.3 1031.3L1020.1 1021.5L1006.2 1012.9z" fill="#471164" stroke="#471164"/><path d="M863.7 977.5L877.6 988.1L885.5 977.1L871.7 966.3z" fill="#482576" stroke="#482576"/><path d="M529.4 663.6L543.3 680.7L551.6 666.3L537.7 649.3z" fill="#1f968b" stroke="#1f968b"/><path d="M391 504.3L404.8 518.7L413.3 506L399.6 491.8z" fill="#58c765" stroke="#58c765"/><path d="M913.2 997.5L927.1 1007.2L935 996.7L921.1 986.8z" fill="#481c6e" stroke="#481c6e"/><path d="M737 903.8L750.9 917.3L759 904.8L745.2 891.1z" fill="#414487" stroke="#414487"/><path d="M515.6 646.5L529.4 663.6L537.7 649.3L523.9 632.3z" fill="#1e9c89" stroke="#1e9c89"/><path d="M404.8 518.7L418.6 533.5L427.1 520.5L413.3 506z" fill="#4ec36b" stroke="#4ec36b"/><path d="M814.2 955.1L828.1 966.7L836.1 955.2L822.2 943.4z" fill="#472f7d" stroke="#472f7d"/><path d="M501.7 629.6L515.6 646.5L523.9 632.3L510 615.6z" fill="#1fa187" stroke="#1fa187"/><path d="M418.6 533.5L432.5 548.7L440.9 535.5L427.1 520.5z" fill="#44bf70" stroke="#44bf70"/><path d="M487.8 612.9L501.7 629.6L510 615.6L496.2 599z" fill="#22a785" stroke="#22a785"/><path d="M962.8 1015.4L976.7 1024.3L984.5 1014.2L970.6 1005.1z" fill="#481668" stroke="#481668"/><path d="M750.9 917.3L764.7 930.3L772.8 918L759 904.8z" fill="#423f85" stroke="#423f85"/><path d="M432.5 548.7L446.3 564.3L454.7 550.9L440.9 535.5z" fill="#3bbb75" stroke="#3bbb75"/><path d="M474 596.4L487.8 612.9L496.2 599L482.4 582.6z" fill="#26ad81" stroke="#26ad81"/><path d="M446.3 564.3L460.1 580.2L468.5 566.6L454.7 550.9z" fill="#34b679" stroke="#34b679"/><path d="M460.1 580.2L474 596.4L482.4 582.6L468.5 566.6z" fill="#2cb17e" stroke="#2cb17e"/><path d="M1048 1037.8L1062 1045.6L1069.6 1036.1L1055.7 1028.2z" fill="#460a5d" stroke="#460a5d"/><path d="M877.6 988.1L891.5 998.3L899.4 987.5L885.5 977.1z" fill="#482173" stroke="#482173"/><path d="M327.5 462.6L341.2 475.5L349.8 463.6L336.1 451z" fill="#7ad151" stroke="#7ad151"/><path d="M764.7 930.3L778.5 942.9L786.6 930.8L772.8 918z" fill="#443a83" stroke="#443a83"/><path d="M828.1 966.7L841.9 977.8L849.9 966.5L836.1 955.2z" fill="#472c7a" stroke="#472c7a"/><path d="M927.1 1007.2L941 1016.5L948.9 1006.2L935 996.7z" fill="#481a6c" stroke="#481a6c"/><path d="M632.1 812.7L645.9 828.6L654.1 814.8L640.3 798.7z" fill="#31678e" stroke="#31678e"/><path d="M645.9 828.6L659.7 844.2L667.9 830.6L654.1 814.8z" fill="#34618d" stroke="#34618d"/><path d="M618.2 796.5L632.1 812.7L640.3 798.7L626.4 782.4z" fill="#2f6c8e" stroke="#2f6c8e"/><path d="M604.3 780L618.2 796.5L626.4 782.4L612.6 765.8z" fill="#2c718e" stroke="#2c718e"/><path d="M659.7 844.2L673.6 859.4L681.8 846L667.9 830.6z" fill="#365c8d" stroke="#365c8d"/><path d="M1012.3 1031.3L1026.3 1039.5L1034 1029.8L1020.1 1021.5z" fill="#470e61" stroke="#470e61"/><path d="M590.5 763.3L604.3 780L612.6 765.8L598.7 749z" fill="#2a778e" stroke="#2a778e"/><path d="M673.6 859.4L687.4 874.3L695.6 861L681.8 846z" fill="#39568c" stroke="#39568c"/><path d="M341.2 475.5L354.9 488.8L363.5 476.7L349.8 463.6z" fill="#70cf57" stroke="#70cf57"/><path d="M576.6 746.4L590.5 763.3L598.7 749L584.9 732z" fill="#287d8e" stroke="#287d8e"/><path d="M687.4 874.3L701.2 888.7L709.4 875.7L695.6 861z" fill="#3b518b" stroke="#3b518b"/><path d="M778.5 942.9L792.3 955L800.4 943.2L786.6 930.8z" fill="#453581" stroke="#453581"/><path d="M562.7 729.3L576.6 746.4L584.9 732L571 714.9z" fill="#26828e" stroke="#26828e"/><path d="M976.7 1024.3L990.6 1032.8L998.4 1022.9L984.5 1014.2z" fill="#471365" stroke="#471365"/><path d="M548.9 712.2L562.7 729.3L571 714.9L557.2 697.8z" fill="#23888e" stroke="#23888e"/><path d="M701.2 888.7L715.1 902.8L723.2 890L709.4 875.7z" fill="#3e4c8a" stroke="#3e4c8a"/><path d="M354.9 488.8L368.7 502.6L377.3 490.3L363.5 476.7z" fill="#67cc5c" stroke="#67cc5c"/><path d="M841.9 977.8L855.8 988.6L863.7 977.5L849.9 966.5z" fill="#482878" stroke="#482878"/><path d="M891.5 998.3L905.3 1008.1L913.2 997.5L899.4 987.5z" fill="#481f70" stroke="#481f70"/><path d="M535 695.1L548.9 712.2L557.2 697.8L543.3 680.7z" fill="#218e8d" stroke="#218e8d"/><path d="M715.1 902.8L728.9 916.4L737 903.8L723.2 890z" fill="#404688" stroke="#404688"/><path d="M368.7 502.6L382.5 516.9L391 504.3L377.3 490.3z" fill="#5cc863" stroke="#5cc863"/><path d="M521.1 677.9L535 695.1L543.3 680.7L529.4 663.6z" fill="#20938c" stroke="#20938c"/><path d="M941 1016.5L954.9 1025.6L962.8 1015.4L948.9 1006.2z" fill="#481769" stroke="#481769"/><path d="M792.3 955L806.2 966.8L814.2 955.1L800.4 943.2z" fill="#46327e" stroke="#46327e"/><path d="M507.2 660.8L521.1 677.9L529.4 663.6L515.6 646.5z" fill="#1f998a" stroke="#1f998a"/><path d="M382.5 516.9L396.3 531.5L404.8 518.7L391 504.3z" fill="#54c568" stroke="#54c568"/><path d="M493.3 643.8L507.2 660.8L515.6 646.5L501.7 629.6z" fill="#1f9f88" stroke="#1f9f88"/><path d="M1026.3 1039.5L1040.3 1047.4L1048 1037.8L1034 1029.8z" fill="#460b5e" stroke="#460b5e"/><path d="M728.9 916.4L742.7 929.7L750.9 917.3L737 903.8z" fill="#424186" stroke="#424186"/><path d="M396.3 531.5L410.1 546.6L418.6 533.5L404.8 518.7z" fill="#4ac16d" stroke="#4ac16d"/><path d="M479.4 627L493.3 643.8L501.7 629.6L487.8 612.9z" fill="#20a486" stroke="#20a486"/><path d="M855.8 988.6L869.6 999L877.6 988.1L863.7 977.5z" fill="#482475" stroke="#482475"/><path d="M410.1 546.6L424 562L432.5 548.7L418.6 533.5z" fill="#3fbc73" stroke="#3fbc73"/><path d="M465.6 610.3L479.4 627L487.8 612.9L474 596.4z" fill="#23a983" stroke="#23a983"/><path d="M451.7 593.9L465.6 610.3L474 596.4L460.1 580.2z" fill="#28ae80" stroke="#28ae80"/><path d="M424 562L437.8 577.8L446.3 564.3L432.5 548.7z" fill="#37b878" stroke="#37b878"/><path d="M437.8 577.8L451.7 593.9L460.1 580.2L446.3 564.3z" fill="#2fb47c" stroke="#2fb47c"/><path d="M905.3 1008.1L919.2 1017.6L927.1 1007.2L913.2 997.5z" fill="#481b6d" stroke="#481b6d"/><path d="M990.6 1032.8L1004.6 1041.2L1012.3 1031.3L998.4 1022.9z" fill="#471063" stroke="#471063"/><path d="M806.2 966.8L820 978.1L828.1 966.7L814.2 955.1z" fill="#472d7b" stroke="#472d7b"/><path d="M742.7 929.7L756.6 942.4L764.7 930.3L750.9 917.3z" fill="#433d84" stroke="#433d84"/><path d="M609.9 810.5L623.8 826.6L632.1 812.7L618.2 796.5z" fill="#30698e" stroke="#30698e"/><path d="M623.8 826.6L637.7 842.3L645.9 828.6L632.1 812.7z" fill="#33638d" stroke="#33638d"/><path d="M954.9 1025.6L968.9 1034.3L976.7 1024.3L962.8 1015.4z" fill="#471365" stroke="#471365"/><path d="M596.1 794.1L609.9 810.5L618.2 796.5L604.3 780z" fill="#2e6f8e" stroke="#2e6f8e"/><path d="M637.7 842.3L651.5 857.7L659.7 844.2L645.9 828.6z" fill="#355e8d" stroke="#355e8d"/><path d="M318.8 474.3L332.6 487.5L341.2 475.5L327.5 462.6z" fill="#75d054" stroke="#75d054"/><path d="M582.2 777.5L596.1 794.1L604.3 780L590.5 763.3z" fill="#2c738e" stroke="#2c738e"/><path d="M651.5 857.7L665.4 872.8L673.6 859.4L659.7 844.2z" fill="#38598c" stroke="#38598c"/><path d="M756.6 942.4L770.4 954.8L778.5 942.9L764.7 930.3z" fill="#453882" stroke="#453882"/><path d="M568.3 760.7L582.2 777.5L590.5 763.3L576.6 746.4z" fill="#29798e" stroke="#29798e"/><path d="M869.6 999L883.5 1009L891.5 998.3L877.6 988.1z" fill="#482071" stroke="#482071"/><path d="M665.4 872.8L679.2 887.4L687.4 874.3L673.6 859.4z" fill="#3a538b" stroke="#3a538b"/><path d="M820 978.1L833.9 989.1L841.9 977.8L828.1 966.7z" fill="#482979" stroke="#482979"/><path d="M554.4 743.7L568.3 760.7L576.6 746.4L562.7 729.3z" fill="#277f8e" stroke="#277f8e"/><path d="M1040.3 1047.4L1054.3 1055.1L1062 1045.6L1048 1037.8z" fill="#46085c" stroke="#46085c"/><path d="M332.6 487.5L346.3 501.1L354.9 488.8L341.2 475.5z" fill="#6ccd5a" stroke="#6ccd5a"/><path d="M679.2 887.4L693.1 901.7L701.2 888.7L687.4 874.3z" fill="#3d4e8a" stroke="#3d4e8a"/><path d="M540.5 726.6L554.4 743.7L562.7 729.3L548.9 712.2z" fill="#25848e" stroke="#25848e"/><path d="M919.2 1017.6L933.1 1026.8L941 1016.5L927.1 1007.2z" fill="#48186a" stroke="#48186a"/><path d="M526.6 709.5L540.5 726.6L548.9 712.2L535 695.1z" fill="#238a8d" stroke="#238a8d"/><path d="M770.4 954.8L784.3 966.8L792.3 955L778.5 942.9z" fill="#46337f" stroke="#46337f"/><path d="M1004.6 1041.2L1018.6 1049.2L1026.3 1039.5L1012.3 1031.3z" fill="#470d60" stroke="#470d60"/><path d="M693.1 901.7L706.9 915.5L715.1 902.8L701.2 888.7z" fill="#3f4889" stroke="#3f4889"/><path d="M346.3 501.1L360.1 515.2L368.7 502.6L354.9 488.8z" fill="#60ca60" stroke="#60ca60"/><path d="M512.7 692.3L526.6 709.5L535 695.1L521.1 677.9z" fill="#21908d" stroke="#21908d"/><path d="M498.8 675.1L512.7 692.3L521.1 677.9L507.2 660.8z" fill="#1f958b" stroke="#1f958b"/><path d="M360.1 515.2L374 529.6L382.5 516.9L368.7 502.6z" fill="#58c765" stroke="#58c765"/><path d="M833.9 989.1L847.8 999.6L855.8 988.6L841.9 977.8z" fill="#482576" stroke="#482576"/><path d="M968.9 1034.3L982.8 1042.7L990.6 1032.8L976.7 1024.3z" fill="#471063" stroke="#471063"/><path d="M706.9 915.5L720.8 929L728.9 916.4L715.1 902.8z" fill="#414487" stroke="#414487"/><path d="M883.5 1009L897.4 1018.7L905.3 1008.1L891.5 998.3z" fill="#481c6e" stroke="#481c6e"/><path d="M484.9 658.1L498.8 675.1L507.2 660.8L493.3 643.8z" fill="#1e9b8a" stroke="#1e9b8a"/><path d="M374 529.6L387.8 544.5L396.3 531.5L382.5 516.9z" fill="#4ec36b" stroke="#4ec36b"/><path d="M471 641.1L484.9 658.1L493.3 643.8L479.4 627z" fill="#1fa188" stroke="#1fa188"/><path d="M784.3 966.8L798.1 978.3L806.2 966.8L792.3 955z" fill="#472f7d" stroke="#472f7d"/><path d="M457.1 624.3L471 641.1L479.4 627L465.6 610.3z" fill="#21a685" stroke="#21a685"/><path d="M387.8 544.5L401.6 559.8L410.1 546.6L396.3 531.5z" fill="#44bf70" stroke="#44bf70"/><path d="M443.3 607.8L457.1 624.3L465.6 610.3L451.7 593.9z" fill="#25ac82" stroke="#25ac82"/><path d="M401.6 559.8L415.5 575.5L424 562L410.1 546.6z" fill="#3bbb75" stroke="#3bbb75"/><path d="M720.8 929L734.6 941.9L742.7 929.7L728.9 916.4z" fill="#423f85" stroke="#423f85"/><path d="M429.4 591.5L443.3 607.8L451.7 593.9L437.8 577.8z" fill="#2cb17e" stroke="#2cb17e"/><path d="M415.5 575.5L429.4 591.5L437.8 577.8L424 562z" fill="#32b67a" stroke="#32b67a"/><path d="M933.1 1026.8L947.1 1035.7L954.9 1025.6L941 1016.5z" fill="#481467" stroke="#481467"/><path d="M847.8 999.6L861.6 1009.8L869.6 999L855.8 988.6z" fill="#482173" stroke="#482173"/><path d="M1018.6 1049.2L1032.6 1057L1040.3 1047.4L1026.3 1039.5z" fill="#460a5d" stroke="#460a5d"/><path d="M734.6 941.9L748.4 954.5L756.6 942.4L742.7 929.7z" fill="#443a83" stroke="#443a83"/><path d="M601.7 824.5L615.5 840.4L623.8 826.6L609.9 810.5z" fill="#31668e" stroke="#31668e"/><path d="M798.1 978.3L812 989.4L820 978.1L806.2 966.8z" fill="#472a7a" stroke="#472a7a"/><path d="M587.8 808.3L601.7 824.5L609.9 810.5L596.1 794.1z" fill="#2f6b8e" stroke="#2f6b8e"/><path d="M615.5 840.4L629.4 856L637.7 842.3L623.8 826.6z" fill="#34608d" stroke="#34608d"/><path d="M573.9 791.8L587.8 808.3L596.1 794.1L582.2 777.5z" fill="#2d718e" stroke="#2d718e"/><path d="M629.4 856L643.3 871.2L651.5 857.7L637.7 842.3z" fill="#375b8d" stroke="#375b8d"/><path d="M897.4 1018.7L911.3 1028L919.2 1017.6L905.3 1008.1z" fill="#481a6c" stroke="#481a6c"/><path d="M560 775L573.9 791.8L582.2 777.5L568.3 760.7z" fill="#2a768e" stroke="#2a768e"/><path d="M982.8 1042.7L996.8 1050.9L1004.6 1041.2L990.6 1032.8z" fill="#470e61" stroke="#470e61"/><path d="M643.3 871.2L657.1 886.1L665.4 872.8L651.5 857.7z" fill="#39558c" stroke="#39558c"/><path d="M546.1 758.1L560 775L568.3 760.7L554.4 743.7z" fill="#287c8e" stroke="#287c8e"/><path d="M310.2 486.2L323.9 499.6L332.6 487.5L318.8 474.3z" fill="#70cf57" stroke="#70cf57"/><path d="M657.1 886.1L671 900.5L679.2 887.4L665.4 872.8z" fill="#3c508b" stroke="#3c508b"/><path d="M532.2 741.1L546.1 758.1L554.4 743.7L540.5 726.6z" fill="#26828e" stroke="#26828e"/><path d="M748.4 954.5L762.3 966.7L770.4 954.8L756.6 942.4z" fill="#453581" stroke="#453581"/><path d="M518.3 723.9L532.2 741.1L540.5 726.6L526.6 709.5z" fill="#24878e" stroke="#24878e"/><path d="M947.1 1035.7L961 1044.3L968.9 1034.3L954.9 1025.6z" fill="#471164" stroke="#471164"/><path d="M671 900.5L684.9 914.5L693.1 901.7L679.2 887.4z" fill="#3e4a89" stroke="#3e4a89"/><path d="M323.9 499.6L337.7 513.5L346.3 501.1L332.6 487.5z" fill="#65cb5e" stroke="#65cb5e"/><path d="M812 989.4L825.9 1000.2L833.9 989.1L820 978.1z" fill="#482677" stroke="#482677"/><path d="M504.4 706.7L518.3 723.9L526.6 709.5L512.7 692.3z" fill="#228d8d" stroke="#228d8d"/><path d="M861.6 1009.8L875.5 1019.6L883.5 1009L869.6 999z" fill="#481d6f" stroke="#481d6f"/><path d="M490.5 689.5L504.4 706.7L512.7 692.3L498.8 675.1z" fill="#20928c" stroke="#20928c"/><path d="M337.7 513.5L351.5 527.8L360.1 515.2L346.3 501.1z" fill="#5cc863" stroke="#5cc863"/><path d="M684.9 914.5L698.7 928.2L706.9 915.5L693.1 901.7z" fill="#404688" stroke="#404688"/><path d="M762.3 966.7L776.2 978.4L784.3 966.8L770.4 954.8z" fill="#46307e" stroke="#46307e"/><path d="M476.5 672.4L490.5 689.5L498.8 675.1L484.9 658.1z" fill="#1f988b" stroke="#1f988b"/><path d="M911.3 1028L925.2 1037L933.1 1026.8L919.2 1017.6z" fill="#481668" stroke="#481668"/><path d="M1032.6 1057L1046.6 1064.5L1054.3 1055.1L1040.3 1047.4z" fill="#46085c" stroke="#46085c"/><path d="M351.5 527.8L365.4 542.6L374 529.6L360.1 515.2z" fill="#52c569" stroke="#52c569"/><path d="M462.6 655.3L476.5 672.4L484.9 658.1L471 641.1z" fill="#1f9e89" stroke="#1f9e89"/><path d="M698.7 928.2L712.6 941.4L720.8 929L706.9 915.5z" fill="#424186" stroke="#424186"/><path d="M448.7 638.4L462.6 655.3L471 641.1L457.1 624.3z" fill="#20a386" stroke="#20a386"/><path d="M365.4 542.6L379.2 557.7L387.8 544.5L374 529.6z" fill="#48c16e" stroke="#48c16e"/><path d="M996.8 1050.9L1010.8 1058.8L1018.6 1049.2L1004.6 1041.2z" fill="#460b5e" stroke="#460b5e"/><path d="M434.8 621.7L448.7 638.4L457.1 624.3L443.3 607.8z" fill="#23a983" stroke="#23a983"/><path d="M379.2 557.7L393.1 573.2L401.6 559.8L387.8 544.5z" fill="#3fbc73" stroke="#3fbc73"/><path d="M420.9 605.3L434.8 621.7L443.3 607.8L429.4 591.5z" fill="#27ad81" stroke="#27ad81"/><path d="M825.9 1000.2L839.7 1010.5L847.8 999.6L833.9 989.1z" fill="#482374" stroke="#482374"/><path d="M393.1 573.2L407 589.1L415.5 575.5L401.6 559.8z" fill="#37b878" stroke="#37b878"/><path d="M407 589.1L420.9 605.3L429.4 591.5L415.5 575.5z" fill="#2eb37c" stroke="#2eb37c"/><path d="M875.5 1019.6L889.5 1029.1L897.4 1018.7L883.5 1009z" fill="#481b6d" stroke="#481b6d"/><path d="M776.2 978.4L790 989.7L798.1 978.3L784.3 966.8z" fill="#472d7b" stroke="#472d7b"/><path d="M961 1044.3L975 1052.6L982.8 1042.7L968.9 1034.3z" fill="#470e61" stroke="#470e61"/><path d="M712.6 941.4L726.4 954.1L734.6 941.9L720.8 929z" fill="#443b84" stroke="#443b84"/><path d="M925.2 1037L939.2 1045.7L947.1 1035.7L933.1 1026.8z" fill="#471365" stroke="#471365"/><path d="M726.4 954.1L740.3 966.5L748.4 954.5L734.6 941.9z" fill="#453882" stroke="#453882"/><path d="M839.7 1010.5L853.6 1020.5L861.6 1009.8L847.8 999.6z" fill="#481f70" stroke="#481f70"/><path d="M790 989.7L803.9 1000.6L812 989.4L798.1 978.3z" fill="#482979" stroke="#482979"/><path d="M1010.8 1058.8L1024.8 1066.5L1032.6 1057L1018.6 1049.2z" fill="#46085c" stroke="#46085c"/><path d="M889.5 1029.1L903.4 1038.3L911.3 1028L897.4 1018.7z" fill="#481769" stroke="#481769"/><path d="M740.3 966.5L754.2 978.4L762.3 966.7L748.4 954.5z" fill="#46337f" stroke="#46337f"/><path d="M975 1052.6L989 1060.6L996.8 1050.9L982.8 1042.7z" fill="#470d60" stroke="#470d60"/><path d="M803.9 1000.6L817.8 1011.2L825.9 1000.2L812 989.4z" fill="#482576" stroke="#482576"/><path d="M939.2 1045.7L953.2 1054.2L961 1044.3L947.1 1035.7z" fill="#471063" stroke="#471063"/><path d="M853.6 1020.5L867.6 1030.2L875.5 1019.6L861.6 1009.8z" fill="#481c6e" stroke="#481c6e"/><path d="M754.2 978.4L768 989.9L776.2 978.4L762.3 966.7z" fill="#472e7c" stroke="#472e7c"/><path d="M903.4 1038.3L917.3 1047.2L925.2 1037L911.3 1028z" fill="#481467" stroke="#481467"/><path d="M1024.8 1066.5L1038.8 1073.9L1046.6 1064.5L1032.6 1057z" fill="#46075a" stroke="#46075a"/><path d="M817.8 1011.2L831.7 1021.4L839.7 1010.5L825.9 1000.2z" fill="#482173" stroke="#482173"/><path d="M989 1060.6L1003 1068.4L1010.8 1058.8L996.8 1050.9z" fill="#460a5d" stroke="#460a5d"/><path d="M768 989.9L781.9 1001L790 989.7L776.2 978.4z" fill="#472a7a" stroke="#472a7a"/><path d="M867.6 1030.2L881.5 1039.5L889.5 1029.1L875.5 1019.6z" fill="#48186a" stroke="#48186a"/><path d="M953.2 1054.2L967.1 1062.3L975 1052.6L961 1044.3z" fill="#470d60" stroke="#470d60"/><path d="M917.3 1047.2L931.3 1055.7L939.2 1045.7L925.2 1037z" fill="#471164" stroke="#471164"/><path d="M781.9 1001L795.8 1011.8L803.9 1000.6L790 989.7z" fill="#482677" stroke="#482677"/><path d="M831.7 1021.4L845.6 1031.2L853.6 1020.5L839.7 1010.5z" fill="#481d6f" stroke="#481d6f"/><path d="M881.5 1039.5L895.4 1048.5L903.4 1038.3L889.5 1029.1z" fill="#481668" stroke="#481668"/><path d="M1003 1068.4L1017 1075.9L1024.8 1066.5L1010.8 1058.8z" fill="#46075a" stroke="#46075a"/><path d="M967.1 1062.3L981.2 1070.2L989 1060.6L975 1052.6z" fill="#460b5e" stroke="#460b5e"/><path d="M795.8 1011.8L809.7 1022.1L817.8 1011.2L803.9 1000.6z" fill="#482374" stroke="#482374"/><path d="M845.6 1031.2L859.5 1040.7L867.6 1030.2L853.6 1020.5z" fill="#481a6c" stroke="#481a6c"/><path d="M931.3 1055.7L945.3 1064L953.2 1054.2L939.2 1045.7z" fill="#470e61" stroke="#470e61"/><path d="M895.4 1048.5L909.4 1057.2L917.3 1047.2L903.4 1038.3z" fill="#471365" stroke="#471365"/><path d="M809.7 1022.1L823.6 1032.1L831.7 1021.4L817.8 1011.2z" fill="#481f70" stroke="#481f70"/><path d="M1017 1075.9L1031.1 1083.3L1038.8 1073.9L1024.8 1066.5z" fill="#450559" stroke="#450559"/><path d="M981.2 1070.2L995.2 1077.9L1003 1068.4L989 1060.6z" fill="#46085c" stroke="#46085c"/><path d="M859.5 1040.7L873.5 1049.8L881.5 1039.5L867.6 1030.2z" fill="#481769" stroke="#481769"/><path d="M945.3 1064L959.3 1072L967.1 1062.3L953.2 1054.2z" fill="#460b5e" stroke="#460b5e"/><path d="M909.4 1057.2L923.4 1065.6L931.3 1055.7L917.3 1047.2z" fill="#471063" stroke="#471063"/><path d="M823.6 1032.1L837.6 1041.8L845.6 1031.2L831.7 1021.4z" fill="#481c6e" stroke="#481c6e"/><path d="M873.5 1049.8L887.4 1058.7L895.4 1048.5L881.5 1039.5z" fill="#481467" stroke="#481467"/><path d="M995.2 1077.9L1009.2 1085.3L1017 1075.9L1003 1068.4z" fill="#46075a" stroke="#46075a"/><path d="M959.3 1072L973.3 1079.8L981.2 1070.2L967.1 1062.3z" fill="#460a5d" stroke="#460a5d"/><path d="M837.6 1041.8L851.5 1051.1L859.5 1040.7L845.6 1031.2z" fill="#48186a" stroke="#48186a"/><path d="M923.4 1065.6L937.4 1073.8L945.3 1064L931.3 1055.7z" fill="#470d60" stroke="#470d60"/><path d="M887.4 1058.7L901.4 1067.2L909.4 1057.2L895.4 1048.5z" fill="#471164" stroke="#471164"/><path d="M1009.2 1085.3L1023.3 1092.6L1031.1 1083.3L1017 1075.9z" fill="#450457" stroke="#450457"/><path d="M851.5 1051.1L865.5 1060.1L873.5 1049.8L859.5 1040.7z" fill="#481668" stroke="#481668"/><path d="M973.3 1079.8L987.4 1087.4L995.2 1077.9L981.2 1070.2z" fill="#46075a" stroke="#46075a"/><path d="M937.4 1073.8L951.4 1081.7L959.3 1072L945.3 1064z" fill="#460a5d" stroke="#460a5d"/><path d="M901.4 1067.2L915.4 1075.5L923.4 1065.6L909.4 1057.2z" fill="#470e61" stroke="#470e61"/><path d="M865.5 1060.1L879.4 1068.8L887.4 1058.7L873.5 1049.8z" fill="#471365" stroke="#471365"/><path d="M987.4 1087.4L1001.4 1094.7L1009.2 1085.3L995.2 1077.9z" fill="#450559" stroke="#450559"/><path d="M951.4 1081.7L965.4 1089.4L973.3 1079.8L959.3 1072z" fill="#46085c" stroke="#46085c"/><path d="M915.4 1075.5L929.4 1083.5L937.4 1073.8L923.4 1065.6z" fill="#460b5e" stroke="#460b5e"/><path d="M879.4 1068.8L893.4 1077.2L901.4 1067.2L887.4 1058.7z" fill="#471063" stroke="#471063"/><path d="M1001.4 1094.7L1015.5 1101.9L1023.3 1092.6L1009.2 1085.3z" fill="#440256" stroke="#440256"/><path d="M965.4 1089.4L979.5 1096.8L987.4 1087.4L973.3 1079.8z" fill="#450559" stroke="#450559"/><path d="M929.4 1083.5L943.5 1091.3L951.4 1081.7L937.4 1073.8z" fill="#460a5d" stroke="#460a5d"/><path d="M893.4 1077.2L907.4 1085.3L915.4 1075.5L901.4 1067.2z" fill="#470d60" stroke="#470d60"/><path d="M979.5 1096.8L993.6 1104.1L1001.4 1094.7L987.4 1087.4z" fill="#450457" stroke="#450457"/><path d="M943.5 1091.3L957.5 1098.9L965.4 1089.4L951.4 1081.7z" fill="#46075a" stroke="#46075a"/><path d="M907.4 1085.3L921.5 1093.2L929.4 1083.5L915.4 1075.5z" fill="#460a5d" stroke="#460a5d"/><path d="M993.6 1104.1L1007.7 1111.1L1015.5 1101.9L1001.4 1094.7z" fill="#440256" stroke="#440256"/><path d="M957.5 1098.9L971.6 1106.2L979.5 1096.8L965.4 1089.4z" fill="#450559" stroke="#450559"/><path d="M921.5 1093.2L935.5 1100.9L943.5 1091.3L929.4 1083.5z" fill="#46085c" stroke="#46085c"/><path d="M971.6 1106.2L985.7 1113.4L993.6 1104.1L979.5 1096.8z" fill="#440256" stroke="#440256"/><path d="M935.5 1100.9L949.6 1108.3L957.5 1098.9L943.5 1091.3z" fill="#450559" stroke="#450559"/><path d="M985.7 1113.4L999.8 1120.3L1007.7 1111.1L993.6 1104.1z" fill="#440154" stroke="#440154"/><path d="M949.6 1108.3L963.7 1115.6L971.6 1106.2L957.5 1098.9z" fill="#450457" stroke="#450457"/><path d="M963.7 1115.6L977.8 1122.6L985.7 1113.4L971.6 1106.2z" fill="#440256" stroke="#440256"/><path d="M977.8 1122.6L992 1129.5L999.8 1120.3L985.7 1113.4z" fill="#440154" stroke="#440154"/></g>
<path d="M310.2 486.2L323.9 499.6L337.7 513.5L351.5 527.8L365.4 542.6L379.2 557.7L393.1 573.2L407 589.1L420.9 605.3L434.8 621.7L448.7 638.4L462.6 655.3L476.5 672.4L490.5 689.5L504.4 706.7L518.3 723.9L532.2 741.1L546.1 758.1L560 775L573.9 791.8L587.8 808.3L601.7 824.5L615.5 840.4L629.4 856L643.3 871.2L657.1 886.1L671 900.5L684.9 914.5L698.7 928.2L712.6 941.4L726.4 954.1L740.3 966.5L754.2 978.4L768 989.9L781.9 1001L795.8 1011.8L809.7 1022.1L823.6 1032.1L837.6 1041.8L851.5 1051.1L865.5 1060.1L879.4 1068.8L893.4 1077.2L907.4 1085.3L921.5 1093.2L935.5 1100.9L949.6 1108.3L963.7 1115.6L977.8 1122.6L992 1129.5M310.2 486.2L318.8 474.3L327.5 462.6L336.1 451L344.7 439.6L353.3 428.4L361.9 417.3L370.5 406.4L379 395.7L387.6 385.1L396.1 374.7L404.6 364.5L413.1 354.4L421.5 344.4L430 334.6L438.4 325L446.8 315.4L455.2 306.1L463.6 296.8L471.9 287.7L480.2 278.8L488.5 269.9L496.8 261.2L505.1 252.6L513.3 244.1L521.5 235.7L529.7 227.5L537.9 219.3L546.1 211.3L554.2 203.4L562.3 195.5L570.4 187.8L578.5 180.1L586.5 172.6L594.6 165.1L602.6 157.7L610.6 150.4L618.5 143.2L626.5 136L634.4 128.9L642.3 121.9L650.1 115L658 108.1L665.8 101.3L673.6 94.6L681.4 87.9L689.2 81.3L696.9 74.7L704.6 68.2L712.3 61.8M318.8 474.3L332.6 487.5L346.3 501.1L360.1 515.2L374 529.6L387.8 544.5L401.6 559.8L415.5 575.5L429.4 591.5L443.3 607.8L457.1 624.3L471 641.1L484.9 658.1L498.8 675.1L512.7 692.3L526.6 709.5L540.5 726.6L554.4 743.7L568.3 760.7L582.2 777.5L596.1 794.1L609.9 810.5L623.8 826.6L637.7 842.3L651.5 857.7L665.4 872.8L679.2 887.4L693.1 901.7L706.9 915.5L720.8 929L734.6 941.9L748.4 954.5L762.3 966.7L776.2 978.4L790 989.7L803.9 1000.6L817.8 1011.2L831.7 1021.4L845.6 1031.2L859.5 1040.7L873.5 1049.8L887.4 1058.7L901.4 1067.2L915.4 1075.5L929.4 1083.5L943.5 1091.3L957.5 1098.9L971.6 1106.2L985.7 1113.4L999.8 1120.3M323.9 499.6L332.6 487.5L341.2 475.5L349.8 463.6L358.4 452L367 440.5L375.5 429.2L384.1 418L392.6 407L401.1 396.2L409.6 385.5L418.1 375L426.6 364.7L435 354.5L443.4 344.4L451.8 334.5L460.2 324.8L468.6 315.2L476.9 305.8L485.2 296.4L493.5 287.3L501.8 278.2L510.1 269.3L518.3 260.5L526.6 251.8L534.8 243.3L543 234.9L551.1 226.5L559.3 218.3L567.4 210.2L575.5 202.2L583.6 194.3L591.6 186.6L599.6 178.8L607.7 171.2L615.7 163.7L623.6 156.3L631.6 148.9L639.5 141.7L647.4 134.5L655.3 127.4L663.1 120.3L671 113.4L678.8 106.5L686.6 99.6L694.3 92.9L702.1 86.2L709.8 79.5L717.5 72.9L725.2 66.4M327.5 462.6L341.2 475.5L354.9 488.8L368.7 502.6L382.5 516.9L396.3 531.5L410.1 546.6L424 562L437.8 577.8L451.7 593.9L465.6 610.3L479.4 627L493.3 643.8L507.2 660.8L521.1 677.9L535 695.1L548.9 712.2L562.7 729.3L576.6 746.4L590.5 763.3L604.3 780L618.2 796.5L632.1 812.7L645.9 828.6L659.7 844.2L673.6 859.4L687.4 874.3L701.2 888.7L715.1 902.8L728.9 916.4L742.7 929.7L756.6 942.4L770.4 954.8L784.3 966.8L798.1 978.3L812 989.4L825.9 1000.2L839.7 1010.5L853.6 1020.5L867.6 1030.2L881.5 1039.5L895.4 1048.5L909.4 1057.2L923.4 1065.6L937.4 1073.8L951.4 1081.7L965.4 1089.4L979.5 1096.8L993.6 1104.1L1007.7 1111.1M337.7 513.5L346.3 501.1L354.9 488.8L363.5 476.7L372.1 464.8L380.7 453L389.2 441.5L397.7 430L406.2 418.8L414.7 407.7L423.2 396.8L431.6 386L440.1 375.4L448.5 364.9L456.9 354.7L465.3 344.5L473.6 334.6L482 324.7L490.3 315L498.6 305.5L506.9 296.1L515.2 286.9L523.4 277.7L531.6 268.7L539.8 259.9L548 251.1L556.2 242.5L564.3 234L572.5 225.6L580.6 217.4L588.7 209.2L596.7 201.2L604.8 193.2L612.8 185.4L620.8 177.6L628.7 170L636.7 162.4L644.6 154.9L652.5 147.5L660.4 140.2L668.3 133L676.1 125.9L684 118.8L691.8 111.8L699.5 104.8L707.3 98L715 91.2L722.7 84.5L730.4 77.8L738.1 71.2M336.1 451L349.8 463.6L363.5 476.7L377.3 490.3L391 504.3L404.8 518.7L418.6 533.5L432.5 548.7L446.3 564.3L460.1 580.2L474 596.4L487.8 612.9L501.7 629.6L515.6 646.5L529.4 663.6L543.3 680.7L557.2 697.8L571 714.9L584.9 732L598.7 749L612.6 765.8L626.4 782.4L640.3 798.7L654.1 814.8L667.9 830.6L681.8 846L695.6 861L709.4 875.7L723.2 890L737 903.8L750.9 917.3L764.7 930.3L778.5 942.9L792.3 955L806.2 966.8L820 978.1L833.9 989.1L847.8 999.6L861.6 1009.8L875.5 1019.6L889.5 1029.1L903.4 1038.3L917.3 1047.2L931.3 1055.7L945.3 1064L959.3 1072L973.3 1079.8L987.4 1087.4L1001.4 1094.7L1015.5 1101.9M351.5 527.8L360.1 515.2L368.7 502.6L377.3 490.3L385.8 478.1L394.4 466.1L402.9 454.2L411.4 442.5L419.8 431L428.3 419.6L436.8 408.4L445.2 397.4L453.6 386.6L462 375.9L470.4 365.3L478.7 354.9L487.1 344.7L495.4 334.6L503.7 324.7L512 315L520.3 305.3L528.5 295.9L536.7 286.5L545 277.3L553.1 268.3L561.3 259.3L569.5 250.5L577.6 241.8L585.7 233.3L593.8 224.8L601.8 216.5L609.9 208.3L617.9 200.2L625.9 192.1L633.9 184.2L641.9 176.4L649.8 168.7L657.7 161.1L665.6 153.6L673.5 146.2L681.3 138.8L689.2 131.6L697 124.4L704.7 117.3L712.5 110.2L720.2 103.3L728 96.4L735.7 89.5L743.3 82.8L751 76.1M344.7 439.6L358.4 452L372.1 464.8L385.8 478.1L399.6 491.8L413.3 506L427.1 520.5L440.9 535.5L454.7 550.9L468.5 566.6L482.4 582.6L496.2 599L510 615.6L523.9 632.3L537.7 649.3L551.6 666.3L565.4 683.4L579.3 700.6L593.1 717.7L607 734.7L620.8 751.5L634.6 768.2L648.5 784.7L662.3 800.9L676.1 816.8L689.9 832.4L703.7 847.7L717.5 862.6L731.3 877L745.2 891.1L759 904.8L772.8 918L786.6 930.8L800.4 943.2L814.2 955.1L828.1 966.7L841.9 977.8L855.8 988.6L869.6 999L883.5 1009L897.4 1018.7L911.3 1028L925.2 1037L939.2 1045.7L953.2 1054.2L967.1 1062.3L981.2 1070.2L995.2 1077.9L1009.2 1085.3L1023.3 1092.6M365.4 542.6L374 529.6L382.5 516.9L391 504.3L399.6 491.8L408.1 479.5L416.6 467.4L425 455.4L433.5 443.6L441.9 432L450.4 420.6L458.8 409.3L467.2 398.2L475.5 387.2L483.9 376.4L492.2 365.8L500.6 355.3L508.9 345L517.1 334.8L525.4 324.8L533.7 314.9L541.9 305.2L550.1 295.7L558.3 286.3L566.5 277L574.6 267.8L582.7 258.8L590.9 249.9L598.9 241.2L607 232.5L615.1 224L623.1 215.6L631.1 207.4L639.1 199.2L647 191.1L655 183.2L662.9 175.3L670.8 167.6L678.7 159.9L686.5 152.3L694.4 144.8L702.2 137.5L710 130.1L717.8 122.9L725.5 115.8L733.2 108.7L740.9 101.7L748.6 94.8L756.3 87.9L763.9 81.1M353.3 428.4L367 440.5L380.7 453L394.4 466.1L408.1 479.5L421.8 493.4L435.6 507.7L449.3 522.5L463.1 537.6L476.9 553.1L490.7 569L504.6 585.1L518.4 601.6L532.2 618.2L546 635.1L559.9 652L573.7 669.1L587.6 686.2L601.4 703.3L615.2 720.3L629 737.3L642.8 754.1L656.7 770.6L670.5 787L684.3 803.1L698.1 818.8L711.9 834.3L725.7 849.3L739.5 864L753.2 878.3L767 892.2L780.8 905.6L794.6 918.6L808.4 931.2L822.2 943.4L836.1 955.2L849.9 966.5L863.7 977.5L877.6 988.1L891.5 998.3L905.3 1008.1L919.2 1017.6L933.1 1026.8L947.1 1035.7L961 1044.3L975 1052.6L989 1060.6L1003 1068.4L1017 1075.9L1031.1 1083.3M379.2 557.7L387.8 544.5L396.3 531.5L404.8 518.7L413.3 506L421.8 493.4L430.3 481L438.7 468.8L447.2 456.8L455.6 444.9L464 433.1L472.4 421.6L480.7 410.2L489.1 399L497.4 387.9L505.8 377L514.1 366.3L522.3 355.7L530.6 345.3L538.9 335.1L547.1 325L555.3 315L563.5 305.2L571.7 295.6L579.8 286.1L587.9 276.7L596 267.5L604.1 258.4L612.2 249.4L620.3 240.6L628.3 231.9L636.3 223.3L644.3 214.9L652.3 206.5L660.2 198.3L668.1 190.2L676.1 182.1L683.9 174.2L691.8 166.4L699.6 158.7L707.5 151.1L715.3 143.6L723 136.1L730.8 128.8L738.5 121.5L746.2 114.3L753.9 107.2L761.6 100.2L769.2 93.2L776.9 86.4M361.9 417.3L375.5 429.2L389.2 441.5L402.9 454.2L416.6 467.4L430.3 481L444 495.1L457.8 509.6L471.5 524.5L485.3 539.8L499.1 555.4L512.9 571.4L526.7 587.7L540.5 604.2L554.3 620.9L568.2 637.8L582 654.8L595.8 671.9L609.6 689L623.4 706L637.2 723L651 739.9L664.8 756.5L678.6 773L692.4 789.2L706.2 805.1L720 820.7L733.8 836L747.5 850.9L761.3 865.4L775.1 879.5L788.9 893.1L802.7 906.4L816.5 919.2L830.2 931.6L844.1 943.6L857.9 955.2L871.7 966.3L885.5 977.1L899.4 987.5L913.2 997.5L927.1 1007.2L941 1016.5L954.9 1025.6L968.9 1034.3L982.8 1042.7L996.8 1050.9L1010.8 1058.8L1024.8 1066.5L1038.8 1073.9M393.1 573.2L401.6 559.8L410.1 546.6L418.6 533.5L427.1 520.5L435.6 507.7L444 495.1L452.4 482.6L460.9 470.3L469.3 458.2L477.6 446.2L486 434.3L494.3 422.7L502.7 411.2L511 399.9L519.3 388.7L527.6 377.7L535.8 366.9L544.1 356.2L552.3 345.7L560.5 335.4L568.7 325.2L576.9 315.2L585 305.3L593.2 295.5L601.3 285.9L609.4 276.5L617.4 267.2L625.5 258L633.5 249L641.6 240.1L649.5 231.3L657.5 222.7L665.5 214.1L673.4 205.7L681.3 197.4L689.2 189.2L697.1 181.2L704.9 173.2L712.8 165.3L720.6 157.6L728.3 149.9L736.1 142.3L743.8 134.9L751.6 127.5L759.3 120.2L766.9 112.9L774.6 105.8L782.2 98.7L789.8 91.7M370.5 406.4L384.1 418L397.7 430L411.4 442.5L425 455.4L438.7 468.8L452.4 482.6L466.2 496.9L479.9 511.5L493.7 526.6L507.4 542L521.2 557.8L535 573.9L548.8 590.2L562.6 606.8L576.4 623.6L590.2 640.6L604 657.6L617.8 674.6L631.6 691.7L645.4 708.7L659.2 725.6L673 742.4L686.7 759L700.5 775.3L714.3 791.4L728.1 807.2L741.8 822.6L755.6 837.7L769.4 852.4L783.1 866.7L796.9 880.5L810.7 894L824.4 907L838.2 919.7L852 931.9L865.8 943.7L879.6 955L893.4 966L907.3 976.6L921.1 986.8L935 996.7L948.9 1006.2L962.8 1015.4L976.7 1024.3L990.6 1032.8L1004.6 1041.2L1018.6 1049.2L1032.6 1057L1046.6 1064.5M407 589.1L415.5 575.5L424 562L432.5 548.7L440.9 535.5L449.3 522.5L457.8 509.6L466.2 496.9L474.6 484.3L482.9 471.9L491.3 459.6L499.6 447.6L508 435.6L516.3 423.9L524.6 412.3L532.8 400.9L541.1 389.6L549.4 378.5L557.6 367.6L565.8 356.8L574 346.2L582.1 335.8L590.3 325.5L598.4 315.4L606.5 305.4L614.6 295.6L622.7 285.9L630.8 276.4L638.8 267L646.8 257.7L654.8 248.6L662.8 239.6L670.8 230.8L678.7 222.1L686.6 213.5L694.5 205L702.4 196.6L710.2 188.4L718.1 180.3L725.9 172.2L733.7 164.3L741.4 156.5L749.2 148.8L756.9 141.1L764.6 133.6L772.3 126.2L780 118.8L787.6 111.6L795.2 104.4L802.8 97.3M379 395.7L392.6 407L406.2 418.8L419.8 431L433.5 443.6L447.2 456.8L460.9 470.3L474.6 484.3L488.3 498.7L502 513.5L515.8 528.8L529.5 544.3L543.3 560.2L557.1 576.4L570.9 592.9L584.6 609.5L598.4 626.4L612.2 643.3L626 660.4L639.8 677.4L653.5 694.4L667.3 711.4L681.1 728.2L694.9 744.9L708.6 761.4L722.4 777.6L736.1 793.5L749.9 809.1L763.6 824.4L777.4 839.2L791.2 853.8L804.9 867.8L818.7 881.5L832.4 894.8L846.2 907.6L860 920.1L873.7 932.1L887.5 943.7L901.3 954.8L915.2 965.6L929 976L942.8 986.1L956.7 995.8L970.6 1005.1L984.5 1014.2L998.4 1022.9L1012.3 1031.3L1026.3 1039.5L1040.3 1047.4L1054.3 1055.1M420.9 605.3L429.4 591.5L437.8 577.8L446.3 564.3L454.7 550.9L463.1 537.6L471.5 524.5L479.9 511.5L488.3 498.7L496.6 486.1L505 473.6L513.3 461.2L521.6 449L529.9 437L538.2 425.2L546.4 413.5L554.7 402L562.9 390.6L571.1 379.4L579.3 368.4L587.4 357.5L595.6 346.8L603.7 336.3L611.8 325.9L619.9 315.7L628 305.6L636.1 295.7L644.1 285.9L652.1 276.3L660.1 266.8L668.1 257.5L676.1 248.3L684 239.3L691.9 230.3L699.8 221.5L707.7 212.9L715.6 204.3L723.4 195.9L731.2 187.6L739 179.4L746.8 171.3L754.6 163.3L762.3 155.5L770 147.7L777.7 140L785.4 132.4L793 124.9L800.7 117.5L808.3 110.2L815.8 103M387.6 385.1L401.1 396.2L414.7 407.7L428.3 419.6L441.9 432L455.6 444.9L469.3 458.2L482.9 471.9L496.6 486.1L510.4 500.6L524.1 515.6L537.8 531L551.6 546.7L565.3 562.7L579.1 579L592.9 595.5L606.6 612.3L620.4 629.1L634.2 646.1L647.9 663.1L661.7 680.2L675.4 697.2L689.2 714L703 730.8L716.7 747.4L730.5 763.7L744.2 779.8L757.9 795.5L771.7 811L785.4 826.1L799.2 840.8L812.9 855.1L826.6 869L840.4 882.4L854.1 895.5L867.9 908.2L881.7 920.4L895.4 932.2L909.2 943.6L923 954.6L936.8 965.2L950.7 975.4L964.5 985.3L978.4 994.8L992.3 1004L1006.2 1012.9L1020.1 1021.5L1034 1029.8L1048 1037.8L1062 1045.6M434.8 621.7L443.3 607.8L451.7 593.9L460.1 580.2L468.5 566.6L476.9 553.1L485.3 539.8L493.7 526.6L502 513.5L510.4 500.6L518.7 487.9L527 475.3L535.3 462.9L543.5 450.6L551.8 438.5L560 426.5L568.2 414.7L576.4 403.1L584.6 391.7L592.8 380.4L600.9 369.2L609.1 358.3L617.2 347.5L625.3 336.9L633.4 326.4L641.4 316.1L649.5 305.9L657.5 295.9L665.5 286L673.5 276.3L681.4 266.8L689.4 257.4L697.3 248.1L705.2 238.9L713.1 229.9L721 221.1L728.8 212.3L736.6 203.7L744.4 195.2L752.2 186.8L760 178.6L767.7 170.4L775.4 162.4L783.1 154.5L790.8 146.6L798.5 138.9L806.1 131.3L813.7 123.7L821.3 116.3L828.9 108.9M396.1 374.7L409.6 385.5L423.2 396.8L436.8 408.4L450.4 420.6L464 433.1L477.6 446.2L491.3 459.6L505 473.6L518.7 487.9L532.4 502.6L546.1 517.8L559.8 533.3L573.6 549.1L587.3 565.2L601.1 581.6L614.8 598.2L628.6 615L642.3 631.9L656.1 648.9L669.8 665.9L683.6 682.9L697.3 699.8L711 716.7L724.8 733.3L738.5 749.8L752.2 766L766 781.9L779.7 797.5L793.4 812.8L807.1 827.7L820.9 842.2L834.6 856.3L848.3 870L862.1 883.3L875.8 896.1L889.5 908.6L903.3 920.6L917.1 932.2L930.9 943.4L944.7 954.2L958.5 964.6L972.3 974.7L986.2 984.4L1000 993.8L1013.9 1002.8L1027.8 1011.6L1041.7 1020L1055.7 1028.2L1069.6 1036.1M448.7 638.4L457.1 624.3L465.6 610.3L474 596.4L482.4 582.6L490.7 569L499.1 555.4L507.4 542L515.8 528.8L524.1 515.6L532.4 502.6L540.7 489.8L548.9 477.1L557.2 464.6L565.4 452.2L573.6 440L581.8 428L590 416.1L598.2 404.4L606.3 392.8L614.4 381.4L622.6 370.2L630.7 359.1L638.7 348.2L646.8 337.5L654.8 326.9L662.9 316.5L670.9 306.3L678.9 296.2L686.8 286.2L694.8 276.4L702.7 266.8L710.6 257.3L718.5 247.9L726.4 238.7L734.2 229.6L742 220.7L749.8 211.9L757.6 203.2L765.4 194.6L773.1 186.2L780.9 177.8L788.6 169.6L796.3 161.5L803.9 153.5L811.6 145.6L819.2 137.9L826.8 130.2L834.4 122.6L841.9 115.1M404.6 364.5L418.1 375L431.6 386L445.2 397.4L458.8 409.3L472.4 421.6L486 434.3L499.6 447.6L513.3 461.2L527 475.3L540.7 489.8L554.4 504.7L568.1 520L581.8 535.6L595.5 551.6L609.2 567.8L623 584.3L636.7 600.9L650.4 617.8L664.2 634.7L677.9 651.7L691.6 668.7L705.4 685.6L719.1 702.5L732.8 719.2L746.5 735.8L760.3 752.1L774 768.2L787.7 783.9L801.4 799.4L815.1 814.5L828.8 829.2L842.5 843.5L856.2 857.4L870 870.9L883.7 884L897.4 896.7L911.2 908.9L924.9 920.7L938.7 932.2L952.5 943.2L966.3 953.8L980.1 964L993.9 973.9L1007.8 983.5L1021.6 992.7L1035.5 1001.6L1049.4 1010.2L1063.3 1018.5L1077.3 1026.5M462.6 655.3L471 641.1L479.4 627L487.8 612.9L496.2 599L504.6 585.1L512.9 571.4L521.2 557.8L529.5 544.3L537.8 531L546.1 517.8L554.4 504.7L562.6 491.8L570.8 479L579 466.4L587.2 453.9L595.4 441.6L603.6 429.5L611.7 417.5L619.9 405.7L628 394L636.1 382.5L644.1 371.2L652.2 360.1L660.2 349.1L668.3 338.2L676.3 327.6L684.3 317.1L692.2 306.7L700.2 296.5L708.1 286.5L716 276.6L723.9 266.9L731.8 257.3L739.6 247.8L747.5 238.5L755.3 229.4L763.1 220.3L770.9 211.4L778.6 202.7L786.3 194L794 185.5L801.7 177.1L809.4 168.9L817.1 160.7L824.7 152.7L832.3 144.7L839.9 136.9L847.4 129.1L855 121.5M413.1 354.4L426.6 364.7L440.1 375.4L453.6 386.6L467.2 398.2L480.7 410.2L494.3 422.7L508 435.6L521.6 449L535.3 462.9L548.9 477.1L562.6 491.8L576.3 506.8L590 522.3L603.7 538L617.4 554.1L631.1 570.4L644.8 586.9L658.6 603.7L672.3 620.5L686 637.5L699.7 654.5L713.4 671.4L727.1 688.3L740.8 705.1L754.6 721.8L768.3 738.2L782 754.4L795.6 770.3L809.3 785.9L823 801.2L836.7 816.1L850.4 830.7L864.1 844.8L877.8 858.5L891.6 871.8L905.3 884.7L919 897.1L932.7 909.2L946.5 920.8L960.3 932L974 942.8L987.8 953.3L1001.6 963.4L1015.5 973.1L1029.3 982.5L1043.2 991.5L1057.1 1000.3L1071 1008.7L1084.9 1016.9M476.5 672.4L484.9 658.1L493.3 643.8L501.7 629.6L510 615.6L518.4 601.6L526.7 587.7L535 573.9L543.3 560.2L551.6 546.7L559.8 533.3L568.1 520L576.3 506.8L584.5 493.8L592.7 481L600.9 468.3L609 455.7L617.2 443.3L625.3 431.1L633.4 419L641.5 407.1L649.6 395.3L657.6 383.8L665.7 372.3L673.7 361.1L681.7 350L689.7 339.1L697.7 328.3L705.6 317.7L713.6 307.2L721.5 297L729.4 286.8L737.2 276.8L745.1 267L752.9 257.3L760.8 247.8L768.6 238.4L776.3 229.2L784.1 220.1L791.8 211.1L799.5 202.3L807.2 193.6L814.9 185L822.6 176.5L830.2 168.2L837.8 159.9L845.4 151.8L853 143.8L860.5 135.9L868.1 128.1M421.5 344.4L435 354.5L448.5 364.9L462 375.9L475.5 387.2L489.1 399L502.7 411.2L516.3 423.9L529.9 437L543.5 450.6L557.2 464.6L570.8 479L584.5 493.8L598.2 509L611.9 524.6L625.6 540.5L639.3 556.6L653 573L666.7 589.7L680.4 606.4L694.1 623.3L707.8 640.3L721.5 657.2L735.2 674.2L748.9 691L762.5 707.7L776.2 724.3L789.9 740.6L803.6 756.6L817.3 772.4L831 787.9L844.6 803L858.3 817.7L872 832L885.7 846L899.4 859.5L913.1 872.6L926.8 885.2L940.5 897.5L954.3 909.3L968 920.8L981.8 931.8L995.6 942.4L1009.4 952.7L1023.2 962.6L1037 972.2L1050.8 981.4L1064.7 990.3L1078.6 998.9L1092.5 1007.2M490.5 689.5L498.8 675.1L507.2 660.8L515.6 646.5L523.9 632.3L532.2 618.2L540.5 604.2L548.8 590.2L557.1 576.4L565.3 562.7L573.6 549.1L581.8 535.6L590 522.3L598.2 509L606.4 496L614.5 483L622.7 470.2L630.8 457.6L638.9 445.1L647 432.8L655.1 420.6L663.1 408.6L671.2 396.7L679.2 385.1L687.2 373.5L695.2 362.2L703.1 351L711.1 340L719 329.1L726.9 318.4L734.8 307.9L742.7 297.5L750.6 287.2L758.4 277.2L766.2 267.3L774 257.5L781.8 247.9L789.6 238.4L797.3 229.1L805.1 219.9L812.8 210.8L820.4 201.9L828.1 193.1L835.7 184.5L843.4 175.9L851 167.5L858.5 159.2L866.1 151.1L873.6 143L881.2 135M430 334.6L443.4 344.4L456.9 354.7L470.4 365.3L483.9 376.4L497.4 387.9L511 399.9L524.6 412.3L538.2 425.2L551.8 438.5L565.4 452.2L579 466.4L592.7 481L606.4 496L620 511.3L633.7 527L647.4 543L661.1 559.2L674.8 575.7L688.4 592.4L702.1 609.2L715.8 626.1L729.5 643.1L743.2 660L756.9 676.9L770.5 693.6L784.2 710.3L797.9 726.7L811.5 742.9L825.2 758.8L838.9 774.4L852.5 789.7L866.2 804.6L879.9 819.2L893.6 833.3L907.2 847L920.9 860.4L934.6 873.3L948.3 885.7L962 897.8L975.8 909.4L989.5 920.7L1003.3 931.5L1017 942L1030.8 952.1L1044.7 961.8L1058.5 971.2L1072.3 980.3L1086.2 989L1100.1 997.5M504.4 706.7L512.7 692.3L521.1 677.9L529.4 663.6L537.7 649.3L546 635.1L554.3 620.9L562.6 606.8L570.9 592.9L579.1 579L587.3 565.2L595.5 551.6L603.7 538L611.9 524.6L620 511.3L628.2 498.1L636.3 485.1L644.4 472.3L652.5 459.5L660.6 447L668.6 434.5L676.7 422.3L684.7 410.2L692.7 398.2L700.7 386.4L708.6 374.8L716.6 363.4L724.5 352.1L732.5 341L740.4 330L748.2 319.2L756.1 308.5L763.9 298.1L771.8 287.7L779.6 277.6L787.4 267.6L795.1 257.7L802.9 248L810.6 238.5L818.3 229L826 219.8L833.7 210.6L841.3 201.6L848.9 192.8L856.5 184L864.1 175.4L871.7 167L879.2 158.6L886.8 150.4L894.3 142.2M438.4 325L451.8 334.5L465.3 344.5L478.7 354.9L492.2 365.8L505.8 377L519.3 388.7L532.8 400.9L546.4 413.5L560 426.5L573.6 440L587.2 453.9L600.9 468.3L614.5 483L628.2 498.1L641.8 513.6L655.5 529.4L669.2 545.5L682.8 561.9L696.5 578.4L710.2 595.2L723.8 612L737.5 628.9L751.2 645.8L764.8 662.7L778.5 679.6L792.1 696.3L805.8 712.8L819.5 729.1L833.1 745.2L846.8 760.9L860.4 776.4L874.1 791.5L887.7 806.2L901.4 820.6L915 834.5L928.7 848.1L942.4 861.2L956.1 873.9L969.8 886.1L983.5 898L997.2 909.4L1011 920.5L1024.7 931.2L1038.5 941.4L1052.3 951.4L1066.1 960.9L1079.9 970.2L1093.8 979.1L1107.7 987.7M518.3 723.9L526.6 709.5L535 695.1L543.3 680.7L551.6 666.3L559.9 652L568.2 637.8L576.4 623.6L584.6 609.5L592.9 595.5L601.1 581.6L609.2 567.8L617.4 554.1L625.6 540.5L633.7 527L641.8 513.6L649.9 500.4L658 487.3L666.1 474.4L674.1 461.5L682.2 448.9L690.2 436.4L698.2 424L706.2 411.8L714.2 399.8L722.1 387.9L730.1 376.2L738 364.6L745.9 353.2L753.8 342L761.6 331L769.5 320.1L777.3 309.3L785.1 298.7L792.9 288.3L800.7 278.1L808.4 268L816.2 258L823.9 248.2L831.6 238.6L839.2 229.1L846.9 219.7L854.5 210.5L862.1 201.4L869.7 192.5L877.3 183.7L884.9 175L892.4 166.4L899.9 158L907.4 149.7M446.8 315.4L460.2 324.8L473.6 334.6L487.1 344.7L500.6 355.3L514.1 366.3L527.6 377.7L541.1 389.6L554.7 402L568.2 414.7L581.8 428L595.4 441.6L609 455.7L622.7 470.2L636.3 485.1L649.9 500.4L663.6 516L677.2 531.9L690.9 548.1L704.5 564.6L718.2 581.2L731.8 597.9L745.5 614.8L759.1 631.7L772.8 648.6L786.4 665.5L800.1 682.2L813.7 698.8L827.4 715.2L841 731.4L854.6 747.3L868.3 763L881.9 778.3L895.5 793.2L909.2 807.7L922.8 821.9L936.5 835.6L950.2 849L963.8 861.9L977.5 874.4L991.2 886.5L1004.9 898.1L1018.6 909.4L1032.4 920.2L1046.1 930.7L1059.9 940.8L1073.7 950.6L1087.5 960L1101.4 969.1L1115.2 977.8M532.2 741.1L540.5 726.6L548.9 712.2L557.2 697.8L565.4 683.4L573.7 669.1L582 654.8L590.2 640.6L598.4 626.4L606.6 612.3L614.8 598.2L623 584.3L631.1 570.4L639.3 556.6L647.4 543L655.5 529.4L663.6 516L671.6 502.7L679.7 489.6L687.7 476.5L695.8 463.6L703.8 450.9L711.8 438.3L719.7 425.8L727.7 413.6L735.6 401.4L743.5 389.5L751.4 377.6L759.3 366L767.2 354.5L775 343.2L782.9 332L790.7 321L798.5 310.2L806.3 299.5L814 289L821.7 278.6L829.5 268.4L837.2 258.4L844.8 248.5L852.5 238.8L860.1 229.2L867.8 219.7L875.4 210.4L882.9 201.3L890.5 192.3L898 183.4L905.6 174.6L913.1 166L920.5 157.5M455.2 306.1L468.6 315.2L482 324.7L495.4 334.6L508.9 345L522.3 355.7L535.8 366.9L549.4 378.5L562.9 390.6L576.4 403.1L590 416.1L603.6 429.5L617.2 443.3L630.8 457.6L644.4 472.3L658 487.3L671.6 502.7L685.3 518.5L698.9 534.5L712.6 550.8L726.2 567.3L739.8 583.9L753.5 600.7L767.1 617.6L780.7 634.5L794.4 651.4L808 668.2L821.6 684.8L835.2 701.3L848.9 717.6L862.5 733.7L876.1 749.5L889.7 764.9L903.4 780.1L917 794.8L930.6 809.2L944.3 823.1L957.9 836.7L971.6 849.8L985.2 862.5L998.9 874.8L1012.6 886.7L1026.3 898.2L1040 909.2L1053.8 919.9L1067.5 930.2L1081.3 940.1L1095.1 949.7L1108.9 959L1122.7 967.9M546.1 758.1L554.4 743.7L562.7 729.3L571 714.9L579.3 700.6L587.6 686.2L595.8 671.9L604 657.6L612.2 643.3L620.4 629.1L628.6 615L636.7 600.9L644.8 586.9L653 573L661.1 559.2L669.2 545.5L677.2 531.9L685.3 518.5L693.3 505.1L701.3 491.9L709.3 478.8L717.3 465.8L725.3 453L733.3 440.3L741.2 427.7L749.1 415.4L757 403.1L764.9 391.1L772.8 379.2L780.6 367.4L788.5 355.8L796.3 344.4L804.1 333.2L811.9 322.1L819.6 311.1L827.4 300.4L835.1 289.7L842.8 279.3L850.5 269L858.1 258.9L865.8 248.9L873.4 239.1L881 229.4L888.6 219.8L896.2 210.5L903.7 201.2L911.2 192.1L918.7 183.1L926.2 174.3L933.7 165.6M463.6 296.8L476.9 305.8L490.3 315L503.7 324.7L517.1 334.8L530.6 345.3L544.1 356.2L557.6 367.6L571.1 379.4L584.6 391.7L598.2 404.4L611.7 417.5L625.3 431.1L638.9 445.1L652.5 459.5L666.1 474.4L679.7 489.6L693.3 505.1L706.9 520.9L720.6 537.1L734.2 553.4L747.8 570L761.4 586.7L775 603.5L788.7 620.4L802.3 637.3L815.9 654.1L829.5 670.8L843.1 687.4L856.7 703.8L870.3 720L883.9 735.9L897.5 751.5L911.1 766.8L924.8 781.8L938.4 796.3L952 810.5L965.6 824.3L979.3 837.6L992.9 850.6L1006.6 863.1L1020.2 875.2L1033.9 886.9L1047.6 898.1L1061.4 909L1075.1 919.5L1088.8 929.6L1102.6 939.4L1116.4 948.8L1130.2 957.9M560 775L568.3 760.7L576.6 746.4L584.9 732L593.1 717.7L601.4 703.3L609.6 689L617.8 674.6L626 660.4L634.2 646.1L642.3 631.9L650.4 617.8L658.6 603.7L666.7 589.7L674.8 575.7L682.8 561.9L690.9 548.1L698.9 534.5L706.9 520.9L714.9 507.5L722.9 494.2L730.9 481L738.9 468L746.8 455.1L754.7 442.3L762.6 429.7L770.5 417.3L778.4 404.9L786.2 392.8L794.1 380.8L801.9 368.9L809.7 357.3L817.5 345.7L825.2 334.4L833 323.2L840.7 312.2L848.4 301.3L856.1 290.6L863.8 280L871.4 269.6L879.1 259.4L886.7 249.3L894.3 239.4L901.8 229.6L909.4 220L916.9 210.5L924.4 201.2L931.9 192L939.4 183L946.9 174.1M471.9 287.7L485.2 296.4L498.6 305.5L512 315L525.4 324.8L538.9 335.1L552.3 345.7L565.8 356.8L579.3 368.4L592.8 380.4L606.3 392.8L619.9 405.7L633.4 419L647 432.8L660.6 447L674.1 461.5L687.7 476.5L701.3 491.9L714.9 507.5L728.5 523.5L742.1 539.7L755.8 556.2L769.4 572.8L783 589.5L796.6 606.3L810.2 623.2L823.8 640L837.4 656.8L851 673.5L864.6 690L878.1 706.3L891.7 722.3L905.3 738.1L918.9 753.5L932.5 768.7L946.1 783.4L959.7 797.8L973.3 811.8L987 825.3L1000.6 838.5L1014.2 851.2L1027.9 863.5L1041.6 875.4L1055.2 886.9L1068.9 898L1082.7 908.7L1096.4 919L1110.2 929L1123.9 938.6L1137.7 947.8M573.9 791.8L582.2 777.5L590.5 763.3L598.7 749L607 734.7L615.2 720.3L623.4 706L631.6 691.7L639.8 677.4L647.9 663.1L656.1 648.9L664.2 634.7L672.3 620.5L680.4 606.4L688.4 592.4L696.5 578.4L704.5 564.6L712.6 550.8L720.6 537.1L728.5 523.5L736.5 510L744.5 496.6L752.4 483.4L760.3 470.3L768.2 457.3L776.1 444.5L784 431.8L791.9 419.2L799.7 406.8L807.5 394.6L815.3 382.5L823.1 370.5L830.9 358.8L838.6 347.1L846.3 335.7L854.1 324.4L861.8 313.3L869.4 302.3L877.1 291.5L884.7 280.8L892.3 270.4L899.9 260L907.5 249.9L915.1 239.8L922.6 230L930.2 220.3L937.7 210.7L945.1 201.3L952.6 192L960 182.9M480.2 278.8L493.5 287.3L506.9 296.1L520.3 305.3L533.7 314.9L547.1 325L560.5 335.4L574 346.2L587.4 357.5L600.9 369.2L614.4 381.4L628 394L641.5 407.1L655.1 420.6L668.6 434.5L682.2 448.9L695.8 463.6L709.3 478.8L722.9 494.2L736.5 510L750.1 526.1L763.7 542.4L777.3 558.9L790.9 575.6L804.5 592.3L818.1 609.1L831.6 626L845.2 642.8L858.8 659.5L872.4 676.1L886 692.5L899.5 708.6L913.1 724.5L926.7 740.2L940.3 755.5L953.8 770.4L967.4 785L981 799.2L994.6 813L1008.2 826.3L1021.9 839.3L1035.5 851.8L1049.2 863.9L1062.8 875.6L1076.5 886.9L1090.2 897.8L1103.9 908.3L1117.7 918.5L1131.4 928.2L1145.2 937.7M587.8 808.3L596.1 794.1L604.3 780L612.6 765.8L620.8 751.5L629 737.3L637.2 723L645.4 708.7L653.5 694.4L661.7 680.2L669.8 665.9L677.9 651.7L686 637.5L694.1 623.3L702.1 609.2L710.2 595.2L718.2 581.2L726.2 567.3L734.2 553.4L742.1 539.7L750.1 526.1L758 512.5L766 499.1L773.9 485.8L781.8 472.6L789.6 459.6L797.5 446.7L805.3 433.9L813.2 421.3L821 408.8L828.8 396.4L836.5 384.2L844.3 372.2L852 360.3L859.7 348.6L867.4 337.1L875.1 325.7L882.8 314.5L890.4 303.4L898 292.5L905.6 281.7L913.2 271.2L920.8 260.7L928.3 250.5L935.9 240.4L943.4 230.4L950.9 220.6L958.3 210.9L965.8 201.4L973.2 192.1M488.5 269.9L501.8 278.2L515.2 286.9L528.5 295.9L541.9 305.2L555.3 315L568.7 325.2L582.1 335.8L595.6 346.8L609.1 358.3L622.6 370.2L636.1 382.5L649.6 395.3L663.1 408.6L676.7 422.3L690.2 436.4L703.8 450.9L717.3 465.8L730.9 481L744.5 496.6L758 512.5L771.6 528.7L785.2 545.1L798.8 561.6L812.3 578.3L825.9 595.1L839.5 611.9L853.1 628.8L866.6 645.5L880.2 662.1L893.7 678.6L907.3 694.9L920.9 711L934.4 726.7L948 742.2L961.6 757.3L975.1 772.1L988.7 786.5L1002.3 800.5L1015.9 814.1L1029.5 827.2L1043.1 840L1056.7 852.3L1070.4 864.2L1084.1 875.7L1097.7 886.8L1111.4 897.5L1125.2 907.9L1138.9 917.8L1152.7 927.4M601.7 824.5L609.9 810.5L618.2 796.5L626.4 782.4L634.6 768.2L642.8 754.1L651 739.9L659.2 725.6L667.3 711.4L675.4 697.2L683.6 682.9L691.6 668.7L699.7 654.5L707.8 640.3L715.8 626.1L723.8 612L731.8 597.9L739.8 583.9L747.8 570L755.8 556.2L763.7 542.4L771.6 528.7L779.5 515.1L787.4 501.6L795.3 488.3L803.2 475L811 461.9L818.8 448.9L826.6 436.1L834.4 423.4L842.2 410.8L849.9 398.4L857.7 386.1L865.4 374L873.1 362L880.8 350.2L888.5 338.5L896.1 327.1L903.7 315.7L911.4 304.6L918.9 293.6L926.5 282.7L934.1 272L941.6 261.5L949.1 251.2L956.6 241L964.1 230.9L971.6 221L979 211.3L986.4 201.7M496.8 261.2L510.1 269.3L523.4 277.7L536.7 286.5L550.1 295.7L563.5 305.2L576.9 315.2L590.3 325.5L603.7 336.3L617.2 347.5L630.7 359.1L644.1 371.2L657.6 383.8L671.2 396.7L684.7 410.2L698.2 424L711.8 438.3L725.3 453L738.9 468L752.4 483.4L766 499.1L779.5 515.1L793.1 531.4L806.6 547.8L820.2 564.4L833.8 581.2L847.3 597.9L860.9 614.7L874.4 631.5L888 648.2L901.5 664.8L915.1 681.1L928.6 697.3L942.2 713.2L955.7 728.8L969.2 744.1L982.8 759.1L996.4 773.7L1009.9 787.9L1023.5 801.7L1037.1 815.1L1050.7 828L1064.3 840.6L1077.9 852.7L1091.6 864.4L1105.2 875.8L1118.9 886.7L1132.6 897.2L1146.3 907.3L1160.1 917.1M615.5 840.4L623.8 826.6L632.1 812.7L640.3 798.7L648.5 784.7L656.7 770.6L664.8 756.5L673 742.4L681.1 728.2L689.2 714L697.3 699.8L705.4 685.6L713.4 671.4L721.5 657.2L729.5 643.1L737.5 628.9L745.5 614.8L753.5 600.7L761.4 586.7L769.4 572.8L777.3 558.9L785.2 545.1L793.1 531.4L801 517.7L808.8 504.2L816.7 490.8L824.5 477.5L832.3 464.3L840.1 451.3L847.9 438.3L855.6 425.5L863.4 412.9L871.1 400.4L878.8 388L886.5 375.8L894.2 363.7L901.8 351.8L909.5 340.1L917.1 328.5L924.7 317.1L932.3 305.8L939.8 294.7L947.4 283.8L954.9 273L962.4 262.4L969.9 251.9L977.3 241.6L984.8 231.5L992.2 221.5L999.6 211.7M505.1 252.6L518.3 260.5L531.6 268.7L545 277.3L558.3 286.3L571.7 295.6L585 305.3L598.4 315.4L611.8 325.9L625.3 336.9L638.7 348.2L652.2 360.1L665.7 372.3L679.2 385.1L692.7 398.2L706.2 411.8L719.7 425.8L733.3 440.3L746.8 455.1L760.3 470.3L773.9 485.8L787.4 501.6L801 517.7L814.5 534.1L828.1 550.6L841.6 567.2L855.1 584L868.7 600.7L882.2 617.5L895.7 634.2L909.3 650.9L922.8 667.3L936.3 683.6L949.9 699.6L963.4 715.4L976.9 730.9L990.5 746L1004 760.8L1017.6 775.2L1031.1 789.2L1044.7 802.8L1058.3 816L1071.9 828.8L1085.5 841.1L1099.1 853.1L1112.7 864.6L1126.4 875.7L1140.1 886.4L1153.8 896.8L1167.5 906.8M629.4 856L637.7 842.3L645.9 828.6L654.1 814.8L662.3 800.9L670.5 787L678.6 773L686.7 759L694.9 744.9L703 730.8L711 716.7L719.1 702.5L727.1 688.3L735.2 674.2L743.2 660L751.2 645.8L759.1 631.7L767.1 617.6L775 603.5L783 589.5L790.9 575.6L798.8 561.6L806.6 547.8L814.5 534.1L822.4 520.4L830.2 506.8L838 493.4L845.8 480L853.6 466.8L861.3 453.6L869.1 440.6L876.8 427.8L884.5 415L892.2 402.4L899.9 390L907.5 377.7L915.2 365.6L922.8 353.6L930.4 341.7L938 330L945.6 318.5L953.1 307.2L960.6 296L968.2 284.9L975.6 274.1L983.1 263.3L990.6 252.8L998 242.4L1005.4 232.1L1012.8 222.1M513.3 244.1L526.6 251.8L539.8 259.9L553.1 268.3L566.5 277L579.8 286.1L593.2 295.5L606.5 305.4L619.9 315.7L633.4 326.4L646.8 337.5L660.2 349.1L673.7 361.1L687.2 373.5L700.7 386.4L714.2 399.8L727.7 413.6L741.2 427.7L754.7 442.3L768.2 457.3L781.8 472.6L795.3 488.3L808.8 504.2L822.4 520.4L835.9 536.8L849.4 553.4L862.9 570L876.5 586.8L890 603.6L903.5 620.3L917 637L930.5 653.5L944 669.9L957.6 686L971.1 701.9L984.6 717.6L998.1 732.9L1011.6 747.8L1025.2 762.4L1038.7 776.6L1052.3 790.5L1065.8 803.9L1079.4 816.8L1093 829.4L1106.6 841.6L1120.2 853.3L1133.9 864.6L1147.5 875.6L1161.2 886.1L1174.9 896.3M643.3 871.2L651.5 857.7L659.7 844.2L667.9 830.6L676.1 816.8L684.3 803.1L692.4 789.2L700.5 775.3L708.6 761.4L716.7 747.4L724.8 733.3L732.8 719.2L740.8 705.1L748.9 691L756.9 676.9L764.8 662.7L772.8 648.6L780.7 634.5L788.7 620.4L796.6 606.3L804.5 592.3L812.3 578.3L820.2 564.4L828.1 550.6L835.9 536.8L843.7 523.1L851.5 509.5L859.3 496L867 482.6L874.8 469.3L882.5 456.1L890.2 443L897.9 430.1L905.6 417.3L913.3 404.6L920.9 392.1L928.5 379.7L936.2 367.4L943.7 355.4L951.3 343.4L958.9 331.7L966.4 320L973.9 308.6L981.4 297.3L988.9 286.2L996.4 275.2L1003.8 264.4L1011.2 253.7L1018.6 243.2L1026 232.9M521.5 235.7L534.8 243.3L548 251.1L561.3 259.3L574.6 267.8L587.9 276.7L601.3 285.9L614.6 295.6L628 305.6L641.4 316.1L654.8 326.9L668.3 338.2L681.7 350L695.2 362.2L708.6 374.8L722.1 387.9L735.6 401.4L749.1 415.4L762.6 429.7L776.1 444.5L789.6 459.6L803.2 475L816.7 490.8L830.2 506.8L843.7 523.1L857.2 539.6L870.7 556.2L884.2 572.9L897.7 589.6L911.2 606.3L924.7 623L938.2 639.6L951.7 656.1L965.2 672.3L978.7 688.4L992.2 704.2L1005.7 719.6L1019.3 734.8L1032.8 749.6L1046.3 764L1059.8 778L1073.4 791.6L1086.9 804.8L1100.5 817.6L1114.1 830L1127.7 841.9L1141.3 853.5L1154.9 864.6L1168.6 875.4L1182.3 885.7M657.1 886.1L665.4 872.8L673.6 859.4L681.8 846L689.9 832.4L698.1 818.8L706.2 805.1L714.3 791.4L722.4 777.6L730.5 763.7L738.5 749.8L746.5 735.8L754.6 721.8L762.5 707.7L770.5 693.6L778.5 679.6L786.4 665.5L794.4 651.4L802.3 637.3L810.2 623.2L818.1 609.1L825.9 595.1L833.8 581.2L841.6 567.2L849.4 553.4L857.2 539.6L865 525.8L872.8 512.2L880.5 498.6L888.2 485.2L896 471.8L903.7 458.6L911.3 445.4L919 432.4L926.7 419.6L934.3 406.8L941.9 394.2L949.5 381.7L957.1 369.4L964.6 357.2L972.2 345.2L979.7 333.4L987.2 321.6L994.7 310.1L1002.2 298.7L1009.6 287.5L1017.1 276.4L1024.5 265.5L1031.9 254.7L1039.2 244.1M529.7 227.5L543 234.9L556.2 242.5L569.5 250.5L582.7 258.8L596 267.5L609.4 276.5L622.7 285.9L636.1 295.7L649.5 305.9L662.9 316.5L676.3 327.6L689.7 339.1L703.1 351L716.6 363.4L730.1 376.2L743.5 389.5L757 403.1L770.5 417.3L784 431.8L797.5 446.7L811 461.9L824.5 477.5L838 493.4L851.5 509.5L865 525.8L878.5 542.3L892 559L905.5 575.7L919 592.4L932.4 609.1L945.9 625.8L959.4 642.3L972.9 658.6L986.4 674.8L999.9 690.7L1013.4 706.3L1026.8 721.6L1040.3 736.6L1053.9 751.2L1067.4 765.4L1080.9 779.3L1094.4 792.7L1108 805.7L1121.5 818.3L1135.1 830.5L1148.7 842.2L1162.3 853.6L1176 864.5L1189.6 875.1M671 900.5L679.2 887.4L687.4 874.3L695.6 861L703.7 847.7L711.9 834.3L720 820.7L728.1 807.2L736.1 793.5L744.2 779.8L752.2 766L760.3 752.1L768.3 738.2L776.2 724.3L784.2 710.3L792.1 696.3L800.1 682.2L808 668.2L815.9 654.1L823.8 640L831.6 626L839.5 611.9L847.3 597.9L855.1 584L862.9 570L870.7 556.2L878.5 542.3L886.2 528.6L894 514.9L901.7 501.3L909.4 487.8L917.1 474.4L924.8 461.1L932.4 447.9L940 434.9L947.7 421.9L955.3 409.1L962.8 396.4L970.4 383.9L978 371.5L985.5 359.2L993 347.1L1000.5 335.1L1008 323.3L1015.4 311.7L1022.9 300.2L1030.3 288.9L1037.7 277.7L1045.1 266.7L1052.4 255.8M537.9 219.3L551.1 226.5L564.3 234L577.6 241.8L590.9 249.9L604.1 258.4L617.4 267.2L630.8 276.4L644.1 285.9L657.5 295.9L670.9 306.3L684.3 317.1L697.7 328.3L711.1 340L724.5 352.1L738 364.6L751.4 377.6L764.9 391.1L778.4 404.9L791.9 419.2L805.3 433.9L818.8 448.9L832.3 464.3L845.8 480L859.3 496L872.8 512.2L886.2 528.6L899.7 545.1L913.2 561.8L926.7 578.5L940.1 595.2L953.6 611.9L967.1 628.4L980.5 644.9L994 661.1L1007.5 677.2L1021 692.9L1034.4 708.4L1047.9 723.6L1061.4 738.4L1074.9 752.8L1088.4 766.8L1101.9 780.5L1115.5 793.7L1129 806.5L1142.6 818.9L1156.1 830.8L1169.7 842.4L1183.4 853.6L1197 864.3M684.9 914.5L693.1 901.7L701.2 888.7L709.4 875.7L717.5 862.6L725.7 849.3L733.8 836L741.8 822.6L749.9 809.1L757.9 795.5L766 781.9L774 768.2L782 754.4L789.9 740.6L797.9 726.7L805.8 712.8L813.7 698.8L821.6 684.8L829.5 670.8L837.4 656.8L845.2 642.8L853.1 628.8L860.9 614.7L868.7 600.7L876.5 586.8L884.2 572.9L892 559L899.7 545.1L907.4 531.4L915.1 517.7L922.8 504L930.5 490.5L938.2 477.1L945.8 463.7L953.4 450.5L961 437.3L968.6 424.3L976.2 411.4L983.7 398.7L991.3 386L998.8 373.6L1006.3 361.2L1013.8 349L1021.3 337L1028.7 325.1L1036.1 313.3L1043.5 301.8L1050.9 290.3L1058.3 279.1L1065.7 268M546.1 211.3L559.3 218.3L572.5 225.6L585.7 233.3L598.9 241.2L612.2 249.4L625.5 258L638.8 267L652.1 276.3L665.5 286L678.9 296.2L692.2 306.7L705.6 317.7L719 329.1L732.5 341L745.9 353.2L759.3 366L772.8 379.2L786.2 392.8L799.7 406.8L813.2 421.3L826.6 436.1L840.1 451.3L853.6 466.8L867 482.6L880.5 498.6L894 514.9L907.4 531.4L920.9 547.9L934.4 564.6L947.8 581.3L961.3 598L974.7 614.6L988.2 631.1L1001.6 647.4L1015.1 663.6L1028.5 679.5L1042 695.1L1055.5 710.4L1068.9 725.4L1082.4 740L1095.9 754.3L1109.4 768.1L1122.9 781.6L1136.4 794.6L1150 807.2L1163.5 819.4L1177.1 831.2L1190.7 842.5L1204.3 853.5M698.7 928.2L706.9 915.5L715.1 902.8L723.2 890L731.3 877L739.5 864L747.5 850.9L755.6 837.7L763.6 824.4L771.7 811L779.7 797.5L787.7 783.9L795.6 770.3L803.6 756.6L811.5 742.9L819.5 729.1L827.4 715.2L835.2 701.3L843.1 687.4L851 673.5L858.8 659.5L866.6 645.5L874.4 631.5L882.2 617.5L890 603.6L897.7 589.6L905.5 575.7L913.2 561.8L920.9 547.9L928.6 534.2L936.3 520.4L943.9 506.8L951.6 493.2L959.2 479.7L966.8 466.3L974.4 453L982 439.9L989.5 426.8L997.1 413.8L1004.6 401L1012.1 388.3L1019.6 375.7L1027.1 363.3L1034.5 351L1042 338.9L1049.4 326.9L1056.8 315.1L1064.2 303.4L1071.5 291.9L1078.9 280.5M554.2 203.4L567.4 210.2L580.6 217.4L593.8 224.8L607 232.5L620.3 240.6L633.5 249L646.8 257.7L660.1 266.8L673.5 276.3L686.8 286.2L700.2 296.5L713.6 307.2L726.9 318.4L740.4 330L753.8 342L767.2 354.5L780.6 367.4L794.1 380.8L807.5 394.6L821 408.8L834.4 423.4L847.9 438.3L861.3 453.6L874.8 469.3L888.2 485.2L901.7 501.3L915.1 517.7L928.6 534.2L942 550.8L955.5 567.4L968.9 584.1L982.4 600.8L995.8 617.3L1009.2 633.7L1022.7 650L1036.1 666L1049.6 681.8L1063 697.2L1076.5 712.4L1089.9 727.2L1103.4 741.6L1116.9 755.7L1130.4 769.3L1143.9 782.6L1157.4 795.4L1170.9 807.8L1184.5 819.8L1198 831.4L1211.6 842.6M712.6 941.4L720.8 929L728.9 916.4L737 903.8L745.2 891.1L753.2 878.3L761.3 865.4L769.4 852.4L777.4 839.2L785.4 826.1L793.4 812.8L801.4 799.4L809.3 785.9L817.3 772.4L825.2 758.8L833.1 745.2L841 731.4L848.9 717.6L856.7 703.8L864.6 690L872.4 676.1L880.2 662.1L888 648.2L895.7 634.2L903.5 620.3L911.2 606.3L919 592.4L926.7 578.5L934.4 564.6L942 550.8L949.7 537L957.3 523.2L965 509.6L972.6 496L980.2 482.4L987.8 469L995.3 455.7L1002.9 442.4L1010.4 429.3L1017.9 416.3L1025.4 403.4L1032.9 390.6L1040.4 378L1047.8 365.5L1055.2 353.1L1062.6 340.9L1070 328.8L1077.4 316.9L1084.7 305.1L1092.1 293.5M562.3 195.5L575.5 202.2L588.7 209.2L601.8 216.5L615.1 224L628.3 231.9L641.6 240.1L654.8 248.6L668.1 257.5L681.4 266.8L694.8 276.4L708.1 286.5L721.5 297L734.8 307.9L748.2 319.2L761.6 331L775 343.2L788.5 355.8L801.9 368.9L815.3 382.5L828.8 396.4L842.2 410.8L855.6 425.5L869.1 440.6L882.5 456.1L896 471.8L909.4 487.8L922.8 504L936.3 520.4L949.7 537L963.1 553.6L976.6 570.3L990 586.9L1003.4 603.5L1016.8 620L1030.2 636.3L1043.7 652.4L1057.1 668.3L1070.5 684L1084 699.3L1097.4 714.3L1110.8 728.9L1124.3 743.2L1137.8 757L1151.3 770.5L1164.8 783.5L1178.3 796.1L1191.8 808.4L1205.4 820.1L1218.9 831.5M726.4 954.1L734.6 941.9L742.7 929.7L750.9 917.3L759 904.8L767 892.2L775.1 879.5L783.1 866.7L791.2 853.8L799.2 840.8L807.1 827.7L815.1 814.5L823 801.2L831 787.9L838.9 774.4L846.8 760.9L854.6 747.3L862.5 733.7L870.3 720L878.1 706.3L886 692.5L893.7 678.6L901.5 664.8L909.3 650.9L917 637L924.7 623L932.4 609.1L940.1 595.2L947.8 581.3L955.5 567.4L963.1 553.6L970.8 539.8L978.4 526.1L986 512.4L993.6 498.7L1001.1 485.2L1008.7 471.7L1016.2 458.3L1023.7 445L1031.2 431.9L1038.7 418.8L1046.2 405.8L1053.6 393L1061.1 380.3L1068.5 367.7L1075.9 355.3L1083.3 343L1090.6 330.8L1098 318.8L1105.3 306.9M570.4 187.8L583.6 194.3L596.7 201.2L609.9 208.3L623.1 215.6L636.3 223.3L649.5 231.3L662.8 239.6L676.1 248.3L689.4 257.4L702.7 266.8L716 276.6L729.4 286.8L742.7 297.5L756.1 308.5L769.5 320.1L782.9 332L796.3 344.4L809.7 357.3L823.1 370.5L836.5 384.2L849.9 398.4L863.4 412.9L876.8 427.8L890.2 443L903.7 458.6L917.1 474.4L930.5 490.5L943.9 506.8L957.3 523.2L970.8 539.8L984.2 556.4L997.6 573.1L1011 589.7L1024.4 606.2L1037.8 622.6L1051.2 638.8L1064.6 654.9L1078 670.6L1091.4 686.1L1104.9 701.3L1118.3 716.1L1131.7 730.5L1145.2 744.6L1158.7 758.3L1172.1 771.5L1185.6 784.4L1199.1 796.8L1212.7 808.8L1226.2 820.4M740.3 966.5L748.4 954.5L756.6 942.4L764.7 930.3L772.8 918L780.8 905.6L788.9 893.1L796.9 880.5L804.9 867.8L812.9 855.1L820.9 842.2L828.8 829.2L836.7 816.1L844.6 803L852.5 789.7L860.4 776.4L868.3 763L876.1 749.5L883.9 735.9L891.7 722.3L899.5 708.6L907.3 694.9L915.1 681.1L922.8 667.3L930.5 653.5L938.2 639.6L945.9 625.8L953.6 611.9L961.3 598L968.9 584.1L976.6 570.3L984.2 556.4L991.8 542.6L999.4 528.9L1006.9 515.2L1014.5 501.5L1022 488L1029.5 474.5L1037 461L1044.5 447.7L1052 434.5L1059.5 421.4L1066.9 408.3L1074.3 395.4L1081.7 382.7L1089.1 370L1096.5 357.5L1103.8 345.1L1111.2 332.9L1118.5 320.8M578.5 180.1L591.6 186.6L604.8 193.2L617.9 200.2L631.1 207.4L644.3 214.9L657.5 222.7L670.8 230.8L684 239.3L697.3 248.1L710.6 257.3L723.9 266.9L737.2 276.8L750.6 287.2L763.9 298.1L777.3 309.3L790.7 321L804.1 333.2L817.5 345.7L830.9 358.8L844.3 372.2L857.7 386.1L871.1 400.4L884.5 415L897.9 430.1L911.3 445.4L924.8 461.1L938.2 477.1L951.6 493.2L965 509.6L978.4 526.1L991.8 542.6L1005.2 559.3L1018.6 575.9L1032 592.4L1045.3 608.9L1058.7 625.2L1072.1 641.3L1085.5 657.2L1098.9 672.9L1112.3 688.2L1125.7 703.2L1139.2 717.8L1152.6 732.1L1166 746L1179.5 759.4L1193 772.5L1206.5 785.1L1220 797.4L1233.5 809.2M754.2 978.4L762.3 966.7L770.4 954.8L778.5 942.9L786.6 930.8L794.6 918.6L802.7 906.4L810.7 894L818.7 881.5L826.6 869L834.6 856.3L842.5 843.5L850.4 830.7L858.3 817.7L866.2 804.6L874.1 791.5L881.9 778.3L889.7 764.9L897.5 751.5L905.3 738.1L913.1 724.5L920.9 711L928.6 697.3L936.3 683.6L944 669.9L951.7 656.1L959.4 642.3L967.1 628.4L974.7 614.6L982.4 600.8L990 586.9L997.6 573.1L1005.2 559.3L1012.7 545.5L1020.3 531.7L1027.8 518L1035.4 504.4L1042.9 490.8L1050.4 477.2L1057.8 463.8L1065.3 450.4L1072.7 437.1L1080.2 424L1087.6 410.9L1095 397.9L1102.3 385.1L1109.7 372.4L1117 359.8L1124.4 347.3L1131.7 335M586.5 172.6L599.6 178.8L612.8 185.4L625.9 192.1L639.1 199.2L652.3 206.5L665.5 214.1L678.7 222.1L691.9 230.3L705.2 238.9L718.5 247.9L731.8 257.3L745.1 267L758.4 277.2L771.8 287.7L785.1 298.7L798.5 310.2L811.9 322.1L825.2 334.4L838.6 347.1L852 360.3L865.4 374L878.8 388L892.2 402.4L905.6 417.3L919 432.4L932.4 447.9L945.8 463.7L959.2 479.7L972.6 496L986 512.4L999.4 528.9L1012.7 545.5L1026.1 562.1L1039.5 578.7L1052.9 595.2L1066.2 611.6L1079.6 627.8L1093 643.8L1106.4 659.5L1119.8 675L1133.2 690.2L1146.6 705L1160 719.5L1173.4 733.6L1186.8 747.2L1200.3 760.5L1213.8 773.4L1227.3 785.8L1240.8 797.9M768 989.9L776.2 978.4L784.3 966.8L792.3 955L800.4 943.2L808.4 931.2L816.5 919.2L824.4 907L832.4 894.8L840.4 882.4L848.3 870L856.2 857.4L864.1 844.8L872 832L879.9 819.2L887.7 806.2L895.5 793.2L903.4 780.1L911.1 766.8L918.9 753.5L926.7 740.2L934.4 726.7L942.2 713.2L949.9 699.6L957.6 686L965.2 672.3L972.9 658.6L980.5 644.9L988.2 631.1L995.8 617.3L1003.4 603.5L1011 589.7L1018.6 575.9L1026.1 562.1L1033.7 548.3L1041.2 534.6L1048.7 520.8L1056.2 507.2L1063.7 493.6L1071.1 480L1078.6 466.5L1086 453.1L1093.4 439.8L1100.8 426.6L1108.2 413.5L1115.6 400.5L1122.9 387.6L1130.2 374.8L1137.6 362.1L1144.9 349.6M594.6 165.1L607.7 171.2L620.8 177.6L633.9 184.2L647 191.1L660.2 198.3L673.4 205.7L686.6 213.5L699.8 221.5L713.1 229.9L726.4 238.7L739.6 247.8L752.9 257.3L766.2 267.3L779.6 277.6L792.9 288.3L806.3 299.5L819.6 311.1L833 323.2L846.3 335.7L859.7 348.6L873.1 362L886.5 375.8L899.9 390L913.3 404.6L926.7 419.6L940 434.9L953.4 450.5L966.8 466.3L980.2 482.4L993.6 498.7L1006.9 515.2L1020.3 531.7L1033.7 548.3L1047 564.9L1060.4 581.4L1073.7 597.9L1087.1 614.2L1100.5 630.3L1113.8 646.2L1127.2 661.8L1140.6 677.1L1154 692.1L1167.3 706.8L1180.8 721.1L1194.2 734.9L1207.6 748.4L1221.1 761.5L1234.5 774.2L1248 786.4M781.9 1001L790 989.7L798.1 978.3L806.2 966.8L814.2 955.1L822.2 943.4L830.2 931.6L838.2 919.7L846.2 907.6L854.1 895.5L862.1 883.3L870 870.9L877.8 858.5L885.7 846L893.6 833.3L901.4 820.6L909.2 807.7L917 794.8L924.8 781.8L932.5 768.7L940.3 755.5L948 742.2L955.7 728.8L963.4 715.4L971.1 701.9L978.7 688.4L986.4 674.8L994 661.1L1001.6 647.4L1009.2 633.7L1016.8 620L1024.4 606.2L1032 592.4L1039.5 578.7L1047 564.9L1054.5 551.1L1062 537.4L1069.5 523.7L1077 510L1084.4 496.4L1091.9 482.8L1099.3 469.3L1106.7 455.9L1114.1 442.6L1121.4 429.3L1128.8 416.1L1136.1 403.1L1143.4 390.1L1150.7 377.2L1158 364.5M602.6 157.7L615.7 163.7L628.7 170L641.9 176.4L655 183.2L668.1 190.2L681.3 197.4L694.5 205L707.7 212.9L721 221.1L734.2 229.6L747.5 238.5L760.8 247.8L774 257.5L787.4 267.6L800.7 278.1L814 289L827.4 300.4L840.7 312.2L854.1 324.4L867.4 337.1L880.8 350.2L894.2 363.7L907.5 377.7L920.9 392.1L934.3 406.8L947.7 421.9L961 437.3L974.4 453L987.8 469L1001.1 485.2L1014.5 501.5L1027.8 518L1041.2 534.6L1054.5 551.1L1067.9 567.7L1081.2 584.2L1094.6 600.5L1107.9 616.7L1121.3 632.7L1134.6 648.5L1148 664L1161.3 679.2L1174.7 694L1188.1 708.5L1201.5 722.6L1214.9 736.3L1228.3 749.5L1241.8 762.4L1255.2 774.9M795.8 1011.8L803.9 1000.6L812 989.4L820 978.1L828.1 966.7L836.1 955.2L844.1 943.6L852 931.9L860 920.1L867.9 908.2L875.8 896.1L883.7 884L891.6 871.8L899.4 859.5L907.2 847L915 834.5L922.8 821.9L930.6 809.2L938.4 796.3L946.1 783.4L953.8 770.4L961.6 757.3L969.2 744.1L976.9 730.9L984.6 717.6L992.2 704.2L999.9 690.7L1007.5 677.2L1015.1 663.6L1022.7 650L1030.2 636.3L1037.8 622.6L1045.3 608.9L1052.9 595.2L1060.4 581.4L1067.9 567.7L1075.4 553.9L1082.8 540.2L1090.3 526.5L1097.7 512.9L1105.1 499.2L1112.5 485.7L1119.9 472.2L1127.3 458.7L1134.7 445.3L1142 432L1149.3 418.8L1156.6 405.7L1163.9 392.7L1171.2 379.8M610.6 150.4L623.6 156.3L636.7 162.4L649.8 168.7L662.9 175.3L676.1 182.1L689.2 189.2L702.4 196.6L715.6 204.3L728.8 212.3L742 220.7L755.3 229.4L768.6 238.4L781.8 247.9L795.1 257.7L808.4 268L821.7 278.6L835.1 289.7L848.4 301.3L861.8 313.3L875.1 325.7L888.5 338.5L901.8 351.8L915.2 365.6L928.5 379.7L941.9 394.2L955.3 409.1L968.6 424.3L982 439.9L995.3 455.7L1008.7 471.7L1022 488L1035.4 504.4L1048.7 520.8L1062 537.4L1075.4 553.9L1088.7 570.5L1102 586.9L1115.3 603.2L1128.7 619.3L1142 635.2L1155.3 650.8L1168.7 666.1L1182.1 681.1L1195.4 695.8L1208.8 710.1L1222.2 724L1235.6 737.5L1249 750.6L1262.5 763.3M809.7 1022.1L817.8 1011.2L825.9 1000.2L833.9 989.1L841.9 977.8L849.9 966.5L857.9 955.2L865.8 943.7L873.7 932.1L881.7 920.4L889.5 908.6L897.4 896.7L905.3 884.7L913.1 872.6L920.9 860.4L928.7 848.1L936.5 835.6L944.3 823.1L952 810.5L959.7 797.8L967.4 785L975.1 772.1L982.8 759.1L990.5 746L998.1 732.9L1005.7 719.6L1013.4 706.3L1021 692.9L1028.5 679.5L1036.1 666L1043.7 652.4L1051.2 638.8L1058.7 625.2L1066.2 611.6L1073.7 597.9L1081.2 584.2L1088.7 570.5L1096.1 556.8L1103.6 543.1L1111 529.4L1118.4 515.7L1125.8 502.1L1133.2 488.5L1140.5 475L1147.9 461.5L1155.2 448.1L1162.5 434.8L1169.8 421.5L1177.1 408.4L1184.4 395.3M618.5 143.2L631.6 148.9L644.6 154.9L657.7 161.1L670.8 167.6L683.9 174.2L697.1 181.2L710.2 188.4L723.4 195.9L736.6 203.7L749.8 211.9L763.1 220.3L776.3 229.2L789.6 238.4L802.9 248L816.2 258L829.5 268.4L842.8 279.3L856.1 290.6L869.4 302.3L882.8 314.5L896.1 327.1L909.5 340.1L922.8 353.6L936.2 367.4L949.5 381.7L962.8 396.4L976.2 411.4L989.5 426.8L1002.9 442.4L1016.2 458.3L1029.5 474.5L1042.9 490.8L1056.2 507.2L1069.5 523.7L1082.8 540.2L1096.1 556.8L1109.5 573.2L1122.8 589.6L1136.1 605.8L1149.4 621.7L1162.7 637.5L1176 653L1189.4 668.2L1202.7 683L1216.1 697.5L1229.5 711.6L1242.8 725.3L1256.3 738.6L1269.7 751.5M823.6 1032.1L831.7 1021.4L839.7 1010.5L847.8 999.6L855.8 988.6L863.7 977.5L871.7 966.3L879.6 955L887.5 943.7L895.4 932.2L903.3 920.6L911.2 908.9L919 897.1L926.8 885.2L934.6 873.3L942.4 861.2L950.2 849L957.9 836.7L965.6 824.3L973.3 811.8L981 799.2L988.7 786.5L996.4 773.7L1004 760.8L1011.6 747.8L1019.3 734.8L1026.8 721.6L1034.4 708.4L1042 695.1L1049.6 681.8L1057.1 668.3L1064.6 654.9L1072.1 641.3L1079.6 627.8L1087.1 614.2L1094.6 600.5L1102 586.9L1109.5 573.2L1116.9 559.5L1124.3 545.9L1131.7 532.2L1139.1 518.6L1146.4 504.9L1153.8 491.4L1161.1 477.8L1168.4 464.3L1175.7 450.9L1183 437.6L1190.3 424.3L1197.5 411.1M626.5 136L639.5 141.7L652.5 147.5L665.6 153.6L678.7 159.9L691.8 166.4L704.9 173.2L718.1 180.3L731.2 187.6L744.4 195.2L757.6 203.2L770.9 211.4L784.1 220.1L797.3 229.1L810.6 238.5L823.9 248.2L837.2 258.4L850.5 269L863.8 280L877.1 291.5L890.4 303.4L903.7 315.7L917.1 328.5L930.4 341.7L943.7 355.4L957.1 369.4L970.4 383.9L983.7 398.7L997.1 413.8L1010.4 429.3L1023.7 445L1037 461L1050.4 477.2L1063.7 493.6L1077 510L1090.3 526.5L1103.6 543.1L1116.9 559.5L1130.2 575.9L1143.5 592.2L1156.8 608.3L1170.1 624.2L1183.4 639.8L1196.7 655.1L1210 670.1L1223.4 684.8L1236.7 699.1L1250.1 713L1263.5 726.6L1276.9 739.7M837.6 1041.8L845.6 1031.2L853.6 1020.5L861.6 1009.8L869.6 999L877.6 988.1L885.5 977.1L893.4 966L901.3 954.8L909.2 943.6L917.1 932.2L924.9 920.7L932.7 909.2L940.5 897.5L948.3 885.7L956.1 873.9L963.8 861.9L971.6 849.8L979.3 837.6L987 825.3L994.6 813L1002.3 800.5L1009.9 787.9L1017.6 775.2L1025.2 762.4L1032.8 749.6L1040.3 736.6L1047.9 723.6L1055.5 710.4L1063 697.2L1070.5 684L1078 670.6L1085.5 657.2L1093 643.8L1100.5 630.3L1107.9 616.7L1115.3 603.2L1122.8 589.6L1130.2 575.9L1137.6 562.3L1144.9 548.7L1152.3 535L1159.7 521.4L1167 507.8L1174.3 494.2L1181.6 480.7L1188.9 467.2L1196.2 453.7L1203.4 440.4L1210.7 427.1M634.4 128.9L647.4 134.5L660.4 140.2L673.5 146.2L686.5 152.3L699.6 158.7L712.8 165.3L725.9 172.2L739 179.4L752.2 186.8L765.4 194.6L778.6 202.7L791.8 211.1L805.1 219.9L818.3 229L831.6 238.6L844.8 248.5L858.1 258.9L871.4 269.6L884.7 280.8L898 292.5L911.4 304.6L924.7 317.1L938 330L951.3 343.4L964.6 357.2L978 371.5L991.3 386L1004.6 401L1017.9 416.3L1031.2 431.9L1044.5 447.7L1057.8 463.8L1071.1 480L1084.4 496.4L1097.7 512.9L1111 529.4L1124.3 545.9L1137.6 562.3L1150.8 578.6L1164.1 594.8L1177.4 610.8L1190.7 626.5L1204 642L1217.3 657.2L1230.6 672.1L1244 686.6L1257.3 700.7L1270.7 714.4L1284 727.7M851.5 1051.1L859.5 1040.7L867.6 1030.2L875.5 1019.6L883.5 1009L891.5 998.3L899.4 987.5L907.3 976.6L915.2 965.6L923 954.6L930.9 943.4L938.7 932.2L946.5 920.8L954.3 909.3L962 897.8L969.8 886.1L977.5 874.4L985.2 862.5L992.9 850.6L1000.6 838.5L1008.2 826.3L1015.9 814.1L1023.5 801.7L1031.1 789.2L1038.7 776.6L1046.3 764L1053.9 751.2L1061.4 738.4L1068.9 725.4L1076.5 712.4L1084 699.3L1091.4 686.1L1098.9 672.9L1106.4 659.5L1113.8 646.2L1121.3 632.7L1128.7 619.3L1136.1 605.8L1143.5 592.2L1150.8 578.6L1158.2 565L1165.6 551.4L1172.9 537.8L1180.2 524.2L1187.5 510.6L1194.8 497.1L1202.1 483.5L1209.3 470L1216.6 456.6L1223.8 443.2M642.3 121.9L655.3 127.4L668.3 133L681.3 138.8L694.4 144.8L707.5 151.1L720.6 157.6L733.7 164.3L746.8 171.3L760 178.6L773.1 186.2L786.3 194L799.5 202.3L812.8 210.8L826 219.8L839.2 229.1L852.5 238.8L865.8 248.9L879.1 259.4L892.3 270.4L905.6 281.7L918.9 293.6L932.3 305.8L945.6 318.5L958.9 331.7L972.2 345.2L985.5 359.2L998.8 373.6L1012.1 388.3L1025.4 403.4L1038.7 418.8L1052 434.5L1065.3 450.4L1078.6 466.5L1091.9 482.8L1105.1 499.2L1118.4 515.7L1131.7 532.2L1144.9 548.7L1158.2 565L1171.5 581.3L1184.7 597.4L1198 613.2L1211.3 628.9L1224.6 644.2L1237.9 659.2L1251.2 673.9L1264.5 688.2L1277.9 702.2L1291.2 715.7M865.5 1060.1L873.5 1049.8L881.5 1039.5L889.5 1029.1L897.4 1018.7L905.3 1008.1L913.2 997.5L921.1 986.8L929 976L936.8 965.2L944.7 954.2L952.5 943.2L960.3 932L968 920.8L975.8 909.4L983.5 898L991.2 886.5L998.9 874.8L1006.6 863.1L1014.2 851.2L1021.9 839.3L1029.5 827.2L1037.1 815.1L1044.7 802.8L1052.3 790.5L1059.8 778L1067.4 765.4L1074.9 752.8L1082.4 740L1089.9 727.2L1097.4 714.3L1104.9 701.3L1112.3 688.2L1119.8 675L1127.2 661.8L1134.6 648.5L1142 635.2L1149.4 621.7L1156.8 608.3L1164.1 594.8L1171.5 581.3L1178.8 567.7L1186.1 554.2L1193.4 540.6L1200.7 527L1208 513.5L1215.3 499.9L1222.5 486.4L1229.7 472.9L1237 459.5M650.1 115L663.1 120.3L676.1 125.9L689.2 131.6L702.2 137.5L715.3 143.6L728.3 149.9L741.4 156.5L754.6 163.3L767.7 170.4L780.9 177.8L794 185.5L807.2 193.6L820.4 201.9L833.7 210.6L846.9 219.7L860.1 229.2L873.4 239.1L886.7 249.3L899.9 260L913.2 271.2L926.5 282.7L939.8 294.7L953.1 307.2L966.4 320L979.7 333.4L993 347.1L1006.3 361.2L1019.6 375.7L1032.9 390.6L1046.2 405.8L1059.5 421.4L1072.7 437.1L1086 453.1L1099.3 469.3L1112.5 485.7L1125.8 502.1L1139.1 518.6L1152.3 535L1165.6 551.4L1178.8 567.7L1192.1 583.9L1205.3 599.9L1218.6 615.6L1231.9 631.1L1245.1 646.3L1258.4 661.2L1271.7 675.7L1285 689.8L1298.4 703.5M879.4 1068.8L887.4 1058.7L895.4 1048.5L903.4 1038.3L911.3 1028L919.2 1017.6L927.1 1007.2L935 996.7L942.8 986.1L950.7 975.4L958.5 964.6L966.3 953.8L974 942.8L981.8 931.8L989.5 920.7L997.2 909.4L1004.9 898.1L1012.6 886.7L1020.2 875.2L1027.9 863.5L1035.5 851.8L1043.1 840L1050.7 828L1058.3 816L1065.8 803.9L1073.4 791.6L1080.9 779.3L1088.4 766.8L1095.9 754.3L1103.4 741.6L1110.8 728.9L1118.3 716.1L1125.7 703.2L1133.2 690.2L1140.6 677.1L1148 664L1155.3 650.8L1162.7 637.5L1170.1 624.2L1177.4 610.8L1184.7 597.4L1192.1 583.9L1199.4 570.4L1206.7 556.9L1213.9 543.4L1221.2 529.8L1228.4 516.3L1235.7 502.8L1242.9 489.3L1250.1 475.8M658 108.1L671 113.4L684 118.8L697 124.4L710 130.1L723 136.1L736.1 142.3L749.2 148.8L762.3 155.5L775.4 162.4L788.6 169.6L801.7 177.1L814.9 185L828.1 193.1L841.3 201.6L854.5 210.5L867.8 219.7L881 229.4L894.3 239.4L907.5 249.9L920.8 260.7L934.1 272L947.4 283.8L960.6 296L973.9 308.6L987.2 321.6L1000.5 335.1L1013.8 349L1027.1 363.3L1040.4 378L1053.6 393L1066.9 408.3L1080.2 424L1093.4 439.8L1106.7 455.9L1119.9 472.2L1133.2 488.5L1146.4 504.9L1159.7 521.4L1172.9 537.8L1186.1 554.2L1199.4 570.4L1212.6 586.5L1225.8 602.4L1239.1 618L1252.4 633.3L1265.6 648.3L1278.9 663L1292.2 677.4L1305.5 691.3M893.4 1077.2L901.4 1067.2L909.4 1057.2L917.3 1047.2L925.2 1037L933.1 1026.8L941 1016.5L948.9 1006.2L956.7 995.8L964.5 985.3L972.3 974.7L980.1 964L987.8 953.3L995.6 942.4L1003.3 931.5L1011 920.5L1018.6 909.4L1026.3 898.2L1033.9 886.9L1041.6 875.4L1049.2 863.9L1056.7 852.3L1064.3 840.6L1071.9 828.8L1079.4 816.8L1086.9 804.8L1094.4 792.7L1101.9 780.5L1109.4 768.1L1116.9 755.7L1124.3 743.2L1131.7 730.5L1139.2 717.8L1146.6 705L1154 692.1L1161.3 679.2L1168.7 666.1L1176 653L1183.4 639.8L1190.7 626.5L1198 613.2L1205.3 599.9L1212.6 586.5L1219.9 573.1L1227.1 559.6L1234.4 546.1L1241.6 532.6L1248.8 519.1L1256 505.6L1263.2 492.1M665.8 101.3L678.8 106.5L691.8 111.8L704.7 117.3L717.8 122.9L730.8 128.8L743.8 134.9L756.9 141.1L770 147.7L783.1 154.5L796.3 161.5L809.4 168.9L822.6 176.5L835.7 184.5L848.9 192.8L862.1 201.4L875.4 210.4L888.6 219.8L901.8 229.6L915.1 239.8L928.3 250.5L941.6 261.5L954.9 273L968.2 284.9L981.4 297.3L994.7 310.1L1008 323.3L1021.3 337L1034.5 351L1047.8 365.5L1061.1 380.3L1074.3 395.4L1087.6 410.9L1100.8 426.6L1114.1 442.6L1127.3 458.7L1140.5 475L1153.8 491.4L1167 507.8L1180.2 524.2L1193.4 540.6L1206.7 556.9L1219.9 573.1L1233.1 589L1246.3 604.8L1259.6 620.2L1272.8 635.4L1286.1 650.3L1299.4 664.8L1312.7 679M907.4 1085.3L915.4 1075.5L923.4 1065.6L931.3 1055.7L939.2 1045.7L947.1 1035.7L954.9 1025.6L962.8 1015.4L970.6 1005.1L978.4 994.8L986.2 984.4L993.9 973.9L1001.6 963.4L1009.4 952.7L1017 942L1024.7 931.2L1032.4 920.2L1040 909.2L1047.6 898.1L1055.2 886.9L1062.8 875.6L1070.4 864.2L1077.9 852.7L1085.5 841.1L1093 829.4L1100.5 817.6L1108 805.7L1115.5 793.7L1122.9 781.6L1130.4 769.3L1137.8 757L1145.2 744.6L1152.6 732.1L1160 719.5L1167.3 706.8L1174.7 694L1182.1 681.1L1189.4 668.2L1196.7 655.1L1204 642L1211.3 628.9L1218.6 615.6L1225.8 602.4L1233.1 589L1240.3 575.6L1247.6 562.2L1254.8 548.8L1262 535.4L1269.2 521.9L1276.4 508.4M673.6 94.6L686.6 99.6L699.5 104.8L712.5 110.2L725.5 115.8L738.5 121.5L751.6 127.5L764.6 133.6L777.7 140L790.8 146.6L803.9 153.5L817.1 160.7L830.2 168.2L843.4 175.9L856.5 184L869.7 192.5L882.9 201.3L896.2 210.5L909.4 220L922.6 230L935.9 240.4L949.1 251.2L962.4 262.4L975.6 274.1L988.9 286.2L1002.2 298.7L1015.4 311.7L1028.7 325.1L1042 338.9L1055.2 353.1L1068.5 367.7L1081.7 382.7L1095 397.9L1108.2 413.5L1121.4 429.3L1134.7 445.3L1147.9 461.5L1161.1 477.8L1174.3 494.2L1187.5 510.6L1200.7 527L1213.9 543.4L1227.1 559.6L1240.3 575.6L1253.6 591.5L1266.8 607.1L1280 622.5L1293.3 637.5L1306.5 652.2L1319.8 666.5M921.5 1093.2L929.4 1083.5L937.4 1073.8L945.3 1064L953.2 1054.2L961 1044.3L968.9 1034.3L976.7 1024.3L984.5 1014.2L992.3 1004L1000 993.8L1007.8 983.5L1015.5 973.1L1023.2 962.6L1030.8 952.1L1038.5 941.4L1046.1 930.7L1053.8 919.9L1061.4 909L1068.9 898L1076.5 886.9L1084.1 875.7L1091.6 864.4L1099.1 853.1L1106.6 841.6L1114.1 830L1121.5 818.3L1129 806.5L1136.4 794.6L1143.9 782.6L1151.3 770.5L1158.7 758.3L1166 746L1173.4 733.6L1180.8 721.1L1188.1 708.5L1195.4 695.8L1202.7 683L1210 670.1L1217.3 657.2L1224.6 644.2L1231.9 631.1L1239.1 618L1246.3 604.8L1253.6 591.5L1260.8 578.2L1268 564.9L1275.2 551.5L1282.3 538.1L1289.5 524.6M681.4 87.9L694.3 92.9L707.3 98L720.2 103.3L733.2 108.7L746.2 114.3L759.3 120.2L772.3 126.2L785.4 132.4L798.5 138.9L811.6 145.6L824.7 152.7L837.8 159.9L851 167.5L864.1 175.4L877.3 183.7L890.5 192.3L903.7 201.2L916.9 210.5L930.2 220.3L943.4 230.4L956.6 241L969.9 251.9L983.1 263.3L996.4 275.2L1009.6 287.5L1022.9 300.2L1036.1 313.3L1049.4 326.9L1062.6 340.9L1075.9 355.3L1089.1 370L1102.3 385.1L1115.6 400.5L1128.8 416.1L1142 432L1155.2 448.1L1168.4 464.3L1181.6 480.7L1194.8 497.1L1208 513.5L1221.2 529.8L1234.4 546.1L1247.6 562.2L1260.8 578.2L1274 593.9L1287.2 609.4L1300.4 624.6L1313.6 639.5L1326.9 654M935.5 1100.9L943.5 1091.3L951.4 1081.7L959.3 1072L967.1 1062.3L975 1052.6L982.8 1042.7L990.6 1032.8L998.4 1022.9L1006.2 1012.9L1013.9 1002.8L1021.6 992.7L1029.3 982.5L1037 972.2L1044.7 961.8L1052.3 951.4L1059.9 940.8L1067.5 930.2L1075.1 919.5L1082.7 908.7L1090.2 897.8L1097.7 886.8L1105.2 875.8L1112.7 864.6L1120.2 853.3L1127.7 841.9L1135.1 830.5L1142.6 818.9L1150 807.2L1157.4 795.4L1164.8 783.5L1172.1 771.5L1179.5 759.4L1186.8 747.2L1194.2 734.9L1201.5 722.6L1208.8 710.1L1216.1 697.5L1223.4 684.8L1230.6 672.1L1237.9 659.2L1245.1 646.3L1252.4 633.3L1259.6 620.2L1266.8 607.1L1274 593.9L1281.2 580.7L1288.3 567.4L1295.5 554.1L1302.6 540.7M689.2 81.3L702.1 86.2L715 91.2L728 96.4L740.9 101.7L753.9 107.2L766.9 112.9L780 118.8L793 124.9L806.1 131.3L819.2 137.9L832.3 144.7L845.4 151.8L858.5 159.2L871.7 167L884.9 175L898 183.4L911.2 192.1L924.4 201.2L937.7 210.7L950.9 220.6L964.1 230.9L977.3 241.6L990.6 252.8L1003.8 264.4L1017.1 276.4L1030.3 288.9L1043.5 301.8L1056.8 315.1L1070 328.8L1083.3 343L1096.5 357.5L1109.7 372.4L1122.9 387.6L1136.1 403.1L1149.3 418.8L1162.5 434.8L1175.7 450.9L1188.9 467.2L1202.1 483.5L1215.3 499.9L1228.4 516.3L1241.6 532.6L1254.8 548.8L1268 564.9L1281.2 580.7L1294.3 596.3L1307.5 611.7L1320.8 626.7L1334 641.4M949.6 1108.3L957.5 1098.9L965.4 1089.4L973.3 1079.8L981.2 1070.2L989 1060.6L996.8 1050.9L1004.6 1041.2L1012.3 1031.3L1020.1 1021.5L1027.8 1011.6L1035.5 1001.6L1043.2 991.5L1050.8 981.4L1058.5 971.2L1066.1 960.9L1073.7 950.6L1081.3 940.1L1088.8 929.6L1096.4 919L1103.9 908.3L1111.4 897.5L1118.9 886.7L1126.4 875.7L1133.9 864.6L1141.3 853.5L1148.7 842.2L1156.1 830.8L1163.5 819.4L1170.9 807.8L1178.3 796.1L1185.6 784.4L1193 772.5L1200.3 760.5L1207.6 748.4L1214.9 736.3L1222.2 724L1229.5 711.6L1236.7 699.1L1244 686.6L1251.2 673.9L1258.4 661.2L1265.6 648.3L1272.8 635.4L1280 622.5L1287.2 609.4L1294.3 596.3L1301.5 583.1L1308.6 569.9L1315.8 556.7M696.9 74.7L709.8 79.5L722.7 84.5L735.7 89.5L748.6 94.8L761.6 100.2L774.6 105.8L787.6 111.6L800.7 117.5L813.7 123.7L826.8 130.2L839.9 136.9L853 143.8L866.1 151.1L879.2 158.6L892.4 166.4L905.6 174.6L918.7 183.1L931.9 192L945.1 201.3L958.3 210.9L971.6 221L984.8 231.5L998 242.4L1011.2 253.7L1024.5 265.5L1037.7 277.7L1050.9 290.3L1064.2 303.4L1077.4 316.9L1090.6 330.8L1103.8 345.1L1117 359.8L1130.2 374.8L1143.4 390.1L1156.6 405.7L1169.8 421.5L1183 437.6L1196.2 453.7L1209.3 470L1222.5 486.4L1235.7 502.8L1248.8 519.1L1262 535.4L1275.2 551.5L1288.3 567.4L1301.5 583.1L1314.7 598.6L1327.9 613.8L1341.1 628.7M963.7 1115.6L971.6 1106.2L979.5 1096.8L987.4 1087.4L995.2 1077.9L1003 1068.4L1010.8 1058.8L1018.6 1049.2L1026.3 1039.5L1034 1029.8L1041.7 1020L1049.4 1010.2L1057.1 1000.3L1064.7 990.3L1072.3 980.3L1079.9 970.2L1087.5 960L1095.1 949.7L1102.6 939.4L1110.2 929L1117.7 918.5L1125.2 907.9L1132.6 897.2L1140.1 886.4L1147.5 875.6L1154.9 864.6L1162.3 853.6L1169.7 842.4L1177.1 831.2L1184.5 819.8L1191.8 808.4L1199.1 796.8L1206.5 785.1L1213.8 773.4L1221.1 761.5L1228.3 749.5L1235.6 737.5L1242.8 725.3L1250.1 713L1257.3 700.7L1264.5 688.2L1271.7 675.7L1278.9 663L1286.1 650.3L1293.3 637.5L1300.4 624.6L1307.5 611.7L1314.7 598.6L1321.8 585.5L1328.9 572.4M704.6 68.2L717.5 72.9L730.4 77.8L743.3 82.8L756.3 87.9L769.2 93.2L782.2 98.7L795.2 104.4L808.3 110.2L821.3 116.3L834.4 122.6L847.4 129.1L860.5 135.9L873.6 143L886.8 150.4L899.9 158L913.1 166L926.2 174.3L939.4 183L952.6 192L965.8 201.4L979 211.3L992.2 221.5L1005.4 232.1L1018.6 243.2L1031.9 254.7L1045.1 266.7L1058.3 279.1L1071.5 291.9L1084.7 305.1L1098 318.8L1111.2 332.9L1124.4 347.3L1137.6 362.1L1150.7 377.2L1163.9 392.7L1177.1 408.4L1190.3 424.3L1203.4 440.4L1216.6 456.6L1229.7 472.9L1242.9 489.3L1256 505.6L1269.2 521.9L1282.3 538.1L1295.5 554.1L1308.6 569.9L1321.8 585.5L1335 600.9L1348.1 615.9M977.8 1122.6L985.7 1113.4L993.6 1104.1L1001.4 1094.7L1009.2 1085.3L1017 1075.9L1024.8 1066.5L1032.6 1057L1040.3 1047.4L1048 1037.8L1055.7 1028.2L1063.3 1018.5L1071 1008.7L1078.6 998.9L1086.2 989L1093.8 979.1L1101.4 969.1L1108.9 959L1116.4 948.8L1123.9 938.6L1131.4 928.2L1138.9 917.8L1146.3 907.3L1153.8 896.8L1161.2 886.1L1168.6 875.4L1176 864.5L1183.4 853.6L1190.7 842.5L1198 831.4L1205.4 820.1L1212.7 808.8L1220 797.4L1227.3 785.8L1234.5 774.2L1241.8 762.4L1249 750.6L1256.3 738.6L1263.5 726.6L1270.7 714.4L1277.9 702.2L1285 689.8L1292.2 677.4L1299.4 664.8L1306.5 652.2L1313.6 639.5L1320.8 626.7L1327.9 613.8L1335 600.9L1342.1 587.9M712.3 61.8L725.2 66.4L738.1 71.2L751 76.1L763.9 81.1L776.9 86.4L789.8 91.7L802.8 97.3L815.8 103L828.9 108.9L841.9 115.1L855 121.5L868.1 128.1L881.2 135L894.3 142.2L907.4 149.7L920.5 157.5L933.7 165.6L946.9 174.1L960 182.9L973.2 192.1L986.4 201.7L999.6 211.7L1012.8 222.1L1026 232.9L1039.2 244.1L1052.4 255.8L1065.7 268L1078.9 280.5L1092.1 293.5L1105.3 306.9L1118.5 320.8L1131.7 335L1144.9 349.6L1158 364.5L1171.2 379.8L1184.4 395.3L1197.5 411.1L1210.7 427.1L1223.8 443.2L1237 459.5L1250.1 475.8L1263.2 492.1L1276.4 508.4L1289.5 524.6L1302.6 540.7L1315.8 556.7L1328.9 572.4L1342.1 587.9L1355.2 603.1M992 1129.5L999.8 1120.3L1007.7 1111.1L1015.5 1101.9L1023.3 1092.6L1031.1 1083.3L1038.8 1073.9L1046.6 1064.5L1054.3 1055.1L1062 1045.6L1069.6 1036.1L1077.3 1026.5L1084.9 1016.9L1092.5 1007.2L1100.1 997.5L1107.7 987.7L1115.2 977.8L1122.7 967.9L1130.2 957.9L1137.7 947.8L1145.2 937.7L1152.7 927.4L1160.1 917.1L1167.5 906.8L1174.9 896.3L1182.3 885.7L1189.6 875.1L1197 864.3L1204.3 853.5L1211.6 842.6L1218.9 831.5L1226.2 820.4L1233.5 809.2L1240.8 797.9L1248 786.4L1255.2 774.9L1262.5 763.3L1269.7 751.5L1276.9 739.7L1284 727.7L1291.2 715.7L1298.4 703.5L1305.5 691.3L1312.7 679L1319.8 666.5L1326.9 654L1334 641.4L1341.1 628.7L1348.1 615.9L1355.2 603.1" fill="none" stroke="#fff" stroke-opacity="0.14" stroke-width="1.8" stroke-dasharray="2.2 2"/>
<path d="M251.6 936.9L1014.6 1186M301.7 948.6L290 958.5M430 990.5L418.5 1000.6M560.6 1033.1L549.3 1043.4M693.6 1076.5L682.5 1087M829.1 1120.7L818.2 1131.4M967.2 1165.8L956.4 1176.6M1419.9 770.1L1014.6 1186M1036.2 1155.2L1055.5 1161.4M1111.6 1078L1130.6 1084.1M1184.5 1003.3L1203.3 1009.2M1255.2 930.9L1273.8 936.6M1323.7 860.7L1342.1 866.2M1390.2 792.6L1408.4 798M1419.9 770.1L1445.6 209.2M1418.3 670.9L1436.6 676.1M1423.4 557.2L1441.9 562.3M1428.7 441.5L1447.3 446.5M1434 323.6L1452.8 328.5" fill="none" stroke="#000" stroke-width="3" stroke-linecap="square"/>
<g font-size="35.0" fill="#000" text-anchor="middle"><text x="276.6" y="1024.8">30</text><text x="405" y="1067.3">40</text><text x="535.8" y="1110.6">50</text><text x="669" y="1154.7">60</text><text x="804.7" y="1199.6">70</text><text x="942.9" y="1245.4">80</text><text transform="translate(577.5 1161.6) rotate(-341.91)" y="10.1">Age (years)</text><text x="1080.5" y="1224.8">1</text><text x="1155.1" y="1146.7">2</text><text x="1227.3" y="1071.2">3</text><text x="1297.2" y="998">4</text><text x="1365.1" y="927.1">5</text><text x="1430.8" y="858.2">6</text><text transform="translate(1303.4 1050.7) rotate(-45.74)" y="10.1">Lactate (mmol/L)</text><text x="1476.8" y="694">0.2</text><text x="1482.6" y="580.4">0.4</text><text x="1488.5" y="464.8">0.6</text><text x="1494.5" y="347">0.8</text><text transform="translate(1551.7 485.5) rotate(-87.38)" y="10.1">Probability</text></g>
<rect x="1609.2" y="186.8" width="81.2" height="813.8" fill="url(#vg)" stroke="#0a0a0a" stroke-width="2.6"/>
<path d="M1690.4 866.9h-10M1690.4 690.8h-10M1690.4 514.6h-10M1690.4 338.4h-10" stroke="#0a0a0a" stroke-width="2.6" fill="none"/>
<g font-size="35.0" fill="#000"><text x="1701" y="879.7">0.2</text><text x="1701" y="703.5">0.4</text><text x="1701" y="527.4">0.6</text><text x="1701" y="351.2">0.8</text></g>
<text transform="translate(1794 595.5) rotate(-90)" font-size="35.0" fill="#000" text-anchor="middle">ECMO Probability</text>
</g>
<g id="panelB">
<path d="M224.6 2262.6V1316.3M540 2262.6V1316.3M855.4 2262.6V1316.3M1170.8 2262.6V1316.3M1486.2 2262.6V1316.3M1801.6 2262.6V1316.3M145.8 2262.6H1893M145.8 2074.3H1893M145.8 1886.1H1893M145.8 1697.8H1893M145.8 1509.6H1893M145.8 1321.3H1893" fill="none" stroke="#dedede" stroke-width="2.4" stroke-dasharray="3.7 4.6"/>
<path d="M224.6 1533.7L240.4 1540.8L256.1 1548.1L271.9 1555.6L287.7 1563.2L303.4 1571L319.2 1578.9L335 1587L350.8 1595.3L366.5 1603.7L382.3 1612.2L398.1 1620.9L413.8 1629.7L429.6 1638.7L445.4 1647.8L461.1 1656.9L476.9 1666.3L492.7 1675.7L508.5 1685.2L524.2 1694.8L540 1704.5L555.8 1714.3L571.5 1724.1L587.3 1734L603.1 1744L618.9 1754L634.6 1764L650.4 1774.1L666.2 1784.1L681.9 1794.2L697.7 1804.3L713.5 1814.4L729.2 1824.4L745 1834.4L760.8 1844.4L776.5 1854.4L792.3 1864.2L808.1 1874L823.9 1883.8L839.6 1893.4L855.4 1903L871.2 1912.5L886.9 1921.9L902.7 1931.1L918.5 1940.3L934.2 1949.3L950 1958.2L965.8 1966.9L981.6 1975.5L997.3 1984L1013.1 1992.4L1028.9 2000.5L1044.6 2008.6L1060.4 2016.4L1076.2 2024.1L1092 2031.7L1107.7 2039.1L1123.5 2046.3L1139.3 2053.3L1155 2060.2L1170.8 2067L1186.6 2073.5L1202.3 2079.9L1218.1 2086.1L1233.9 2092.2L1249.6 2098.1L1265.4 2103.8L1281.2 2109.4L1297 2114.8L1312.7 2120.1L1328.5 2125.2L1344.3 2130.1L1360 2134.9L1375.8 2139.6L1391.6 2144.1L1407.3 2148.5L1423.1 2152.7L1438.9 2156.8L1454.7 2160.8L1470.4 2164.6L1486.2 2168.3L1502 2171.9L1517.7 2175.3L1533.5 2178.6L1549.3 2181.9L1565 2185L1580.8 2188L1596.6 2190.9L1612.4 2193.6L1628.1 2196.3L1643.9 2198.9L1659.7 2201.4L1675.4 2203.8L1691.2 2206.1L1707 2208.4L1722.7 2210.5L1738.5 2212.6L1754.3 2214.6L1770.1 2216.5L1785.8 2218.3L1801.6 2220.1" fill="none" stroke="#FFB116" stroke-width="3.5" stroke-linejoin="round"/>
<path d="M224.6 1465.4L240.4 1470.7L256.1 1476.1L271.9 1481.7L287.7 1487.5L303.4 1493.5L319.2 1499.6L335 1505.9L350.8 1512.3L366.5 1518.9L382.3 1525.7L398.1 1532.6L413.8 1539.7L429.6 1547L445.4 1554.4L461.1 1562L476.9 1569.8L492.7 1577.7L508.5 1585.8L524.2 1594L540 1602.4L555.8 1610.9L571.5 1619.5L587.3 1628.3L603.1 1637.3L618.9 1646.3L634.6 1655.5L650.4 1664.8L666.2 1674.2L681.9 1683.7L697.7 1693.3L713.5 1703L729.2 1712.7L745 1722.6L760.8 1732.5L776.5 1742.4L792.3 1752.4L808.1 1762.4L823.9 1772.5L839.6 1782.6L855.4 1792.7L871.2 1802.7L886.9 1812.8L902.7 1822.9L918.5 1832.9L934.2 1842.9L950 1852.8L965.8 1862.7L981.6 1872.5L997.3 1882.3L1013.1 1891.9L1028.9 1901.5L1044.6 1911L1060.4 1920.4L1076.2 1929.7L1092 1938.8L1107.7 1947.9L1123.5 1956.8L1139.3 1965.6L1155 1974.2L1170.8 1982.7L1186.6 1991.1L1202.3 1999.3L1218.1 2007.3L1233.9 2015.2L1249.6 2022.9L1265.4 2030.5L1281.2 2037.9L1297 2045.2L1312.7 2052.3L1328.5 2059.2L1344.3 2065.9L1360 2072.5L1375.8 2078.9L1391.6 2085.2L1407.3 2091.3L1423.1 2097.2L1438.9 2103L1454.7 2108.6L1470.4 2114L1486.2 2119.3L1502 2124.4L1517.7 2129.4L1533.5 2134.2L1549.3 2138.9L1565 2143.4L1580.8 2147.8L1596.6 2152.1L1612.4 2156.2L1628.1 2160.1L1643.9 2164L1659.7 2167.7L1675.4 2171.3L1691.2 2174.8L1707 2178.1L1722.7 2181.4L1738.5 2184.5L1754.3 2187.5L1770.1 2190.4L1785.8 2193.2L1801.6 2195.9" fill="none" stroke="#F3702A" stroke-width="3.5" stroke-linejoin="round"/>
<path d="M224.6 1416.1L240.4 1419.8L256.1 1423.7L271.9 1427.7L287.7 1431.8L303.4 1436L319.2 1440.4L335 1444.9L350.8 1449.6L366.5 1454.4L382.3 1459.4L398.1 1464.5L413.8 1469.8L429.6 1475.3L445.4 1480.9L461.1 1486.6L476.9 1492.5L492.7 1498.6L508.5 1504.9L524.2 1511.3L540 1517.9L555.8 1524.6L571.5 1531.5L587.3 1538.6L603.1 1545.9L618.9 1553.3L634.6 1560.8L650.4 1568.6L666.2 1576.5L681.9 1584.5L697.7 1592.7L713.5 1601.1L729.2 1609.6L745 1618.2L760.8 1627L776.5 1635.9L792.3 1644.9L808.1 1654.1L823.9 1663.4L839.6 1672.7L855.4 1682.2L871.2 1691.8L886.9 1701.5L902.7 1711.2L918.5 1721L934.2 1730.9L950 1740.9L965.8 1750.9L981.6 1760.9L997.3 1770.9L1013.1 1781L1028.9 1791.1L1044.6 1801.2L1060.4 1811.2L1076.2 1821.3L1092 1831.3L1107.7 1841.3L1123.5 1851.3L1139.3 1861.2L1155 1871L1170.8 1880.8L1186.6 1890.5L1202.3 1900L1218.1 1909.6L1233.9 1919L1249.6 1928.2L1265.4 1937.4L1281.2 1946.5L1297 1955.4L1312.7 1964.2L1328.5 1972.9L1344.3 1981.4L1360 1989.8L1375.8 1998L1391.6 2006.1L1407.3 2014L1423.1 2021.8L1438.9 2029.4L1454.7 2036.8L1470.4 2044.1L1486.2 2051.2L1502 2058.1L1517.7 2064.9L1533.5 2071.5L1549.3 2077.9L1565 2084.2L1580.8 2090.3L1596.6 2096.3L1612.4 2102.1L1628.1 2107.7L1643.9 2113.2L1659.7 2118.5L1675.4 2123.6L1691.2 2128.6L1707 2133.5L1722.7 2138.2L1738.5 2142.7L1754.3 2147.1L1770.1 2151.4L1785.8 2155.5L1801.6 2159.5" fill="none" stroke="#F5365A" stroke-width="3.5" stroke-linejoin="round"/>
<path d="M224.6 1382.4L240.4 1384.9L256.1 1387.5L271.9 1390.2L287.7 1393L303.4 1395.9L319.2 1398.9L335 1402L350.8 1405.2L366.5 1408.5L382.3 1412L398.1 1415.6L413.8 1419.3L429.6 1423.1L445.4 1427L461.1 1431.1L476.9 1435.4L492.7 1439.7L508.5 1444.2L524.2 1448.9L540 1453.7L555.8 1458.6L571.5 1463.7L587.3 1469L603.1 1474.4L618.9 1480L634.6 1485.7L650.4 1491.6L666.2 1497.7L681.9 1503.9L697.7 1510.3L713.5 1516.8L729.2 1523.6L745 1530.4L760.8 1537.5L776.5 1544.7L792.3 1552.1L808.1 1559.6L823.9 1567.4L839.6 1575.2L855.4 1583.2L871.2 1591.4L886.9 1599.8L902.7 1608.2L918.5 1616.8L934.2 1625.6L950 1634.5L965.8 1643.5L981.6 1652.7L997.3 1661.9L1013.1 1671.3L1028.9 1680.7L1044.6 1690.3L1060.4 1700L1076.2 1709.7L1092 1719.5L1107.7 1729.4L1123.5 1739.3L1139.3 1749.3L1155 1759.3L1170.8 1769.4L1186.6 1779.4L1202.3 1789.5L1218.1 1799.6L1233.9 1809.7L1249.6 1819.7L1265.4 1829.8L1281.2 1839.8L1297 1849.7L1312.7 1859.6L1328.5 1869.5L1344.3 1879.3L1360 1889L1375.8 1898.6L1391.6 1908.1L1407.3 1917.5L1423.1 1926.8L1438.9 1936L1454.7 1945.1L1470.4 1954L1486.2 1962.9L1502 1971.5L1517.7 1980.1L1533.5 1988.5L1549.3 1996.7L1565 2004.8L1580.8 2012.8L1596.6 2020.6L1612.4 2028.2L1628.1 2035.7L1643.9 2042.9L1659.7 2050.1L1675.4 2057L1691.2 2063.9L1707 2070.5L1722.7 2077L1738.5 2083.3L1754.3 2089.4L1770.1 2095.4L1785.8 2101.2L1801.6 2106.8" fill="none" stroke="#FB54C4" stroke-width="3.5" stroke-linejoin="round"/>
<path d="M224.6 1360.2L240.4 1361.8L256.1 1363.5L271.9 1365.2L287.7 1367.1L303.4 1369L319.2 1371L335 1373L350.8 1375.1L366.5 1377.4L382.3 1379.7L398.1 1382.1L413.8 1384.5L429.6 1387.1L445.4 1389.8L461.1 1392.6L476.9 1395.4L492.7 1398.4L508.5 1401.5L524.2 1404.7L540 1408L555.8 1411.4L571.5 1415L587.3 1418.7L603.1 1422.5L618.9 1426.4L634.6 1430.5L650.4 1434.7L666.2 1439L681.9 1443.5L697.7 1448.2L713.5 1452.9L729.2 1457.9L745 1462.9L760.8 1468.2L776.5 1473.6L792.3 1479.1L808.1 1484.8L823.9 1490.7L839.6 1496.7L855.4 1502.9L871.2 1509.3L886.9 1515.8L902.7 1522.5L918.5 1529.4L934.2 1536.4L950 1543.6L965.8 1550.9L981.6 1558.5L997.3 1566.2L1013.1 1574L1028.9 1582L1044.6 1590.1L1060.4 1598.4L1076.2 1606.9L1092 1615.5L1107.7 1624.2L1123.5 1633.1L1139.3 1642.1L1155 1651.2L1170.8 1660.5L1186.6 1669.8L1202.3 1679.3L1218.1 1688.8L1233.9 1698.5L1249.6 1708.2L1265.4 1718L1281.2 1727.9L1297 1737.8L1312.7 1747.8L1328.5 1757.8L1344.3 1767.8L1360 1777.9L1375.8 1788L1391.6 1798L1407.3 1808.1L1423.1 1818.2L1438.9 1828.2L1454.7 1838.2L1470.4 1848.2L1486.2 1858.1L1502 1868L1517.7 1877.7L1533.5 1887.5L1549.3 1897.1L1565 1906.6L1580.8 1916L1596.6 1925.4L1612.4 1934.6L1628.1 1943.7L1643.9 1952.7L1659.7 1961.5L1675.4 1970.2L1691.2 1978.8L1707 1987.2L1722.7 1995.5L1738.5 2003.6L1754.3 2011.6L1770.1 2019.4L1785.8 2027L1801.6 2034.5" fill="none" stroke="#29B6FC" stroke-width="3.5" stroke-linejoin="round"/>
<path d="M145.8 1315.8V2263.4H1893M224.6 2262.6v-9M540 2262.6v-9M855.4 2262.6v-9M1170.8 2262.6v-9M1486.2 2262.6v-9M1801.6 2262.6v-9M145.8 2262.6h9M145.8 2074.3h9M145.8 1886.1h9M145.8 1697.8h9M145.8 1509.6h9M145.8 1321.3h9" fill="none" stroke="#383838" stroke-width="3"/>
<g font-size="31.7" fill="#222"><text x="224.6" y="2297.6" text-anchor="middle">30</text><text x="540" y="2297.6" text-anchor="middle">40</text><text x="855.4" y="2297.6" text-anchor="middle">50</text><text x="1170.8" y="2297.6" text-anchor="middle">60</text><text x="1486.2" y="2297.6" text-anchor="middle">70</text><text x="1801.6" y="2297.6" text-anchor="middle">80</text><text x="136" y="2274.3" text-anchor="end">0.0</text><text x="136" y="2086" text-anchor="end">0.2</text><text x="136" y="1897.8" text-anchor="end">0.4</text><text x="136" y="1709.5" text-anchor="end">0.6</text><text x="136" y="1521.3" text-anchor="end">0.8</text><text x="136" y="1333" text-anchor="end">1.0</text><text x="1014" y="2338.7" text-anchor="middle">Age (years)</text><text transform="translate(68 1791.5) rotate(-90)" text-anchor="middle">Probability of ECMO</text></g>
<rect x="1519.8" y="1331.2" width="347.6" height="244.2" rx="5" fill="#fff" fill-opacity="0.8" stroke="#d0d0d0" stroke-width="2"/>
<path d="M1526.8 1392.4H1582.8" stroke="#FFB116" stroke-width="3.9"/>
<path d="M1526.8 1431.8H1582.8" stroke="#F3702A" stroke-width="3.9"/>
<path d="M1526.8 1471.2H1582.8" stroke="#F5365A" stroke-width="3.9"/>
<path d="M1526.8 1510.6H1582.8" stroke="#FB54C4" stroke-width="3.9"/>
<path d="M1526.8 1550H1582.8" stroke="#29B6FC" stroke-width="3.9"/>
<g font-size="26.4" fill="#222"><text x="1693" y="1362.5" text-anchor="middle">Lactate</text><text x="1602.2" y="1402">Lactate 1.0 mmol/L</text><text x="1602.2" y="1441.4">Lactate 2.0 mmol/L</text><text x="1602.2" y="1480.8">Lactate 3.0 mmol/L</text><text x="1602.2" y="1520.2">Lactate 4.0 mmol/L</text><text x="1602.2" y="1559.6">Lactate 5.0 mmol/L</text></g>
</g>
</g>
<g id="labels">
<rect x="8.6" y="0.9" width="101.4" height="113" fill="#fff" stroke="#000" stroke-width="1.8"/>
<text transform="translate(56.8 76.2) scale(1.1 1)" font-family="'Liberation Sans',sans-serif" font-size="71.6" text-anchor="middle" fill="#000">A</text>
<rect x="-2" y="1356.6" width="104.8" height="110.8" fill="#fff"/>
<path d="M0 1356.6H103M0 1467.4H103" stroke="#777" stroke-width="3" fill="none"/>
<path d="M0.8 1355V1469M102.8 1355V1469" stroke="#000" stroke-width="1.8" fill="none"/>
<text transform="translate(49 1431) scale(0.95 1)" font-family="'Liberation Sans',sans-serif" font-size="71.6" text-anchor="middle" fill="#000">B</text>
</g>
</svg>
</body></html>
